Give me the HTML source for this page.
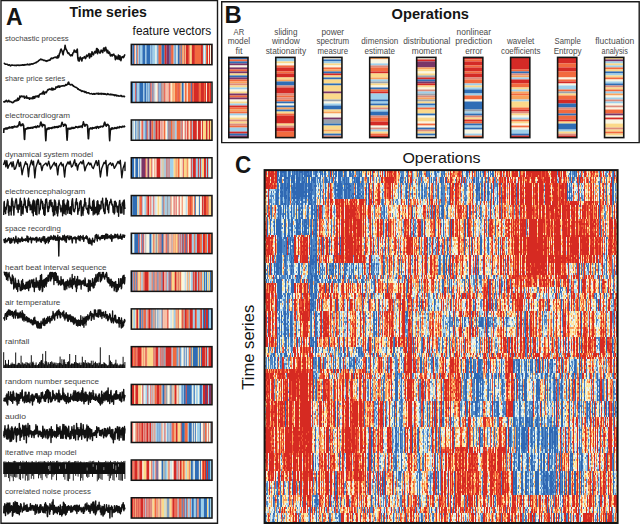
<!DOCTYPE html>
<html><head><meta charset="utf-8"><style>
html,body{margin:0;padding:0;background:#fff;width:640px;height:524px;overflow:hidden}
svg{display:block;font-family:"Liberation Sans", sans-serif}
</style></head><body>
<svg width="640" height="524" viewBox="0 0 640 524">
<rect x="0" y="0" width="640" height="524" fill="#fff"/><path d="M1 0.5H217.5V523.2H1Z" fill="none" stroke="#1a1a1a" stroke-width="1.4"/><path d="M221.7 1.8H639.2V142.6H221.7Z" fill="none" stroke="#1a1a1a" stroke-width="1.4"/><text x="6.0" y="24.8" font-size="24.2" font-weight="bold" fill="#151515" text-anchor="start" textLength="16.6" lengthAdjust="spacingAndGlyphs">A</text><text x="69.5" y="16.9" font-size="14.6" font-weight="bold" fill="#151515" text-anchor="start" textLength="77.4" lengthAdjust="spacingAndGlyphs">Time series</text><text x="132.6" y="34.8" font-size="12.2" font-weight="normal" fill="#151515" text-anchor="start" textLength="78.6" lengthAdjust="spacingAndGlyphs">feature vectors</text><text x="5.0" y="40.75" font-size="7.6" font-weight="normal" fill="#444444" text-anchor="start" textLength="63.75" lengthAdjust="spacingAndGlyphs">stochastic process</text><text x="5.0" y="81.2" font-size="7.6" font-weight="normal" fill="#444444" text-anchor="start" textLength="60.3" lengthAdjust="spacingAndGlyphs">share price series</text><text x="5.0" y="117.6" font-size="7.6" font-weight="normal" fill="#444444" text-anchor="start" textLength="65" lengthAdjust="spacingAndGlyphs">electrocardiogram</text><text x="5.0" y="157.4" font-size="7.6" font-weight="normal" fill="#444444" text-anchor="start" textLength="88" lengthAdjust="spacingAndGlyphs">dynamical system model</text><text x="5.0" y="193.8" font-size="7.6" font-weight="normal" fill="#444444" text-anchor="start" textLength="80.2" lengthAdjust="spacingAndGlyphs">electroencephalogram</text><text x="5.0" y="230.8" font-size="7.6" font-weight="normal" fill="#444444" text-anchor="start" textLength="55.8" lengthAdjust="spacingAndGlyphs">space recording</text><text x="5.0" y="269.6" font-size="7.6" font-weight="normal" fill="#444444" text-anchor="start" textLength="101.5" lengthAdjust="spacingAndGlyphs">heart beat interval sequence</text><text x="5.0" y="304.8" font-size="7.6" font-weight="normal" fill="#444444" text-anchor="start" textLength="55.4" lengthAdjust="spacingAndGlyphs">air temperature</text><text x="5.0" y="344.2" font-size="7.6" font-weight="normal" fill="#444444" text-anchor="start" textLength="24.4" lengthAdjust="spacingAndGlyphs">rainfall</text><text x="5.0" y="383.8" font-size="7.6" font-weight="normal" fill="#444444" text-anchor="start" textLength="94" lengthAdjust="spacingAndGlyphs">random number sequence</text><text x="5.0" y="419.3" font-size="7.6" font-weight="normal" fill="#444444" text-anchor="start" textLength="20.9" lengthAdjust="spacingAndGlyphs">audio</text><text x="5.0" y="455.3" font-size="7.6" font-weight="normal" fill="#444444" text-anchor="start" textLength="71.7" lengthAdjust="spacingAndGlyphs">iterative map model</text><text x="5.0" y="493.7" font-size="7.6" font-weight="normal" fill="#444444" text-anchor="start" textLength="85.9" lengthAdjust="spacingAndGlyphs">correlated noise process</text><rect x="131.30" y="44.40" width="1.06" height="20.30" fill="#f26a3e"/><rect x="132.31" y="44.40" width="2.07" height="20.30" fill="#2f6db5"/><rect x="134.33" y="44.40" width="1.06" height="20.30" fill="#f26a3e"/><rect x="135.34" y="44.40" width="1.06" height="20.30" fill="#faf6e2"/><rect x="136.34" y="44.40" width="1.06" height="20.30" fill="#2f6db5"/><rect x="137.35" y="44.40" width="1.06" height="20.30" fill="#f26a3e"/><rect x="138.36" y="44.40" width="1.06" height="20.30" fill="#9fd0ea"/><rect x="139.37" y="44.40" width="1.06" height="20.30" fill="#2f6db5"/><rect x="140.38" y="44.40" width="2.07" height="20.30" fill="#9fd0ea"/><rect x="142.40" y="44.40" width="3.08" height="20.30" fill="#2f6db5"/><rect x="145.42" y="44.40" width="1.06" height="20.30" fill="#9fd0ea"/><rect x="146.43" y="44.40" width="4.08" height="20.30" fill="#2f6db5"/><rect x="150.47" y="44.40" width="1.06" height="20.30" fill="#9fd0ea"/><rect x="151.47" y="44.40" width="1.06" height="20.30" fill="#2f6db5"/><rect x="152.48" y="44.40" width="3.08" height="20.30" fill="#9fd0ea"/><rect x="155.51" y="44.40" width="1.06" height="20.30" fill="#faf6e2"/><rect x="156.52" y="44.40" width="1.06" height="20.30" fill="#9fd0ea"/><rect x="157.53" y="44.40" width="1.06" height="20.30" fill="#2f6db5"/><rect x="158.54" y="44.40" width="3.08" height="20.30" fill="#f26a3e"/><rect x="161.56" y="44.40" width="3.08" height="20.30" fill="#2f6db5"/><rect x="164.59" y="44.40" width="2.07" height="20.30" fill="#d42a26"/><rect x="166.61" y="44.40" width="3.08" height="20.30" fill="#7a3567"/><rect x="169.63" y="44.40" width="1.06" height="20.30" fill="#2f6db5"/><rect x="170.64" y="44.40" width="1.06" height="20.30" fill="#d42a26"/><rect x="171.65" y="44.40" width="2.07" height="20.30" fill="#f26a3e"/><rect x="173.67" y="44.40" width="1.06" height="20.30" fill="#9fd0ea"/><rect x="174.68" y="44.40" width="1.06" height="20.30" fill="#2f6db5"/><rect x="175.68" y="44.40" width="1.06" height="20.30" fill="#9fd0ea"/><rect x="176.69" y="44.40" width="1.06" height="20.30" fill="#faf6e2"/><rect x="177.70" y="44.40" width="2.07" height="20.30" fill="#2f6db5"/><rect x="179.72" y="44.40" width="1.06" height="20.30" fill="#f26a3e"/><rect x="180.73" y="44.40" width="1.06" height="20.30" fill="#2f6db5"/><rect x="181.74" y="44.40" width="1.06" height="20.30" fill="#f26a3e"/><rect x="182.75" y="44.40" width="1.06" height="20.30" fill="#fbd98a"/><rect x="183.75" y="44.40" width="1.06" height="20.30" fill="#d42a26"/><rect x="184.76" y="44.40" width="1.06" height="20.30" fill="#fbd98a"/><rect x="185.77" y="44.40" width="3.08" height="20.30" fill="#d42a26"/><rect x="188.80" y="44.40" width="1.06" height="20.30" fill="#f26a3e"/><rect x="189.81" y="44.40" width="2.07" height="20.30" fill="#fbd98a"/><rect x="191.82" y="44.40" width="3.08" height="20.30" fill="#d42a26"/><rect x="194.85" y="44.40" width="6.10" height="20.30" fill="#f26a3e"/><rect x="200.90" y="44.40" width="2.07" height="20.30" fill="#d42a26"/><rect x="202.92" y="44.40" width="1.06" height="20.30" fill="#9fd0ea"/><rect x="203.93" y="44.40" width="1.06" height="20.30" fill="#faf6e2"/><rect x="204.94" y="44.40" width="1.06" height="20.30" fill="#9fd0ea"/><rect x="205.95" y="44.40" width="1.06" height="20.30" fill="#f26a3e"/><rect x="206.96" y="44.40" width="1.06" height="20.30" fill="#d42a26"/><rect x="207.96" y="44.40" width="1.06" height="20.30" fill="#faf6e2"/><rect x="208.97" y="44.40" width="1.06" height="20.30" fill="#d42a26"/><rect x="209.98" y="44.40" width="1.06" height="20.30" fill="#faf6e2"/><rect x="210.99" y="44.40" width="1.06" height="20.30" fill="#d42a26"/><rect x="131.30" y="44.40" width="80.70" height="20.30" fill="none" stroke="#151515" stroke-width="1.5"/><rect x="131.30" y="82.18" width="2.07" height="20.30" fill="#2f6db5"/><rect x="133.32" y="82.18" width="2.07" height="20.30" fill="#9fd0ea"/><rect x="135.34" y="82.18" width="1.06" height="20.30" fill="#d42a26"/><rect x="136.34" y="82.18" width="1.06" height="20.30" fill="#2f6db5"/><rect x="137.35" y="82.18" width="2.07" height="20.30" fill="#9fd0ea"/><rect x="139.37" y="82.18" width="4.08" height="20.30" fill="#2f6db5"/><rect x="143.41" y="82.18" width="1.06" height="20.30" fill="#9fd0ea"/><rect x="144.41" y="82.18" width="2.07" height="20.30" fill="#2f6db5"/><rect x="146.43" y="82.18" width="1.06" height="20.30" fill="#9fd0ea"/><rect x="147.44" y="82.18" width="1.06" height="20.30" fill="#2f6db5"/><rect x="148.45" y="82.18" width="1.06" height="20.30" fill="#9fd0ea"/><rect x="149.46" y="82.18" width="1.06" height="20.30" fill="#2f6db5"/><rect x="150.47" y="82.18" width="1.06" height="20.30" fill="#d42a26"/><rect x="151.47" y="82.18" width="1.06" height="20.30" fill="#dd8c7c"/><rect x="152.48" y="82.18" width="1.06" height="20.30" fill="#2f6db5"/><rect x="153.49" y="82.18" width="1.06" height="20.30" fill="#dd8c7c"/><rect x="154.50" y="82.18" width="1.06" height="20.30" fill="#9fd0ea"/><rect x="155.51" y="82.18" width="2.07" height="20.30" fill="#faf6e2"/><rect x="157.53" y="82.18" width="1.06" height="20.30" fill="#dd8c7c"/><rect x="158.54" y="82.18" width="1.06" height="20.30" fill="#2f6db5"/><rect x="159.54" y="82.18" width="1.06" height="20.30" fill="#9fd0ea"/><rect x="160.55" y="82.18" width="1.06" height="20.30" fill="#2f6db5"/><rect x="161.56" y="82.18" width="1.06" height="20.30" fill="#f26a3e"/><rect x="162.57" y="82.18" width="1.06" height="20.30" fill="#9aa3ad"/><rect x="163.58" y="82.18" width="1.06" height="20.30" fill="#f26a3e"/><rect x="164.59" y="82.18" width="1.06" height="20.30" fill="#d42a26"/><rect x="165.60" y="82.18" width="1.06" height="20.30" fill="#faf6e2"/><rect x="166.61" y="82.18" width="1.06" height="20.30" fill="#f26a3e"/><rect x="167.61" y="82.18" width="1.06" height="20.30" fill="#faf6e2"/><rect x="168.62" y="82.18" width="1.06" height="20.30" fill="#d42a26"/><rect x="169.63" y="82.18" width="1.06" height="20.30" fill="#f26a3e"/><rect x="170.64" y="82.18" width="1.06" height="20.30" fill="#faf6e2"/><rect x="171.65" y="82.18" width="1.06" height="20.30" fill="#fbd98a"/><rect x="172.66" y="82.18" width="1.06" height="20.30" fill="#f26a3e"/><rect x="173.67" y="82.18" width="1.06" height="20.30" fill="#fbd98a"/><rect x="174.68" y="82.18" width="3.08" height="20.30" fill="#f26a3e"/><rect x="177.70" y="82.18" width="1.06" height="20.30" fill="#d42a26"/><rect x="178.71" y="82.18" width="2.07" height="20.30" fill="#f26a3e"/><rect x="180.73" y="82.18" width="1.06" height="20.30" fill="#fbd98a"/><rect x="181.74" y="82.18" width="2.07" height="20.30" fill="#2f6db5"/><rect x="183.75" y="82.18" width="1.06" height="20.30" fill="#faf6e2"/><rect x="184.76" y="82.18" width="2.07" height="20.30" fill="#f26a3e"/><rect x="186.78" y="82.18" width="1.06" height="20.30" fill="#faf6e2"/><rect x="187.79" y="82.18" width="3.08" height="20.30" fill="#f26a3e"/><rect x="190.82" y="82.18" width="1.06" height="20.30" fill="#2f6db5"/><rect x="191.82" y="82.18" width="1.06" height="20.30" fill="#d42a26"/><rect x="192.83" y="82.18" width="1.06" height="20.30" fill="#f26a3e"/><rect x="193.84" y="82.18" width="5.09" height="20.30" fill="#d42a26"/><rect x="198.89" y="82.18" width="2.07" height="20.30" fill="#f26a3e"/><rect x="200.90" y="82.18" width="3.08" height="20.30" fill="#d42a26"/><rect x="203.93" y="82.18" width="1.06" height="20.30" fill="#f26a3e"/><rect x="204.94" y="82.18" width="1.06" height="20.30" fill="#d42a26"/><rect x="205.95" y="82.18" width="1.06" height="20.30" fill="#faf6e2"/><rect x="206.96" y="82.18" width="2.07" height="20.30" fill="#d42a26"/><rect x="208.97" y="82.18" width="1.06" height="20.30" fill="#f26a3e"/><rect x="209.98" y="82.18" width="1.06" height="20.30" fill="#d42a26"/><rect x="210.99" y="82.18" width="1.06" height="20.30" fill="#faf6e2"/><rect x="131.30" y="82.18" width="80.70" height="20.30" fill="none" stroke="#151515" stroke-width="1.5"/><rect x="131.30" y="119.96" width="1.06" height="20.30" fill="#9fd0ea"/><rect x="132.31" y="119.96" width="1.06" height="20.30" fill="#9aa3ad"/><rect x="133.32" y="119.96" width="1.06" height="20.30" fill="#9fd0ea"/><rect x="134.33" y="119.96" width="1.06" height="20.30" fill="#faf6e2"/><rect x="135.33" y="119.96" width="1.06" height="20.30" fill="#2f6db5"/><rect x="136.34" y="119.96" width="1.06" height="20.30" fill="#9fd0ea"/><rect x="137.35" y="119.96" width="2.07" height="20.30" fill="#9aa3ad"/><rect x="139.37" y="119.96" width="1.06" height="20.30" fill="#2f6db5"/><rect x="140.38" y="119.96" width="1.06" height="20.30" fill="#faf6e2"/><rect x="141.39" y="119.96" width="1.06" height="20.30" fill="#f26a3e"/><rect x="142.40" y="119.96" width="1.06" height="20.30" fill="#d42a26"/><rect x="143.40" y="119.96" width="2.07" height="20.30" fill="#9fd0ea"/><rect x="145.42" y="119.96" width="1.06" height="20.30" fill="#2f6db5"/><rect x="146.43" y="119.96" width="1.06" height="20.30" fill="#7a3567"/><rect x="147.44" y="119.96" width="1.06" height="20.30" fill="#f26a3e"/><rect x="148.45" y="119.96" width="1.06" height="20.30" fill="#9fd0ea"/><rect x="149.46" y="119.96" width="2.07" height="20.30" fill="#7a3567"/><rect x="151.47" y="119.96" width="2.07" height="20.30" fill="#f26a3e"/><rect x="153.49" y="119.96" width="2.07" height="20.30" fill="#9aa3ad"/><rect x="155.51" y="119.96" width="2.07" height="20.30" fill="#d42a26"/><rect x="157.53" y="119.96" width="1.06" height="20.30" fill="#f26a3e"/><rect x="158.54" y="119.96" width="2.07" height="20.30" fill="#d42a26"/><rect x="160.55" y="119.96" width="1.06" height="20.30" fill="#faf6e2"/><rect x="161.56" y="119.96" width="1.06" height="20.30" fill="#d42a26"/><rect x="162.57" y="119.96" width="1.06" height="20.30" fill="#faf6e2"/><rect x="163.58" y="119.96" width="2.07" height="20.30" fill="#f26a3e"/><rect x="165.60" y="119.96" width="2.07" height="20.30" fill="#faf6e2"/><rect x="167.61" y="119.96" width="1.06" height="20.30" fill="#2f6db5"/><rect x="168.62" y="119.96" width="1.06" height="20.30" fill="#f26a3e"/><rect x="169.63" y="119.96" width="1.06" height="20.30" fill="#2f6db5"/><rect x="170.64" y="119.96" width="2.07" height="20.30" fill="#f26a3e"/><rect x="172.66" y="119.96" width="1.06" height="20.30" fill="#9aa3ad"/><rect x="173.67" y="119.96" width="1.06" height="20.30" fill="#f26a3e"/><rect x="174.68" y="119.96" width="2.07" height="20.30" fill="#9fd0ea"/><rect x="176.69" y="119.96" width="4.08" height="20.30" fill="#f26a3e"/><rect x="180.73" y="119.96" width="1.06" height="20.30" fill="#9aa3ad"/><rect x="181.74" y="119.96" width="1.06" height="20.30" fill="#d42a26"/><rect x="182.75" y="119.96" width="2.07" height="20.30" fill="#faf6e2"/><rect x="184.76" y="119.96" width="1.06" height="20.30" fill="#d42a26"/><rect x="185.77" y="119.96" width="1.06" height="20.30" fill="#faf6e2"/><rect x="186.78" y="119.96" width="1.06" height="20.30" fill="#d42a26"/><rect x="187.79" y="119.96" width="1.06" height="20.30" fill="#f26a3e"/><rect x="188.80" y="119.96" width="1.06" height="20.30" fill="#faf6e2"/><rect x="189.81" y="119.96" width="1.06" height="20.30" fill="#f26a3e"/><rect x="190.82" y="119.96" width="1.06" height="20.30" fill="#d42a26"/><rect x="191.82" y="119.96" width="1.06" height="20.30" fill="#9fd0ea"/><rect x="192.83" y="119.96" width="4.08" height="20.30" fill="#d42a26"/><rect x="196.87" y="119.96" width="1.06" height="20.30" fill="#faf6e2"/><rect x="197.88" y="119.96" width="3.08" height="20.30" fill="#d42a26"/><rect x="200.90" y="119.96" width="1.06" height="20.30" fill="#faf6e2"/><rect x="201.91" y="119.96" width="1.06" height="20.30" fill="#d42a26"/><rect x="202.92" y="119.96" width="3.08" height="20.30" fill="#fbd98a"/><rect x="205.95" y="119.96" width="1.06" height="20.30" fill="#d42a26"/><rect x="206.96" y="119.96" width="1.06" height="20.30" fill="#dd8c7c"/><rect x="207.96" y="119.96" width="1.06" height="20.30" fill="#fbd98a"/><rect x="208.97" y="119.96" width="1.06" height="20.30" fill="#d42a26"/><rect x="209.98" y="119.96" width="2.07" height="20.30" fill="#fbd98a"/><rect x="131.30" y="119.96" width="80.70" height="20.30" fill="none" stroke="#151515" stroke-width="1.5"/><rect x="131.30" y="157.74" width="3.08" height="20.30" fill="#2f6db5"/><rect x="134.33" y="157.74" width="1.06" height="20.30" fill="#faf6e2"/><rect x="135.34" y="157.74" width="3.08" height="20.30" fill="#2f6db5"/><rect x="138.36" y="157.74" width="1.06" height="20.30" fill="#faf6e2"/><rect x="139.37" y="157.74" width="1.06" height="20.30" fill="#2f6db5"/><rect x="140.38" y="157.74" width="1.06" height="20.30" fill="#faf6e2"/><rect x="141.39" y="157.74" width="4.08" height="20.30" fill="#7a3567"/><rect x="145.42" y="157.74" width="1.06" height="20.30" fill="#d42a26"/><rect x="146.43" y="157.74" width="1.06" height="20.30" fill="#fbd98a"/><rect x="147.44" y="157.74" width="2.07" height="20.30" fill="#7a3567"/><rect x="149.46" y="157.74" width="2.07" height="20.30" fill="#fbd98a"/><rect x="151.47" y="157.74" width="1.06" height="20.30" fill="#d42a26"/><rect x="152.48" y="157.74" width="2.07" height="20.30" fill="#faf6e2"/><rect x="154.50" y="157.74" width="1.06" height="20.30" fill="#f26a3e"/><rect x="155.51" y="157.74" width="1.06" height="20.30" fill="#faf6e2"/><rect x="156.52" y="157.74" width="4.08" height="20.30" fill="#d42a26"/><rect x="160.55" y="157.74" width="1.06" height="20.30" fill="#faf6e2"/><rect x="161.56" y="157.74" width="1.06" height="20.30" fill="#9aa3ad"/><rect x="162.57" y="157.74" width="1.06" height="20.30" fill="#fbd98a"/><rect x="163.58" y="157.74" width="1.06" height="20.30" fill="#9aa3ad"/><rect x="164.59" y="157.74" width="1.06" height="20.30" fill="#9fd0ea"/><rect x="165.60" y="157.74" width="1.06" height="20.30" fill="#9aa3ad"/><rect x="166.61" y="157.74" width="1.06" height="20.30" fill="#d42a26"/><rect x="167.61" y="157.74" width="1.06" height="20.30" fill="#9fd0ea"/><rect x="168.62" y="157.74" width="1.06" height="20.30" fill="#d42a26"/><rect x="169.63" y="157.74" width="4.08" height="20.30" fill="#9fd0ea"/><rect x="173.67" y="157.74" width="2.07" height="20.30" fill="#fbd98a"/><rect x="175.68" y="157.74" width="1.06" height="20.30" fill="#f26a3e"/><rect x="176.69" y="157.74" width="1.06" height="20.30" fill="#fbd98a"/><rect x="177.70" y="157.74" width="2.07" height="20.30" fill="#f26a3e"/><rect x="179.72" y="157.74" width="1.06" height="20.30" fill="#faf6e2"/><rect x="180.73" y="157.74" width="1.06" height="20.30" fill="#fbd98a"/><rect x="181.74" y="157.74" width="1.06" height="20.30" fill="#faf6e2"/><rect x="182.75" y="157.74" width="1.06" height="20.30" fill="#d42a26"/><rect x="183.75" y="157.74" width="3.08" height="20.30" fill="#fbd98a"/><rect x="186.78" y="157.74" width="1.06" height="20.30" fill="#f26a3e"/><rect x="187.79" y="157.74" width="1.06" height="20.30" fill="#fbd98a"/><rect x="188.80" y="157.74" width="2.07" height="20.30" fill="#faf6e2"/><rect x="190.82" y="157.74" width="1.06" height="20.30" fill="#d42a26"/><rect x="191.82" y="157.74" width="1.06" height="20.30" fill="#9fd0ea"/><rect x="192.83" y="157.74" width="3.08" height="20.30" fill="#d42a26"/><rect x="195.86" y="157.74" width="2.07" height="20.30" fill="#9fd0ea"/><rect x="197.88" y="157.74" width="1.06" height="20.30" fill="#d42a26"/><rect x="198.89" y="157.74" width="1.06" height="20.30" fill="#9fd0ea"/><rect x="199.89" y="157.74" width="1.06" height="20.30" fill="#d42a26"/><rect x="200.90" y="157.74" width="1.06" height="20.30" fill="#9fd0ea"/><rect x="201.91" y="157.74" width="2.07" height="20.30" fill="#fbd98a"/><rect x="203.93" y="157.74" width="2.07" height="20.30" fill="#d42a26"/><rect x="205.95" y="157.74" width="1.06" height="20.30" fill="#9fd0ea"/><rect x="206.96" y="157.74" width="1.06" height="20.30" fill="#d42a26"/><rect x="207.96" y="157.74" width="1.06" height="20.30" fill="#9fd0ea"/><rect x="208.97" y="157.74" width="3.08" height="20.30" fill="#faf6e2"/><rect x="131.30" y="157.74" width="80.70" height="20.30" fill="none" stroke="#151515" stroke-width="1.5"/><rect x="131.30" y="195.52" width="1.06" height="20.30" fill="#fbd98a"/><rect x="132.31" y="195.52" width="5.09" height="20.30" fill="#2f6db5"/><rect x="137.35" y="195.52" width="1.06" height="20.30" fill="#fbd98a"/><rect x="138.36" y="195.52" width="1.06" height="20.30" fill="#9fd0ea"/><rect x="139.37" y="195.52" width="2.07" height="20.30" fill="#f26a3e"/><rect x="141.39" y="195.52" width="1.06" height="20.30" fill="#d42a26"/><rect x="142.40" y="195.52" width="1.06" height="20.30" fill="#9fd0ea"/><rect x="143.40" y="195.52" width="1.06" height="20.30" fill="#faf6e2"/><rect x="144.41" y="195.52" width="2.07" height="20.30" fill="#9fd0ea"/><rect x="146.43" y="195.52" width="1.06" height="20.30" fill="#f26a3e"/><rect x="147.44" y="195.52" width="2.07" height="20.30" fill="#d42a26"/><rect x="149.46" y="195.52" width="1.06" height="20.30" fill="#faf6e2"/><rect x="150.47" y="195.52" width="1.06" height="20.30" fill="#d42a26"/><rect x="151.47" y="195.52" width="1.06" height="20.30" fill="#faf6e2"/><rect x="152.48" y="195.52" width="1.06" height="20.30" fill="#9fd0ea"/><rect x="153.49" y="195.52" width="1.06" height="20.30" fill="#d42a26"/><rect x="154.50" y="195.52" width="1.06" height="20.30" fill="#faf6e2"/><rect x="155.51" y="195.52" width="1.06" height="20.30" fill="#9fd0ea"/><rect x="156.52" y="195.52" width="1.06" height="20.30" fill="#faf6e2"/><rect x="157.53" y="195.52" width="2.07" height="20.30" fill="#fbd98a"/><rect x="159.54" y="195.52" width="1.06" height="20.30" fill="#faf6e2"/><rect x="160.55" y="195.52" width="1.06" height="20.30" fill="#fbd98a"/><rect x="161.56" y="195.52" width="1.06" height="20.30" fill="#9fd0ea"/><rect x="162.57" y="195.52" width="1.06" height="20.30" fill="#2f6db5"/><rect x="163.58" y="195.52" width="1.06" height="20.30" fill="#f26a3e"/><rect x="164.59" y="195.52" width="2.07" height="20.30" fill="#9fd0ea"/><rect x="166.61" y="195.52" width="2.07" height="20.30" fill="#9aa3ad"/><rect x="168.62" y="195.52" width="1.06" height="20.30" fill="#9fd0ea"/><rect x="169.63" y="195.52" width="1.06" height="20.30" fill="#9aa3ad"/><rect x="170.64" y="195.52" width="1.06" height="20.30" fill="#f26a3e"/><rect x="171.65" y="195.52" width="2.07" height="20.30" fill="#faf6e2"/><rect x="173.67" y="195.52" width="1.06" height="20.30" fill="#d42a26"/><rect x="174.68" y="195.52" width="1.06" height="20.30" fill="#faf6e2"/><rect x="175.68" y="195.52" width="1.06" height="20.30" fill="#d42a26"/><rect x="176.69" y="195.52" width="2.07" height="20.30" fill="#faf6e2"/><rect x="178.71" y="195.52" width="1.06" height="20.30" fill="#d42a26"/><rect x="179.72" y="195.52" width="2.07" height="20.30" fill="#faf6e2"/><rect x="181.74" y="195.52" width="1.06" height="20.30" fill="#f26a3e"/><rect x="182.75" y="195.52" width="3.08" height="20.30" fill="#faf6e2"/><rect x="185.77" y="195.52" width="1.06" height="20.30" fill="#9fd0ea"/><rect x="186.78" y="195.52" width="1.06" height="20.30" fill="#faf6e2"/><rect x="187.79" y="195.52" width="2.07" height="20.30" fill="#f26a3e"/><rect x="189.81" y="195.52" width="1.06" height="20.30" fill="#d42a26"/><rect x="190.82" y="195.52" width="2.07" height="20.30" fill="#f26a3e"/><rect x="192.83" y="195.52" width="1.06" height="20.30" fill="#faf6e2"/><rect x="193.84" y="195.52" width="1.06" height="20.30" fill="#f26a3e"/><rect x="194.85" y="195.52" width="1.06" height="20.30" fill="#2f6db5"/><rect x="195.86" y="195.52" width="3.08" height="20.30" fill="#faf6e2"/><rect x="198.89" y="195.52" width="1.06" height="20.30" fill="#2f6db5"/><rect x="199.89" y="195.52" width="2.07" height="20.30" fill="#faf6e2"/><rect x="201.91" y="195.52" width="1.06" height="20.30" fill="#d42a26"/><rect x="202.92" y="195.52" width="1.06" height="20.30" fill="#dd8c7c"/><rect x="203.93" y="195.52" width="2.07" height="20.30" fill="#d42a26"/><rect x="205.95" y="195.52" width="2.07" height="20.30" fill="#f26a3e"/><rect x="207.96" y="195.52" width="1.06" height="20.30" fill="#dd8c7c"/><rect x="208.97" y="195.52" width="2.07" height="20.30" fill="#fbd98a"/><rect x="210.99" y="195.52" width="1.06" height="20.30" fill="#dd8c7c"/><rect x="131.30" y="195.52" width="80.70" height="20.30" fill="none" stroke="#151515" stroke-width="1.5"/><rect x="131.30" y="233.30" width="1.06" height="20.30" fill="#2f6db5"/><rect x="132.31" y="233.30" width="1.06" height="20.30" fill="#9fd0ea"/><rect x="133.32" y="233.30" width="1.06" height="20.30" fill="#faf6e2"/><rect x="134.33" y="233.30" width="4.08" height="20.30" fill="#2f6db5"/><rect x="138.36" y="233.30" width="1.06" height="20.30" fill="#d42a26"/><rect x="139.37" y="233.30" width="1.06" height="20.30" fill="#2f6db5"/><rect x="140.38" y="233.30" width="1.06" height="20.30" fill="#faf6e2"/><rect x="141.39" y="233.30" width="1.06" height="20.30" fill="#d42a26"/><rect x="142.40" y="233.30" width="1.06" height="20.30" fill="#2f6db5"/><rect x="143.40" y="233.30" width="1.06" height="20.30" fill="#d42a26"/><rect x="144.41" y="233.30" width="1.06" height="20.30" fill="#faf6e2"/><rect x="145.42" y="233.30" width="1.06" height="20.30" fill="#9aa3ad"/><rect x="146.43" y="233.30" width="3.08" height="20.30" fill="#faf6e2"/><rect x="149.46" y="233.30" width="2.07" height="20.30" fill="#2f6db5"/><rect x="151.47" y="233.30" width="1.06" height="20.30" fill="#9fd0ea"/><rect x="152.48" y="233.30" width="1.06" height="20.30" fill="#fbd98a"/><rect x="153.49" y="233.30" width="1.06" height="20.30" fill="#d42a26"/><rect x="154.50" y="233.30" width="1.06" height="20.30" fill="#fbd98a"/><rect x="155.51" y="233.30" width="2.07" height="20.30" fill="#9aa3ad"/><rect x="157.53" y="233.30" width="1.06" height="20.30" fill="#fbd98a"/><rect x="158.54" y="233.30" width="1.06" height="20.30" fill="#d42a26"/><rect x="159.54" y="233.30" width="1.06" height="20.30" fill="#9aa3ad"/><rect x="160.55" y="233.30" width="1.06" height="20.30" fill="#d42a26"/><rect x="161.56" y="233.30" width="2.07" height="20.30" fill="#2f6db5"/><rect x="163.58" y="233.30" width="1.06" height="20.30" fill="#f26a3e"/><rect x="164.59" y="233.30" width="1.06" height="20.30" fill="#faf6e2"/><rect x="165.60" y="233.30" width="1.06" height="20.30" fill="#d42a26"/><rect x="166.61" y="233.30" width="1.06" height="20.30" fill="#f26a3e"/><rect x="167.61" y="233.30" width="1.06" height="20.30" fill="#2f6db5"/><rect x="168.62" y="233.30" width="1.06" height="20.30" fill="#f26a3e"/><rect x="169.63" y="233.30" width="1.06" height="20.30" fill="#faf6e2"/><rect x="170.64" y="233.30" width="1.06" height="20.30" fill="#f26a3e"/><rect x="171.65" y="233.30" width="1.06" height="20.30" fill="#9fd0ea"/><rect x="172.66" y="233.30" width="1.06" height="20.30" fill="#f26a3e"/><rect x="173.67" y="233.30" width="1.06" height="20.30" fill="#fbd98a"/><rect x="174.68" y="233.30" width="1.06" height="20.30" fill="#f26a3e"/><rect x="175.68" y="233.30" width="2.07" height="20.30" fill="#fbd98a"/><rect x="177.70" y="233.30" width="1.06" height="20.30" fill="#d42a26"/><rect x="178.71" y="233.30" width="1.06" height="20.30" fill="#9fd0ea"/><rect x="179.72" y="233.30" width="1.06" height="20.30" fill="#d42a26"/><rect x="180.73" y="233.30" width="1.06" height="20.30" fill="#9fd0ea"/><rect x="181.74" y="233.30" width="1.06" height="20.30" fill="#d42a26"/><rect x="182.75" y="233.30" width="1.06" height="20.30" fill="#2f6db5"/><rect x="183.75" y="233.30" width="1.06" height="20.30" fill="#f26a3e"/><rect x="184.76" y="233.30" width="1.06" height="20.30" fill="#d42a26"/><rect x="185.77" y="233.30" width="1.06" height="20.30" fill="#2f6db5"/><rect x="186.78" y="233.30" width="1.06" height="20.30" fill="#d42a26"/><rect x="187.79" y="233.30" width="1.06" height="20.30" fill="#faf6e2"/><rect x="188.80" y="233.30" width="3.08" height="20.30" fill="#d42a26"/><rect x="191.82" y="233.30" width="2.07" height="20.30" fill="#9fd0ea"/><rect x="193.84" y="233.30" width="1.06" height="20.30" fill="#f26a3e"/><rect x="194.85" y="233.30" width="1.06" height="20.30" fill="#9aa3ad"/><rect x="195.86" y="233.30" width="1.06" height="20.30" fill="#9fd0ea"/><rect x="196.87" y="233.30" width="3.08" height="20.30" fill="#d42a26"/><rect x="199.89" y="233.30" width="2.07" height="20.30" fill="#f26a3e"/><rect x="201.91" y="233.30" width="1.06" height="20.30" fill="#9fd0ea"/><rect x="202.92" y="233.30" width="2.07" height="20.30" fill="#d42a26"/><rect x="204.94" y="233.30" width="2.07" height="20.30" fill="#f26a3e"/><rect x="206.96" y="233.30" width="1.06" height="20.30" fill="#9fd0ea"/><rect x="207.96" y="233.30" width="2.07" height="20.30" fill="#d42a26"/><rect x="209.98" y="233.30" width="1.06" height="20.30" fill="#f26a3e"/><rect x="210.99" y="233.30" width="1.06" height="20.30" fill="#dd8c7c"/><rect x="131.30" y="233.30" width="80.70" height="20.30" fill="none" stroke="#151515" stroke-width="1.5"/><rect x="131.30" y="271.08" width="1.06" height="20.30" fill="#f26a3e"/><rect x="132.31" y="271.08" width="1.06" height="20.30" fill="#2f6db5"/><rect x="133.32" y="271.08" width="1.06" height="20.30" fill="#f26a3e"/><rect x="134.33" y="271.08" width="1.06" height="20.30" fill="#2f6db5"/><rect x="135.33" y="271.08" width="1.06" height="20.30" fill="#f26a3e"/><rect x="136.34" y="271.08" width="1.06" height="20.30" fill="#2f6db5"/><rect x="137.35" y="271.08" width="1.06" height="20.30" fill="#f26a3e"/><rect x="138.36" y="271.08" width="2.07" height="20.30" fill="#fbd98a"/><rect x="140.38" y="271.08" width="1.06" height="20.30" fill="#f26a3e"/><rect x="141.39" y="271.08" width="1.06" height="20.30" fill="#9fd0ea"/><rect x="142.40" y="271.08" width="1.06" height="20.30" fill="#9aa3ad"/><rect x="143.40" y="271.08" width="1.06" height="20.30" fill="#f26a3e"/><rect x="144.41" y="271.08" width="4.08" height="20.30" fill="#d42a26"/><rect x="148.45" y="271.08" width="1.06" height="20.30" fill="#f26a3e"/><rect x="149.46" y="271.08" width="1.06" height="20.30" fill="#9fd0ea"/><rect x="150.47" y="271.08" width="1.06" height="20.30" fill="#9aa3ad"/><rect x="151.47" y="271.08" width="2.07" height="20.30" fill="#dd8c7c"/><rect x="153.49" y="271.08" width="1.06" height="20.30" fill="#2f6db5"/><rect x="154.50" y="271.08" width="1.06" height="20.30" fill="#f26a3e"/><rect x="155.51" y="271.08" width="2.07" height="20.30" fill="#dd8c7c"/><rect x="157.53" y="271.08" width="1.06" height="20.30" fill="#2f6db5"/><rect x="158.54" y="271.08" width="3.08" height="20.30" fill="#dd8c7c"/><rect x="161.56" y="271.08" width="1.06" height="20.30" fill="#2f6db5"/><rect x="162.57" y="271.08" width="2.07" height="20.30" fill="#d42a26"/><rect x="164.59" y="271.08" width="1.06" height="20.30" fill="#faf6e2"/><rect x="165.60" y="271.08" width="1.06" height="20.30" fill="#d42a26"/><rect x="166.61" y="271.08" width="2.07" height="20.30" fill="#9fd0ea"/><rect x="168.62" y="271.08" width="1.06" height="20.30" fill="#d42a26"/><rect x="169.63" y="271.08" width="1.06" height="20.30" fill="#2f6db5"/><rect x="170.64" y="271.08" width="1.06" height="20.30" fill="#d42a26"/><rect x="171.65" y="271.08" width="3.08" height="20.30" fill="#fbd98a"/><rect x="174.68" y="271.08" width="2.07" height="20.30" fill="#d42a26"/><rect x="176.69" y="271.08" width="1.06" height="20.30" fill="#fbd98a"/><rect x="177.70" y="271.08" width="1.06" height="20.30" fill="#d42a26"/><rect x="178.71" y="271.08" width="1.06" height="20.30" fill="#fbd98a"/><rect x="179.72" y="271.08" width="1.06" height="20.30" fill="#d42a26"/><rect x="180.73" y="271.08" width="1.06" height="20.30" fill="#fbd98a"/><rect x="181.74" y="271.08" width="3.08" height="20.30" fill="#faf6e2"/><rect x="184.76" y="271.08" width="1.06" height="20.30" fill="#9fd0ea"/><rect x="185.77" y="271.08" width="1.06" height="20.30" fill="#faf6e2"/><rect x="186.78" y="271.08" width="1.06" height="20.30" fill="#f9a35c"/><rect x="187.79" y="271.08" width="1.06" height="20.30" fill="#9fd0ea"/><rect x="188.80" y="271.08" width="1.06" height="20.30" fill="#f9a35c"/><rect x="189.81" y="271.08" width="1.06" height="20.30" fill="#faf6e2"/><rect x="190.82" y="271.08" width="2.07" height="20.30" fill="#9fd0ea"/><rect x="192.83" y="271.08" width="1.06" height="20.30" fill="#d42a26"/><rect x="193.84" y="271.08" width="1.06" height="20.30" fill="#dd8c7c"/><rect x="194.85" y="271.08" width="2.07" height="20.30" fill="#d42a26"/><rect x="196.87" y="271.08" width="1.06" height="20.30" fill="#9fd0ea"/><rect x="197.88" y="271.08" width="1.06" height="20.30" fill="#d42a26"/><rect x="198.89" y="271.08" width="2.07" height="20.30" fill="#dd8c7c"/><rect x="200.90" y="271.08" width="1.06" height="20.30" fill="#f26a3e"/><rect x="201.91" y="271.08" width="1.06" height="20.30" fill="#9fd0ea"/><rect x="202.92" y="271.08" width="1.06" height="20.30" fill="#fbd98a"/><rect x="203.93" y="271.08" width="1.06" height="20.30" fill="#2f6db5"/><rect x="204.94" y="271.08" width="1.06" height="20.30" fill="#9fd0ea"/><rect x="205.95" y="271.08" width="1.06" height="20.30" fill="#2f6db5"/><rect x="206.96" y="271.08" width="1.06" height="20.30" fill="#fbd98a"/><rect x="207.96" y="271.08" width="1.06" height="20.30" fill="#9fd0ea"/><rect x="208.97" y="271.08" width="1.06" height="20.30" fill="#fbd98a"/><rect x="209.98" y="271.08" width="1.06" height="20.30" fill="#2f6db5"/><rect x="210.99" y="271.08" width="1.06" height="20.30" fill="#fbd98a"/><rect x="131.30" y="271.08" width="80.70" height="20.30" fill="none" stroke="#151515" stroke-width="1.5"/><rect x="131.30" y="308.86" width="1.06" height="20.30" fill="#2f6db5"/><rect x="132.31" y="308.86" width="1.06" height="20.30" fill="#fbd98a"/><rect x="133.32" y="308.86" width="2.07" height="20.30" fill="#9fd0ea"/><rect x="135.34" y="308.86" width="1.06" height="20.30" fill="#fbd98a"/><rect x="136.34" y="308.86" width="2.07" height="20.30" fill="#d42a26"/><rect x="138.36" y="308.86" width="1.06" height="20.30" fill="#fbd98a"/><rect x="139.37" y="308.86" width="2.07" height="20.30" fill="#2f6db5"/><rect x="141.39" y="308.86" width="1.06" height="20.30" fill="#f26a3e"/><rect x="142.40" y="308.86" width="1.06" height="20.30" fill="#2f6db5"/><rect x="143.41" y="308.86" width="2.07" height="20.30" fill="#f26a3e"/><rect x="145.42" y="308.86" width="1.06" height="20.30" fill="#d42a26"/><rect x="146.43" y="308.86" width="1.06" height="20.30" fill="#9fd0ea"/><rect x="147.44" y="308.86" width="1.06" height="20.30" fill="#f26a3e"/><rect x="148.45" y="308.86" width="2.07" height="20.30" fill="#d42a26"/><rect x="150.47" y="308.86" width="1.06" height="20.30" fill="#f26a3e"/><rect x="151.47" y="308.86" width="1.06" height="20.30" fill="#2f6db5"/><rect x="152.48" y="308.86" width="1.06" height="20.30" fill="#9aa3ad"/><rect x="153.49" y="308.86" width="1.06" height="20.30" fill="#f26a3e"/><rect x="154.50" y="308.86" width="2.07" height="20.30" fill="#9aa3ad"/><rect x="156.52" y="308.86" width="1.06" height="20.30" fill="#faf6e2"/><rect x="157.53" y="308.86" width="1.06" height="20.30" fill="#2f6db5"/><rect x="158.54" y="308.86" width="1.06" height="20.30" fill="#faf6e2"/><rect x="159.54" y="308.86" width="1.06" height="20.30" fill="#9aa3ad"/><rect x="160.55" y="308.86" width="1.06" height="20.30" fill="#faf6e2"/><rect x="161.56" y="308.86" width="1.06" height="20.30" fill="#2f6db5"/><rect x="162.57" y="308.86" width="1.06" height="20.30" fill="#f26a3e"/><rect x="163.58" y="308.86" width="1.06" height="20.30" fill="#faf6e2"/><rect x="164.59" y="308.86" width="1.06" height="20.30" fill="#f26a3e"/><rect x="165.60" y="308.86" width="1.06" height="20.30" fill="#faf6e2"/><rect x="166.61" y="308.86" width="1.06" height="20.30" fill="#f26a3e"/><rect x="167.61" y="308.86" width="1.06" height="20.30" fill="#d42a26"/><rect x="168.62" y="308.86" width="2.07" height="20.30" fill="#faf6e2"/><rect x="170.64" y="308.86" width="1.06" height="20.30" fill="#9fd0ea"/><rect x="171.65" y="308.86" width="1.06" height="20.30" fill="#faf6e2"/><rect x="172.66" y="308.86" width="1.06" height="20.30" fill="#fbd98a"/><rect x="173.67" y="308.86" width="2.07" height="20.30" fill="#9fd0ea"/><rect x="175.68" y="308.86" width="1.06" height="20.30" fill="#f26a3e"/><rect x="176.69" y="308.86" width="1.06" height="20.30" fill="#fbd98a"/><rect x="177.70" y="308.86" width="1.06" height="20.30" fill="#d42a26"/><rect x="178.71" y="308.86" width="1.06" height="20.30" fill="#fbd98a"/><rect x="179.72" y="308.86" width="1.06" height="20.30" fill="#faf6e2"/><rect x="180.73" y="308.86" width="1.06" height="20.30" fill="#fbd98a"/><rect x="181.74" y="308.86" width="1.06" height="20.30" fill="#d42a26"/><rect x="182.75" y="308.86" width="1.06" height="20.30" fill="#f26a3e"/><rect x="183.75" y="308.86" width="1.06" height="20.30" fill="#9aa3ad"/><rect x="184.76" y="308.86" width="2.07" height="20.30" fill="#d42a26"/><rect x="186.78" y="308.86" width="2.07" height="20.30" fill="#f26a3e"/><rect x="188.80" y="308.86" width="1.06" height="20.30" fill="#9aa3ad"/><rect x="189.81" y="308.86" width="3.08" height="20.30" fill="#d42a26"/><rect x="192.83" y="308.86" width="2.07" height="20.30" fill="#9fd0ea"/><rect x="194.85" y="308.86" width="1.06" height="20.30" fill="#d42a26"/><rect x="195.86" y="308.86" width="1.06" height="20.30" fill="#f26a3e"/><rect x="196.87" y="308.86" width="3.08" height="20.30" fill="#9fd0ea"/><rect x="199.89" y="308.86" width="1.06" height="20.30" fill="#f26a3e"/><rect x="200.90" y="308.86" width="1.06" height="20.30" fill="#d42a26"/><rect x="201.91" y="308.86" width="1.06" height="20.30" fill="#9fd0ea"/><rect x="202.92" y="308.86" width="1.06" height="20.30" fill="#2f6db5"/><rect x="203.93" y="308.86" width="1.06" height="20.30" fill="#d42a26"/><rect x="204.94" y="308.86" width="1.06" height="20.30" fill="#2f6db5"/><rect x="205.95" y="308.86" width="2.07" height="20.30" fill="#d42a26"/><rect x="207.96" y="308.86" width="1.06" height="20.30" fill="#2f6db5"/><rect x="208.97" y="308.86" width="2.07" height="20.30" fill="#9fd0ea"/><rect x="210.99" y="308.86" width="1.06" height="20.30" fill="#2f6db5"/><rect x="131.30" y="308.86" width="80.70" height="20.30" fill="none" stroke="#151515" stroke-width="1.5"/><rect x="131.30" y="346.64" width="2.07" height="20.30" fill="#d42a26"/><rect x="133.32" y="346.64" width="2.07" height="20.30" fill="#f26a3e"/><rect x="135.34" y="346.64" width="1.06" height="20.30" fill="#d42a26"/><rect x="136.34" y="346.64" width="1.06" height="20.30" fill="#f26a3e"/><rect x="137.35" y="346.64" width="4.08" height="20.30" fill="#d42a26"/><rect x="141.39" y="346.64" width="1.06" height="20.30" fill="#f26a3e"/><rect x="142.40" y="346.64" width="1.06" height="20.30" fill="#fbd98a"/><rect x="143.41" y="346.64" width="1.06" height="20.30" fill="#f26a3e"/><rect x="144.41" y="346.64" width="1.06" height="20.30" fill="#fbd98a"/><rect x="145.42" y="346.64" width="1.06" height="20.30" fill="#d42a26"/><rect x="146.43" y="346.64" width="1.06" height="20.30" fill="#f26a3e"/><rect x="147.44" y="346.64" width="6.10" height="20.30" fill="#fbd98a"/><rect x="153.49" y="346.64" width="1.06" height="20.30" fill="#d42a26"/><rect x="154.50" y="346.64" width="1.06" height="20.30" fill="#dd8c7c"/><rect x="155.51" y="346.64" width="3.08" height="20.30" fill="#d42a26"/><rect x="158.54" y="346.64" width="1.06" height="20.30" fill="#9fd0ea"/><rect x="159.54" y="346.64" width="1.06" height="20.30" fill="#dd8c7c"/><rect x="160.55" y="346.64" width="1.06" height="20.30" fill="#d42a26"/><rect x="161.56" y="346.64" width="1.06" height="20.30" fill="#9aa3ad"/><rect x="162.57" y="346.64" width="1.06" height="20.30" fill="#d42a26"/><rect x="163.58" y="346.64" width="2.07" height="20.30" fill="#9aa3ad"/><rect x="165.60" y="346.64" width="6.10" height="20.30" fill="#d42a26"/><rect x="171.65" y="346.64" width="1.06" height="20.30" fill="#9fd0ea"/><rect x="172.66" y="346.64" width="4.08" height="20.30" fill="#f26a3e"/><rect x="176.69" y="346.64" width="1.06" height="20.30" fill="#2f6db5"/><rect x="177.70" y="346.64" width="1.06" height="20.30" fill="#9fd0ea"/><rect x="178.71" y="346.64" width="1.06" height="20.30" fill="#f26a3e"/><rect x="179.72" y="346.64" width="1.06" height="20.30" fill="#2f6db5"/><rect x="180.73" y="346.64" width="1.06" height="20.30" fill="#9fd0ea"/><rect x="181.74" y="346.64" width="2.07" height="20.30" fill="#faf6e2"/><rect x="183.75" y="346.64" width="1.06" height="20.30" fill="#2f6db5"/><rect x="184.76" y="346.64" width="1.06" height="20.30" fill="#faf6e2"/><rect x="185.77" y="346.64" width="1.06" height="20.30" fill="#2f6db5"/><rect x="186.78" y="346.64" width="1.06" height="20.30" fill="#faf6e2"/><rect x="187.79" y="346.64" width="1.06" height="20.30" fill="#9fd0ea"/><rect x="188.80" y="346.64" width="2.07" height="20.30" fill="#f26a3e"/><rect x="190.82" y="346.64" width="1.06" height="20.30" fill="#2f6db5"/><rect x="191.82" y="346.64" width="1.06" height="20.30" fill="#fbd98a"/><rect x="192.83" y="346.64" width="5.09" height="20.30" fill="#2f6db5"/><rect x="197.88" y="346.64" width="1.06" height="20.30" fill="#fbd98a"/><rect x="198.89" y="346.64" width="1.06" height="20.30" fill="#2f6db5"/><rect x="199.89" y="346.64" width="1.06" height="20.30" fill="#fbd98a"/><rect x="200.90" y="346.64" width="1.06" height="20.30" fill="#2f6db5"/><rect x="201.91" y="346.64" width="3.08" height="20.30" fill="#d42a26"/><rect x="204.94" y="346.64" width="1.06" height="20.30" fill="#dd8c7c"/><rect x="205.95" y="346.64" width="1.06" height="20.30" fill="#d42a26"/><rect x="206.96" y="346.64" width="1.06" height="20.30" fill="#9fd0ea"/><rect x="207.96" y="346.64" width="1.06" height="20.30" fill="#dd8c7c"/><rect x="208.97" y="346.64" width="3.08" height="20.30" fill="#d42a26"/><rect x="131.30" y="346.64" width="80.70" height="20.30" fill="none" stroke="#151515" stroke-width="1.5"/><rect x="131.30" y="384.42" width="3.08" height="20.30" fill="#d42a26"/><rect x="134.33" y="384.42" width="1.06" height="20.30" fill="#fbd98a"/><rect x="135.34" y="384.42" width="3.08" height="20.30" fill="#d42a26"/><rect x="138.36" y="384.42" width="3.08" height="20.30" fill="#fbd98a"/><rect x="141.39" y="384.42" width="1.06" height="20.30" fill="#faf6e2"/><rect x="142.40" y="384.42" width="1.06" height="20.30" fill="#d42a26"/><rect x="143.41" y="384.42" width="1.06" height="20.30" fill="#9fd0ea"/><rect x="144.41" y="384.42" width="1.06" height="20.30" fill="#faf6e2"/><rect x="145.42" y="384.42" width="2.07" height="20.30" fill="#9fd0ea"/><rect x="147.44" y="384.42" width="1.06" height="20.30" fill="#d42a26"/><rect x="148.45" y="384.42" width="1.06" height="20.30" fill="#9fd0ea"/><rect x="149.46" y="384.42" width="1.06" height="20.30" fill="#faf6e2"/><rect x="150.47" y="384.42" width="1.06" height="20.30" fill="#d42a26"/><rect x="151.47" y="384.42" width="1.06" height="20.30" fill="#9fd0ea"/><rect x="152.48" y="384.42" width="1.06" height="20.30" fill="#f26a3e"/><rect x="153.49" y="384.42" width="1.06" height="20.30" fill="#9fd0ea"/><rect x="154.50" y="384.42" width="2.07" height="20.30" fill="#f26a3e"/><rect x="156.52" y="384.42" width="3.08" height="20.30" fill="#d42a26"/><rect x="159.54" y="384.42" width="2.07" height="20.30" fill="#f26a3e"/><rect x="161.56" y="384.42" width="1.06" height="20.30" fill="#9aa3ad"/><rect x="162.57" y="384.42" width="2.07" height="20.30" fill="#2f6db5"/><rect x="164.59" y="384.42" width="1.06" height="20.30" fill="#f26a3e"/><rect x="165.60" y="384.42" width="2.07" height="20.30" fill="#9aa3ad"/><rect x="167.61" y="384.42" width="2.07" height="20.30" fill="#faf6e2"/><rect x="169.63" y="384.42" width="1.06" height="20.30" fill="#9aa3ad"/><rect x="170.64" y="384.42" width="1.06" height="20.30" fill="#2f6db5"/><rect x="171.65" y="384.42" width="1.06" height="20.30" fill="#f9a35c"/><rect x="172.66" y="384.42" width="1.06" height="20.30" fill="#9fd0ea"/><rect x="173.67" y="384.42" width="1.06" height="20.30" fill="#f9a35c"/><rect x="174.68" y="384.42" width="2.07" height="20.30" fill="#d42a26"/><rect x="176.69" y="384.42" width="1.06" height="20.30" fill="#faf6e2"/><rect x="177.70" y="384.42" width="1.06" height="20.30" fill="#f9a35c"/><rect x="178.71" y="384.42" width="1.06" height="20.30" fill="#9fd0ea"/><rect x="179.72" y="384.42" width="1.06" height="20.30" fill="#faf6e2"/><rect x="180.73" y="384.42" width="1.06" height="20.30" fill="#9fd0ea"/><rect x="181.74" y="384.42" width="1.06" height="20.30" fill="#2f6db5"/><rect x="182.75" y="384.42" width="1.06" height="20.30" fill="#9fd0ea"/><rect x="183.75" y="384.42" width="2.07" height="20.30" fill="#2f6db5"/><rect x="185.77" y="384.42" width="1.06" height="20.30" fill="#d42a26"/><rect x="186.78" y="384.42" width="5.09" height="20.30" fill="#2f6db5"/><rect x="191.82" y="384.42" width="1.06" height="20.30" fill="#faf6e2"/><rect x="192.83" y="384.42" width="1.06" height="20.30" fill="#9fd0ea"/><rect x="193.84" y="384.42" width="1.06" height="20.30" fill="#2f6db5"/><rect x="194.85" y="384.42" width="1.06" height="20.30" fill="#faf6e2"/><rect x="195.86" y="384.42" width="2.07" height="20.30" fill="#9fd0ea"/><rect x="197.88" y="384.42" width="1.06" height="20.30" fill="#faf6e2"/><rect x="198.89" y="384.42" width="1.06" height="20.30" fill="#9fd0ea"/><rect x="199.89" y="384.42" width="2.07" height="20.30" fill="#2f6db5"/><rect x="201.91" y="384.42" width="1.06" height="20.30" fill="#9fd0ea"/><rect x="202.92" y="384.42" width="2.07" height="20.30" fill="#d42a26"/><rect x="204.94" y="384.42" width="2.07" height="20.30" fill="#7a3567"/><rect x="206.96" y="384.42" width="1.06" height="20.30" fill="#d42a26"/><rect x="207.96" y="384.42" width="1.06" height="20.30" fill="#9fd0ea"/><rect x="208.97" y="384.42" width="2.07" height="20.30" fill="#7a3567"/><rect x="210.99" y="384.42" width="1.06" height="20.30" fill="#f26a3e"/><rect x="131.30" y="384.42" width="80.70" height="20.30" fill="none" stroke="#151515" stroke-width="1.5"/><rect x="131.30" y="422.20" width="1.06" height="20.30" fill="#faf6e2"/><rect x="132.31" y="422.20" width="1.06" height="20.30" fill="#d42a26"/><rect x="133.32" y="422.20" width="2.07" height="20.30" fill="#faf6e2"/><rect x="135.34" y="422.20" width="1.06" height="20.30" fill="#dd8c7c"/><rect x="136.34" y="422.20" width="1.06" height="20.30" fill="#f26a3e"/><rect x="137.35" y="422.20" width="1.06" height="20.30" fill="#d42a26"/><rect x="138.36" y="422.20" width="1.06" height="20.30" fill="#dd8c7c"/><rect x="139.37" y="422.20" width="1.06" height="20.30" fill="#d42a26"/><rect x="140.38" y="422.20" width="1.06" height="20.30" fill="#f26a3e"/><rect x="141.39" y="422.20" width="2.07" height="20.30" fill="#d42a26"/><rect x="143.40" y="422.20" width="1.06" height="20.30" fill="#dd8c7c"/><rect x="144.41" y="422.20" width="1.06" height="20.30" fill="#d42a26"/><rect x="145.42" y="422.20" width="1.06" height="20.30" fill="#dd8c7c"/><rect x="146.43" y="422.20" width="2.07" height="20.30" fill="#d42a26"/><rect x="148.45" y="422.20" width="1.06" height="20.30" fill="#dd8c7c"/><rect x="149.46" y="422.20" width="2.07" height="20.30" fill="#d42a26"/><rect x="151.47" y="422.20" width="1.06" height="20.30" fill="#9fd0ea"/><rect x="152.48" y="422.20" width="1.06" height="20.30" fill="#f26a3e"/><rect x="153.49" y="422.20" width="1.06" height="20.30" fill="#9fd0ea"/><rect x="154.50" y="422.20" width="1.06" height="20.30" fill="#f26a3e"/><rect x="155.51" y="422.20" width="2.07" height="20.30" fill="#9fd0ea"/><rect x="157.53" y="422.20" width="1.06" height="20.30" fill="#2f6db5"/><rect x="158.54" y="422.20" width="1.06" height="20.30" fill="#9fd0ea"/><rect x="159.54" y="422.20" width="1.06" height="20.30" fill="#2f6db5"/><rect x="160.55" y="422.20" width="1.06" height="20.30" fill="#9fd0ea"/><rect x="161.56" y="422.20" width="1.06" height="20.30" fill="#f26a3e"/><rect x="162.57" y="422.20" width="1.06" height="20.30" fill="#faf6e2"/><rect x="163.58" y="422.20" width="1.06" height="20.30" fill="#9fd0ea"/><rect x="164.59" y="422.20" width="1.06" height="20.30" fill="#d42a26"/><rect x="165.60" y="422.20" width="1.06" height="20.30" fill="#faf6e2"/><rect x="166.61" y="422.20" width="1.06" height="20.30" fill="#9fd0ea"/><rect x="167.61" y="422.20" width="1.06" height="20.30" fill="#2f6db5"/><rect x="168.62" y="422.20" width="1.06" height="20.30" fill="#faf6e2"/><rect x="169.63" y="422.20" width="1.06" height="20.30" fill="#2f6db5"/><rect x="170.64" y="422.20" width="1.06" height="20.30" fill="#9fd0ea"/><rect x="171.65" y="422.20" width="1.06" height="20.30" fill="#d42a26"/><rect x="172.66" y="422.20" width="2.07" height="20.30" fill="#f26a3e"/><rect x="174.68" y="422.20" width="1.06" height="20.30" fill="#fbd98a"/><rect x="175.68" y="422.20" width="2.07" height="20.30" fill="#d42a26"/><rect x="177.70" y="422.20" width="3.08" height="20.30" fill="#fbd98a"/><rect x="180.73" y="422.20" width="1.06" height="20.30" fill="#d42a26"/><rect x="181.74" y="422.20" width="3.08" height="20.30" fill="#2f6db5"/><rect x="184.76" y="422.20" width="3.08" height="20.30" fill="#f26a3e"/><rect x="187.79" y="422.20" width="1.06" height="20.30" fill="#9fd0ea"/><rect x="188.80" y="422.20" width="3.08" height="20.30" fill="#2f6db5"/><rect x="191.82" y="422.20" width="1.06" height="20.30" fill="#faf6e2"/><rect x="192.83" y="422.20" width="1.06" height="20.30" fill="#2f6db5"/><rect x="193.84" y="422.20" width="1.06" height="20.30" fill="#faf6e2"/><rect x="194.85" y="422.20" width="1.06" height="20.30" fill="#2f6db5"/><rect x="195.86" y="422.20" width="1.06" height="20.30" fill="#faf6e2"/><rect x="196.87" y="422.20" width="3.08" height="20.30" fill="#9fd0ea"/><rect x="199.89" y="422.20" width="1.06" height="20.30" fill="#2f6db5"/><rect x="200.90" y="422.20" width="2.07" height="20.30" fill="#faf6e2"/><rect x="202.92" y="422.20" width="1.06" height="20.30" fill="#dd8c7c"/><rect x="203.93" y="422.20" width="1.06" height="20.30" fill="#9aa3ad"/><rect x="204.94" y="422.20" width="1.06" height="20.30" fill="#f26a3e"/><rect x="205.95" y="422.20" width="1.06" height="20.30" fill="#dd8c7c"/><rect x="206.96" y="422.20" width="1.06" height="20.30" fill="#faf6e2"/><rect x="207.96" y="422.20" width="1.06" height="20.30" fill="#dd8c7c"/><rect x="208.97" y="422.20" width="1.06" height="20.30" fill="#faf6e2"/><rect x="209.98" y="422.20" width="1.06" height="20.30" fill="#9aa3ad"/><rect x="210.99" y="422.20" width="1.06" height="20.30" fill="#dd8c7c"/><rect x="131.30" y="422.20" width="80.70" height="20.30" fill="none" stroke="#151515" stroke-width="1.5"/><rect x="131.30" y="459.98" width="1.06" height="20.30" fill="#dd8c7c"/><rect x="132.31" y="459.98" width="1.06" height="20.30" fill="#d42a26"/><rect x="133.32" y="459.98" width="1.06" height="20.30" fill="#f26a3e"/><rect x="134.33" y="459.98" width="3.08" height="20.30" fill="#d42a26"/><rect x="137.35" y="459.98" width="1.06" height="20.30" fill="#f26a3e"/><rect x="138.36" y="459.98" width="1.06" height="20.30" fill="#dd8c7c"/><rect x="139.37" y="459.98" width="3.08" height="20.30" fill="#d42a26"/><rect x="142.40" y="459.98" width="1.06" height="20.30" fill="#faf6e2"/><rect x="143.40" y="459.98" width="3.08" height="20.30" fill="#fbd98a"/><rect x="146.43" y="459.98" width="3.08" height="20.30" fill="#d42a26"/><rect x="149.46" y="459.98" width="1.06" height="20.30" fill="#faf6e2"/><rect x="150.47" y="459.98" width="1.06" height="20.30" fill="#fbd98a"/><rect x="151.47" y="459.98" width="1.06" height="20.30" fill="#d42a26"/><rect x="152.48" y="459.98" width="1.06" height="20.30" fill="#9fd0ea"/><rect x="153.49" y="459.98" width="1.06" height="20.30" fill="#2f6db5"/><rect x="154.50" y="459.98" width="1.06" height="20.30" fill="#faf6e2"/><rect x="155.51" y="459.98" width="1.06" height="20.30" fill="#d42a26"/><rect x="156.52" y="459.98" width="1.06" height="20.30" fill="#2f6db5"/><rect x="157.53" y="459.98" width="1.06" height="20.30" fill="#7a3567"/><rect x="158.54" y="459.98" width="3.08" height="20.30" fill="#faf6e2"/><rect x="161.56" y="459.98" width="2.07" height="20.30" fill="#2f6db5"/><rect x="163.58" y="459.98" width="1.06" height="20.30" fill="#fbd98a"/><rect x="164.59" y="459.98" width="1.06" height="20.30" fill="#2f6db5"/><rect x="165.60" y="459.98" width="2.07" height="20.30" fill="#9fd0ea"/><rect x="167.61" y="459.98" width="1.06" height="20.30" fill="#fbd98a"/><rect x="168.62" y="459.98" width="1.06" height="20.30" fill="#d42a26"/><rect x="169.63" y="459.98" width="1.06" height="20.30" fill="#faf6e2"/><rect x="170.64" y="459.98" width="1.06" height="20.30" fill="#9fd0ea"/><rect x="171.65" y="459.98" width="2.07" height="20.30" fill="#faf6e2"/><rect x="173.67" y="459.98" width="3.08" height="20.30" fill="#d42a26"/><rect x="176.69" y="459.98" width="1.06" height="20.30" fill="#9fd0ea"/><rect x="177.70" y="459.98" width="1.06" height="20.30" fill="#d42a26"/><rect x="178.71" y="459.98" width="1.06" height="20.30" fill="#faf6e2"/><rect x="179.72" y="459.98" width="2.07" height="20.30" fill="#d42a26"/><rect x="181.74" y="459.98" width="1.06" height="20.30" fill="#fbd98a"/><rect x="182.75" y="459.98" width="2.07" height="20.30" fill="#f26a3e"/><rect x="184.76" y="459.98" width="1.06" height="20.30" fill="#fbd98a"/><rect x="185.77" y="459.98" width="1.06" height="20.30" fill="#9fd0ea"/><rect x="186.78" y="459.98" width="2.07" height="20.30" fill="#fbd98a"/><rect x="188.80" y="459.98" width="1.06" height="20.30" fill="#f26a3e"/><rect x="189.81" y="459.98" width="1.06" height="20.30" fill="#fbd98a"/><rect x="190.82" y="459.98" width="2.07" height="20.30" fill="#2f6db5"/><rect x="192.83" y="459.98" width="1.06" height="20.30" fill="#9fd0ea"/><rect x="193.84" y="459.98" width="1.06" height="20.30" fill="#faf6e2"/><rect x="194.85" y="459.98" width="4.08" height="20.30" fill="#2f6db5"/><rect x="198.89" y="459.98" width="1.06" height="20.30" fill="#faf6e2"/><rect x="199.89" y="459.98" width="1.06" height="20.30" fill="#2f6db5"/><rect x="200.90" y="459.98" width="1.06" height="20.30" fill="#faf6e2"/><rect x="201.91" y="459.98" width="1.06" height="20.30" fill="#f26a3e"/><rect x="202.92" y="459.98" width="1.06" height="20.30" fill="#d42a26"/><rect x="203.93" y="459.98" width="1.06" height="20.30" fill="#f26a3e"/><rect x="204.94" y="459.98" width="1.06" height="20.30" fill="#d42a26"/><rect x="205.95" y="459.98" width="1.06" height="20.30" fill="#2f6db5"/><rect x="206.96" y="459.98" width="1.06" height="20.30" fill="#d42a26"/><rect x="207.96" y="459.98" width="2.07" height="20.30" fill="#2f6db5"/><rect x="209.98" y="459.98" width="2.07" height="20.30" fill="#9fd0ea"/><rect x="131.30" y="459.98" width="80.70" height="20.30" fill="none" stroke="#151515" stroke-width="1.5"/><rect x="131.30" y="497.76" width="2.07" height="20.30" fill="#d42a26"/><rect x="133.32" y="497.76" width="1.06" height="20.30" fill="#f26a3e"/><rect x="134.33" y="497.76" width="1.06" height="20.30" fill="#d42a26"/><rect x="135.34" y="497.76" width="1.06" height="20.30" fill="#f9a35c"/><rect x="136.34" y="497.76" width="1.06" height="20.30" fill="#d42a26"/><rect x="137.35" y="497.76" width="1.06" height="20.30" fill="#f26a3e"/><rect x="138.36" y="497.76" width="1.06" height="20.30" fill="#d42a26"/><rect x="139.37" y="497.76" width="1.06" height="20.30" fill="#f26a3e"/><rect x="140.38" y="497.76" width="3.08" height="20.30" fill="#d42a26"/><rect x="143.40" y="497.76" width="1.06" height="20.30" fill="#dd8c7c"/><rect x="144.41" y="497.76" width="1.06" height="20.30" fill="#d42a26"/><rect x="145.42" y="497.76" width="1.06" height="20.30" fill="#9fd0ea"/><rect x="146.43" y="497.76" width="1.06" height="20.30" fill="#d42a26"/><rect x="147.44" y="497.76" width="2.07" height="20.30" fill="#dd8c7c"/><rect x="149.46" y="497.76" width="1.06" height="20.30" fill="#d42a26"/><rect x="150.47" y="497.76" width="2.07" height="20.30" fill="#dd8c7c"/><rect x="152.48" y="497.76" width="2.07" height="20.30" fill="#fbd98a"/><rect x="154.50" y="497.76" width="2.07" height="20.30" fill="#f26a3e"/><rect x="156.52" y="497.76" width="1.06" height="20.30" fill="#dd8c7c"/><rect x="157.53" y="497.76" width="1.06" height="20.30" fill="#f26a3e"/><rect x="158.54" y="497.76" width="1.06" height="20.30" fill="#fbd98a"/><rect x="159.54" y="497.76" width="2.07" height="20.30" fill="#dd8c7c"/><rect x="161.56" y="497.76" width="3.08" height="20.30" fill="#fbd98a"/><rect x="164.59" y="497.76" width="1.06" height="20.30" fill="#9fd0ea"/><rect x="165.60" y="497.76" width="1.06" height="20.30" fill="#fbd98a"/><rect x="166.61" y="497.76" width="1.06" height="20.30" fill="#9aa3ad"/><rect x="167.61" y="497.76" width="1.06" height="20.30" fill="#2f6db5"/><rect x="168.62" y="497.76" width="1.06" height="20.30" fill="#9aa3ad"/><rect x="169.63" y="497.76" width="2.07" height="20.30" fill="#fbd98a"/><rect x="171.65" y="497.76" width="1.06" height="20.30" fill="#f26a3e"/><rect x="172.66" y="497.76" width="2.07" height="20.30" fill="#d42a26"/><rect x="174.68" y="497.76" width="1.06" height="20.30" fill="#f26a3e"/><rect x="175.68" y="497.76" width="1.06" height="20.30" fill="#d42a26"/><rect x="176.69" y="497.76" width="1.06" height="20.30" fill="#f26a3e"/><rect x="177.70" y="497.76" width="1.06" height="20.30" fill="#9fd0ea"/><rect x="178.71" y="497.76" width="1.06" height="20.30" fill="#d42a26"/><rect x="179.72" y="497.76" width="2.07" height="20.30" fill="#f26a3e"/><rect x="181.74" y="497.76" width="1.06" height="20.30" fill="#2f6db5"/><rect x="182.75" y="497.76" width="1.06" height="20.30" fill="#f26a3e"/><rect x="183.75" y="497.76" width="1.06" height="20.30" fill="#7a3567"/><rect x="184.76" y="497.76" width="1.06" height="20.30" fill="#9fd0ea"/><rect x="185.77" y="497.76" width="1.06" height="20.30" fill="#2f6db5"/><rect x="186.78" y="497.76" width="1.06" height="20.30" fill="#f26a3e"/><rect x="187.79" y="497.76" width="2.07" height="20.30" fill="#9fd0ea"/><rect x="189.81" y="497.76" width="1.06" height="20.30" fill="#f26a3e"/><rect x="190.82" y="497.76" width="1.06" height="20.30" fill="#9fd0ea"/><rect x="191.82" y="497.76" width="2.07" height="20.30" fill="#2f6db5"/><rect x="193.84" y="497.76" width="2.07" height="20.30" fill="#9fd0ea"/><rect x="195.86" y="497.76" width="1.06" height="20.30" fill="#2f6db5"/><rect x="196.87" y="497.76" width="2.07" height="20.30" fill="#dd8c7c"/><rect x="198.89" y="497.76" width="2.07" height="20.30" fill="#2f6db5"/><rect x="200.90" y="497.76" width="3.08" height="20.30" fill="#9fd0ea"/><rect x="203.93" y="497.76" width="3.08" height="20.30" fill="#2f6db5"/><rect x="206.96" y="497.76" width="1.06" height="20.30" fill="#fbd98a"/><rect x="207.96" y="497.76" width="1.06" height="20.30" fill="#9fd0ea"/><rect x="208.97" y="497.76" width="1.06" height="20.30" fill="#2f6db5"/><rect x="209.98" y="497.76" width="2.07" height="20.30" fill="#9fd0ea"/><rect x="131.30" y="497.76" width="80.70" height="20.30" fill="none" stroke="#151515" stroke-width="1.5"/><path d="M3.7 63.2 4.2 63.3 4.7 63.7 5.2 64.0 5.7 64.3 6.2 64.2 6.7 64.2 7.3 64.3 7.8 64.8 8.3 65.2 8.8 65.0 9.3 64.8 9.8 65.1 10.3 65.8 10.8 65.4 11.3 65.0 11.8 65.4 12.3 65.1 12.8 65.3 13.3 65.3 13.9 65.2 14.4 65.5 14.9 65.4 15.4 65.3 15.9 65.5 16.4 65.6 16.9 65.0 17.4 65.3 17.9 65.2 18.4 65.4 18.9 65.1 19.4 65.4 19.9 65.4 20.4 65.3 21.0 65.1 21.5 65.2 22.0 65.0 22.5 64.9 23.0 65.2 23.5 64.8 24.0 65.3 24.5 65.1 25.0 64.5 25.5 64.9 26.0 64.6 26.5 64.8 27.0 64.7 27.6 64.2 28.1 64.6 28.6 64.5 29.1 64.8 29.6 64.2 30.1 64.6 30.6 64.1 31.1 64.1 31.6 63.8 32.1 64.2 32.6 63.8 33.1 64.0 33.6 63.5 34.2 63.3 34.7 63.2 35.2 62.7 35.7 62.6 36.2 62.7 36.7 62.1 37.2 61.9 37.7 61.5 38.2 61.2 38.7 60.6 39.2 60.3 39.7 60.0 40.2 59.6 40.7 59.2 41.3 59.7 41.8 59.4 42.3 59.6 42.8 59.7 43.3 60.4 43.8 60.2 44.3 60.2 44.8 60.3 45.3 61.0 45.8 60.7 46.3 60.7 46.8 61.4 47.3 60.5 47.9 60.6 48.4 60.5 48.9 60.0 49.4 60.0 49.9 60.3 50.4 59.2 50.9 58.6 51.4 58.1 51.9 58.6 52.4 58.3 52.9 58.4 53.4 57.8 53.9 57.7 54.5 57.3 55.0 57.3 55.5 57.5 56.0 57.0 56.5 57.2 57.0 58.2 57.5 57.1 58.0 55.5 58.5 57.6 59.0 56.1 59.5 53.3 60.0 52.9 60.5 50.4 61.1 49.0 61.6 50.2 62.1 51.1 62.6 53.2 63.1 54.8 63.6 51.5 64.1 50.1 64.6 49.4 65.1 45.3 65.6 48.2 66.1 49.2 66.6 50.1 67.1 51.3 67.6 52.7 68.2 53.5 68.7 52.9 69.2 53.9 69.7 55.0 70.2 54.9 70.7 55.9 71.2 55.4 71.7 54.8 72.2 55.7 72.7 53.7 73.2 52.5 73.7 52.5 74.2 50.1 74.8 50.6 75.3 51.8 75.8 51.4 76.3 52.4 76.8 50.3 77.3 49.2 77.8 58.1 78.3 60.7 78.8 58.0 79.3 61.0 79.8 59.3 80.3 57.0 80.8 58.8 81.4 58.6 81.9 61.0 82.4 57.8 82.9 58.2 83.4 57.9 83.9 57.5 84.4 56.6 84.9 57.8 85.4 58.6 85.9 57.8 86.4 55.6 86.9 55.0 87.4 56.4 88.0 55.2 88.5 55.1 89.0 53.6 89.5 58.0 90.0 56.5 90.5 54.0 91.0 56.2 91.5 56.5 92.0 51.7 92.5 53.8 93.0 53.8 93.5 54.8 94.0 53.0 94.5 52.0 95.1 51.4 95.6 53.0 96.1 52.5 96.6 48.5 97.1 48.5 97.6 53.6 98.1 49.5 98.6 50.6 99.1 51.8 99.6 52.7 100.1 53.1 100.6 52.0 101.1 50.1 101.7 51.5 102.2 50.9 102.7 52.6 103.2 49.9 103.7 48.0 104.2 48.0 104.7 51.0 105.2 48.9 105.7 47.3 106.2 49.7 106.7 50.8 107.2 52.7 107.7 50.3 108.3 52.9 108.8 53.4 109.3 52.0 109.8 53.0 110.3 55.7 110.8 55.9 111.3 55.1 111.8 54.7 112.3 56.0 112.8 54.6 113.3 54.9 113.8 54.2 114.3 55.6 114.8 55.7 115.4 59.6 115.9 56.1 116.4 58.2 116.9 58.6 117.4 57.0 117.9 59.0 118.4 55.1 118.9 58.2 119.4 59.5 119.9 55.7 120.4 57.6 120.9 60.6 121.4 58.4 122.0 56.8 122.5 57.2 123.0 56.5 123.5 57.6 124.0 56.7 124.5 55.3 125.0 54.4" fill="none" stroke="#111" stroke-width="1.6" stroke-linejoin="round"/><path d="M3.7 101.0 4.2 102.1 4.7 101.4 5.2 101.7 5.7 101.1 6.2 100.3 6.7 100.8 7.3 101.9 7.8 101.6 8.3 100.9 8.8 100.4 9.3 101.7 9.8 101.5 10.3 101.5 10.8 101.6 11.3 102.1 11.8 102.2 12.3 102.7 12.8 102.4 13.3 102.5 13.9 101.9 14.4 100.8 14.9 100.8 15.4 101.0 15.9 100.2 16.4 100.6 16.9 100.8 17.4 99.1 17.9 98.2 18.4 100.2 18.9 99.1 19.4 99.0 19.9 96.0 20.4 97.2 21.0 96.6 21.5 96.1 22.0 96.1 22.5 96.6 23.0 96.6 23.5 96.6 24.0 96.1 24.5 98.1 25.0 97.3 25.5 97.5 26.0 97.7 26.5 96.0 27.0 98.3 27.6 97.8 28.1 98.0 28.6 98.4 29.1 97.8 29.6 99.3 30.1 98.3 30.6 98.2 31.1 98.0 31.6 98.6 32.1 98.8 32.6 97.6 33.1 96.7 33.6 98.4 34.2 96.6 34.7 98.1 35.2 97.0 35.7 96.3 36.2 96.1 36.7 96.7 37.2 96.8 37.7 95.8 38.2 96.5 38.7 97.1 39.2 95.2 39.7 94.3 40.2 94.2 40.7 93.7 41.3 93.9 41.8 93.5 42.3 92.8 42.8 93.9 43.3 91.2 43.8 91.9 44.3 94.1 44.8 93.0 45.3 92.3 45.8 92.0 46.3 92.6 46.8 91.4 47.3 90.7 47.9 89.5 48.4 90.0 48.9 89.2 49.4 89.1 49.9 89.0 50.4 89.4 50.9 89.0 51.4 89.8 51.9 88.0 52.4 88.7 52.9 90.1 53.4 88.6 53.9 89.4 54.5 89.2 55.0 89.2 55.5 88.6 56.0 86.9 56.5 87.6 57.0 87.4 57.5 86.4 58.0 87.1 58.5 86.4 59.0 85.9 59.5 87.2 60.0 86.9 60.5 86.3 61.1 85.9 61.6 86.1 62.1 86.0 62.6 85.8 63.1 85.9 63.6 85.5 64.1 85.9 64.6 85.9 65.1 85.6 65.6 84.6 66.1 84.5 66.6 85.1 67.1 84.5 67.6 84.4 68.2 82.4 68.7 82.1 69.2 84.2 69.7 84.1 70.2 84.9 70.7 84.7 71.2 84.6 71.7 84.8 72.2 84.6 72.7 85.7 73.2 85.5 73.7 86.2 74.2 86.4 74.8 86.8 75.3 87.3 75.8 87.2 76.3 87.5 76.8 87.7 77.3 88.2 77.8 89.2 78.3 88.8 78.8 89.6 79.3 89.8 79.8 90.1 80.3 90.5 80.8 90.2 81.4 90.9 81.9 91.5 82.4 90.9 82.9 91.3 83.4 91.2 83.9 91.7 84.4 91.4 84.9 92.4 85.4 91.9 85.9 91.7 86.4 92.9 86.9 92.8 87.4 92.8 88.0 93.0 88.5 92.8 89.0 93.0 89.5 93.5 90.0 93.7 90.5 93.8 91.0 93.8 91.5 93.6 92.0 93.7 92.5 94.2 93.0 94.3 93.5 93.7 94.0 93.6 94.5 94.2 95.1 94.0 95.6 94.0 96.1 93.4 96.6 93.7 97.1 93.6 97.6 93.9 98.1 93.2 98.6 94.2 99.1 93.9 99.6 93.9 100.1 93.4 100.6 93.8 101.1 94.3 101.7 93.3 102.2 93.9 102.7 94.0 103.2 93.6 103.7 94.1 104.2 93.7 104.7 94.2 105.2 94.0 105.7 93.9 106.2 94.6 106.7 94.2 107.2 94.5 107.7 93.7 108.3 94.0 108.8 94.5 109.3 94.6 109.8 94.4 110.3 94.7 110.8 94.2 111.3 94.7 111.8 94.3 112.3 94.9 112.8 94.6 113.3 94.7 113.8 95.0 114.3 95.6 114.8 94.8 115.4 95.0 115.9 95.6 116.4 95.2 116.9 96.0 117.4 95.5 117.9 95.6 118.4 95.7 118.9 96.2 119.4 96.0 119.9 96.0 120.4 96.0 120.9 95.4 121.4 95.7 122.0 96.6 122.5 96.4 123.0 96.4 123.5 96.5 124.0 96.2 124.5 96.6 125.0 96.2" fill="none" stroke="#111" stroke-width="1.6" stroke-linejoin="round"/><path d="M3.7 133.0 3.9 128.7 4.2 128.8 4.4 129.0 4.7 128.6 4.9 128.9 5.2 128.8 5.4 128.7 5.6 129.0 5.9 128.0 6.1 127.9 6.4 128.7 6.6 128.7 6.9 129.1 7.1 128.6 7.3 128.5 7.6 127.9 7.8 128.4 8.1 128.4 8.3 127.7 8.6 127.7 8.8 127.9 9.0 128.0 9.3 126.9 9.5 127.9 9.8 127.9 10.0 127.7 10.3 127.8 10.5 127.8 10.7 127.3 11.0 127.7 11.2 127.4 11.5 127.1 11.7 127.5 12.0 127.9 12.2 126.8 12.5 126.7 12.7 126.7 12.9 127.9 13.2 127.1 13.4 127.1 13.7 126.8 13.9 126.7 14.2 126.3 14.4 127.0 14.6 127.0 14.9 126.2 15.1 126.4 15.4 126.5 15.6 126.7 15.9 126.7 16.1 127.0 16.3 127.0 16.6 126.9 16.8 126.9 17.1 126.0 17.3 126.2 17.6 126.7 17.8 126.4 18.0 126.3 18.3 125.5 18.5 125.0 18.8 125.0 19.0 123.9 19.3 122.8 19.5 121.9 19.7 122.1 20.0 123.6 20.2 124.6 20.5 125.6 20.7 125.8 21.0 125.7 21.2 125.0 21.4 125.5 21.7 125.4 21.9 124.4 22.2 124.6 22.4 124.5 22.7 124.4 22.9 123.9 23.1 124.9 23.4 125.6 23.6 125.2 23.9 130.0 24.1 133.3 24.4 139.1 24.6 139.5 24.8 135.4 25.1 131.3 25.3 128.7 25.6 128.8 25.8 128.7 26.1 128.7 26.3 128.7 26.6 128.7 26.8 129.1 27.0 128.1 27.3 128.6 27.5 128.2 27.8 128.0 28.0 127.5 28.3 128.5 28.5 127.9 28.7 128.0 29.0 128.4 29.2 127.8 29.5 128.1 29.7 128.0 30.0 128.3 30.2 128.3 30.4 127.6 30.7 128.2 30.9 127.8 31.2 127.8 31.4 127.7 31.7 128.0 31.9 127.2 32.1 127.7 32.4 128.0 32.6 127.4 32.9 128.2 33.1 127.2 33.4 127.4 33.6 127.2 33.8 127.1 34.1 126.8 34.3 127.0 34.6 127.1 34.8 126.8 35.1 127.4 35.3 127.5 35.5 126.4 35.8 127.2 36.0 126.9 36.3 126.9 36.5 127.6 36.8 127.2 37.0 126.8 37.2 126.7 37.5 125.8 37.7 126.8 38.0 126.2 38.2 126.5 38.5 126.4 38.7 126.7 38.9 127.0 39.2 126.6 39.4 126.7 39.7 126.1 39.9 125.5 40.2 124.7 40.4 123.0 40.6 123.3 40.9 122.0 41.1 122.6 41.4 124.4 41.6 125.3 41.9 125.0 42.1 125.8 42.4 126.7 42.6 125.3 42.8 124.3 43.1 124.5 43.3 125.3 43.6 124.7 43.8 124.8 44.1 125.1 44.3 125.1 44.5 125.1 44.8 125.0 45.0 126.0 45.3 131.5 45.5 136.0 45.8 140.8 46.0 138.0 46.2 133.9 46.5 129.9 46.7 129.1 47.0 129.1 47.2 128.3 47.5 128.8 47.7 129.3 47.9 128.9 48.2 128.3 48.4 128.3 48.7 127.8 48.9 128.2 49.2 129.0 49.4 128.3 49.6 128.0 49.9 128.1 50.1 128.2 50.4 128.1 50.6 128.0 50.9 127.8 51.1 128.3 51.3 128.5 51.6 127.7 51.8 127.7 52.1 128.3 52.3 127.3 52.6 127.6 52.8 127.6 53.0 127.7 53.3 127.5 53.5 127.3 53.8 127.6 54.0 127.1 54.3 126.8 54.5 126.7 54.7 127.6 55.0 126.7 55.2 127.4 55.5 127.5 55.7 127.5 56.0 127.1 56.2 126.9 56.4 127.1 56.7 126.8 56.9 126.5 57.2 127.3 57.4 126.5 57.7 127.4 57.9 126.9 58.2 126.6 58.4 126.8 58.6 127.1 58.9 126.1 59.1 126.2 59.4 126.1 59.6 126.5 59.9 126.5 60.1 126.4 60.3 126.1 60.6 126.1 60.8 126.6 61.1 126.3 61.3 125.0 61.6 123.6 61.8 123.4 62.0 122.3 62.3 122.7 62.5 123.9 62.8 124.3 63.0 124.5 63.3 125.2 63.5 126.3 63.7 125.5 64.0 125.4 64.2 124.8 64.5 124.3 64.7 124.6 65.0 125.1 65.2 124.7 65.4 124.4 65.7 124.9 65.9 125.1 66.2 125.7 66.4 129.7 66.7 134.2 66.9 137.7 67.1 140.1 67.4 136.4 67.6 132.4 67.9 128.3 68.1 128.9 68.4 128.8 68.6 128.4 68.8 128.9 69.1 128.6 69.3 128.3 69.6 128.8 69.8 128.4 70.1 129.1 70.3 128.6 70.5 128.4 70.8 128.1 71.0 128.2 71.3 128.6 71.5 128.0 71.8 128.5 72.0 127.4 72.3 128.2 72.5 128.3 72.7 128.1 73.0 128.0 73.2 128.3 73.5 127.6 73.7 127.5 74.0 127.8 74.2 128.2 74.4 127.8 74.7 127.6 74.9 127.7 75.2 127.7 75.4 127.1 75.7 126.5 75.9 127.1 76.1 126.8 76.4 127.1 76.6 126.9 76.9 126.9 77.1 127.3 77.4 127.2 77.6 127.1 77.8 127.6 78.1 126.8 78.3 126.8 78.6 127.4 78.8 126.5 79.1 126.3 79.3 127.2 79.5 126.8 79.8 126.9 80.0 126.9 80.3 126.9 80.5 126.4 80.8 126.5 81.0 126.1 81.2 126.5 81.5 126.5 81.7 126.2 82.0 126.5 82.2 127.5 82.5 125.2 82.7 124.9 82.9 124.1 83.2 123.2 83.4 121.9 83.7 123.3 83.9 123.9 84.2 124.3 84.4 125.0 84.6 126.0 84.9 126.1 85.1 125.7 85.4 125.9 85.6 124.7 85.9 124.9 86.1 124.4 86.3 124.8 86.6 124.7 86.8 124.7 87.1 124.7 87.3 125.2 87.6 125.9 87.8 131.4 88.1 135.3 88.3 138.8 88.5 138.7 88.8 134.9 89.0 130.9 89.3 128.9 89.5 129.1 89.8 128.9 90.0 128.5 90.2 128.0 90.5 128.6 90.7 128.0 91.0 128.5 91.2 128.6 91.5 128.0 91.7 128.4 91.9 128.3 92.2 129.0 92.4 128.4 92.7 127.6 92.9 128.3 93.2 128.3 93.4 128.0 93.6 127.9 93.9 128.2 94.1 128.2 94.4 128.0 94.6 127.5 94.9 127.7 95.1 127.2 95.3 127.2 95.6 127.5 95.8 127.2 96.1 127.4 96.3 128.4 96.6 127.6 96.8 127.1 97.0 126.6 97.3 127.0 97.5 126.8 97.8 126.5 98.0 127.4 98.3 127.0 98.5 127.2 98.7 128.1 99.0 127.1 99.2 127.0 99.5 127.0 99.7 126.8 100.0 126.5 100.2 126.7 100.4 127.1 100.7 126.6 100.9 126.2 101.2 126.2 101.4 126.2 101.7 126.5 101.9 126.6 102.1 126.6 102.4 126.8 102.6 126.3 102.9 126.6 103.1 126.4 103.4 126.4 103.6 125.4 103.9 125.6 104.1 123.7 104.3 122.9 104.6 122.7 104.8 122.2 105.1 123.7 105.3 123.9 105.6 124.3 105.8 125.4 106.0 125.8 106.3 126.1 106.5 125.8 106.8 125.2 107.0 124.5 107.3 124.6 107.5 124.9 107.7 124.3 108.0 124.4 108.2 125.2 108.5 125.5 108.7 125.5 109.0 125.8 109.2 131.7 109.4 137.0 109.7 140.7 109.9 136.8 110.2 132.9 110.4 129.1 110.7 129.4 110.9 129.0 111.1 128.3 111.4 129.4 111.6 129.1 111.9 128.3 112.1 127.7 112.4 128.9 112.6 128.3 112.8 128.4 113.1 128.2 113.3 128.8 113.6 128.8 113.8 128.5 114.1 128.2 114.3 128.3 114.5 128.3 114.8 127.5 115.0 128.5 115.3 127.9 115.5 128.0 115.8 127.9 116.0 128.2 116.2 128.2 116.5 128.5 116.7 127.6 117.0 127.4 117.2 127.7 117.5 127.4 117.7 127.8 118.0 127.2 118.2 127.5 118.4 127.7 118.7 127.7 118.9 127.4 119.2 127.8 119.4 127.7 119.7 126.6 119.9 127.3 120.1 127.1 120.4 126.9 120.6 126.8 120.9 127.0 121.1 127.0 121.4 127.0 121.6 127.3 121.8 127.1 122.1 126.5 122.3 126.4 122.6 126.9 122.8 126.3 123.1 126.6 123.3 126.7 123.5 126.8 123.8 126.6 124.0 126.9 124.3 126.2 124.5 126.5 124.8 126.0 125.0 125.8" fill="none" stroke="#111" stroke-width="1.6" stroke-linejoin="round"/><path d="M3.5 165.0 5.0 160.5 5.9 166.9 6.8 160.6 7.9 168.3 8.8 165.7 11.1 162.2 12.1 166.8 13.1 161.6 14.4 169.3 15.4 168.7 18.1 159.6 19.3 166.6 20.5 162.1 22.1 174.7 23.3 168.4 25.6 161.7 26.4 164.2 27.3 163.9 28.5 176.7 29.3 168.1 31.5 160.1 32.5 164.8 33.5 161.2 34.8 177.9 35.8 167.6 38.3 160.0 39.4 164.3 40.5 163.2 41.9 170.6 43.0 165.8 46.0 163.1 47.3 165.9 48.7 161.1 50.5 169.0 51.8 166.7 54.3 162.3 55.3 165.8 56.3 163.4 57.7 174.8 58.7 166.3 61.1 162.4 62.1 165.8 63.2 164.0 64.6 177.0 65.6 166.9 68.0 161.9 69.1 164.3 70.1 161.1 71.5 167.0 72.6 165.9 74.7 159.7 75.5 165.7 76.4 163.4 77.5 170.0 78.4 165.2 80.9 161.7 82.1 163.9 83.3 160.3 84.9 170.8 86.1 166.7 88.7 162.4 89.7 164.8 90.8 163.2 92.2 167.3 93.3 168.6 96.2 160.6 97.4 165.5 98.7 160.5 100.4 177.0 101.7 168.4 104.1 162.3 105.0 163.7 105.9 160.4 107.1 175.9 108.0 165.5 110.5 162.8 111.7 165.5 112.8 163.3 114.3 168.4 115.5 166.3 118.1 161.4 119.2 163.8 120.3 160.3 121.8 177.8 123.0 168.6 125.0 162.9 125.0 163.8 125.0 162.3 125.0 170.6 125.0 165.8" fill="none" stroke="#111" stroke-width="1.4" stroke-linejoin="round"/><path d="M3.7 214.9 4.0 203.0 4.3 201.5 4.5 207.0 4.8 211.5 5.1 207.4 5.4 209.9 5.6 213.6 5.9 207.2 6.2 209.6 6.5 206.5 6.7 206.0 7.0 203.8 7.3 202.3 7.6 199.6 7.8 202.0 8.1 201.4 8.4 212.7 8.7 207.4 8.9 215.3 9.2 205.9 9.5 211.2 9.8 211.0 10.1 210.6 10.3 210.0 10.6 206.9 10.9 206.3 11.2 215.0 11.4 203.5 11.7 199.8 12.0 198.3 12.3 203.9 12.5 205.8 12.8 201.3 13.1 207.0 13.4 210.5 13.6 210.8 13.9 215.1 14.2 206.5 14.5 207.1 14.8 207.4 15.0 204.4 15.3 202.4 15.6 200.3 15.9 202.3 16.1 198.8 16.4 199.3 16.7 201.7 17.0 209.1 17.2 205.5 17.5 206.2 17.8 205.1 18.1 212.5 18.3 211.3 18.6 205.2 18.9 205.5 19.2 209.3 19.4 204.1 19.7 206.2 20.0 199.7 20.3 198.3 20.6 202.5 20.8 201.6 21.1 215.4 21.4 201.2 21.7 205.1 21.9 211.5 22.2 213.0 22.5 206.9 22.8 211.0 23.0 214.0 23.3 208.5 23.6 204.3 23.9 205.4 24.1 204.8 24.4 198.3 24.7 202.6 25.0 200.0 25.3 201.8 25.5 207.8 25.8 207.2 26.1 206.5 26.4 209.2 26.6 211.2 26.9 210.4 27.2 212.4 27.5 206.5 27.7 207.5 28.0 199.9 28.3 205.2 28.6 198.3 28.8 201.0 29.1 201.2 29.4 205.9 29.7 201.9 29.9 205.3 30.2 209.9 30.5 208.3 30.8 204.9 31.1 208.5 31.3 208.3 31.6 209.4 31.9 208.3 32.2 212.8 32.4 203.8 32.7 203.6 33.0 200.7 33.3 215.8 33.5 200.0 33.8 206.7 34.1 200.7 34.4 202.6 34.6 204.0 34.9 211.2 35.2 209.6 35.5 209.0 35.8 214.4 36.0 212.0 36.3 200.9 36.6 208.1 36.9 214.9 37.1 204.3 37.4 199.3 37.7 203.8 38.0 204.2 38.2 199.4 38.5 200.9 38.8 204.8 39.1 213.8 39.3 211.6 39.6 209.9 39.9 209.2 40.2 209.8 40.4 207.5 40.7 203.4 41.0 199.3 41.3 201.0 41.6 202.7 41.8 201.3 42.1 202.2 42.4 201.4 42.7 208.8 42.9 203.1 43.2 207.5 43.5 207.5 43.8 214.3 44.0 207.6 44.3 211.6 44.6 215.4 44.9 204.4 45.1 214.7 45.4 203.2 45.7 199.5 46.0 200.2 46.3 202.2 46.5 198.9 46.8 201.6 47.1 204.3 47.4 208.1 47.6 206.5 47.9 211.7 48.2 207.0 48.5 211.4 48.7 208.7 49.0 208.8 49.3 202.1 49.6 207.3 49.8 200.4 50.1 204.9 50.4 201.4 50.7 200.5 50.9 200.0 51.2 204.9 51.5 206.3 51.8 205.5 52.1 202.6 52.3 207.1 52.6 211.2 52.9 211.9 53.2 209.5 53.4 215.8 53.7 206.7 54.0 205.3 54.3 205.3 54.5 199.9 54.8 214.8 55.1 200.4 55.4 204.0 55.6 202.0 55.9 205.9 56.2 210.1 56.5 208.8 56.8 212.1 57.0 213.3 57.3 206.7 57.6 215.9 57.9 209.4 58.1 212.9 58.4 203.6 58.7 203.2 59.0 200.2 59.2 202.0 59.5 204.1 59.8 205.1 60.1 205.0 60.3 209.3 60.6 208.7 60.9 211.9 61.2 210.0 61.4 208.2 61.7 209.2 62.0 207.4 62.3 205.5 62.6 215.8 62.8 200.7 63.1 201.8 63.4 202.3 63.7 212.9 63.9 199.8 64.2 213.8 64.5 205.1 64.8 204.1 65.0 209.0 65.3 210.9 65.6 205.7 65.9 214.6 66.1 210.4 66.4 209.3 66.7 205.8 67.0 202.8 67.3 205.8 67.5 199.9 67.8 213.3 68.1 201.6 68.4 201.2 68.6 207.6 68.9 207.7 69.2 209.8 69.5 208.1 69.7 213.4 70.0 211.9 70.3 206.9 70.6 213.4 70.8 206.6 71.1 208.4 71.4 214.6 71.7 204.7 71.9 201.4 72.2 200.0 72.5 198.6 72.8 202.8 73.1 205.1 73.3 209.4 73.6 211.0 73.9 209.7 74.2 211.4 74.4 211.9 74.7 210.5 75.0 208.6 75.3 208.5 75.5 202.1 75.8 202.1 76.1 200.8 76.4 198.7 76.6 204.1 76.9 202.1 77.2 205.1 77.5 202.8 77.8 214.3 78.0 212.6 78.3 209.9 78.6 210.5 78.9 210.7 79.1 208.2 79.4 208.7 79.7 203.7 80.0 201.8 80.2 202.1 80.5 204.3 80.8 200.4 81.1 201.2 81.3 215.8 81.6 206.0 81.9 208.8 82.2 207.3 82.4 212.7 82.7 210.8 83.0 215.3 83.3 207.1 83.6 210.5 83.8 206.7 84.1 204.3 84.4 206.1 84.7 198.6 84.9 198.4 85.2 202.8 85.5 203.6 85.8 202.6 86.0 207.4 86.3 208.5 86.6 208.0 86.9 209.3 87.1 208.5 87.4 209.0 87.7 212.8 88.0 208.5 88.3 205.4 88.5 214.1 88.8 213.9 89.1 203.1 89.4 198.3 89.6 202.5 89.9 205.9 90.2 206.0 90.5 208.3 90.7 206.9 91.0 208.6 91.3 208.7 91.6 210.4 91.8 208.5 92.1 207.2 92.4 207.4 92.7 201.1 92.9 206.9 93.2 214.9 93.5 200.7 93.8 200.1 94.1 202.2 94.3 205.3 94.6 214.1 94.9 207.3 95.2 211.8 95.4 210.9 95.7 211.3 96.0 212.8 96.3 206.9 96.5 208.0 96.8 206.3 97.1 201.4 97.4 214.8 97.6 200.8 97.9 201.0 98.2 205.4 98.5 206.0 98.8 214.0 99.0 204.8 99.3 211.4 99.6 210.1 99.9 209.6 100.1 208.9 100.4 205.1 100.7 207.7 101.0 208.7 101.2 201.3 101.5 202.8 101.8 202.8 102.1 201.4 102.3 202.8 102.6 198.3 102.9 205.1 103.2 208.2 103.4 203.9 103.7 211.1 104.0 209.9 104.3 211.8 104.6 213.6 104.8 208.9 105.1 213.4 105.4 202.6 105.7 204.7 105.9 198.3 106.2 198.3 106.5 200.3 106.8 202.7 107.0 206.0 107.3 200.5 107.6 209.5 107.9 207.7 108.1 207.9 108.4 211.5 108.7 212.8 109.0 205.5 109.3 204.4 109.5 204.7 109.8 201.9 110.1 202.9 110.4 202.2 110.6 201.1 110.9 199.3 111.2 201.2 111.5 201.4 111.7 203.5 112.0 205.1 112.3 204.3 112.6 204.5 112.8 206.9 113.1 212.3 113.4 209.0 113.7 208.9 113.9 206.3 114.2 214.0 114.5 201.4 114.8 212.8 115.1 202.6 115.3 201.2 115.6 204.0 115.9 202.2 116.2 203.1 116.4 206.8 116.7 206.5 117.0 208.3 117.3 212.0 117.5 206.3 117.8 209.9 118.1 206.9 118.4 206.5 118.6 216.3 118.9 205.1 119.2 204.4 119.5 200.8 119.8 200.4 120.0 204.4 120.3 204.3 120.6 213.0 120.9 210.4 121.1 208.5 121.4 208.0 121.7 206.6 122.0 213.1 122.2 203.0 122.5 205.4 122.8 205.1 123.1 202.9 123.3 201.0 123.6 201.3 123.9 214.3 124.2 200.0 124.4 202.0 124.7 206.9 125.0 209.0" fill="none" stroke="#111" stroke-width="1.4" stroke-linejoin="round"/><path d="M3.7 240.6 4.0 239.4 4.4 242.3 4.7 240.0 5.1 242.7 5.4 238.5 5.7 239.3 6.1 241.4 6.4 240.6 6.7 241.8 7.1 241.6 7.4 240.6 7.8 239.0 8.1 239.7 8.4 239.9 8.8 237.7 9.1 240.3 9.4 238.5 9.8 242.9 10.1 239.1 10.5 240.6 10.8 243.2 11.1 238.2 11.5 239.7 11.8 242.4 12.1 241.1 12.5 239.4 12.8 239.6 13.2 240.1 13.5 237.6 13.8 240.1 14.2 240.5 14.5 243.0 14.9 242.1 15.2 238.9 15.5 239.8 15.9 236.2 16.2 240.1 16.5 241.7 16.9 239.6 17.2 239.6 17.6 243.0 17.9 243.4 18.2 238.0 18.6 241.6 18.9 239.0 19.2 239.0 19.6 241.7 19.9 239.6 20.3 239.0 20.6 241.7 20.9 239.8 21.3 240.7 21.6 238.8 21.9 237.2 22.3 239.7 22.6 241.4 23.0 238.9 23.3 239.9 23.6 240.4 24.0 239.8 24.3 239.5 24.6 240.4 25.0 239.7 25.3 238.7 25.7 240.8 26.0 240.4 26.3 239.9 26.7 240.3 27.0 235.9 27.4 239.7 27.7 241.7 28.0 236.7 28.4 242.0 28.7 239.8 29.0 238.7 29.4 238.8 29.7 239.6 30.1 239.3 30.4 237.2 30.7 238.8 31.1 239.8 31.4 242.8 31.7 240.4 32.1 237.9 32.4 238.4 32.8 239.7 33.1 238.4 33.4 239.5 33.8 238.1 34.1 240.0 34.4 239.3 34.8 239.9 35.1 239.2 35.5 238.1 35.8 237.6 36.1 239.2 36.5 242.1 36.8 237.2 37.2 238.4 37.5 240.1 37.8 240.7 38.2 240.1 38.5 240.9 38.8 238.6 39.2 238.9 39.5 237.8 39.9 238.0 40.2 241.2 40.5 239.6 40.9 239.9 41.2 242.4 41.5 241.5 41.9 237.9 42.2 240.3 42.6 238.0 42.9 240.3 43.2 236.5 43.6 237.7 43.9 237.8 44.2 241.6 44.6 236.6 44.9 240.4 45.3 243.6 45.6 239.1 45.9 240.0 46.3 242.3 46.6 239.2 46.9 238.5 47.3 240.6 47.6 239.9 48.0 237.3 48.3 243.0 48.6 239.2 49.0 237.3 49.3 241.5 49.7 237.9 50.0 237.2 50.3 239.4 50.7 239.2 51.0 235.8 51.3 238.2 51.7 238.9 52.0 236.9 52.4 238.3 52.7 239.1 53.0 239.5 53.4 238.3 53.7 235.5 54.0 239.6 54.4 237.7 54.7 236.7 55.1 236.2 55.4 236.4 55.7 240.2 56.1 237.4 56.4 237.8 56.7 238.0 57.1 240.4 57.4 239.5 57.8 235.2 58.1 239.6 58.4 237.4 58.8 256.0 59.1 242.0 59.5 239.5 59.8 236.8 60.1 239.2 60.5 238.3 60.8 238.2 61.1 238.0 61.5 239.8 61.8 239.0 62.2 240.0 62.5 239.5 62.8 235.7 63.2 238.2 63.5 239.6 63.8 237.1 64.2 236.0 64.5 235.2 64.9 240.9 65.2 237.0 65.5 238.4 65.9 236.8 66.2 242.4 66.5 240.4 66.9 236.2 67.2 238.1 67.6 237.1 67.9 235.6 68.2 236.9 68.6 238.2 68.9 239.7 69.2 239.8 69.6 238.1 69.9 235.9 70.3 239.0 70.6 238.1 70.9 238.0 71.3 236.5 71.6 237.8 72.0 240.6 72.3 242.9 72.6 239.7 73.0 238.9 73.3 237.5 73.6 238.0 74.0 238.2 74.3 238.5 74.7 237.5 75.0 236.8 75.3 239.4 75.7 237.4 76.0 242.9 76.3 237.7 76.7 238.8 77.0 238.6 77.4 238.9 77.7 238.8 78.0 236.6 78.4 236.0 78.7 237.8 79.0 240.0 79.4 236.7 79.7 236.6 80.1 240.8 80.4 235.7 80.7 237.0 81.1 237.2 81.4 236.9 81.8 236.9 82.1 239.2 82.4 238.0 82.8 238.0 83.1 235.5 83.4 238.8 83.8 241.3 84.1 237.9 84.5 238.8 84.8 238.1 85.1 237.6 85.5 238.2 85.8 236.7 86.1 236.4 86.5 235.8 86.8 238.9 87.2 236.7 87.5 237.8 87.8 239.0 88.2 242.5 88.5 239.6 88.8 243.5 89.2 240.2 89.5 238.3 89.9 239.4 90.2 243.7 90.5 239.9 90.9 242.3 91.2 241.0 91.5 242.3 91.9 245.0 92.2 240.3 92.6 238.3 92.9 241.8 93.2 240.9 93.6 240.6 93.9 241.1 94.3 242.3 94.6 240.1 94.9 239.9 95.3 235.4 95.6 235.8 95.9 237.2 96.3 234.4 96.6 238.3 97.0 238.3 97.3 241.0 97.6 237.7 98.0 234.9 98.3 237.5 98.6 238.3 99.0 237.9 99.3 238.5 99.7 237.1 100.0 239.9 100.3 237.8 100.7 238.2 101.0 238.6 101.3 236.2 101.7 235.7 102.0 238.2 102.4 235.5 102.7 236.3 103.0 238.4 103.4 235.7 103.7 235.8 104.1 235.5 104.4 235.7 104.7 239.6 105.1 237.8 105.4 238.3 105.7 234.5 106.1 233.9 106.4 235.5 106.8 238.4 107.1 238.6 107.4 234.4 107.8 234.7 108.1 237.8 108.4 237.3 108.8 237.5 109.1 237.8 109.5 235.6 109.8 237.1 110.1 236.5 110.5 238.5 110.8 236.5 111.1 234.4 111.5 238.5 111.8 241.3 112.2 238.1 112.5 236.4 112.8 235.6 113.2 238.1 113.5 236.1 113.8 237.5 114.2 237.8 114.5 236.6 114.9 234.1 115.2 237.4 115.5 237.6 115.9 234.7 116.2 236.7 116.6 236.9 116.9 236.6 117.2 237.5 117.6 234.1 117.9 237.4 118.2 238.8 118.6 236.5 118.9 236.0 119.3 236.4 119.6 238.2 119.9 236.4 120.3 235.5 120.6 234.3 120.9 238.4 121.3 238.5 121.6 236.6 122.0 239.3 122.3 236.0 122.6 237.5 123.0 234.8 123.3 235.2 123.6 236.5 124.0 237.1 124.3 237.3 124.7 235.3 125.0 235.8" fill="none" stroke="#111" stroke-width="1.4" stroke-linejoin="round"/><path d="M3.7 272.5 3.9 272.3 4.2 272.4 4.4 272.3 4.6 274.8 4.9 272.4 5.1 272.4 5.3 275.2 5.6 272.8 5.8 276.5 6.0 272.3 6.3 272.3 6.5 279.5 6.7 276.3 7.0 272.3 7.2 275.1 7.4 273.9 7.7 274.6 7.9 280.5 8.1 274.7 8.4 276.9 8.6 273.7 8.8 274.3 9.1 272.3 9.3 275.1 9.5 276.1 9.8 276.7 10.0 278.1 10.2 278.4 10.5 280.5 10.7 277.9 10.9 283.1 11.2 281.0 11.4 283.8 11.6 279.4 11.9 283.7 12.1 280.3 12.3 274.9 12.6 280.4 12.8 280.2 13.0 276.2 13.3 278.0 13.5 279.5 13.7 289.0 14.0 282.9 14.2 288.0 14.5 285.4 14.7 286.1 14.9 285.5 15.2 278.2 15.4 287.1 15.6 279.9 15.9 284.6 16.1 282.9 16.3 288.6 16.6 287.3 16.8 289.4 17.0 285.1 17.3 283.7 17.5 286.2 17.7 291.5 18.0 285.5 18.2 284.1 18.4 280.0 18.7 281.7 18.9 283.9 19.1 286.4 19.4 286.3 19.6 284.0 19.8 284.9 20.1 289.4 20.3 290.5 20.5 288.5 20.8 289.6 21.0 288.8 21.2 290.7 21.5 280.9 21.7 283.4 21.9 285.8 22.2 286.4 22.4 289.5 22.6 279.4 22.9 285.8 23.1 286.3 23.3 283.3 23.6 285.1 23.8 288.9 24.0 287.2 24.3 285.4 24.5 286.5 24.7 285.5 25.0 289.0 25.2 285.7 25.4 289.1 25.7 284.1 25.9 285.7 26.1 282.2 26.4 285.1 26.6 288.4 26.8 282.4 27.1 284.5 27.3 285.9 27.5 284.4 27.8 288.2 28.0 281.5 28.2 288.2 28.5 289.6 28.7 290.7 28.9 285.1 29.2 282.6 29.4 280.1 29.6 287.3 29.9 287.7 30.1 286.0 30.3 286.1 30.6 287.1 30.8 283.7 31.0 280.1 31.3 280.2 31.5 282.2 31.7 281.8 32.0 279.6 32.2 283.2 32.4 281.2 32.7 286.7 32.9 284.3 33.1 287.0 33.4 280.1 33.6 280.8 33.8 279.2 34.1 285.2 34.3 291.6 34.6 284.9 34.8 282.7 35.0 284.8 35.3 284.0 35.5 287.1 35.7 284.0 36.0 281.1 36.2 277.8 36.4 285.1 36.7 287.1 36.9 284.4 37.1 281.0 37.4 282.4 37.6 282.8 37.8 285.7 38.1 283.6 38.3 287.5 38.5 283.1 38.8 281.6 39.0 289.6 39.2 280.4 39.5 281.1 39.7 290.3 39.9 284.5 40.2 289.3 40.4 275.5 40.6 287.6 40.9 283.5 41.1 283.8 41.3 285.0 41.6 274.5 41.8 280.5 42.0 284.8 42.3 291.6 42.5 280.9 42.7 290.9 43.0 285.3 43.2 286.6 43.4 280.1 43.7 285.2 43.9 280.4 44.1 279.3 44.4 287.3 44.6 280.8 44.8 281.4 45.1 285.2 45.3 280.1 45.5 278.4 45.8 282.9 46.0 282.7 46.2 286.5 46.5 277.7 46.7 283.3 46.9 283.0 47.2 279.0 47.4 279.6 47.6 280.0 47.9 276.3 48.1 275.1 48.3 281.3 48.6 275.3 48.8 275.3 49.0 280.8 49.3 276.2 49.5 276.3 49.7 272.8 50.0 273.1 50.2 272.5 50.4 272.5 50.7 280.9 50.9 273.7 51.1 272.3 51.4 273.1 51.6 278.9 51.8 272.8 52.1 276.4 52.3 273.4 52.5 272.3 52.8 274.6 53.0 273.0 53.2 276.8 53.5 278.5 53.7 275.9 53.9 284.6 54.2 272.6 54.4 280.3 54.7 277.3 54.9 280.4 55.1 277.7 55.4 272.3 55.6 275.7 55.8 280.3 56.1 277.4 56.3 273.4 56.5 276.2 56.8 279.3 57.0 282.6 57.2 277.0 57.5 279.6 57.7 276.6 57.9 276.0 58.2 278.5 58.4 284.9 58.6 283.2 58.9 280.3 59.1 281.4 59.3 283.6 59.6 281.7 59.8 281.1 60.0 281.8 60.3 284.8 60.5 281.4 60.7 285.2 61.0 276.7 61.2 280.2 61.4 281.2 61.7 284.5 61.9 279.6 62.1 280.8 62.4 283.6 62.6 282.2 62.8 280.3 63.1 281.4 63.3 279.5 63.5 285.0 63.8 283.8 64.0 285.2 64.2 289.7 64.5 286.5 64.7 284.0 64.9 282.1 65.2 289.8 65.4 283.3 65.6 281.8 65.9 286.7 66.1 283.9 66.3 281.7 66.6 284.0 66.8 288.9 67.0 283.1 67.3 283.9 67.5 279.8 67.7 281.1 68.0 285.5 68.2 282.4 68.4 283.1 68.7 286.2 68.9 281.6 69.1 287.7 69.4 280.6 69.6 280.2 69.8 280.1 70.1 277.8 70.3 284.4 70.5 282.7 70.8 287.0 71.0 280.2 71.2 284.9 71.5 286.8 71.7 281.7 71.9 281.9 72.2 274.4 72.4 288.6 72.6 282.0 72.9 284.5 73.1 280.7 73.3 283.4 73.6 278.6 73.8 284.7 74.0 282.6 74.3 281.0 74.5 283.6 74.8 276.4 75.0 282.7 75.2 280.8 75.5 286.9 75.7 284.8 75.9 281.7 76.2 281.4 76.4 291.6 76.6 279.2 76.9 288.6 77.1 285.5 77.3 285.1 77.6 276.5 77.8 285.3 78.0 281.1 78.3 279.8 78.5 284.7 78.7 280.5 79.0 284.7 79.2 279.9 79.4 284.8 79.7 284.4 79.9 280.3 80.1 280.0 80.4 280.9 80.6 281.4 80.8 281.2 81.1 289.1 81.3 284.6 81.5 282.2 81.8 282.3 82.0 280.8 82.2 284.3 82.5 283.2 82.7 281.3 82.9 281.3 83.2 282.3 83.4 280.2 83.6 284.0 83.9 280.8 84.1 285.5 84.3 282.8 84.6 285.6 84.8 282.1 85.0 278.0 85.3 279.8 85.5 283.1 85.7 285.4 86.0 285.5 86.2 285.9 86.4 286.5 86.7 285.5 86.9 285.8 87.1 283.7 87.4 286.3 87.6 284.2 87.8 284.4 88.1 285.2 88.3 291.6 88.5 280.0 88.8 283.3 89.0 284.0 89.2 286.3 89.5 285.0 89.7 290.2 89.9 280.1 90.2 290.7 90.4 280.7 90.6 282.1 90.9 286.0 91.1 284.2 91.3 283.7 91.6 283.7 91.8 284.5 92.0 286.1 92.3 284.1 92.5 278.6 92.7 280.0 93.0 286.5 93.2 288.0 93.4 284.6 93.7 284.8 93.9 282.2 94.1 287.6 94.4 278.9 94.6 279.4 94.9 277.8 95.1 285.0 95.3 278.1 95.6 281.2 95.8 274.9 96.0 274.4 96.3 282.0 96.5 280.9 96.7 281.1 97.0 278.8 97.2 277.0 97.4 276.4 97.7 273.9 97.9 276.0 98.1 281.4 98.4 276.5 98.6 272.7 98.8 276.1 99.1 273.6 99.3 273.0 99.5 276.2 99.8 274.1 100.0 272.4 100.2 281.2 100.5 281.8 100.7 276.6 100.9 280.8 101.2 274.6 101.4 275.8 101.6 280.0 101.9 276.7 102.1 278.3 102.3 272.3 102.6 276.5 102.8 274.1 103.0 275.0 103.3 272.3 103.5 272.7 103.7 277.0 104.0 276.9 104.2 277.7 104.4 278.2 104.7 279.2 104.9 277.2 105.1 275.4 105.4 274.6 105.6 275.3 105.8 273.8 106.1 273.9 106.3 277.0 106.5 272.3 106.8 273.9 107.0 275.4 107.2 279.9 107.5 281.9 107.7 279.8 107.9 278.8 108.2 277.6 108.4 283.0 108.6 281.9 108.9 277.8 109.1 280.1 109.3 281.7 109.6 283.5 109.8 279.8 110.0 285.9 110.3 285.1 110.5 280.2 110.7 281.2 111.0 279.1 111.2 279.4 111.4 283.5 111.7 287.3 111.9 287.6 112.1 283.8 112.4 282.2 112.6 281.4 112.8 285.0 113.1 282.2 113.3 286.1 113.5 283.6 113.8 285.0 114.0 282.6 114.2 290.8 114.5 288.1 114.7 284.9 115.0 281.9 115.2 286.6 115.4 287.3 115.7 281.4 115.9 285.4 116.1 291.6 116.4 286.0 116.6 284.3 116.8 287.6 117.1 291.6 117.3 284.5 117.5 284.6 117.8 285.4 118.0 286.5 118.2 289.9 118.5 287.0 118.7 278.6 118.9 286.9 119.2 286.6 119.4 287.1 119.6 285.8 119.9 284.3 120.1 286.1 120.3 282.1 120.6 278.7 120.8 282.8 121.0 280.2 121.3 288.8 121.5 282.9 121.7 288.0 122.0 278.5 122.2 278.7 122.4 283.8 122.7 276.7 122.9 279.9 123.1 275.6 123.4 282.9 123.6 275.8 123.8 280.7 124.1 275.2 124.3 282.2 124.5 283.9 124.8 280.6 125.0 277.0" fill="none" stroke="#111" stroke-width="1.3" stroke-linejoin="round"/><path d="M3.7 317.1 3.9 318.3 4.2 317.7 4.4 318.7 4.6 320.1 4.9 316.0 5.1 314.7 5.3 313.6 5.6 315.0 5.8 314.3 6.0 313.5 6.3 315.5 6.5 319.3 6.7 312.5 7.0 313.1 7.2 313.3 7.4 311.5 7.7 316.4 7.9 313.3 8.1 315.0 8.4 309.8 8.6 314.6 8.8 312.9 9.1 309.8 9.3 315.0 9.5 315.0 9.8 313.2 10.0 313.6 10.2 310.3 10.5 315.1 10.7 312.2 10.9 313.9 11.2 314.3 11.4 314.1 11.6 311.3 11.9 313.7 12.1 313.5 12.3 316.1 12.6 311.5 12.8 315.7 13.0 314.6 13.3 313.6 13.5 318.1 13.7 315.6 14.0 312.4 14.2 314.5 14.5 312.1 14.7 311.1 14.9 312.8 15.2 312.9 15.4 318.2 15.6 316.1 15.9 309.8 16.1 314.0 16.3 312.7 16.6 314.1 16.8 315.0 17.0 314.7 17.3 315.7 17.5 312.9 17.7 318.2 18.0 314.6 18.2 317.9 18.4 314.8 18.7 316.3 18.9 312.9 19.1 317.9 19.4 316.0 19.6 314.4 19.8 316.4 20.1 316.7 20.3 311.9 20.5 313.9 20.8 313.3 21.0 317.8 21.2 316.3 21.5 314.3 21.7 314.3 21.9 316.0 22.2 310.6 22.4 315.8 22.6 320.0 22.9 313.0 23.1 313.6 23.3 313.8 23.6 317.6 23.8 314.8 24.0 321.2 24.3 316.3 24.5 315.7 24.7 314.3 25.0 318.6 25.2 319.7 25.4 317.7 25.7 320.5 25.9 320.5 26.1 318.5 26.4 318.0 26.6 316.6 26.8 318.6 27.1 317.4 27.3 321.9 27.5 320.3 27.8 318.3 28.0 317.9 28.2 319.9 28.5 321.6 28.7 319.9 28.9 321.8 29.2 318.4 29.4 320.2 29.6 321.4 29.9 320.4 30.1 321.0 30.3 322.7 30.6 320.4 30.8 322.9 31.0 319.4 31.3 322.0 31.5 319.9 31.7 320.2 32.0 322.7 32.2 324.4 32.4 321.2 32.7 321.9 32.9 325.0 33.1 320.1 33.4 324.3 33.6 319.5 33.8 317.9 34.1 323.4 34.3 322.0 34.6 321.6 34.8 317.2 35.0 324.0 35.3 322.1 35.5 320.5 35.7 323.2 36.0 320.8 36.2 321.9 36.4 321.9 36.7 326.3 36.9 323.9 37.1 327.4 37.4 322.5 37.6 321.7 37.8 328.0 38.1 321.5 38.3 327.9 38.5 322.4 38.8 326.8 39.0 323.1 39.2 328.0 39.5 328.0 39.7 327.1 39.9 325.3 40.2 323.4 40.4 326.1 40.6 328.0 40.9 322.9 41.1 321.1 41.3 328.0 41.6 323.1 41.8 325.2 42.0 323.8 42.3 323.9 42.5 322.5 42.7 322.7 43.0 318.9 43.2 321.4 43.4 320.6 43.7 325.3 43.9 321.6 44.1 322.5 44.4 318.1 44.6 322.2 44.8 325.5 45.1 322.2 45.3 323.7 45.5 320.8 45.8 319.9 46.0 323.6 46.2 320.1 46.5 318.5 46.7 320.7 46.9 319.9 47.2 323.2 47.4 322.3 47.6 316.9 47.9 321.5 48.1 316.9 48.3 320.4 48.6 321.2 48.8 318.5 49.0 318.3 49.3 321.2 49.5 318.5 49.7 316.4 50.0 322.9 50.2 320.9 50.4 319.8 50.7 319.3 50.9 320.8 51.1 318.4 51.4 320.0 51.6 318.7 51.8 316.2 52.1 320.2 52.3 317.9 52.5 315.4 52.8 316.2 53.0 311.3 53.2 312.9 53.5 313.3 53.7 318.3 53.9 318.0 54.2 319.0 54.4 317.1 54.7 320.1 54.9 314.7 55.1 313.8 55.4 313.3 55.6 315.8 55.8 313.6 56.1 312.8 56.3 313.6 56.5 315.1 56.8 311.5 57.0 314.4 57.2 314.2 57.5 318.1 57.7 314.3 57.9 310.7 58.2 314.2 58.4 313.9 58.6 310.3 58.9 309.8 59.1 314.9 59.3 312.8 59.6 311.6 59.8 313.0 60.0 316.6 60.3 317.8 60.5 312.6 60.7 317.5 61.0 313.8 61.2 314.1 61.4 313.9 61.7 314.1 61.9 314.0 62.1 312.8 62.4 314.6 62.6 312.2 62.8 316.1 63.1 313.3 63.3 316.2 63.5 314.8 63.8 310.9 64.0 318.1 64.2 316.1 64.5 315.4 64.7 314.8 64.9 320.0 65.2 315.2 65.4 318.2 65.6 316.5 65.9 313.0 66.1 318.0 66.3 312.7 66.6 317.5 66.8 317.5 67.0 317.2 67.3 315.0 67.5 320.2 67.7 321.2 68.0 314.9 68.2 316.3 68.4 321.2 68.7 316.4 68.9 319.8 69.1 315.3 69.4 316.2 69.6 318.4 69.8 319.0 70.1 314.6 70.3 315.7 70.5 319.6 70.8 321.6 71.0 319.9 71.2 319.7 71.5 320.0 71.7 316.2 71.9 320.2 72.2 321.6 72.4 321.0 72.6 317.0 72.9 317.6 73.1 322.8 73.3 316.9 73.6 317.8 73.8 324.3 74.0 318.5 74.3 319.1 74.5 322.5 74.8 323.1 75.0 320.9 75.2 318.0 75.5 320.4 75.7 322.2 75.9 319.7 76.2 319.8 76.4 325.3 76.6 323.7 76.9 324.4 77.1 324.9 77.3 320.5 77.6 324.2 77.8 326.1 78.0 325.0 78.3 320.7 78.5 319.9 78.7 321.9 79.0 325.3 79.2 323.4 79.4 324.4 79.7 320.5 79.9 325.4 80.1 321.5 80.4 325.8 80.6 322.9 80.8 315.7 81.1 322.2 81.3 320.4 81.5 320.4 81.8 321.9 82.0 324.7 82.2 324.0 82.5 325.1 82.7 321.6 82.9 317.0 83.2 320.0 83.4 319.0 83.6 319.4 83.9 327.3 84.1 322.7 84.3 318.3 84.6 323.3 84.8 319.6 85.0 316.9 85.3 322.8 85.5 318.7 85.7 320.0 86.0 325.1 86.2 317.0 86.4 321.8 86.7 318.4 86.9 316.3 87.1 318.2 87.4 319.1 87.6 319.0 87.8 314.7 88.1 320.2 88.3 316.0 88.5 318.7 88.8 318.3 89.0 316.3 89.2 318.9 89.5 315.6 89.7 314.9 89.9 313.6 90.2 312.4 90.4 315.1 90.6 311.5 90.9 315.7 91.1 315.2 91.3 320.4 91.6 313.5 91.8 319.0 92.0 317.0 92.3 316.7 92.5 314.4 92.7 313.8 93.0 314.9 93.2 315.5 93.4 316.9 93.7 314.2 93.9 319.1 94.1 319.3 94.4 309.8 94.6 315.3 94.9 314.6 95.1 312.5 95.3 309.8 95.6 310.5 95.8 314.1 96.0 316.1 96.3 315.4 96.5 315.5 96.7 313.6 97.0 316.5 97.2 315.1 97.4 316.6 97.7 313.4 97.9 312.1 98.1 309.9 98.4 317.2 98.6 312.0 98.8 310.8 99.1 309.8 99.3 314.4 99.5 309.8 99.8 313.3 100.0 313.9 100.2 316.7 100.5 311.7 100.7 309.8 100.9 315.6 101.2 314.3 101.4 312.2 101.6 313.8 101.9 318.5 102.1 314.2 102.3 312.5 102.6 314.0 102.8 315.7 103.0 315.3 103.3 315.3 103.5 315.4 103.7 311.9 104.0 316.2 104.2 317.4 104.4 316.6 104.7 314.9 104.9 315.0 105.1 315.7 105.4 315.5 105.6 311.5 105.8 315.2 106.1 318.7 106.3 314.9 106.5 314.6 106.8 317.4 107.0 316.2 107.2 314.4 107.5 316.6 107.7 320.4 107.9 320.8 108.2 316.9 108.4 316.2 108.6 319.6 108.9 317.9 109.1 318.2 109.3 316.8 109.6 314.0 109.8 313.7 110.0 317.1 110.3 314.8 110.5 319.4 110.7 319.8 111.0 321.2 111.2 318.0 111.4 322.5 111.7 321.0 111.9 319.0 112.1 320.0 112.4 317.0 112.6 310.9 112.8 321.1 113.1 320.0 113.3 323.0 113.5 320.2 113.8 318.8 114.0 318.2 114.2 318.0 114.5 320.0 114.7 315.4 115.0 317.2 115.2 322.0 115.4 315.2 115.7 316.5 115.9 319.0 116.1 319.6 116.4 320.8 116.6 322.9 116.8 321.7 117.1 322.5 117.3 319.8 117.5 321.4 117.8 319.8 118.0 321.4 118.2 323.2 118.5 323.1 118.7 317.5 118.9 319.5 119.2 327.1 119.4 317.6 119.6 322.8 119.9 320.0 120.1 322.4 120.3 321.6 120.6 323.4 120.8 320.7 121.0 326.0 121.3 328.0 121.5 317.8 121.7 321.9 122.0 320.4 122.2 324.2 122.4 327.1 122.7 326.9 122.9 326.6 123.1 323.8 123.4 321.8 123.6 325.7 123.8 321.3 124.1 320.7 124.3 322.6 124.5 319.3 124.8 321.7 125.0 319.8" fill="none" stroke="#111" stroke-width="1.3" stroke-linejoin="round"/><path d="M3.7 368V352.2M4.3 368V365.3M4.9 368V364.8M5.5 368V360.1M6.1 368V365.3M6.7 368V363.6M7.3 368V365.1M7.9 368V363.9M8.5 368V359.8M9.1 368V365.2M9.7 368V365.1M10.3 368V365.0M10.9 368V363.6M11.5 368V364.4M12.1 368V362.5M12.7 368V363.9M13.3 368V364.2M13.9 368V363.7M14.5 368V364.2M15.1 368V364.5M15.7 368V352.5M16.3 368V364.7M16.9 368V365.4M17.5 368V364.6M18.1 368V363.3M18.7 368V362.8M19.3 368V363.0M19.9 368V364.2M20.5 368V364.5M21.1 368V355.7M21.7 368V364.6M22.3 368V362.4M22.9 368V363.1M23.5 368V364.5M24.1 368V363.7M24.7 368V363.7M25.3 368V364.1M25.9 368V362.2M26.5 368V365.1M27.1 368V362.3M27.7 368V363.0M28.3 368V363.9M28.9 368V363.1M29.5 368V364.2M30.1 368V362.5M30.7 368V365.4M31.3 368V355.2M31.9 368V363.9M32.5 368V362.3M33.1 368V361.6M33.7 368V363.1M34.3 368V364.9M34.9 368V365.4M35.5 368V364.7M36.1 368V362.4M36.7 368V365.3M37.3 368V365.1M37.9 368V365.1M38.5 368V363.8M39.1 368V364.8M39.7 368V362.1M40.3 368V362.4M40.9 368V360.6M41.5 368V360.1M42.1 368V362.9M42.7 368V353.8M43.3 368V363.2M43.9 368V364.7M44.5 368V364.3M45.1 368V361.4M45.7 368V351.1M46.3 368V361.2M46.9 368V362.2M47.5 368V365.2M48.1 368V363.6M48.7 368V362.2M49.3 368V363.8M49.9 368V364.5M50.5 368V362.1M51.1 368V365.0M51.7 368V361.3M52.3 368V362.4M52.9 368V364.9M53.5 368V363.6M54.1 368V362.3M54.7 368V363.2M55.3 368V364.5M55.9 368V362.6M56.5 368V365.2M57.1 368V363.0M57.7 368V364.4M58.3 368V363.1M58.9 368V365.3M59.5 368V362.6M60.1 368V356.6M60.7 368V363.0M61.3 368V363.9M61.9 368V359.2M62.5 368V364.9M63.1 368V363.4M63.7 368V359.6M64.3 368V359.4M64.9 368V362.1M65.5 368V364.0M66.1 368V364.0M66.7 368V364.4M67.3 368V362.0M67.9 368V362.4M68.5 368V361.3M69.1 368V362.1M69.7 368V354.0M70.3 368V364.7M70.9 368V364.6M71.5 368V363.5M72.1 368V363.6M72.7 368V363.7M73.3 368V363.9M73.9 368V363.6M74.5 368V362.1M75.1 368V363.7M75.7 368V355.0M76.3 368V362.3M76.9 368V363.0M77.5 368V363.2M78.1 368V363.4M78.7 368V363.7M79.3 368V362.6M79.9 368V364.5M80.5 368V365.1M81.1 368V362.6M81.7 368V364.9M82.3 368V356.7M82.9 368V363.5M83.5 368V362.2M84.1 368V363.5M84.7 368V362.6M85.3 368V360.1M85.9 368V366.9M86.5 368V363.1M87.1 368V362.5M87.7 368V364.2M88.3 368V362.5M88.9 368V362.8M89.5 368V363.3M90.1 368V364.6M90.7 368V363.2M91.3 368V360.7M91.9 368V365.0M92.5 368V364.8M93.1 368V360.7M93.7 368V363.6M94.3 368V362.8M94.9 368V366.6M95.5 368V361.7M96.1 368V365.1M96.7 368V363.2M97.3 368V363.5M97.9 368V363.3M98.5 368V365.4M99.1 368V362.5M99.7 368V362.9M100.3 368V347.3M100.9 368V365.1M101.5 368V364.3M102.1 368V363.9M102.7 368V364.1M103.3 368V364.4M103.9 368V362.2M104.5 368V362.9M105.1 368V363.3M105.7 368V364.0M106.3 368V364.4M106.9 368V365.3M107.5 368V365.5M108.1 368V365.9M108.7 368V364.8M109.3 368V355.1M109.9 368V362.4M110.5 368V360.6M111.1 368V363.9M111.7 368V362.0M112.3 368V363.7M112.9 368V365.3M113.5 368V364.4M114.1 368V365.1M114.7 368V363.8M115.3 368V362.8M115.9 368V359.7M116.5 368V364.5M117.1 368V363.3M117.7 368V364.4M118.3 368V365.6M118.9 368V365.3M119.5 368V365.3M120.1 368V363.8M120.7 368V364.7M121.3 368V365.3M121.9 368V364.3M122.5 368V364.5M123.1 368V356.8M123.7 368V363.6M124.3 368V365.1M124.9 368V362.0" fill="none" stroke="#111" stroke-width="1.0"/><path d="M3.7 399.7 4.0 400.8 4.2 398.1 4.5 400.5 4.8 400.4 5.0 401.1 5.3 397.9 5.5 398.0 5.8 398.2 6.1 401.1 6.3 395.3 6.6 402.1 6.9 393.9 7.1 403.7 7.4 399.3 7.7 405.0 7.9 398.0 8.2 399.4 8.5 391.8 8.7 396.2 9.0 397.8 9.2 398.5 9.5 399.4 9.8 397.6 10.0 396.9 10.3 400.4 10.6 392.0 10.8 395.6 11.1 399.5 11.4 396.9 11.6 401.2 11.9 394.8 12.2 395.8 12.4 399.3 12.7 403.2 12.9 392.7 13.2 391.3 13.5 393.0 13.7 392.9 14.0 398.0 14.3 400.3 14.5 397.0 14.8 397.9 15.1 399.3 15.3 398.4 15.6 398.1 15.9 397.9 16.1 401.0 16.4 393.3 16.6 395.4 16.9 398.0 17.2 405.0 17.4 394.2 17.7 399.8 18.0 394.6 18.2 396.6 18.5 394.5 18.8 403.5 19.0 398.4 19.3 395.4 19.6 400.5 19.8 394.7 20.1 398.1 20.3 392.6 20.6 396.1 20.9 398.3 21.1 398.3 21.4 394.3 21.7 394.5 21.9 391.2 22.2 389.9 22.5 396.3 22.7 401.0 23.0 398.7 23.3 399.1 23.5 397.2 23.8 397.0 24.0 397.0 24.3 402.8 24.6 396.0 24.8 401.2 25.1 392.3 25.4 393.5 25.6 396.9 25.9 392.1 26.2 402.4 26.4 398.0 26.7 398.6 27.0 395.6 27.2 398.9 27.5 395.0 27.7 401.8 28.0 401.7 28.3 395.0 28.5 394.4 28.8 392.2 29.1 392.3 29.3 401.6 29.6 400.0 29.9 402.7 30.1 399.2 30.4 400.4 30.7 399.7 30.9 395.8 31.2 398.2 31.4 400.7 31.7 398.0 32.0 394.3 32.2 394.2 32.5 405.0 32.8 394.6 33.0 395.3 33.3 397.7 33.6 397.3 33.8 401.0 34.1 396.2 34.4 399.8 34.6 397.8 34.9 397.9 35.1 397.0 35.4 394.6 35.7 395.8 35.9 393.6 36.2 396.1 36.5 398.0 36.7 398.3 37.0 393.7 37.3 395.0 37.5 396.4 37.8 402.0 38.1 398.2 38.3 398.8 38.6 401.7 38.8 399.2 39.1 395.8 39.4 403.2 39.6 397.1 39.9 401.5 40.2 398.9 40.4 399.7 40.7 401.9 41.0 396.0 41.2 392.7 41.5 398.6 41.8 397.3 42.0 396.6 42.3 397.5 42.5 392.1 42.8 397.4 43.1 396.4 43.3 398.4 43.6 397.1 43.9 396.1 44.1 399.6 44.4 401.0 44.7 397.0 44.9 394.4 45.2 395.0 45.5 401.4 45.7 391.6 46.0 397.3 46.2 398.1 46.5 398.7 46.8 390.3 47.0 397.8 47.3 389.6 47.6 395.0 47.8 393.5 48.1 389.9 48.4 402.5 48.6 395.4 48.9 391.0 49.2 392.7 49.4 395.9 49.7 398.8 49.9 396.5 50.2 392.4 50.5 401.8 50.7 397.7 51.0 402.1 51.3 401.3 51.5 397.7 51.8 401.3 52.1 396.4 52.3 400.3 52.6 391.3 52.9 390.6 53.1 393.1 53.4 398.5 53.6 397.3 53.9 394.3 54.2 394.8 54.4 394.9 54.7 397.2 55.0 400.5 55.2 400.1 55.5 396.2 55.8 396.8 56.0 398.8 56.3 393.2 56.6 396.9 56.8 398.8 57.1 398.4 57.3 395.4 57.6 394.1 57.9 393.8 58.1 401.7 58.4 397.0 58.7 392.8 58.9 390.1 59.2 397.0 59.5 402.0 59.7 396.0 60.0 393.9 60.3 399.7 60.5 395.9 60.8 396.5 61.0 397.9 61.3 395.9 61.6 399.2 61.8 399.7 62.1 396.6 62.4 395.1 62.6 398.0 62.9 388.3 63.2 395.5 63.4 395.0 63.7 399.4 64.0 393.3 64.2 400.6 64.5 396.5 64.7 398.3 65.0 401.3 65.3 397.5 65.5 394.9 65.8 397.9 66.1 398.0 66.3 403.5 66.6 396.8 66.9 400.1 67.1 401.5 67.4 400.7 67.7 396.2 67.9 393.1 68.2 400.6 68.4 402.8 68.7 399.3 69.0 401.1 69.2 397.7 69.5 400.0 69.8 401.7 70.0 397.3 70.3 401.4 70.6 397.2 70.8 394.2 71.1 398.6 71.4 396.7 71.6 398.8 71.9 399.2 72.1 396.7 72.4 398.7 72.7 395.8 72.9 400.1 73.2 394.2 73.5 392.6 73.7 400.7 74.0 390.6 74.3 396.3 74.5 396.5 74.8 400.0 75.1 396.4 75.3 396.4 75.6 391.0 75.8 400.4 76.1 393.5 76.4 397.0 76.6 394.4 76.9 400.8 77.2 393.9 77.4 392.4 77.7 401.4 78.0 394.8 78.2 397.8 78.5 398.4 78.8 391.9 79.0 400.4 79.3 393.5 79.5 397.2 79.8 398.5 80.1 396.7 80.3 394.0 80.6 400.2 80.9 394.0 81.1 392.5 81.4 401.0 81.7 401.2 81.9 390.6 82.2 396.2 82.5 397.0 82.7 388.0 83.0 395.0 83.2 400.9 83.5 393.5 83.8 401.4 84.0 403.7 84.3 396.4 84.6 394.5 84.8 397.2 85.1 392.1 85.4 401.4 85.6 398.7 85.9 392.1 86.2 394.3 86.4 395.9 86.7 400.7 86.9 399.8 87.2 394.8 87.5 397.6 87.7 395.5 88.0 398.6 88.3 396.1 88.5 404.2 88.8 398.6 89.1 396.1 89.3 393.4 89.6 392.2 89.9 399.5 90.1 399.8 90.4 402.4 90.6 393.5 90.9 399.6 91.2 392.8 91.4 399.3 91.7 399.0 92.0 397.8 92.2 395.9 92.5 395.3 92.8 395.7 93.0 390.4 93.3 399.3 93.6 393.1 93.8 397.5 94.1 396.8 94.3 399.5 94.6 397.3 94.9 397.1 95.1 398.0 95.4 400.4 95.7 395.7 95.9 394.0 96.2 397.2 96.5 396.7 96.7 399.6 97.0 398.5 97.3 397.7 97.5 401.0 97.8 398.2 98.0 399.3 98.3 395.8 98.6 402.3 98.8 399.4 99.1 394.0 99.4 394.2 99.6 403.3 99.9 398.0 100.2 403.2 100.4 405.0 100.7 397.7 101.0 398.3 101.2 400.1 101.5 394.2 101.7 391.1 102.0 403.7 102.3 394.5 102.5 396.9 102.8 402.4 103.1 397.6 103.3 400.5 103.6 398.4 103.9 393.0 104.1 394.7 104.4 397.7 104.7 394.1 104.9 400.7 105.2 398.6 105.4 392.0 105.7 399.0 106.0 395.6 106.2 396.2 106.5 399.8 106.8 390.9 107.0 394.1 107.3 398.2 107.6 392.2 107.8 401.6 108.1 388.0 108.4 400.9 108.6 399.7 108.9 394.9 109.1 397.4 109.4 394.6 109.7 403.6 109.9 397.1 110.2 398.8 110.5 398.1 110.7 392.3 111.0 390.5 111.3 397.7 111.5 401.9 111.8 399.3 112.1 396.5 112.3 398.6 112.6 395.9 112.8 401.5 113.1 399.2 113.4 398.2 113.6 404.3 113.9 395.1 114.2 393.9 114.4 396.3 114.7 395.3 115.0 395.1 115.2 399.2 115.5 398.9 115.8 391.2 116.0 394.7 116.3 395.3 116.5 390.7 116.8 399.1 117.1 397.4 117.3 398.6 117.6 394.8 117.9 394.9 118.1 397.8 118.4 397.2 118.7 395.4 118.9 398.6 119.2 394.6 119.5 400.1 119.7 398.3 120.0 394.9 120.2 392.6 120.5 397.9 120.8 400.7 121.0 397.0 121.3 401.8 121.6 399.5 121.8 401.4 122.1 391.9 122.4 394.7 122.6 397.3 122.9 397.8 123.2 396.5 123.4 395.6 123.7 389.5 123.9 400.8 124.2 399.6 124.5 395.3 124.7 397.1 125.0 394.8" fill="none" stroke="#111" stroke-width="1.4" stroke-linejoin="round"/><path d="M3.7 436.4 4.0 431.5 4.2 437.1 4.5 430.4 4.8 428.7 5.0 425.7 5.3 434.2 5.5 429.8 5.8 434.7 6.1 436.9 6.3 433.8 6.6 438.8 6.9 430.7 7.1 429.0 7.4 433.7 7.7 431.8 7.9 439.3 8.2 424.9 8.5 427.7 8.7 438.1 9.0 429.0 9.2 431.4 9.5 430.2 9.8 432.2 10.0 441.6 10.3 437.2 10.6 432.5 10.8 441.0 11.1 428.2 11.4 433.3 11.6 441.1 11.9 426.8 12.2 428.3 12.4 428.2 12.7 430.8 12.9 436.0 13.2 439.3 13.5 437.6 13.7 438.5 14.0 434.1 14.3 430.1 14.5 428.4 14.8 432.5 15.1 428.4 15.3 427.0 15.6 434.9 15.9 428.6 16.1 431.1 16.4 441.8 16.6 434.6 16.9 434.8 17.2 431.4 17.4 428.4 17.7 435.0 18.0 430.6 18.2 431.7 18.5 429.7 18.8 434.1 19.0 433.5 19.3 423.4 19.6 428.2 19.8 431.6 20.1 440.4 20.3 428.2 20.6 433.9 20.9 437.1 21.1 437.1 21.4 430.2 21.7 436.2 21.9 433.5 22.2 432.7 22.5 430.3 22.7 425.1 23.0 430.2 23.3 426.0 23.5 435.9 23.8 434.1 24.0 439.4 24.3 426.4 24.6 426.0 24.8 431.5 25.1 433.0 25.4 435.6 25.6 427.8 25.9 425.2 26.2 428.4 26.4 442.7 26.7 428.4 27.0 429.8 27.2 435.3 27.5 434.3 27.7 430.5 28.0 423.4 28.3 434.4 28.5 430.2 28.8 436.8 29.1 432.4 29.3 434.2 29.6 425.5 29.9 432.5 30.1 432.0 30.4 430.7 30.7 433.7 30.9 434.2 31.2 430.9 31.4 434.4 31.7 437.3 32.0 434.1 32.2 431.9 32.5 433.4 32.8 431.8 33.0 433.3 33.3 435.0 33.6 431.4 33.8 434.5 34.1 437.6 34.4 431.8 34.6 430.2 34.9 431.3 35.1 434.5 35.4 433.7 35.7 430.7 35.9 424.8 36.2 433.9 36.5 433.8 36.7 433.7 37.0 430.5 37.3 426.1 37.5 431.4 37.8 430.3 38.1 434.1 38.3 436.8 38.6 434.9 38.8 431.7 39.1 434.7 39.4 431.1 39.6 434.6 39.9 432.8 40.2 431.2 40.4 433.7 40.7 433.0 41.0 436.4 41.2 432.4 41.5 432.3 41.8 436.5 42.0 433.7 42.3 433.3 42.5 438.2 42.8 426.1 43.1 428.8 43.3 431.2 43.6 436.4 43.9 437.1 44.1 433.8 44.4 431.3 44.7 429.3 44.9 434.7 45.2 434.2 45.5 431.6 45.7 436.1 46.0 437.9 46.2 430.8 46.5 434.1 46.8 429.7 47.0 433.9 47.3 429.7 47.6 433.4 47.8 438.7 48.1 431.6 48.4 437.5 48.6 437.2 48.9 436.8 49.2 432.1 49.4 429.0 49.7 433.4 49.9 435.1 50.2 431.5 50.5 430.5 50.7 429.3 51.0 442.5 51.3 426.7 51.5 435.6 51.8 431.5 52.1 436.8 52.3 437.2 52.6 429.8 52.9 432.8 53.1 432.0 53.4 434.9 53.6 432.6 53.9 435.8 54.2 434.8 54.4 431.1 54.7 436.7 55.0 434.7 55.2 434.9 55.5 431.6 55.8 435.6 56.0 431.7 56.3 437.8 56.6 434.6 56.8 424.7 57.1 435.4 57.3 435.1 57.6 433.3 57.9 436.2 58.1 427.5 58.4 434.4 58.7 430.2 58.9 434.0 59.2 430.3 59.5 428.1 59.7 431.8 60.0 426.5 60.3 433.2 60.5 436.0 60.8 438.3 61.0 434.7 61.3 431.2 61.6 432.3 61.8 432.6 62.1 438.2 62.4 429.2 62.6 430.9 62.9 424.4 63.2 438.3 63.4 428.0 63.7 427.6 64.0 424.7 64.2 434.1 64.5 431.8 64.7 431.4 65.0 426.9 65.3 430.6 65.5 438.0 65.8 426.2 66.1 433.4 66.3 438.8 66.6 427.8 66.9 435.7 67.1 435.8 67.4 429.3 67.7 432.4 67.9 435.7 68.2 436.7 68.4 430.1 68.7 426.2 69.0 433.5 69.2 433.5 69.5 435.8 69.8 439.0 70.0 437.8 70.3 436.8 70.6 431.5 70.8 438.6 71.1 438.1 71.4 431.3 71.6 430.7 71.9 426.8 72.1 430.7 72.4 433.0 72.7 431.9 72.9 435.6 73.2 433.1 73.5 429.1 73.7 438.4 74.0 425.4 74.3 437.5 74.5 433.2 74.8 434.2 75.1 430.0 75.3 433.5 75.6 440.0 75.8 430.2 76.1 434.3 76.4 433.5 76.6 423.4 76.9 430.5 77.2 434.2 77.4 430.0 77.7 432.1 78.0 427.8 78.2 439.7 78.5 434.1 78.8 432.1 79.0 429.8 79.3 436.7 79.5 433.4 79.8 436.1 80.1 435.3 80.3 427.4 80.6 434.8 80.9 423.4 81.1 423.4 81.4 431.6 81.7 439.3 81.9 434.8 82.2 434.8 82.5 429.3 82.7 432.0 83.0 434.5 83.2 424.6 83.5 429.6 83.8 430.7 84.0 435.8 84.3 437.0 84.6 430.4 84.8 438.0 85.1 433.1 85.4 432.3 85.6 437.2 85.9 429.8 86.2 430.3 86.4 428.3 86.7 429.8 86.9 425.0 87.2 440.9 87.5 434.8 87.7 438.8 88.0 427.4 88.3 426.5 88.5 437.3 88.8 431.6 89.1 431.4 89.3 431.0 89.6 428.3 89.9 430.2 90.1 439.1 90.4 429.1 90.6 437.0 90.9 433.7 91.2 435.0 91.4 436.0 91.7 429.6 92.0 435.1 92.2 433.8 92.5 440.5 92.8 433.8 93.0 435.5 93.3 433.2 93.6 433.7 93.8 433.4 94.1 432.5 94.3 435.6 94.6 433.5 94.9 434.1 95.1 435.1 95.4 430.8 95.7 431.8 95.9 433.5 96.2 434.0 96.5 437.4 96.7 426.8 97.0 430.5 97.3 429.9 97.5 432.7 97.8 431.9 98.0 427.9 98.3 430.0 98.6 430.0 98.8 427.7 99.1 429.7 99.4 430.8 99.6 435.3 99.9 432.7 100.2 431.0 100.4 430.4 100.7 431.8 101.0 435.7 101.2 436.0 101.5 430.1 101.7 431.5 102.0 432.9 102.3 433.3 102.5 429.5 102.8 434.1 103.1 434.8 103.3 435.0 103.6 437.8 103.9 435.3 104.1 432.1 104.4 428.4 104.7 432.3 104.9 430.6 105.2 435.7 105.4 432.2 105.7 428.8 106.0 431.0 106.2 436.9 106.5 430.5 106.8 433.1 107.0 435.7 107.3 433.6 107.6 428.3 107.8 428.1 108.1 429.9 108.4 433.9 108.6 433.3 108.9 430.1 109.1 432.5 109.4 433.3 109.7 427.0 109.9 428.3 110.2 432.7 110.5 436.2 110.7 431.8 111.0 433.1 111.3 437.6 111.5 429.7 111.8 432.4 112.1 431.5 112.3 439.0 112.6 430.7 112.8 429.5 113.1 436.0 113.4 442.7 113.6 436.0 113.9 437.4 114.2 437.5 114.4 434.6 114.7 432.0 115.0 439.5 115.2 434.6 115.5 428.4 115.8 430.8 116.0 432.8 116.3 429.5 116.5 432.6 116.8 431.1 117.1 431.1 117.3 426.8 117.6 438.7 117.9 428.1 118.1 427.3 118.4 435.3 118.7 431.8 118.9 432.1 119.2 440.2 119.5 429.6 119.7 427.2 120.0 428.9 120.2 429.8 120.5 433.8 120.8 434.9 121.0 437.6 121.3 430.8 121.6 434.7 121.8 428.4 122.1 430.5 122.4 433.2 122.6 427.5 122.9 440.1 123.2 430.7 123.4 428.5 123.7 428.5 123.9 433.6 124.2 440.1 124.5 426.5 124.7 433.2 125.0 428.5" fill="none" stroke="#111" stroke-width="1.4" stroke-linejoin="round"/><rect x="3.7" y="462.5" width="121.3" height="11.5" fill="#111"/><path d="M3.7 461.6V474.0M4.9 461.3V477.1M6.1 461.7V477.0M7.3 462.2V474.0M8.5 461.3V478.1M9.7 462.0V481.4M10.9 461.9V476.1M12.1 462.4V477.3M13.3 461.1V481.1M14.5 460.8V476.9M15.7 461.1V477.6M16.9 462.0V477.4M18.1 461.8V474.0M19.3 462.1V479.2M20.5 461.2V480.0M21.7 462.4V474.0M22.9 460.8V478.4M24.1 461.6V474.0M25.3 461.8V480.6M26.5 460.9V475.7M27.7 462.1V480.8M28.9 461.6V480.3M30.1 462.5V474.0M31.3 461.4V478.8M32.5 461.3V475.8M33.7 462.1V479.2M34.9 461.8V474.0M36.1 460.8V474.0M37.3 462.2V474.0M38.5 461.6V478.4M39.7 461.5V475.3M40.9 461.3V478.2M42.1 461.6V480.1M43.3 461.4V474.0M44.5 461.1V474.0M45.7 461.7V476.5M46.9 462.3V478.2M48.1 461.0V475.1M49.3 462.2V474.0M50.5 461.0V474.0M51.7 461.8V479.7M52.9 461.1V476.8M54.1 461.2V475.1M55.3 462.3V474.0M56.5 460.9V480.3M57.7 460.8V474.0M58.9 461.8V474.0M60.1 461.8V474.0M61.3 462.5V474.0M62.5 462.3V474.0M63.7 461.7V477.1M64.9 461.6V479.7M66.1 461.5V474.0M67.3 462.2V480.8M68.5 461.2V481.2M69.7 460.8V478.9M70.9 462.4V474.0M72.1 462.0V474.0M73.3 462.3V480.7M74.5 461.3V474.0M75.7 461.0V475.8M76.9 461.4V474.0M78.1 460.9V476.6M79.3 462.2V474.0M80.5 461.4V480.8M81.7 461.8V478.1M82.9 462.4V480.5M84.1 461.7V474.0M85.3 462.4V474.0M86.5 462.1V476.7M87.7 462.1V477.9M88.9 461.5V477.0M90.1 460.8V474.0M91.3 461.5V474.0M92.5 461.2V476.9M93.7 460.8V474.0M94.9 461.9V474.0M96.1 462.0V474.0M97.3 462.5V481.3M98.5 460.8V479.7M99.7 461.8V478.3M100.9 462.0V479.2M102.1 462.1V479.9M103.3 462.2V474.0M104.5 462.1V474.0M105.7 460.9V474.0M106.9 461.6V474.0M108.1 461.5V476.1M109.3 461.9V481.0M110.5 460.8V478.3M111.7 461.9V475.6M112.9 462.0V480.0M114.1 461.0V480.7M115.3 461.1V474.0M116.5 462.5V477.3M117.7 461.2V474.0M118.9 462.2V480.0M120.1 462.3V480.5M121.3 461.2V480.6M122.5 462.1V480.8M123.7 461.1V474.0M124.9 460.9V478.9" fill="none" stroke="#111" stroke-width="0.9"/><rect x="115.6" y="465.5" width="0.6" height="4.7" fill="#fff" opacity="0.8"/><rect x="103.6" y="467.1" width="0.6" height="3.0" fill="#fff" opacity="0.8"/><rect x="59.2" y="466.4" width="0.6" height="2.5" fill="#fff" opacity="0.8"/><rect x="118.0" y="464.1" width="0.6" height="2.6" fill="#fff" opacity="0.8"/><rect x="49.6" y="465.6" width="0.6" height="5.2" fill="#fff" opacity="0.8"/><rect x="96.4" y="465.3" width="0.6" height="4.3" fill="#fff" opacity="0.8"/><rect x="113.2" y="464.1" width="0.6" height="4.7" fill="#fff" opacity="0.8"/><rect x="86.8" y="467.6" width="0.6" height="2.9" fill="#fff" opacity="0.8"/><rect x="92.8" y="464.2" width="0.6" height="2.6" fill="#fff" opacity="0.8"/><rect x="65.2" y="464.3" width="0.6" height="4.4" fill="#fff" opacity="0.8"/><rect x="19.6" y="465.8" width="0.6" height="3.2" fill="#fff" opacity="0.8"/><rect x="48.4" y="466.0" width="0.6" height="3.1" fill="#fff" opacity="0.8"/><path d="M3.7 513.4 4.0 506.1 4.2 512.8 4.5 510.5 4.8 503.8 5.0 504.3 5.3 508.7 5.5 515.6 5.8 510.5 6.1 511.4 6.3 510.3 6.6 504.5 6.9 506.6 7.1 502.9 7.4 512.3 7.7 507.4 7.9 514.0 8.2 508.7 8.5 503.3 8.7 507.4 9.0 513.0 9.2 507.8 9.5 509.3 9.8 502.9 10.0 507.5 10.3 512.0 10.6 508.6 10.8 509.9 11.1 510.2 11.4 505.8 11.6 509.3 11.9 508.7 12.2 506.2 12.4 516.3 12.7 515.7 12.9 514.6 13.2 508.8 13.5 502.8 13.7 512.3 14.0 506.3 14.3 512.3 14.5 507.5 14.8 506.2 15.1 501.4 15.3 510.3 15.6 511.5 15.9 511.7 16.1 512.9 16.4 502.4 16.6 509.8 16.9 512.7 17.2 513.4 17.4 502.7 17.7 510.2 18.0 513.4 18.2 511.9 18.5 505.6 18.8 512.9 19.0 510.3 19.3 514.8 19.6 506.5 19.8 509.8 20.1 509.3 20.3 511.8 20.6 503.7 20.9 508.8 21.1 504.2 21.4 508.3 21.7 507.0 21.9 508.9 22.2 512.0 22.5 510.4 22.7 510.9 23.0 510.6 23.3 508.6 23.5 506.8 23.8 510.2 24.0 503.0 24.3 509.8 24.6 507.3 24.8 506.6 25.1 509.3 25.4 509.4 25.6 505.4 25.9 509.0 26.2 510.8 26.4 506.8 26.7 511.2 27.0 504.5 27.2 506.4 27.5 511.2 27.7 508.2 28.0 507.4 28.3 510.5 28.5 511.1 28.8 508.9 29.1 510.0 29.3 509.2 29.6 507.5 29.9 509.7 30.1 508.3 30.4 503.6 30.7 507.7 30.9 510.3 31.2 509.1 31.4 508.9 31.7 507.5 32.0 505.4 32.2 506.6 32.5 505.8 32.8 505.5 33.0 510.0 33.3 507.9 33.6 506.3 33.8 509.9 34.1 510.6 34.4 506.0 34.6 510.3 34.9 506.3 35.1 514.4 35.4 509.7 35.7 504.5 35.9 511.6 36.2 506.7 36.5 510.0 36.7 513.0 37.0 511.3 37.3 505.0 37.5 509.3 37.8 507.4 38.1 509.6 38.3 508.1 38.6 508.6 38.8 513.1 39.1 507.3 39.4 512.3 39.6 506.3 39.9 508.4 40.2 504.7 40.4 512.3 40.7 509.2 41.0 504.9 41.2 509.3 41.5 507.7 41.8 507.5 42.0 507.3 42.3 511.0 42.5 506.9 42.8 512.2 43.1 511.0 43.3 512.1 43.6 512.6 43.9 510.5 44.1 506.6 44.4 512.0 44.7 504.2 44.9 506.7 45.2 513.0 45.5 502.7 45.7 505.9 46.0 504.3 46.2 510.3 46.5 505.3 46.8 509.7 47.0 509.2 47.3 516.2 47.6 516.7 47.8 505.9 48.1 506.5 48.4 508.8 48.6 507.6 48.9 507.7 49.2 508.4 49.4 512.5 49.7 514.2 49.9 503.6 50.2 511.3 50.5 509.6 50.7 505.2 51.0 508.8 51.3 507.0 51.5 509.4 51.8 509.4 52.1 502.3 52.3 507.0 52.6 509.9 52.9 506.5 53.1 499.8 53.4 514.2 53.6 508.4 53.9 511.5 54.2 506.4 54.4 505.5 54.7 512.9 55.0 509.4 55.2 507.1 55.5 510.4 55.8 507.7 56.0 510.0 56.3 512.4 56.6 509.2 56.8 507.3 57.1 511.7 57.3 513.7 57.6 510.0 57.9 509.1 58.1 509.2 58.4 506.5 58.7 511.6 58.9 507.5 59.2 507.6 59.5 510.5 59.7 514.6 60.0 513.5 60.3 505.0 60.5 514.4 60.8 512.0 61.0 509.6 61.3 512.6 61.6 510.1 61.8 516.1 62.1 506.4 62.4 514.4 62.6 507.5 62.9 508.0 63.2 512.2 63.4 502.1 63.7 512.2 64.0 513.6 64.2 503.2 64.5 506.8 64.7 512.6 65.0 505.8 65.3 504.6 65.5 515.0 65.8 507.7 66.1 514.4 66.3 512.4 66.6 510.3 66.9 506.5 67.1 512.5 67.4 510.6 67.7 507.3 67.9 506.8 68.2 508.0 68.4 505.6 68.7 507.6 69.0 510.4 69.2 506.5 69.5 508.0 69.8 508.1 70.0 508.6 70.3 507.2 70.6 510.1 70.8 512.2 71.1 505.7 71.4 507.6 71.6 508.6 71.9 511.9 72.1 508.7 72.4 507.7 72.7 511.1 72.9 508.6 73.2 506.6 73.5 509.6 73.7 509.2 74.0 507.6 74.3 505.4 74.5 507.9 74.8 509.8 75.1 509.7 75.3 506.0 75.6 506.6 75.8 510.9 76.1 505.1 76.4 510.9 76.6 510.4 76.9 513.5 77.2 505.2 77.4 510.9 77.7 507.6 78.0 509.1 78.2 506.4 78.5 511.3 78.8 510.4 79.0 506.0 79.3 505.2 79.5 509.9 79.8 507.7 80.1 509.5 80.3 509.5 80.6 510.0 80.9 509.2 81.1 507.5 81.4 511.9 81.7 511.2 81.9 508.9 82.2 510.2 82.5 509.0 82.7 508.7 83.0 507.5 83.2 513.3 83.5 507.3 83.8 513.3 84.0 511.2 84.3 510.9 84.6 511.3 84.8 510.5 85.1 504.8 85.4 504.0 85.6 506.4 85.9 506.9 86.2 508.8 86.4 508.4 86.7 510.1 86.9 502.9 87.2 509.3 87.5 506.2 87.7 506.3 88.0 506.2 88.3 508.7 88.5 505.3 88.8 511.3 89.1 511.4 89.3 506.0 89.6 506.0 89.9 508.6 90.1 513.2 90.4 511.0 90.6 506.0 90.9 508.2 91.2 503.9 91.4 506.8 91.7 504.4 92.0 510.6 92.2 507.6 92.5 508.3 92.8 502.3 93.0 506.7 93.3 506.9 93.6 512.8 93.8 501.9 94.1 504.8 94.3 504.7 94.6 510.2 94.9 506.1 95.1 513.2 95.4 514.7 95.7 500.9 95.9 513.7 96.2 511.4 96.5 511.8 96.7 510.8 97.0 507.7 97.3 506.8 97.5 506.4 97.8 505.3 98.0 509.9 98.3 508.5 98.6 509.5 98.8 509.4 99.1 502.3 99.4 508.5 99.6 505.9 99.9 505.3 100.2 508.5 100.4 512.0 100.7 507.9 101.0 509.8 101.2 514.7 101.5 511.4 101.7 511.0 102.0 506.3 102.3 512.1 102.5 507.7 102.8 514.5 103.1 516.1 103.3 506.6 103.6 510.1 103.9 509.7 104.1 514.5 104.4 504.6 104.7 513.3 104.9 513.0 105.2 509.6 105.4 511.2 105.7 508.9 106.0 510.4 106.2 508.7 106.5 504.7 106.8 507.4 107.0 507.6 107.3 511.0 107.6 507.9 107.8 510.7 108.1 512.4 108.4 508.1 108.6 510.8 108.9 505.2 109.1 509.6 109.4 512.2 109.7 512.0 109.9 518.0 110.2 507.7 110.5 509.5 110.7 509.4 111.0 507.4 111.3 509.1 111.5 505.9 111.8 508.4 112.1 516.8 112.3 507.3 112.6 511.5 112.8 512.4 113.1 512.6 113.4 510.7 113.6 509.8 113.9 511.1 114.2 511.4 114.4 505.8 114.7 512.3 115.0 509.4 115.2 511.1 115.5 511.2 115.8 509.9 116.0 506.8 116.3 505.6 116.5 510.9 116.8 507.7 117.1 505.9 117.3 507.9 117.6 509.0 117.9 512.5 118.1 506.5 118.4 510.1 118.7 509.4 118.9 507.9 119.2 506.5 119.5 512.6 119.7 508.5 120.0 509.8 120.2 508.3 120.5 513.8 120.8 509.9 121.0 507.8 121.3 511.5 121.6 509.4 121.8 506.2 122.1 504.7 122.4 507.2 122.6 507.4 122.9 504.3 123.2 502.6 123.4 509.3 123.7 509.0 123.9 510.7 124.2 505.0 124.5 508.7 124.7 509.0 125.0 507.6" fill="none" stroke="#111" stroke-width="1.4" stroke-linejoin="round"/><text x="224.6" y="23.4" font-size="24.2" font-weight="bold" fill="#151515" text-anchor="start" textLength="17.2" lengthAdjust="spacingAndGlyphs">B</text><text x="391.6" y="19.1" font-size="14.6" font-weight="bold" fill="#151515" text-anchor="start" textLength="77.4" lengthAdjust="spacingAndGlyphs">Operations</text><text x="238.9" y="35.0" font-size="8.8" font-weight="normal" fill="#4a4a4a" text-anchor="middle" textLength="10.6" lengthAdjust="spacingAndGlyphs">AR</text><text x="238.9" y="44.3" font-size="8.8" font-weight="normal" fill="#4a4a4a" text-anchor="middle" textLength="22.5" lengthAdjust="spacingAndGlyphs">model</text><text x="238.9" y="53.6" font-size="8.8" font-weight="normal" fill="#4a4a4a" text-anchor="middle" textLength="7" lengthAdjust="spacingAndGlyphs">fit</text><rect x="228.80" y="57.40" width="19.20" height="2.05" fill="#2f6db5"/><rect x="228.80" y="59.41" width="19.20" height="2.05" fill="#f26a3e"/><rect x="228.80" y="61.41" width="19.20" height="2.05" fill="#2f6db5"/><rect x="228.80" y="63.42" width="19.20" height="2.05" fill="#7a3567"/><rect x="228.80" y="65.42" width="19.20" height="2.05" fill="#faf6e2"/><rect x="228.80" y="67.42" width="19.20" height="2.05" fill="#7a3567"/><rect x="228.80" y="69.43" width="19.20" height="2.05" fill="#f26a3e"/><rect x="228.80" y="71.43" width="19.20" height="2.05" fill="#7a3567"/><rect x="228.80" y="73.44" width="19.20" height="2.05" fill="#fbd98a"/><rect x="228.80" y="75.44" width="19.20" height="2.05" fill="#2f6db5"/><rect x="228.80" y="77.45" width="19.20" height="2.05" fill="#7a3567"/><rect x="228.80" y="79.45" width="19.20" height="2.05" fill="#f26a3e"/><rect x="228.80" y="81.46" width="19.20" height="2.05" fill="#f9a35c"/><rect x="228.80" y="83.46" width="19.20" height="2.05" fill="#dd8c7c"/><rect x="228.80" y="85.47" width="19.20" height="2.05" fill="#fbd98a"/><rect x="228.80" y="87.47" width="19.20" height="2.05" fill="#9fd0ea"/><rect x="228.80" y="89.48" width="19.20" height="2.05" fill="#faf6e2"/><rect x="228.80" y="91.48" width="19.20" height="2.05" fill="#fbd98a"/><rect x="228.80" y="93.49" width="19.20" height="2.05" fill="#7a3567"/><rect x="228.80" y="95.49" width="19.20" height="2.05" fill="#f26a3e"/><rect x="228.80" y="97.50" width="19.20" height="2.05" fill="#7a3567"/><rect x="228.80" y="99.50" width="19.20" height="2.05" fill="#faf6e2"/><rect x="228.80" y="101.51" width="19.20" height="2.05" fill="#fbd98a"/><rect x="228.80" y="103.51" width="19.20" height="2.05" fill="#9fd0ea"/><rect x="228.80" y="105.52" width="19.20" height="2.05" fill="#d42a26"/><rect x="228.80" y="107.52" width="19.20" height="2.05" fill="#f26a3e"/><rect x="228.80" y="109.53" width="19.20" height="2.05" fill="#f9a35c"/><rect x="228.80" y="111.53" width="19.20" height="2.05" fill="#f26a3e"/><rect x="228.80" y="113.54" width="19.20" height="2.05" fill="#9fd0ea"/><rect x="228.80" y="115.54" width="19.20" height="2.05" fill="#faf6e2"/><rect x="228.80" y="117.55" width="19.20" height="2.05" fill="#fbd98a"/><rect x="228.80" y="119.55" width="19.20" height="2.05" fill="#dd8c7c"/><rect x="228.80" y="121.56" width="19.20" height="2.05" fill="#fbd98a"/><rect x="228.80" y="123.56" width="19.20" height="2.05" fill="#dd8c7c"/><rect x="228.80" y="125.57" width="19.20" height="2.05" fill="#f26a3e"/><rect x="228.80" y="127.57" width="19.20" height="4.06" fill="#9fd0ea"/><rect x="228.80" y="131.58" width="19.20" height="2.05" fill="#d42a26"/><rect x="228.80" y="133.59" width="19.20" height="2.05" fill="#2f6db5"/><rect x="228.80" y="135.59" width="19.20" height="2.05" fill="#7a3567"/><rect x="228.80" y="57.40" width="19.20" height="80.20" fill="none" stroke="#151515" stroke-width="1.6"/><text x="285.9" y="35.0" font-size="8.8" font-weight="normal" fill="#4a4a4a" text-anchor="middle" textLength="23.1" lengthAdjust="spacingAndGlyphs">sliding</text><text x="285.9" y="44.3" font-size="8.8" font-weight="normal" fill="#4a4a4a" text-anchor="middle" textLength="27.8" lengthAdjust="spacingAndGlyphs">window</text><text x="285.9" y="53.6" font-size="8.8" font-weight="normal" fill="#4a4a4a" text-anchor="middle" textLength="40.5" lengthAdjust="spacingAndGlyphs">stationarity</text><rect x="275.77" y="57.40" width="19.20" height="4.06" fill="#9fd0ea"/><rect x="275.77" y="61.41" width="19.20" height="2.05" fill="#fbd98a"/><rect x="275.77" y="63.41" width="19.20" height="2.05" fill="#faf6e2"/><rect x="275.77" y="65.42" width="19.20" height="2.05" fill="#f26a3e"/><rect x="275.77" y="67.42" width="19.20" height="4.06" fill="#d42a26"/><rect x="275.77" y="71.44" width="19.20" height="2.05" fill="#f26a3e"/><rect x="275.77" y="73.44" width="19.20" height="4.06" fill="#d42a26"/><rect x="275.77" y="77.45" width="19.20" height="2.05" fill="#fbd98a"/><rect x="275.77" y="79.45" width="19.20" height="2.05" fill="#f9a35c"/><rect x="275.77" y="81.46" width="19.20" height="4.06" fill="#2f6db5"/><rect x="275.77" y="85.47" width="19.20" height="2.05" fill="#dd8c7c"/><rect x="275.77" y="87.47" width="19.20" height="6.06" fill="#d42a26"/><rect x="275.77" y="93.49" width="19.20" height="2.05" fill="#dd8c7c"/><rect x="275.77" y="95.49" width="19.20" height="2.05" fill="#f26a3e"/><rect x="275.77" y="97.50" width="19.20" height="2.05" fill="#dd8c7c"/><rect x="275.77" y="99.50" width="19.20" height="2.05" fill="#f26a3e"/><rect x="275.77" y="101.51" width="19.20" height="2.05" fill="#2f6db5"/><rect x="275.77" y="103.51" width="19.20" height="2.05" fill="#faf6e2"/><rect x="275.77" y="105.52" width="19.20" height="2.05" fill="#2f6db5"/><rect x="275.77" y="107.52" width="19.20" height="2.05" fill="#f9a35c"/><rect x="275.77" y="109.53" width="19.20" height="2.05" fill="#2f6db5"/><rect x="275.77" y="111.53" width="19.20" height="2.05" fill="#fbd98a"/><rect x="275.77" y="113.54" width="19.20" height="2.05" fill="#f26a3e"/><rect x="275.77" y="115.54" width="19.20" height="8.07" fill="#d42a26"/><rect x="275.77" y="123.56" width="19.20" height="2.05" fill="#fbd98a"/><rect x="275.77" y="125.57" width="19.20" height="2.05" fill="#dd8c7c"/><rect x="275.77" y="127.57" width="19.20" height="4.06" fill="#d42a26"/><rect x="275.77" y="131.58" width="19.20" height="6.06" fill="#f26a3e"/><rect x="275.77" y="57.40" width="19.20" height="80.20" fill="none" stroke="#151515" stroke-width="1.6"/><text x="332.8" y="35.0" font-size="8.8" font-weight="normal" fill="#4a4a4a" text-anchor="middle" textLength="22.7" lengthAdjust="spacingAndGlyphs">power</text><text x="332.8" y="44.3" font-size="8.8" font-weight="normal" fill="#4a4a4a" text-anchor="middle" textLength="32.7" lengthAdjust="spacingAndGlyphs">spectrum</text><text x="332.8" y="53.6" font-size="8.8" font-weight="normal" fill="#4a4a4a" text-anchor="middle" textLength="30.5" lengthAdjust="spacingAndGlyphs">measure</text><rect x="322.74" y="57.40" width="19.20" height="2.05" fill="#faf6e2"/><rect x="322.74" y="59.41" width="19.20" height="2.05" fill="#2f6db5"/><rect x="322.74" y="61.41" width="19.20" height="2.05" fill="#9fd0ea"/><rect x="322.74" y="63.42" width="19.20" height="2.05" fill="#fbd98a"/><rect x="322.74" y="65.42" width="19.20" height="2.05" fill="#faf6e2"/><rect x="322.74" y="67.42" width="19.20" height="2.05" fill="#f26a3e"/><rect x="322.74" y="69.43" width="19.20" height="2.05" fill="#f9a35c"/><rect x="322.74" y="71.43" width="19.20" height="2.05" fill="#2f6db5"/><rect x="322.74" y="73.44" width="19.20" height="2.05" fill="#d42a26"/><rect x="322.74" y="75.44" width="19.20" height="2.05" fill="#fbd98a"/><rect x="322.74" y="77.45" width="19.20" height="2.05" fill="#2f6db5"/><rect x="322.74" y="79.45" width="19.20" height="4.06" fill="#fbd98a"/><rect x="322.74" y="83.46" width="19.20" height="2.05" fill="#2f6db5"/><rect x="322.74" y="85.47" width="19.20" height="6.06" fill="#fbd98a"/><rect x="322.74" y="91.48" width="19.20" height="2.05" fill="#7a3567"/><rect x="322.74" y="93.49" width="19.20" height="6.06" fill="#fbd98a"/><rect x="322.74" y="99.50" width="19.20" height="2.05" fill="#9aa3ad"/><rect x="322.74" y="101.51" width="19.20" height="2.05" fill="#faf6e2"/><rect x="322.74" y="103.51" width="19.20" height="2.05" fill="#9fd0ea"/><rect x="322.74" y="105.52" width="19.20" height="4.06" fill="#2f6db5"/><rect x="322.74" y="109.53" width="19.20" height="2.05" fill="#fbd98a"/><rect x="322.74" y="111.53" width="19.20" height="2.05" fill="#f9a35c"/><rect x="322.74" y="113.54" width="19.20" height="4.06" fill="#faf6e2"/><rect x="322.74" y="117.55" width="19.20" height="2.05" fill="#7a3567"/><rect x="322.74" y="119.55" width="19.20" height="4.06" fill="#9aa3ad"/><rect x="322.74" y="123.56" width="19.20" height="2.05" fill="#2f6db5"/><rect x="322.74" y="125.57" width="19.20" height="4.06" fill="#fbd98a"/><rect x="322.74" y="129.58" width="19.20" height="2.05" fill="#f9a35c"/><rect x="322.74" y="131.58" width="19.20" height="2.05" fill="#fbd98a"/><rect x="322.74" y="133.59" width="19.20" height="2.05" fill="#2f6db5"/><rect x="322.74" y="135.59" width="19.20" height="2.05" fill="#dd8c7c"/><rect x="322.74" y="57.40" width="19.20" height="80.20" fill="none" stroke="#151515" stroke-width="1.6"/><text x="379.8" y="44.3" font-size="8.8" font-weight="normal" fill="#4a4a4a" text-anchor="middle" textLength="36.9" lengthAdjust="spacingAndGlyphs">dimension</text><text x="379.8" y="53.6" font-size="8.8" font-weight="normal" fill="#4a4a4a" text-anchor="middle" textLength="30.6" lengthAdjust="spacingAndGlyphs">estimate</text><rect x="369.71" y="57.40" width="19.20" height="2.05" fill="#f9a35c"/><rect x="369.71" y="59.41" width="19.20" height="4.06" fill="#faf6e2"/><rect x="369.71" y="63.41" width="19.20" height="2.05" fill="#9fd0ea"/><rect x="369.71" y="65.42" width="19.20" height="2.05" fill="#dd8c7c"/><rect x="369.71" y="67.42" width="19.20" height="4.06" fill="#f26a3e"/><rect x="369.71" y="71.44" width="19.20" height="2.05" fill="#d42a26"/><rect x="369.71" y="73.44" width="19.20" height="4.06" fill="#fbd98a"/><rect x="369.71" y="77.45" width="19.20" height="2.05" fill="#f9a35c"/><rect x="369.71" y="79.45" width="19.20" height="2.05" fill="#9fd0ea"/><rect x="369.71" y="81.46" width="19.20" height="2.05" fill="#9aa3ad"/><rect x="369.71" y="83.46" width="19.20" height="2.05" fill="#fbd98a"/><rect x="369.71" y="85.47" width="19.20" height="2.05" fill="#faf6e2"/><rect x="369.71" y="87.47" width="19.20" height="2.05" fill="#2f6db5"/><rect x="369.71" y="89.48" width="19.20" height="2.05" fill="#f26a3e"/><rect x="369.71" y="91.48" width="19.20" height="2.05" fill="#d42a26"/><rect x="369.71" y="93.49" width="19.20" height="6.06" fill="#9fd0ea"/><rect x="369.71" y="99.50" width="19.20" height="2.05" fill="#2f6db5"/><rect x="369.71" y="101.51" width="19.20" height="2.05" fill="#9fd0ea"/><rect x="369.71" y="103.51" width="19.20" height="2.05" fill="#2f6db5"/><rect x="369.71" y="105.52" width="19.20" height="2.05" fill="#fbd98a"/><rect x="369.71" y="107.52" width="19.20" height="2.05" fill="#dd8c7c"/><rect x="369.71" y="109.53" width="19.20" height="2.05" fill="#9fd0ea"/><rect x="369.71" y="111.53" width="19.20" height="4.06" fill="#2f6db5"/><rect x="369.71" y="115.54" width="19.20" height="2.05" fill="#dd8c7c"/><rect x="369.71" y="117.55" width="19.20" height="4.06" fill="#f26a3e"/><rect x="369.71" y="121.56" width="19.20" height="4.06" fill="#d42a26"/><rect x="369.71" y="125.57" width="19.20" height="2.05" fill="#faf6e2"/><rect x="369.71" y="127.57" width="19.20" height="2.05" fill="#dd8c7c"/><rect x="369.71" y="129.58" width="19.20" height="2.05" fill="#9fd0ea"/><rect x="369.71" y="131.58" width="19.20" height="2.05" fill="#fbd98a"/><rect x="369.71" y="133.59" width="19.20" height="2.05" fill="#f26a3e"/><rect x="369.71" y="135.59" width="19.20" height="2.05" fill="#d42a26"/><rect x="369.71" y="57.40" width="19.20" height="80.20" fill="none" stroke="#151515" stroke-width="1.6"/><text x="426.8" y="44.3" font-size="8.8" font-weight="normal" fill="#4a4a4a" text-anchor="middle" textLength="47.2" lengthAdjust="spacingAndGlyphs">distributional</text><text x="426.8" y="53.6" font-size="8.8" font-weight="normal" fill="#4a4a4a" text-anchor="middle" textLength="30.2" lengthAdjust="spacingAndGlyphs">moment</text><rect x="416.68" y="57.40" width="19.20" height="2.05" fill="#faf6e2"/><rect x="416.68" y="59.41" width="19.20" height="2.05" fill="#d42a26"/><rect x="416.68" y="61.41" width="19.20" height="6.06" fill="#7a3567"/><rect x="416.68" y="67.42" width="19.20" height="2.05" fill="#f9a35c"/><rect x="416.68" y="69.43" width="19.20" height="2.05" fill="#fbd98a"/><rect x="416.68" y="71.43" width="19.20" height="2.05" fill="#faf6e2"/><rect x="416.68" y="73.44" width="19.20" height="2.05" fill="#fbd98a"/><rect x="416.68" y="75.44" width="19.20" height="2.05" fill="#9aa3ad"/><rect x="416.68" y="77.45" width="19.20" height="2.05" fill="#d42a26"/><rect x="416.68" y="79.45" width="19.20" height="2.05" fill="#2f6db5"/><rect x="416.68" y="81.46" width="19.20" height="2.05" fill="#7a3567"/><rect x="416.68" y="83.46" width="19.20" height="2.05" fill="#d42a26"/><rect x="416.68" y="85.47" width="19.20" height="2.05" fill="#fbd98a"/><rect x="416.68" y="87.47" width="19.20" height="2.05" fill="#faf6e2"/><rect x="416.68" y="89.48" width="19.20" height="2.05" fill="#dd8c7c"/><rect x="416.68" y="91.48" width="19.20" height="2.05" fill="#9fd0ea"/><rect x="416.68" y="93.49" width="19.20" height="2.05" fill="#9aa3ad"/><rect x="416.68" y="95.49" width="19.20" height="2.05" fill="#dd8c7c"/><rect x="416.68" y="97.50" width="19.20" height="2.05" fill="#f9a35c"/><rect x="416.68" y="99.50" width="19.20" height="2.05" fill="#9aa3ad"/><rect x="416.68" y="101.51" width="19.20" height="2.05" fill="#fbd98a"/><rect x="416.68" y="103.51" width="19.20" height="2.05" fill="#2f6db5"/><rect x="416.68" y="105.52" width="19.20" height="2.05" fill="#9fd0ea"/><rect x="416.68" y="107.52" width="19.20" height="2.05" fill="#f26a3e"/><rect x="416.68" y="109.53" width="19.20" height="4.06" fill="#fbd98a"/><rect x="416.68" y="113.54" width="19.20" height="2.05" fill="#2f6db5"/><rect x="416.68" y="115.54" width="19.20" height="2.05" fill="#faf6e2"/><rect x="416.68" y="117.55" width="19.20" height="4.06" fill="#fbd98a"/><rect x="416.68" y="121.56" width="19.20" height="2.05" fill="#faf6e2"/><rect x="416.68" y="123.56" width="19.20" height="2.05" fill="#f26a3e"/><rect x="416.68" y="125.57" width="19.20" height="2.05" fill="#faf6e2"/><rect x="416.68" y="127.57" width="19.20" height="2.05" fill="#2f6db5"/><rect x="416.68" y="129.58" width="19.20" height="2.05" fill="#dd8c7c"/><rect x="416.68" y="131.58" width="19.20" height="2.05" fill="#fbd98a"/><rect x="416.68" y="133.59" width="19.20" height="2.05" fill="#2f6db5"/><rect x="416.68" y="135.59" width="19.20" height="2.05" fill="#faf6e2"/><rect x="416.68" y="57.40" width="19.20" height="80.20" fill="none" stroke="#151515" stroke-width="1.6"/><text x="473.8" y="35.0" font-size="8.8" font-weight="normal" fill="#4a4a4a" text-anchor="middle" textLength="34.4" lengthAdjust="spacingAndGlyphs">nonlinear</text><text x="473.8" y="44.3" font-size="8.8" font-weight="normal" fill="#4a4a4a" text-anchor="middle" textLength="36.9" lengthAdjust="spacingAndGlyphs">prediction</text><text x="473.8" y="53.6" font-size="8.8" font-weight="normal" fill="#4a4a4a" text-anchor="middle" textLength="17.2" lengthAdjust="spacingAndGlyphs">error</text><rect x="463.65" y="57.40" width="19.20" height="2.05" fill="#d42a26"/><rect x="463.65" y="59.41" width="19.20" height="2.05" fill="#f26a3e"/><rect x="463.65" y="61.41" width="19.20" height="4.06" fill="#d42a26"/><rect x="463.65" y="65.42" width="19.20" height="2.05" fill="#f26a3e"/><rect x="463.65" y="67.42" width="19.20" height="4.06" fill="#d42a26"/><rect x="463.65" y="71.44" width="19.20" height="2.05" fill="#f26a3e"/><rect x="463.65" y="73.44" width="19.20" height="4.06" fill="#d42a26"/><rect x="463.65" y="77.45" width="19.20" height="2.05" fill="#dd8c7c"/><rect x="463.65" y="79.45" width="19.20" height="4.06" fill="#f26a3e"/><rect x="463.65" y="83.47" width="19.20" height="2.05" fill="#9fd0ea"/><rect x="463.65" y="85.47" width="19.20" height="2.05" fill="#fbd98a"/><rect x="463.65" y="87.47" width="19.20" height="2.05" fill="#9fd0ea"/><rect x="463.65" y="89.48" width="19.20" height="4.06" fill="#2f6db5"/><rect x="463.65" y="93.49" width="19.20" height="2.05" fill="#9fd0ea"/><rect x="463.65" y="95.49" width="19.20" height="4.06" fill="#f26a3e"/><rect x="463.65" y="99.50" width="19.20" height="2.05" fill="#faf6e2"/><rect x="463.65" y="101.51" width="19.20" height="8.07" fill="#2f6db5"/><rect x="463.65" y="109.53" width="19.20" height="2.05" fill="#9aa3ad"/><rect x="463.65" y="111.53" width="19.20" height="2.05" fill="#9fd0ea"/><rect x="463.65" y="113.54" width="19.20" height="2.05" fill="#2f6db5"/><rect x="463.65" y="115.54" width="19.20" height="2.05" fill="#dd8c7c"/><rect x="463.65" y="117.55" width="19.20" height="2.05" fill="#fbd98a"/><rect x="463.65" y="119.55" width="19.20" height="2.05" fill="#d42a26"/><rect x="463.65" y="121.56" width="19.20" height="2.05" fill="#f26a3e"/><rect x="463.65" y="123.56" width="19.20" height="2.05" fill="#2f6db5"/><rect x="463.65" y="125.57" width="19.20" height="2.05" fill="#9fd0ea"/><rect x="463.65" y="127.57" width="19.20" height="2.05" fill="#2f6db5"/><rect x="463.65" y="129.58" width="19.20" height="4.06" fill="#faf6e2"/><rect x="463.65" y="133.59" width="19.20" height="2.05" fill="#9fd0ea"/><rect x="463.65" y="135.59" width="19.20" height="2.05" fill="#f26a3e"/><rect x="463.65" y="57.40" width="19.20" height="80.20" fill="none" stroke="#151515" stroke-width="1.6"/><text x="520.7" y="44.3" font-size="8.8" font-weight="normal" fill="#4a4a4a" text-anchor="middle" textLength="27.3" lengthAdjust="spacingAndGlyphs">wavelet</text><text x="520.7" y="53.6" font-size="8.8" font-weight="normal" fill="#4a4a4a" text-anchor="middle" textLength="39.4" lengthAdjust="spacingAndGlyphs">coefficients</text><rect x="510.62" y="57.40" width="19.20" height="12.08" fill="#d42a26"/><rect x="510.62" y="69.43" width="19.20" height="2.05" fill="#f26a3e"/><rect x="510.62" y="71.43" width="19.20" height="2.05" fill="#2f6db5"/><rect x="510.62" y="73.44" width="19.20" height="2.05" fill="#dd8c7c"/><rect x="510.62" y="75.44" width="19.20" height="2.05" fill="#f9a35c"/><rect x="510.62" y="77.45" width="19.20" height="2.05" fill="#9fd0ea"/><rect x="510.62" y="79.45" width="19.20" height="4.06" fill="#d42a26"/><rect x="510.62" y="83.46" width="19.20" height="4.06" fill="#f26a3e"/><rect x="510.62" y="87.47" width="19.20" height="2.05" fill="#fbd98a"/><rect x="510.62" y="89.48" width="19.20" height="2.05" fill="#9fd0ea"/><rect x="510.62" y="91.48" width="19.20" height="2.05" fill="#f9a35c"/><rect x="510.62" y="93.49" width="19.20" height="2.05" fill="#f26a3e"/><rect x="510.62" y="95.49" width="19.20" height="4.06" fill="#f9a35c"/><rect x="510.62" y="99.50" width="19.20" height="2.05" fill="#9fd0ea"/><rect x="510.62" y="101.51" width="19.20" height="6.06" fill="#fbd98a"/><rect x="510.62" y="107.52" width="19.20" height="2.05" fill="#f26a3e"/><rect x="510.62" y="109.53" width="19.20" height="2.05" fill="#d42a26"/><rect x="510.62" y="111.53" width="19.20" height="2.05" fill="#dd8c7c"/><rect x="510.62" y="113.54" width="19.20" height="2.05" fill="#fbd98a"/><rect x="510.62" y="115.54" width="19.20" height="2.05" fill="#faf6e2"/><rect x="510.62" y="117.55" width="19.20" height="2.05" fill="#9fd0ea"/><rect x="510.62" y="119.55" width="19.20" height="2.05" fill="#f26a3e"/><rect x="510.62" y="121.56" width="19.20" height="2.05" fill="#fbd98a"/><rect x="510.62" y="123.56" width="19.20" height="2.05" fill="#faf6e2"/><rect x="510.62" y="125.57" width="19.20" height="2.05" fill="#f26a3e"/><rect x="510.62" y="127.57" width="19.20" height="2.05" fill="#faf6e2"/><rect x="510.62" y="129.58" width="19.20" height="4.06" fill="#9fd0ea"/><rect x="510.62" y="133.59" width="19.20" height="2.05" fill="#2f6db5"/><rect x="510.62" y="135.59" width="19.20" height="2.05" fill="#d42a26"/><rect x="510.62" y="57.40" width="19.20" height="80.20" fill="none" stroke="#151515" stroke-width="1.6"/><text x="567.7" y="44.3" font-size="8.8" font-weight="normal" fill="#4a4a4a" text-anchor="middle" textLength="26.2" lengthAdjust="spacingAndGlyphs">Sample</text><text x="567.7" y="53.6" font-size="8.8" font-weight="normal" fill="#4a4a4a" text-anchor="middle" textLength="28" lengthAdjust="spacingAndGlyphs">Entropy</text><rect x="557.59" y="57.40" width="19.20" height="6.06" fill="#d42a26"/><rect x="557.59" y="63.41" width="19.20" height="4.06" fill="#f26a3e"/><rect x="557.59" y="67.42" width="19.20" height="4.06" fill="#d42a26"/><rect x="557.59" y="71.44" width="19.20" height="6.06" fill="#f26a3e"/><rect x="557.59" y="77.45" width="19.20" height="2.05" fill="#faf6e2"/><rect x="557.59" y="79.45" width="19.20" height="2.05" fill="#f26a3e"/><rect x="557.59" y="81.46" width="19.20" height="2.05" fill="#d42a26"/><rect x="557.59" y="83.46" width="19.20" height="2.05" fill="#faf6e2"/><rect x="557.59" y="85.47" width="19.20" height="4.06" fill="#9fd0ea"/><rect x="557.59" y="89.48" width="19.20" height="2.05" fill="#f26a3e"/><rect x="557.59" y="91.48" width="19.20" height="2.05" fill="#9aa3ad"/><rect x="557.59" y="93.49" width="19.20" height="2.05" fill="#fbd98a"/><rect x="557.59" y="95.49" width="19.20" height="4.06" fill="#f26a3e"/><rect x="557.59" y="99.50" width="19.20" height="4.06" fill="#d42a26"/><rect x="557.59" y="103.51" width="19.20" height="4.06" fill="#2f6db5"/><rect x="557.59" y="107.52" width="19.20" height="2.05" fill="#dd8c7c"/><rect x="557.59" y="109.53" width="19.20" height="4.06" fill="#f26a3e"/><rect x="557.59" y="113.54" width="19.20" height="2.05" fill="#2f6db5"/><rect x="557.59" y="115.54" width="19.20" height="4.06" fill="#f26a3e"/><rect x="557.59" y="119.55" width="19.20" height="2.05" fill="#d42a26"/><rect x="557.59" y="121.56" width="19.20" height="2.05" fill="#fbd98a"/><rect x="557.59" y="123.56" width="19.20" height="6.06" fill="#2f6db5"/><rect x="557.59" y="129.58" width="19.20" height="2.05" fill="#9fd0ea"/><rect x="557.59" y="131.58" width="19.20" height="2.05" fill="#fbd98a"/><rect x="557.59" y="133.59" width="19.20" height="2.05" fill="#dd8c7c"/><rect x="557.59" y="135.59" width="19.20" height="2.05" fill="#d42a26"/><rect x="557.59" y="57.40" width="19.20" height="80.20" fill="none" stroke="#151515" stroke-width="1.6"/><text x="614.7" y="44.3" font-size="8.8" font-weight="normal" fill="#4a4a4a" text-anchor="middle" textLength="38.9" lengthAdjust="spacingAndGlyphs">fluctuation</text><text x="614.7" y="53.6" font-size="8.8" font-weight="normal" fill="#4a4a4a" text-anchor="middle" textLength="26.2" lengthAdjust="spacingAndGlyphs">analysis</text><rect x="604.56" y="57.40" width="19.20" height="2.05" fill="#fbd98a"/><rect x="604.56" y="59.41" width="19.20" height="2.05" fill="#7a3567"/><rect x="604.56" y="61.41" width="19.20" height="2.05" fill="#9fd0ea"/><rect x="604.56" y="63.42" width="19.20" height="2.05" fill="#fbd98a"/><rect x="604.56" y="65.42" width="19.20" height="2.05" fill="#9fd0ea"/><rect x="604.56" y="67.42" width="19.20" height="2.05" fill="#f26a3e"/><rect x="604.56" y="69.43" width="19.20" height="2.05" fill="#fbd98a"/><rect x="604.56" y="71.43" width="19.20" height="2.05" fill="#2f6db5"/><rect x="604.56" y="73.44" width="19.20" height="2.05" fill="#9fd0ea"/><rect x="604.56" y="75.44" width="19.20" height="2.05" fill="#fbd98a"/><rect x="604.56" y="77.45" width="19.20" height="2.05" fill="#f26a3e"/><rect x="604.56" y="79.45" width="19.20" height="2.05" fill="#faf6e2"/><rect x="604.56" y="81.46" width="19.20" height="2.05" fill="#9fd0ea"/><rect x="604.56" y="83.46" width="19.20" height="2.05" fill="#2f6db5"/><rect x="604.56" y="85.47" width="19.20" height="2.05" fill="#dd8c7c"/><rect x="604.56" y="87.47" width="19.20" height="2.05" fill="#fbd98a"/><rect x="604.56" y="89.48" width="19.20" height="2.05" fill="#f26a3e"/><rect x="604.56" y="91.48" width="19.20" height="2.05" fill="#9fd0ea"/><rect x="604.56" y="93.49" width="19.20" height="2.05" fill="#f9a35c"/><rect x="604.56" y="95.49" width="19.20" height="2.05" fill="#faf6e2"/><rect x="604.56" y="97.50" width="19.20" height="2.05" fill="#9fd0ea"/><rect x="604.56" y="99.50" width="19.20" height="2.05" fill="#dd8c7c"/><rect x="604.56" y="101.51" width="19.20" height="2.05" fill="#9fd0ea"/><rect x="604.56" y="103.51" width="19.20" height="2.05" fill="#faf6e2"/><rect x="604.56" y="105.52" width="19.20" height="2.05" fill="#dd8c7c"/><rect x="604.56" y="107.52" width="19.20" height="2.05" fill="#faf6e2"/><rect x="604.56" y="109.53" width="19.20" height="4.06" fill="#f26a3e"/><rect x="604.56" y="113.54" width="19.20" height="2.05" fill="#7a3567"/><rect x="604.56" y="115.54" width="19.20" height="2.05" fill="#faf6e2"/><rect x="604.56" y="117.55" width="19.20" height="2.05" fill="#d42a26"/><rect x="604.56" y="119.55" width="19.20" height="4.06" fill="#faf6e2"/><rect x="604.56" y="123.56" width="19.20" height="4.06" fill="#fbd98a"/><rect x="604.56" y="127.57" width="19.20" height="2.05" fill="#dd8c7c"/><rect x="604.56" y="129.58" width="19.20" height="2.05" fill="#fbd98a"/><rect x="604.56" y="131.58" width="19.20" height="2.05" fill="#f26a3e"/><rect x="604.56" y="133.59" width="19.20" height="2.05" fill="#fbd98a"/><rect x="604.56" y="135.59" width="19.20" height="2.05" fill="#faf6e2"/><rect x="604.56" y="57.40" width="19.20" height="80.20" fill="none" stroke="#151515" stroke-width="1.6"/><text x="235.0" y="173.0" font-size="24.2" font-weight="bold" fill="#151515" text-anchor="start" textLength="16.2" lengthAdjust="spacingAndGlyphs">C</text><text x="402.4" y="163.0" font-size="14.6" font-weight="normal" fill="#151515" text-anchor="start" textLength="78.2" lengthAdjust="spacingAndGlyphs">Operations</text><text transform="translate(254 389.7) rotate(-90)" font-size="15.6" fill="#151515" textLength="85" lengthAdjust="spacingAndGlyphs">Time series</text><defs><clipPath id="hc"><rect x="265.0" y="171.0" width="352.0" height="351.0"/></clipPath></defs><g clip-path="url(#hc)"><g><rect x="263.0" y="169.0" width="356.0" height="355.0" fill="#eef3ea"/><g stroke-width="1" transform="translate(265.5 171) scale(1 2)"><path stroke="#2f68b3" stroke-width="1" d="M0 50v1m0 2v1m0 118v1m0 2v1m1-122v2m0 105v1m1-140v1m0 1v8m0 16v1m0 4v1m1 34v3m0 2v2m1-49v6m1-28v4m0 1v3m0 61v1m1-84v1m0 6v7m0 22v1m0 1v2m0 1v1m0 40v1m2-2v2m0 69v6m0 3v1m0 2v2m1-151v7m0 14v6m0 38v9m0 57v1m0 4v1m0 2v1m0 5v1m2-161v7m0 7v8m0 14v10m1-56v17m0 7v28m0 2v7m0 3v4m0 1v1m0 13v8m0 3v2m0 2v1m0 56v3m0 1v1m0 1v7m0 6v2m1-176v3m0 4v1m0 1v2m0 2v1m0 3v16m0 2v17m0 2v10m1-60v2m0 11v1m0 6v17m0 1v4m0 2v1m0 3v17m0 1v1m0 1v4m0 1v3m0 3v8m1-91v6m0 2v1m0 1v1m0 1v1m0 4v35m0 2v10m0 27v1m0 3v1m0 1v1m0 60v2m1-160v17m0 16v19m0 2v10m0 6v6m0 1v6m0 8v2m0 69v6m1-168v1m0 1v1m0 3v3m0 1v3m0 2v2m1-17v1m0 16v7m1-24v14m0 2v1m0 7v10m0 3v1m0 4v1m0 1v2m0 21v1m0 2v13m0 8v2m1-93v34m0 8v6m0 1v3m0 2v4m0 1v2m0 1v1m0 5v1m0 1v23m0 22v2m0 1v4m0 1v1m0 1v3m1-125v1m0 4v2m0 2v2m0 19v9m0 9v1m0 31v1m0 7v2m1-90v1m0 2v3m0 8v1m0 2v1m0 31v2m0 7v6m0 2v2m0 2v1m0 2v1m0 2v1m1-80v18m0 3v12m0 1v5m0 2v1m0 16v1m0 2v1m0 9v2m0 2v1m0 3v5m0 3v1m1-88v11m0 2v2m0 17v1m0 19v2m0 8v1m1-30v9m0 3v1m0 24v1m0 1v11m1-80v3m0 1v2m0 8v14m0 1v1m0 9v6m0 1v3m0 2v7m0 9v16m0 1v1m0 2v1m1-91v6m0 2v3m0 2v1m0 10v9m0 1v2m0 1v1m0 5v1m0 3v1m0 6v10m0 14v2m0 1v2m0 1v1m0 7v1m0 63v6m1-160v13m0 19v1m0 1v5m0 1v1m0 1v2m0 3v2m0 3v7m1-61v15m0 1v1m1-9v1m0 1v2m0 1v1m1-14v14m0 1v17m0 20v1m0 1v2m0 20v3m0 1v2m0 2v4m0 68v1m1-157v17m0 7v8m0 20v2m1-51v12m0 1v1m0 2v1m0 6v3m0 1v2m0 14v6m0 2v2m1-56v14m0 1v1m0 1v10m0 1v1m0 1v2m0 14v8m0 29v1m0 71v4m0 15v2m1-176v1m0 5v7m0 11v2m0 1v1m0 2v2m0 20v2m1-54v1m0 5v9m0 1v1m0 1v1m0 1v2m0 1v1m1-24v24m0 1v2m0 1v3m0 23v2m1-53v1m0 1v8m1-13v3m0 1v2m0 4v1m0 1v1m0 11v8m1-32v3m0 3v11m0 7v2m0 1v5m1-32v14m0 10v8m0 23v1m1-56v1m0 1v1m0 17v4m1-24v18m0 1v2m0 2v6m0 1v2m0 14v10m1-54v12m0 1v2m0 30v1m1-48v3m0 3v4m0 1v4m0 1v1m0 10v1m0 3v2m0 9v10m0 2v5m0 2v1m0 2v1m0 1v1m0 2v2m0 12v1m0 3v1m1-88v47m0 4v37m0 81v1m1-166v1m0 4v1m0 7v7m0 20v3m0 1v1m0 3v9m0 3v1m0 1v2m0 1v1m0 14v1m0 2v1m0 77v3m1-165v3m0 18v1m0 2v1m0 2v3m0 4v1m0 1v1m0 2v5m0 2v1m0 11v9m0 13v6m0 1v1m0 2v4m0 1v1m0 3v1m0 1v8m0 1v2m0 26v1m0 3v5m1-147v3m0 1v1m0 7v1m0 1v3m0 1v2m0 1v1m0 4v1m0 1v1m0 7v1m0 2v1m0 2v1m0 6v2m0 3v2m1-59v17m0 3v1m0 3v11m0 1v2m0 1v1m0 1v14m0 1v2m0 1v5m0 1v2m0 1v1m0 1v22m0 1v1m0 1v2m0 13v1m0 17v7m0 2v3m0 6v2m0 14v1m0 1v2m1-166v3m0 14v38m0 1v3m0 1v4m0 7v4m0 1v1m0 1v4m0 1v8m0 10v14m0 35v17m0 1v8m1-124v1m0 1v2m0 108v1m0 1v1m1-150v1m0 28v6m0 2v2m0 37v6m1-95v1m0 47v1m0 40v6m1-99v4m0 2v3m0 1v3m0 35v1m0 4v1m2-54v3m0 14v1m0 5v1m0 9v5m0 1v1m0 1v1m0 4v3m0 1v1m0 1v2m0 11v1m0 3v1m0 18v1m0 1v1m2-91v2m1-2v17m0 37v7m0 32v1m0 2v1m1-94v3m0 46v2m0 115v1m1-124v1m0 4v1m2-49v3m0 27v5m0 1v3m0 5v1m0 1v1m0 2v9m0 23v3m0 1v3m0 11v2m0 29v1m0 31v3m0 3v5m1-129v1m0 1v1m0 4v2m0 118v2m1-176v3m0 24v4m0 19v2m1-49v3m0 40v2m0 1v1m0 1v3m1-54v1m0 1v1m0 39v10m0 2v2m0 37v8m0 6v1m1-102v1m1-7v14m0 32v2m0 1v3m0 2v2m0 8v6m0 23v6m0 1v1m0 17v1m0 1v5m0 2v1m0 25v1m0 2v1m0 3v4m0 1v3m1-168v3m0 6v1m0 142v2m0 1v4m0 1v2m1-155v1m0 1v1m0 1v2m1-13v14m0 32v10m0 32v2m1-90v14m0 40v1m0 116v5m1-176v14m0 19v1m0 3v1m0 1v1m0 6v1m0 2v1m0 1v3m0 39v8m0 41v1m0 23v1m1-167v3m0 3v6m0 1v1m0 77v2m1-85v1m0 43v2m1-50v1m1-5v14m0 32v8m0 1v1m0 28v1m0 3v5m1-93v3m0 3v1m0 2v5m0 32v1m0 1v1m0 1v2m0 3v1m0 35v1m1-89v11m0 32v2m0 1v1m1-44v1m0 1v1m1-6v11m1-14v3m0 3v8m0 32v1m0 5v2m0 15v1m0 21v7m0 69v1m1-168v3m0 4v1m0 1v1m0 42v2m0 43v1m1-86v1m0 36v1m0 1v1m0 3v1m0 40v1m1-97v1m0 1v2m0 7v1m0 1v1m1-14v2m0 4v1m0 4v3m0 32v8m0 39v6m0 3v2m1-101v3m0 87v6m1-93v8m1-11v3m0 42v1m0 5v2m0 32v1m0 1v1m1-88v11m1-11v11m0 32v6m0 1v1m0 34v4m1-92v8m0 1v1m0 1v1m0 1v1m0 74v3m0 1v1m1-82v1m1-12v3m0 3v1m0 5v1m0 41v2m0 32v4m1-89v3m0 1v1m0 3v1m0 34v7m0 1v9m0 2v1m0 1v3m0 21v2m1-83v2m0 1v1m0 41v1m1 63v1m0 48v3m1-96v2m0 4v1m1-82v3m0 3v6m0 2v1m0 78v6m0 1v1m2-98v7m0 1v3m0 2v1m0 34v1m0 13v1m0 17v8m0 17v1m0 32v9m0 6v1m0 1v2m3-118v10m0 9v3m0 64v1m0 1v1m0 1v15m0 1v1m0 13v6m1-168v3m0 23v1m0 1v1m0 2v1m0 21v1m0 7v1m0 22v1m0 85v1m1-124v1m0 2v1m0 19v1m0 1v1m0 1v2m0 2v1m0 15v2m1-79v1m0 28v1m0 7v7m0 10v4m0 1v7m0 1v7m0 50v9m1-84v4m0 92v5m1-121v1m0 23v13m0 8v2m1 57v1m0 6v3m1-112v2m0 1v1m1 12v3m2-44v1m0 147v1m1-161v1m0 2v3m1 7v9m0 9v2m0 1v9m0 7v3m0 41v12m0 3v2m0 4v2m0 25v5m0 1v3m0 10v4m1-174v1m0 14v7m0 22v1m0 1v1m0 1v2m0 49v3m0 46v12m0 8v1m2-85v1m0 1v3m0 28v1m0 5v1m0 46v1m1-119v7m0 85v1m1-114v7m0 1v1m0 56v1m4-8v2m0 36v1m0 1v1m0 6v1m1-123v1m0 25v1m0 3v2m0 2v1m0 37v5m0 57v1m0 1v1m0 1v1m0 16v5m1-93v8m0 24v13m0 20v1m1-51v1m0 2v14m0 13v3m0 1v1m0 3v2m0 1v2m0 2v6m1-96v1m0 49v12m0 1v4m0 1v9m0 1v10m0 3v6m0 3v1m1-56v1m0 1v15m0 21v1m1 17v1m0 15v1m1-127v1m0 1v1m0 2v2m0 68v1m0 30v2m1-149v3m0 2v1m0 1v1m0 117v2m0 1v8m0 1v1m0 9v4m0 9v1m1-162v2m0 1v1m0 40v6m0 39v2m0 8v5m0 2v2m0 1v5m0 1v3m0 2v1m0 1v6m0 8v1m0 2v9m0 18v1m1-166v1m0 1v1m1 145v1m1-100v1m0 77v1m0 1v1m0 6v1m1-135v1m1 0v11m0 35v2m0 7v3m0 6v3m0 1v1m0 97v4m1-176v6m0 4v1m0 43v7m0 3v2m0 1v1m0 2v3m0 10v1m0 1v1m2-79v3m3 1v2m0 5v6m0 43v1m0 2v2m0 1v2m0 6v1m0 46v13m3-111v1m2-29v1m0 126v1m0 1v1m0 1v1m0 1v2m0 3v1m0 20v1m1-34v10m0 1v2m1-141v3m0 2v2m0 4v1m0 21v1m0 1v1m0 2v2m0 15v1m0 1v1m0 1v1m0 5v2m0 1v2m0 44v1m0 26v24m0 1v1m0 1v1m1-94v1m0 17v8m0 3v1m0 1v2m0 59v1m1-168v3m0 4v1m0 5v1m0 15v1m0 34v6m0 20v1m0 2v8m0 70v5m1-169v3m0 1v3m0 11v8m0 50v2m0 1v5m0 54v1m0 28v2m1-61v13m0 15v4m0 1v2m1-140v1m0 1v1m2-13v3m0 5v1m0 153v1m0 2v1m1-133v6m0 2v1m0 74v1m0 1v8m0 1v1m0 3v1m0 3v1m1-72v2m0 1v3m0 3v1m0 11v1m1-85v16m0 19v1m0 54v1m0 23v1m0 2v1m0 2v3m1 28v1m0 2v1m0 1v1m1-155v3m0 89v1m0 1v2m0 30v2m0 37v3m1-78v3m0 2v1m0 74v1m1-169v1m0 6v1m0 48v3m0 107v1m0 1v1m1-110v6m1-70v3m0 1v1m0 12v7m0 5v1m0 8v1m0 54v1m0 2v1m0 18v6m0 1v38m0 1v1m0 7v1m1-76v1m0 1v1m1-64v1m0 1v1m0 1v1m0 14v2m0 7v1m0 35v1m0 43v1m0 1v3m0 2v2m1-144v8m0 75v1m0 40v1m0 1v1m0 2v2m0 2v1m0 10v12m1-141v2m0 19v10m1-49v3m0 40v1m0 55v1m0 27v1m0 3v1m0 2v1m0 2v1m0 2v1m0 5v1m1-149v1m0 1v4m0 1v4m0 1v3m0 1v1m0 1v1m0 1v1m1-20v1m0 8v1m0 5v7m0 30v7m0 22v6m0 1v1m0 32v3m1-123v3m0 11v6m0 1v1m0 1v7m0 9v10m0 2v4m0 2v1m0 54v2m0 1v4m0 1v5m1-128v3m0 5v1m0 25v5m0 3v12m0 38v1m2-90v3m0 36v10m1-35v1m0 1v3m0 1v1m0 9v9m0 10v2m0 108v1m0 3v1m2-161v1m0 1v1m0 2v1m0 1v4m0 25v10m0 2v7m0 9v21m0 33v1m2-101v9m0 21v7m0 107v3m1-96v2m1 49v1m1-65v1m0 10v7m0 11v1m0 38v2m0 1v1m0 1v2m0 13v4m0 2v4m0 2v2m0 2v1m1-83v1m0 2v1m1-14v1m5-12v1m0 30v1m0 1v4m0 10v1m0 6v1m1-118v3m0 70v2m0 1v2m0 2v1m0 20v3m2-101v4m0 17v6m0 1v11m0 12v5m0 14v3m0 1v1m0 23v3m0 58v1m0 4v1m0 1v1m1-162v1m0 5v1m0 59v1m0 29v11m1-115v3m0 49v2m0 40v2m0 1v12m0 1v13m1-123v3m0 14v10m0 1v3m0 1v1m0 19v2m0 39v11m0 11v7m0 42v2m1-112v1m0 2v1m0 1v1m0 13v1m0 21v3m0 30v4m0 1v5m2-45v8m1-68v2m0 1v2m0 1v2m0 32v5m0 17v1m0 1v7m0 12v1m0 2v1m1-14v2m0 1v1m0 2v1m0 2v2m0 5v1m1-119v2m0 18v9m0 31v2m0 1v3m0 24v7m0 28v1m0 3v4m1-134v3m0 95v5m0 3v1m0 1v1m0 2v1m1-20v4m0 1v4m0 11v7m1-122v17m0 3v4m0 22v1m0 1v1m0 2v4m0 1v1m0 4v3m0 9v5m0 7v1m0 2v1m0 3v1m0 8v22m0 1v1m0 1v1m0 4v1m0 30v6m1-162v6m0 2v1m0 86v15m0 2v2m1-120v6m0 2v2m0 34v1m0 3v4m0 41v22m1-109v4m0 1v4m0 37v2m0 19v5m0 5v2m0 5v1m0 3v7m0 1v2m0 13v2m1-119v3m0 15v1m0 1v2m0 1v1m0 9v9m0 11v1m0 1v1m0 19v3m0 16v6m0 3v4m0 1v5m0 15v3m0 1v4m0 1v1m1-132v2m0 1v3m0 1v1m0 19v9m0 31v5m0 16v1m0 6v1m0 1v1m1-101v3m0 1v1m0 3v1m0 2v1m0 58v5m0 23v14m0 4v1m0 9v3m0 5v1m0 22v1m0 12v1m1-174v3m2 0v3m0 2v1m0 1v1m0 1v1m0 60v5m2-71v1m0 2v2m0 2v1m0 55v13m0 18v1m0 11v1m0 17v1m1-132v15m0 9v1m0 2v3m0 1v1m0 1v7m0 1v1m0 10v7m0 1v3m0 1v1m0 1v3m0 4v5m0 5v8m0 3v21m1-38v1m1-78v1m0 1v1m0 72v1m1-70v9m0 41v1m0 11v1m1-69v3m0 73v1m0 14v1m1-91v2m1 1v1m0 47v2m0 7v3m0 10v1m0 29v19m0 5v4m0 1v1m0 1v1m0 26v1m1-139v9m0 21v5m0 1v1m0 5v3m0 33v1m0 60v1m0 2v1m1-102v1m0 1v1m0 27v3m0 1v1m0 2v2m0 11v1m0 1v1m1-112v11m0 98v8m1-90v9m0 59v4m0 10v8m0 4v1m2-26v1m1-97v1m0 1v3m0 1v4m0 38v7m0 32v9m0 49v1m0 1v1m0 3v1m1-101v1m0 46v10m1 3v1m0 2v1m2 0v1m1-67v2m0 1v1m0 11v1m0 1v6m0 2v3m0 45v10m1-65v1m0 9v5m0 2v1m0 32v1m0 1v1m2 3v1m0 1v2m0 1v1m0 2v1m1-10v14m0 1v1m0 1v5m1-20v1m2-36v6m0 14v13m0 21v13m1-67v4m0 5v1m0 1v4m0 1v1m0 2v1m0 2v3m0 3v5m0 5v1m0 7v9m0 3v4m0 1v1m0 1v1m1-11v12m1-154v2m0 1v2m0 60v1m0 3v1m0 16v1m0 6v14m0 13v13m0 9v12m1-60v1m1-9v1m0 1v6m0 1v1m0 37v9m1-56v7m0 1v2m0 1v5m0 1v39m1-34v1m0 2v1m0 3v4m1 4v1m0 1v1m0 2v3m0 11v2m0 1v1m0 1v5m0 1v1m1-61v3m0 1v10m0 13v12m0 1v4m0 1v16m1-34v13m1-65v1m0 17v1m0 1v1m0 7v11m0 13v13m1-71v16m0 1v2m0 2v2m0 4v1m0 3v29m0 6v1m0 1v1m0 11v12m0 9v1m0 1v1m1-91v1m0 2v1m0 7v11m0 1v3m0 1v6m0 1v2m0 3v6m0 2v7m0 13v12m0 7v1m1-47v3m0 3v2m0 1v1m0 1v1m0 2v1m0 3v9m1-51v1m0 25v1m0 18v2m0 1v1m0 6v1m1-85v1m0 49v1m0 2v5m1-33v1m0 1v3m0 27v1m0 23v1m0 2v2m0 1v1m0 1v2m1-70v1m0 7v1m0 18v1m0 4v9m0 1v5m0 3v9m1-56v7m0 14v3m0 1v9m0 8v1m0 5v3m0 2v3m0 3v1m0 3v1m0 2v1m0 11v1m2-45v1m0 2v3m0 1v1m0 1v2m0 3v1m0 4v1m0 1v1m1-56v1m0 2v4m0 24v1m0 24v8m0 1v3m1-58v1m0 1v9m0 9v1m0 1v2m0 22v12m1-68v2m0 2v1m0 1v1m0 3v8m0 1v16m0 2v1m0 2v4m0 12v12m1-104v1m0 35v7m0 3v10m0 14v34m1-58v1m0 3v4m0 1v2m0 15v1m2-30v3m0 11v14m0 6v2m0 4v10m0 3v1m1-85v3m0 3v3m0 15v7m0 27v7m0 1v2m0 1v1m1-7v1m0 7v21m1-39v1m0 3v1m0 9v1m0 3v9m0 1v2m0 3v3m0 1v2m1-90v1m0 21v1m0 2v1m0 3v14m0 13v13m0 11v1m0 1v1m0 2v2m1-58v1m0 26v1m0 11v1m0 9v11m1-97v2m0 3v1m0 24v9m0 1v11m0 8v1m0 4v2m0 1v3m0 1v1m0 1v1m0 7v2m0 2v13m0 1v1m0 4v3m2-62v1m0 18v22m0 2v1m1-59v1m0 1v1m0 4v2m0 2v1m0 2v1m0 16v1m0 1v14m0 9v12m1-68v1m0 3v1m0 1v1m0 22v1m0 1v1m0 3v2m0 16v1m0 2v12m1-68v7m0 27v13m0 2v1m0 6v2m0 1v1m0 1v3m0 1v2m1-91v1m0 2v5m0 4v1m0 19v2m0 2v1m0 3v1m0 2v1m0 21v1m0 16v1m0 1v1m0 1v1m0 1v1m0 1v1m1-103v3m0 40v37m0 1v2m0 7v1m0 22v5m1-72v1m0 5v1m0 3v1m0 13v13m0 4v1m0 1v1m0 2v1m0 4v1m0 1v2m0 1v1m1-33v1m0 1v2m1-32v1m0 3v1m0 1v1m0 2v1m0 10v1m0 4v1m0 1v1m0 3v6m0 1v3m0 10v2m0 2v4m1-69v1m1-28v1m0 77v9m0 22v1m1-115v3m0 89v12m1-98v5m0 25v6m0 2v1m0 1v6m0 1v3m0 1v14m0 6v1m0 2v12m0 10v1m0 12v1m0 1v1m1-104v1m0 28v3m0 3v2m0 1v1m0 3v14m0 22v4m0 1v6m0 1v1m0 4v1m2-18v4m0 1v3m0 1v3m2-104v1m0 46v7m0 28v1m0 13v8m0 10v4m1-170v9m0 156v1m2-166v9m0 51v1m0 29v5m0 3v24m0 22v7m0 1v4m1-162v5m0 136v21m0 9v1m0 3v1m1-170v1m0 2v2m0 1v3m0 126v2m0 1v1m0 1v2m1-145v3m0 95v1m0 2v1m0 1v6m0 1v2m0 26v4m0 1v1m0 1v2m1-147v1m0 97v3m1-104v3m0 91v1m0 2v4m0 49v12m1-68v9m0 1v11m0 35v12m1-162v3m2 113v1m0 1v1m0 1v1m1-118v3m0 40v6m0 2v7m0 22v8m0 2v26m0 1v1m0 7v6m0 1v6m0 3v2m0 1v21m1-67v1m1-52v2m0 19v9m0 1v1m0 1v1m0 1v6m0 3v7m0 6v1m0 3v1m0 1v2m0 2v2m0 1v1m0 8v1m0 8v1m0 2v21m1-20v1m0 1v1m0 2v2m1 4v1m1-50v1m0 4v2m0 2v2m2-51v1m0 1v4m0 27v1m0 3v2m1-55v1m0 66v9m0 1v1m0 16v1m1-97v1m1 69v3m0 1v2m0 1v1m3-9v1m0 1v5m0 37v1m1-59v2m1-41v1m0 53v7m1-77v6m0 110v1m0 1v1m0 1v1m1-106v5m0 1v3m1 31v4m0 1v4m0 1v4m1-69v6m0 102v1m1-153v1m0 3v17m0 2v1m0 2v1m0 2v1m0 20v9m0 3v3m0 1v2m0 34v11m0 1v1m0 2v2m0 1v1m0 16v1m0 22v1m0 2v11m2-173v1m0 53v1m1 51v2m0 1v3m0 24v2m1-37v1m0 7v3m1-54v3m0 37v3m0 11v6m0 1v1m2-119v11m0 18v2m0 1v2m0 1v13m0 9v2m0 2v1m0 8v1m0 8v8m0 9v1m0 3v19m0 18v5m0 1v3m0 21v5m2-61v2m0 1v1m0 2v2m4-120v12m0 5v1m0 2v1m0 37v1m0 21v8m0 52v1m1-144v17m0 35v2m0 3v1m0 2v2m0 1v1m0 7v1m0 19v2m0 8v3m0 3v1m0 2v1m0 4v8m0 18v2m0 1v9m0 1v2m0 1v5m2-47v1m0 1v1m0 2v1"/><path stroke="#4f86c4" stroke-width="1" d="M0 46v4m0 1v2m0 44v1m0 73v1m0 1v2m1-124v1m0 41v6m0 57v4m0 5v2m0 5v1m0 2v1m1-164v1m0 4v4m0 2v1m0 8v1m0 14v1m0 1v4m0 20v1m0 1v1m0 3v2m0 74v7m0 1v1m0 1v3m1-114v2m0 39v4m1-90v1m0 4v3m1-5v1m0 1v2m0 1v5m0 6v1m0 26v1m0 32v2m0 2v1m0 1v5m0 59v1m0 12v1m1-161v6m0 7v1m0 22v1m0 2v1m0 40v1m0 1v4m1-85v1m0 40v1m0 37v1m0 1v6m0 75v2m1-166v1m0 1v2m0 2v1m0 5v1m0 2v1m0 1v1m0 26v2m0 116v2m1-150v1m0 17v2m0 1v1m0 7v3m0 32v2m0 14v5m0 2v4m0 40v1m0 1v4m0 2v1m0 1v5m0 1v2m0 2v1m1-167v1m0 1v6m0 29v2m0 2v1m0 1v2m0 39v2m0 1v1m0 1v1m1-90v1m0 32v4m0 42v3m0 64v4m0 1v2m0 6v3m1-154v1m0 1v1m0 1v1m0 1v1m0 37v3m0 4v1m0 1v1m0 2v1m0 4v5m0 8v1m0 1v1m0 2v2m0 7v1m0 4v1m0 42v1m0 4v1m0 1v1m0 10v3m1-170v1m0 1v1m0 1v1m0 2v2m0 1v3m0 16v2m0 30v5m0 1v1m0 1v2m0 3v1m0 2v1m0 10v1m0 69v1m0 1v5m0 1v1m1-168v1m0 14v6m0 17v1m0 4v2m0 1v3m0 17v1m0 1v1m0 4v1m0 3v3m1-77v2m0 1v1m0 1v1m0 1v4m0 36v1m0 11v1m0 16v1m0 9v3m0 1v1m0 1v1m0 53v1m0 2v3m0 2v11m1-153v4m0 4v3m0 1v3m0 19v2m0 11v1m0 10v1m0 7v4m0 5v6m0 42v2m0 1v1m0 1v1m0 2v1m1-149v1m0 7v1m0 3v2m0 6v2m0 3v1m0 1v1m0 5v7m0 11v2m0 8v1m0 9v1m0 2v1m0 96v3m1-174v2m0 1v1m0 1v7m0 3v1m0 16v9m0 10v2m0 7v1m0 2v1m0 3v4m0 2v1m0 1v1m0 4v1m1-68v2m0 5v1m0 13v2m0 1v4m0 1v1m0 2v2m0 1v5m0 7v2m0 1v3m0 1v2m0 13v2m0 1v2m0 1v1m0 3v1m0 2v3m0 56v3m0 1v3m0 10v2m1-140v8m0 6v1m0 3v2m0 4v1m0 2v1m0 1v5m0 1v1m0 26v1m0 20v1m0 4v1m0 1v1m0 32v1m1-158v3m0 1v4m0 2v2m0 2v3m0 25v9m0 3v1m0 5v1m0 10v1m0 4v1m0 1v2m0 1v1m0 2v5m0 1v1m0 3v1m0 1v1m0 1v1m0 2v2m0 65v1m0 1v1m1-167v2m0 3v8m0 1v2m0 1v3m0 8v1m0 9v3m0 2v2m0 1v2m0 15v2m0 2v2m0 1v2m0 1v2m0 1v3m0 9v1m1-75v3m0 12v1m0 5v2m0 13v2m0 1v1m0 1v2m0 1v9m0 2v1m0 3v2m0 5v3m0 2v2m0 2v5m0 12v1m0 3v1m0 40v7m0 1v2m0 2v1m1-157v2m0 2v2m0 7v4m0 1v3m0 1v4m0 4v4m0 2v1m0 13v1m0 1v1m0 28v3m0 3v1m1-99v3m0 17v1m0 5v2m0 1v1m0 12v3m0 2v7m0 7v1m0 9v1m0 11v5m1-86v1m0 3v1m0 2v6m0 1v1m0 14v1m0 1v2m0 2v1m0 1v3m0 6v1m0 37v1m0 1v2m1-83v1m0 3v2m0 2v2m0 6v1m0 9v1m0 4v5m0 1v3m0 1v6m0 10v14m0 2v1m0 2v1m0 1v5m0 1v1m0 58v2m0 2v2m0 8v3m1-167v2m0 13v9m0 9v1m0 1v1m0 5v1m0 1v1m0 2v3m0 2v1m0 12v1m0 1v1m0 9v1m1-62v1m0 1v6m0 4v1m0 2v1m1-31v2m0 4v2m0 1v1m0 2v1m0 2v1m0 8v1m0 3v1m1-15v1m0 17v1m0 17v1m0 2v1m0 16v2m0 2v2m0 3v1m0 2v2m0 71v1m0 1v4m0 6v1m0 2v1m1-117v2m0 112v1m0 2v1m1-172v3m0 12v1m0 1v2m0 1v6m0 3v1m0 12v1m0 9v2m0 25v1m0 4v2m1-72v1m0 1v1m0 10v1m0 1v1m0 24v2m0 23v1m0 4v4m0 71v3m0 9v2m1-172v4m0 8v2m0 1v1m0 1v2m0 1v1m0 1v1m0 2v1m0 1v2m0 141v1m0 1v3m1-175v5m0 9v1m0 1v1m0 4v1m0 23v2m0 2v2m1-28v1m0 2v1m0 3v1m0 14v1m0 1v1m0 12v1m0 1v1m0 21v1m0 77v1m0 1v3m1-168v2m0 2v1m0 8v1m0 1v1m0 8v4m0 2v2m0 22v2m1-53v1m0 2v4m0 1v1m0 1v1m0 1v1m0 16v1m1-30v3m0 20v1m0 21v1m1-35v2m0 6v1m0 24v1m0 6v1m0 111v1m1-166v1m0 4v2m0 1v2m0 1v1m0 4v3m0 4v3m0 1v1m0 2v1m0 20v2m1-36v1m0 2v2m0 6v1m0 13v1m0 1v1m0 10v3m0 1v1m0 25v1m0 82v1m0 1v1m0 3v1m1-176v2m0 12v1m0 31v1m0 1v8m0 112v8m1-166v1m0 4v1m0 8v3m0 1v3m0 2v4m0 1v4m0 10v2m0 5v2m0 1v1m0 2v1m0 1v2m0 2v12m0 1v3m1-40v4m0 71v1m0 45v1m0 1v1m1-168v1m0 1v4m0 1v2m0 2v3m0 17v10m0 3v1m0 1v3m0 9v3m0 1v1m0 2v1m0 14v1m0 1v2m0 75v3m1-165v2m0 4v6m0 1v1m0 1v2m0 2v1m0 1v1m0 3v2m0 1v2m0 3v4m0 1v1m0 1v2m0 5v2m0 1v3m0 17v2m0 1v1m0 15v1m0 7v1m0 2v2m0 1v1m0 8v1m0 29v3m0 6v1m0 1v5m0 1v1m0 1v2m1-163v2m0 4v1m0 1v7m0 1v1m0 3v1m0 2v1m0 1v4m0 1v1m0 1v7m0 1v2m0 1v2m0 1v3m0 2v1m0 2v3m0 2v5m0 1v4m0 16v1m0 7v6m0 1v1m0 1v2m0 58v1m0 1v2m0 1v1m0 3v1m1-155v3m0 1v3m0 11v1m0 2v1m0 1v1m0 14v1m0 2v1m0 5v1m0 2v1m0 1v1m0 22v1m0 1v1m0 2v2m0 1v2m0 1v5m0 1v1m0 1v4m0 5v2m0 1v1m0 11v2m0 3v1m0 1v4m0 2v2m0 13v1m0 2v4m1-163v1m0 47v1m0 3v1m0 10v1m0 4v1m0 1v1m0 4v1m0 10v7m0 67v1m1-168v1m0 1v4m0 47v1m0 5v1m0 12v1m0 2v2m0 1v1m0 1v3m0 60v1m0 17v3m0 1v1m0 1v1m1-165v1m0 2v2m0 1v1m0 2v2m0 4v6m0 19v2m0 15v1m0 3v2m0 5v1m0 16v3m0 8v2m0 2v1m0 11v1m0 1v1m0 3v1m0 12v1m0 11v2m0 16v3m0 1v1m0 1v1m0 1v1m0 1v1m1-175v1m0 2v1m0 1v1m0 28v7m0 12v1m0 1v1m0 7v1m0 7v1m0 2v1m0 5v1m0 18v2m1-97v2m0 3v1m0 3v3m0 33v4m1-53v2m0 5v1m0 1v1m0 36v1m0 2v1m0 1v1m0 2v2m1-52v2m0 4v1m0 1v2m0 4v5m0 15v1m0 1v1m0 8v1m0 1v1m0 2v2m0 8v1m0 1v3m0 5v2m0 1v2m0 1v1m0 8v1m0 6v3m0 6v2m0 2v2m0 1v3m0 56v5m1-127v1m1-48v4m0 17v1m0 10v1m0 2v2m0 9v4m0 41v6m1-5v2m0 1v2m1-91v1m0 4v1m0 11v2m0 2v1m0 1v1m0 59v2m0 2v1m0 72v1m0 1v1m1-167v2m0 41v4m0 3v2m0 32v2m0 57v1m0 27v1m1-176v3m0 2v1m0 49v1m0 35v1m1-92v3m0 3v2m0 3v3m0 24v1m0 7v1m0 1v1m0 1v2m0 10v1m0 20v1m0 3v1m0 4v1m0 2v1m0 1v1m0 3v1m0 27v1m0 2v1m0 1v2m0 2v2m0 1v1m0 6v1m0 6v1m0 3v1m0 2v3m1-130v1m0 10v1m0 1v1m0 1v2m0 36v2m0 8v1m0 72v3m1-171v3m0 18v3m0 4v2m0 13v4m0 112v1m0 2v3m1-120v1m0 1v1m0 20v3m0 3v1m0 2v1m0 8v1m0 1v2m0 9v2m0 66v1m1-170v1m0 6v1m0 11v1m0 31v1m0 3v2m0 34v1m0 11v2m0 2v7m0 14v1m0 3v1m0 3v1m0 1v2m0 15v1m0 6v1m0 1v1m0 1v1m1-167v1m0 1v1m0 1v1m0 1v5m0 1v1m0 3v5m0 1v9m0 22v2m1-8v1m0 3v1m0 17v1m0 7v1m0 1v3m0 5v5m0 6v1m0 15v3m0 1v1m0 5v2m0 3v1m0 19v3m0 1v2m0 1v3m0 4v1m0 3v6m1-169v3m0 3v3m0 33v2m0 1v1m0 4v1m0 32v2m0 60v2m0 2v1m0 4v1m0 11v1m0 1v1m1-168v1m0 1v1m0 1v1m0 2v1m0 40v1m0 48v1m0 69v1m0 1v1m1-140v1m0 4v1m0 14v4m0 4v1m0 1v4m0 13v5m0 2v3m0 22v2m0 1v2m0 1v1m0 1v5m0 13v2m0 3v1m0 16v1m0 1v1m0 1v2m0 1v1m0 1v1m1-118v1m0 14v8m0 1v2m0 1v1m0 8v1m0 1v6m0 70v2m1-137v3m0 1v1m0 1v2m0 5v2m0 1v1m0 3v2m0 6v1m0 25v5m0 23v1m0 6v1m0 6v1m0 1v1m0 1v1m0 5v2m0 1v1m0 1v2m0 1v2m0 13v3m0 1v1m0 3v5m1-171v1m0 6v1m0 60v1m0 1v3m0 3v1m0 6v2m1-90v8m0 1v5m0 32v1m0 1v1m0 44v1m1-91v1m0 1v2m0 2v1m1 44v1m0 9v1m0 1v1m0 1v2m0 3v1m0 1v1m0 3v2m0 2v1m0 1v3m0 5v1m0 1v1m0 1v2m0 42v4m0 11v3m0 1v2m0 2v3m1-164v3m0 1v2m0 38v1m0 1v1m0 2v3m0 20v2m0 2v1m0 8v2m0 2v1m0 11v4m0 4v2m0 34v1m0 6v3m0 2v1m1-161v3m0 45v1m0 2v1m0 21v1m0 1v1m1-73v3m0 1v1m0 1v5m0 32v2m0 1v1m0 4v2m0 40v1m0 1v1m1-46v1m0 34v5m1-45v4m0 2v2m0 5v1m0 1v6m0 5v1m0 4v1m0 10v1m0 7v2m0 5v1m0 3v1m0 54v3m1-161v1m0 1v1m0 1v4m0 79v1m0 1v2m0 1v1m0 66v1m1-165v2m0 3v6m0 1v1m0 32v3m0 1v1m0 1v3m0 38v3m0 1v1m1-97v1m0 2v7m0 1v1m0 33v1m0 2v2m0 43v1m0 2v1m1-96v2m0 1v1m0 1v4m0 31v1m0 11v2m0 33v2m0 8v3m0 69v1m0 2v1m1-123v2m0 1v1m0 32v1m0 10v1m1-97v3m0 42v2m0 4v2m0 13v1m0 22v1m1-93v2m0 10v2m0 33v1m0 41v1m0 3v6m1-99v3m0 70v1m0 2v1m0 11v1m0 4v2m0 1v1m0 7v2m0 2v2m0 1v1m0 56v3m1-171v3m0 49v1m0 30v1m0 2v1m0 5v1m0 2v1m0 1v1m1-90v1m0 1v1m0 1v1m0 40v1m0 1v1m0 15v1m0 11v1m0 7v1m0 2v2m0 2v1m0 69v1m1-168v2m0 3v5m0 1v2m0 74v5m0 4v1m1-93v1m0 1v2m0 1v1m0 2v1m0 70v2m0 1v1m0 4v2m0 1v2m0 1v1m0 73v1m1-167v1m0 1v3m0 1v2m0 39v1m0 9v2m0 1v1m0 3v2m0 1v1m0 3v2m0 11v1m0 11v1m0 2v1m0 1v1m0 60v2m1-167v7m0 2v1m0 39v3m0 36v2m1-60v1m0 2v3m0 1v2m0 11v1m0 1v1m0 59v4m0 1v2m0 1v5m1-67v2m0 7v5m0 2v4m0 1v1m1-71v2m0 1v2m0 26v1m0 2v1m0 7v7m0 11v1m0 16v1m0 9v1m0 55v1m0 1v1m1-155v3m0 40v1m0 1v3m0 2v1m0 11v1m0 20v4m0 15v4m0 1v3m0 1v1m0 26v1m0 1v1m0 4v2m0 21v1m1-162v1m0 3v2m0 8v2m0 2v1m0 1v1m0 1v1m0 13v1m0 1v1m0 3v3m0 6v4m0 1v4m0 1v1m0 1v1m0 5v1m0 13v3m0 1v2m0 1v1m0 3v4m0 1v6m0 13v3m0 3v1m0 1v5m0 10v5m0 1v1m0 2v2m0 7v2m1-78v6m0 1v1m1 67v3m1-169v1m0 51v5m0 20v1m0 11v1m0 16v1m0 2v1m0 1v2m0 14v1m0 1v1m0 15v1m0 1v1m0 18v3m1-168v2m0 1v3m0 1v4m0 1v1m0 8v2m0 1v1m0 1v2m0 1v2m0 6v2m0 2v1m0 1v7m0 2v1m0 6v2m0 21v1m0 1v3m0 1v2m0 9v1m0 1v1m0 1v2m0 1v4m0 15v1m0 1v3m0 1v4m0 4v1m0 1v2m0 2v1m0 1v1m0 3v2m0 1v2m0 3v2m0 3v3m0 2v1m0 2v1m1-130v1m0 1v2m0 1v6m0 3v1m0 10v1m0 1v1m0 2v2m0 1v4m0 10v1m0 2v3m0 1v1m1-83v6m0 13v1m0 2v1m0 3v2m0 1v3m0 1v1m0 9v3m0 6v1m0 4v1m0 7v1m0 7v3m0 2v1m0 5v2m0 11v3m0 1v7m0 1v1m0 24v2m0 1v1m0 5v1m1-110v2m0 10v2m0 8v1m0 1v1m0 3v2m0 33v2m0 1v2m0 3v1m0 26v1m0 3v1m0 1v6m0 5v1m0 5v2m1-172v3m0 37v1m0 3v3m0 1v1m0 46v1m0 5v1m0 3v1m0 1v1m0 3v1m0 1v1m0 1v1m0 1v1m0 1v1m0 1v3m0 1v2m0 2v1m0 7v1m1-108v6m0 1v1m0 5v1m0 4v5m0 59v2m0 4v1m0 29v6m0 3v2m0 4v1m1-167v3m0 41v1m0 1v2m0 2v1m0 10v1m1-59v3m0 61v5m0 1v5m0 1v1m0 1v2m0 9v1m0 50v1m0 3v1m0 3v1m0 3v2m0 1v2m0 7v1m1-101v1m0 23v2m0 49v1m0 2v1m0 1v2m1-135v3m0 1v5m0 15v1m0 13v2m0 18v1m0 3v1m0 2v2m0 23v3m0 1v4m0 1v2m0 38v2m0 1v2m0 1v1m0 1v2m0 2v1m0 1v1m0 4v4m1-170v1m0 2v1m0 2v2m0 3v1m0 2v2m0 1v1m0 79v1m1-94v1m0 3v9m0 10v1m0 5v2m0 3v1m0 22v1m0 20v1m0 4v1m0 1v4m0 3v1m0 1v1m0 12v3m0 2v4m0 8v2m0 2v1m0 1v1m0 9v3m0 5v1m0 3v6m0 3v1m1-172v2m0 33v1m0 2v2m0 2v2m0 1v1m0 1v1m0 1v1m0 5v1m0 48v2m0 2v1m0 1v5m0 29v6m0 13v1m0 4v2m2-152v3m0 1v2m0 59v2m0 2v1m0 3v1m0 3v1m0 3v1m0 15v4m0 1v5m0 1v2m0 27v2m0 5v6m0 3v1m0 1v3m1-152v1m0 1v4m0 2v1m0 10v8m0 16v1m0 1v1m0 53v1m0 17v1m0 1v1m0 4v2m0 12v1m0 1v2m1-126v1m0 11v2m0 39v5m0 1v2m1-9v4m0 1v2m1 50v1m1-27v1m1-103v2m0 12v1m0 3v1m0 66v1m0 2v1m0 3v2m0 2v6m0 3v1m0 1v1m0 1v1m0 1v6m0 1v2m0 22v1m1-150v2m0 27v3m0 2v2m0 1v1m0 12v2m0 1v3m0 13v5m0 7v1m0 5v1m0 15v1m0 16v2m0 5v7m0 1v1m0 1v1m0 1v1m0 1v7m1-83v1m0 13v1m0 10v1m0 35v1m0 1v4m0 1v1m0 1v1m0 18v3m1-156v1m0 7v1m0 29v1m0 7v1m0 2v1m0 26v7m0 1v2m0 30v1m0 1v3m0 2v1m0 2v2m0 6v1m0 12v2m0 1v2m1-153v1m0 11v1m0 5v1m0 18v2m0 19v2m0 6v1m0 11v11m0 12v1m0 4v1m0 9v1m0 10v3m0 6v3m0 1v4m0 2v2m0 8v1m1-157v3m0 14v1m0 3v1m0 4v2m0 13v1m0 10v2m0 1v1m0 18v1m0 1v1m0 3v4m0 32v1m0 6v3m0 33v1m1-168v8m0 87v1m0 26v10m0 1v2m0 1v1m0 1v2m0 4v4m0 2v2m0 10v2m1-132v1m0 3v1m0 2v1m0 1v2m0 2v1m0 2v2m0 45v3m0 11v2m0 1v1m0 1v1m0 2v5m0 24v3m0 2v1m0 2v1m0 12v2m1-175v1m0 5v2m0 1v1m0 1v3m0 74v2m0 2v1m0 8v2m0 4v1m0 2v1m0 1v1m0 1v3m0 1v1m0 1v3m0 1v4m0 2v1m0 8v1m0 14v2m0 1v2m0 1v1m0 1v1m0 1v4m1-168v2m0 2v1m0 17v1m0 17v1m0 1v1m0 1v2m0 20v1m0 21v1m0 4v2m0 1v1m0 1v1m0 1v1m0 5v2m0 2v1m0 5v1m0 3v2m0 1v1m0 7v7m0 1v2m0 9v1m0 11v6m0 1v2m1-171v3m0 1v1m0 1v1m0 22v1m0 22v4m0 32v1m0 6v1m0 18v7m0 1v4m0 1v1m0 1v12m0 3v1m0 4v1m1-150v5m0 1v1m0 18v3m0 1v2m0 19v1m0 1v1m0 40v2m0 1v5m0 4v1m0 1v1m0 42v1m0 1v3m0 1v1m0 3v2m0 6v2m1-117v1m0 74v2m0 1v1m0 1v6m0 1v1m1-138v2m0 1v1m0 1v6m0 56v1m0 1v4m0 1v4m0 62v1m0 4v2m1-150v1m0 1v1m0 51v1m0 1v5m0 12v1m0 1v2m0 2v2m0 1v1m0 58v1m0 1v2m0 3v1m0 22v1m1-166v3m0 3v2m0 52v1m0 1v2m0 3v3m0 3v4m0 1v1m0 1v2m0 2v1m0 71v6m1-7v1m1-156v1m0 3v5m0 1v1m0 36v1m0 75v1m0 4v1m0 3v1m2-133v1m0 4v1m0 12v2m0 2v1m0 1v3m0 11v1m0 1v1m1-47v8m0 1v2m0 2v1m0 3v1m0 8v1m0 3v2m0 10v4m0 1v1m0 1v2m0 7v1m0 5v3m0 1v2m0 2v1m0 2v6m0 1v5m0 1v3m0 3v1m0 6v3m0 23v1m1-65v1m0 37v2m1-86v1m0 3v2m0 1v1m0 1v4m0 1v2m0 50v1m0 2v1m0 1v3m0 82v1m1-150v6m0 2v1m0 135v3m1-167v1m0 1v1m0 2v5m0 14v1m0 15v1m0 25v3m0 2v2m0 1v1m0 1v1m0 1v1m0 5v1m0 5v3m0 1v1m0 1v1m0 3v1m0 3v1m0 2v2m0 1v1m0 37v2m1-154v2m0 101v1m0 26v1m0 1v1m0 1v1m0 2v3m0 2v1m0 1v1m0 1v3m0 1v4m0 1v6m0 1v1m0 1v1m0 1v1m1-164v7m0 1v2m0 49v1m0 4v1m0 70v1m0 2v1m0 2v2m0 3v2m1-148v2m0 2v4m0 1v2m0 20v1m0 1v2m0 2v2m0 12v1m0 1v1m0 1v1m0 1v1m0 2v2m0 2v1m0 3v1m0 19v2m0 11v1m0 1v8m0 1v1m0 2v1m0 1v1m0 4v1m0 39v1m0 1v1m0 2v1m0 2v3m1-176v2m0 1v3m0 53v1m0 10v2m0 1v2m0 1v4m0 1v2m0 22v1m0 2v15m0 1v4m0 22v5m0 7v1m0 1v3m1-161v1m0 1v5m0 4v1m0 6v5m0 1v3m0 12v1m0 6v1m0 9v1m0 20v7m0 1v2m0 58v1m0 1v1m1-151v4m0 3v1m0 3v1m0 9v1m0 13v1m0 1v1m0 16v3m0 25v1m0 44v1m0 10v1m0 1v2m0 1v4m0 21v3m1-169v1m0 35v1m0 52v7m0 28v7m0 1v2m0 1v3m0 4v1m1-142v4m0 1v1m0 1v1m0 51v1m0 2v2m0 1v1m0 1v1m0 8v1m0 22v3m0 2v4m0 4v1m0 53v1m0 2v1m1-168v5m0 12v2m0 1v1m0 3v1m0 37v1m0 2v1m0 14v1m0 47v1m1-131v2m0 1v5m0 47v2m0 44v1m0 55v2m0 2v1m1-168v3m0 36v2m0 1v3m0 1v5m0 20v1m0 2v1m0 7v1m0 32v1m0 1v1m0 8v1m0 2v2m0 1v3m0 1v5m1-141v3m0 5v1m0 2v2m0 4v1m0 2v4m0 37v3m0 2v1m0 4v2m0 1v1m0 3v1m0 3v3m0 4v2m0 2v2m0 1v3m0 30v1m0 2v1m0 2v1m0 1v1m0 14v1m0 1v1m0 2v1m1-158v1m0 32v2m0 2v5m0 19v3m0 3v1m0 1v1m0 22v1m0 23v2m0 1v2m0 3v4m0 25v2m0 5v1m0 7v3m0 1v3m1-158v1m0 1v3m0 1v1m0 9v3m0 1v1m0 2v1m0 50v2m0 1v1m0 1v1m0 8v1m0 26v1m0 4v2m0 11v2m0 1v2m0 1v1m0 1v4m1-161v1m0 65v1m0 1v1m0 18v2m0 3v2m0 1v1m0 2v2m0 4v1m0 22v1m0 2v1m0 1v5m0 1v2m0 10v3m1-137v7m0 68v1m0 3v2m0 1v2m0 5v1m0 6v2m0 36v1m0 1v1m0 17v2m0 1v1m1-172v2m0 1v6m0 1v1m0 19v4m0 2v2m0 74v2m0 1v1m0 4v2m0 23v1m0 23v1m0 1v2m1-176v2m0 1v2m0 34v1m0 22v1m0 8v3m0 15v1m0 24v1m0 48v2m0 1v2m1-165v1m0 1v5m0 1v2m0 11v5m0 1v3m0 1v2m0 4v2m0 13v1m0 1v3m0 4v3m0 24v2m0 1v2m0 1v1m0 3v6m0 1v4m0 2v1m0 6v1m0 38v1m0 7v1m0 1v1m1-170v2m0 92v1m0 1v3m1-100v1m0 6v7m0 20v1m0 1v1m0 1v4m0 20v2m0 4v1m0 24v4m0 1v3m0 41v1m0 3v2m0 2v4m0 1v1m0 1v2m0 2v1m1-162v1m0 13v3m0 27v1m0 2v1m0 1v3m0 3v6m0 3v2m0 2v2m0 13v4m0 1v1m0 39v2m0 1v1m0 1v2m0 2v2m0 1v1m0 23v4m1-151v4m0 2v1m0 60v1m0 1v5m0 24v2m0 1v10m1-111v1m0 5v1m0 13v1m0 4v4m0 1v5m0 49v1m0 1v1m0 24v2m0 1v3m0 1v2m0 1v2m0 1v2m0 1v5m0 1v10m0 1v1m0 9v1m1-172v1m0 1v1m0 4v1m0 4v1m0 3v1m0 1v1m0 1v1m0 1v2m0 2v2m0 4v2m0 2v2m0 1v3m1-42v2m0 1v8m0 1v5m0 57v1m0 14v1m0 18v2m0 5v2m0 2v3m0 4v2m1-128v2m0 4v11m0 6v1m0 1v1m0 32v2m0 1v1m0 8v1m0 1v7m0 2v2m0 2v1m0 1v2m0 15v11m0 2v1m0 4v1m0 21v1m0 1v1m0 24v1m1-165v1m0 1v8m0 16v1m0 5v3m0 39v2m0 8v1m1-20v1m0 2v2m0 1v1m1-61v2m0 2v2m0 44v2m0 3v1m0 2v1m0 16v1m0 3v1m0 1v1m1-94v1m0 1v4m0 1v1m0 1v2m0 1v1m0 3v1m0 19v1m0 6v1m0 4v3m0 1v3m0 15v3m0 4v2m0 1v1m0 6v1m0 8v1m0 48v2m0 1v4m0 3v1m0 1v3m0 1v1m1-160v1m0 6v2m0 16v2m0 3v2m0 1v1m0 22v1m0 1v1m0 8v1m1-69v1m0 1v2m0 1v1m0 12v8m0 19v1m0 38v2m0 25v1m0 4v1m0 2v2m0 43v2m0 1v2m1-116v1m0 11v6m0 2v1m1-48v5m0 2v1m0 1v1m0 3v2m0 1v1m0 1v1m0 9v9m0 3v1m0 1v3m0 7v3m0 35v4m0 2v1m0 32v2m0 1v1m1-93v2m0 2v1m0 47v1m1-11v1m0 2v1m0 2v5m0 1v1m1-122v1m0 2v1m0 33v1m0 2v3m0 1v1m0 1v3m0 6v1m0 1v1m0 3v1m0 2v3m0 7v3m0 9v1m0 10v1m0 24v2m0 4v1m0 2v2m0 15v2m0 4v2m0 2v2m0 1v2m0 1v1m1-167v1m0 47v2m0 29v1m0 1v2m0 1v2m1-35v2m0 2v1m0 13v1m0 1v3m0 46v1m1-52v2m0 2v1m0 97v1m1-102v2m0 7v1m1-35v1m0 1v1m1 64v4m0 3v5m1-122v2m0 3v2m0 1v1m0 46v2m0 28v2m0 2v1m0 4v1m0 4v5m0 1v2m0 1v3m0 1v5m1-120v3m0 47v3m0 16v1m0 2v1m0 2v1m1-25v1m0 49v1m0 2v8m1-108v5m0 1v2m0 1v1m0 13v1m0 28v2m0 15v1m0 2v1m0 4v7m0 13v8m0 1v2m0 1v1m0 3v2m0 13v1m0 27v4m0 1v1m0 6v1m1-170v2m0 1v5m0 1v2m0 49v2m0 5v1m0 2v2m0 94v3m1-171v6m0 2v3m0 19v1m0 1v2m0 17v1m0 5v3m0 27v1m0 4v1m0 12v1m0 14v1m0 1v2m0 47v1m1-173v1m0 3v1m0 19v1m0 3v1m0 13v3m0 1v1m0 72v1m0 1v1m0 1v2m0 34v2m0 2v2m1-168v1m0 22v1m0 13v1m0 17v2m0 3v1m0 13v2m0 18v1m0 3v6m0 28v1m0 5v1m0 36v1m1-173v1m0 1v1m2-1v1m0 14v2m0 13v1m0 2v1m0 2v1m0 10v2m0 16v2m0 6v1m0 2v1m0 11v2m0 1v1m0 18v1m0 1v2m0 1v3m0 4v1m0 40v1m1-65v2m0 2v1m0 1v1m0 2v1m0 3v5m1-122v1m0 2v1m0 2v3m0 1v4m0 19v1m0 18v5m0 9v1m0 36v13m0 4v2m0 6v1m0 1v3m0 4v1m0 31v1m1-150v1m0 27v3m0 3v6m0 5v1m0 1v3m0 4v1m0 2v1m0 16v7m0 5v3m0 1v1m0 1v2m0 1v1m0 4v2m0 49v1m1-163v1m0 42v2m0 40v1m0 4v1m0 22v1m0 2v1m1-109v3m0 22v4m0 1v1m0 1v2m0 4v1m0 1v2m0 1v1m0 5v1m0 4v1m0 6v1m0 1v2m0 1v2m0 1v2m0 1v3m0 31v1m0 1v1m0 1v4m0 1v2m0 1v3m0 32v1m1-168v3m0 6v2m0 1v2m0 68v1m0 30v2m0 2v3m1-117v2m0 2v5m0 2v1m0 4v1m0 19v2m0 1v3m0 27v1m0 1v1m0 37v1m0 2v3m0 1v1m0 5v3m0 2v2m0 1v1m0 9v1m1-137v1m0 44v1m0 4v1m0 9v3m0 6v4m0 2v5m0 11v1m0 2v2m0 4v1m0 1v1m0 1v3m0 2v4m1-118v1m0 11v1m0 1v1m0 2v1m0 1v1m0 1v1m0 1v1m0 2v2m0 19v1m0 1v1m0 1v1m0 8v3m0 5v2m0 16v2m0 7v3m0 4v1m0 5v2m0 16v1m0 4v1m0 4v2m0 28v1m1-169v3m0 2v1m0 3v1m0 1v2m0 2v5m0 1v2m0 6v1m0 19v6m0 2v1m0 3v5m0 11v2m0 1v1m0 1v2m0 1v2m0 5v6m0 1v1m0 1v1m0 1v1m0 4v1m0 2v1m0 7v1m0 6v1m0 1v1m0 1v5m0 15v1m0 18v4m1-176v1m0 5v1m0 1v3m0 1v2m0 30v1m0 3v1m0 15v1m0 6v1m0 6v1m0 12v1m0 2v3m0 1v1m0 1v1m0 14v4m0 1v3m0 9v5m0 13v1m0 1v8m0 1v1m0 5v1m0 3v2m0 1v2m1-154v1m0 29v2m0 19v6m0 25v6m0 1v1m0 2v1m1-10v1m1-100v2m0 1v1m0 1v1m0 1v2m0 9v1m0 1v1m0 2v2m0 47v3m1 20v3m0 14v1m0 43v1m1-160v1m0 1v2m0 1v2m0 2v2m0 19v2m0 1v5m0 50v2m0 2v2m0 2v1m0 2v4m0 1v6m0 1v1m0 7v1m0 5v3m0 1v5m1-122v4m0 1v2m0 1v1m0 1v2m0 3v1m0 1v1m0 7v1m0 18v1m0 3v1m0 1v1m0 3v2m0 7v1m0 1v1m0 1v1m0 10v1m0 63v1m0 4v4m1-156v2m0 61v1m0 1v2m0 18v4m0 10v1m1-109v1m0 69v1m0 1v2m0 1v2m0 5v1m0 1v1m0 1v1m0 1v1m0 14v6m0 1v4m0 1v7m0 51v1m1-174v1m0 13v4m0 1v2m0 1v1m0 21v1m0 3v3m0 2v1m0 6v1m0 1v2m0 1v2m0 5v1m0 2v1m0 24v3m0 7v1m0 3v1m0 1v3m0 2v1m0 5v3m0 1v1m0 1v2m0 1v1m0 30v1m0 1v1m1-162v2m0 62v3m0 1v1m0 14v1m1-93v1m0 17v1m0 33v2m0 12v2m0 1v1m0 45v2m1-114v1m0 1v4m0 6v3m0 1v3m0 12v2m0 5v1m0 31v1m0 1v1m0 1v2m0 22v3m0 20v3m0 5v1m0 1v1m0 1v2m0 27v1m0 1v1m1-165v5m0 5v2m0 44v1m0 1v1m0 2v2m0 3v1m0 3v3m0 1v1m0 6v1m0 1v3m0 12v1m0 1v1m0 11v1m0 3v2m0 1v1m0 39v1m0 1v2m0 1v1m0 1v2m0 1v2m1-168v2m0 39v1m0 2v1m0 13v1m0 1v1m0 1v2m0 3v1m0 2v2m0 6v1m0 1v2m0 2v2m0 2v1m0 3v1m0 1v2m0 14v1m0 1v5m0 6v1m0 1v2m0 2v2m1-133v1m0 47v1m0 2v3m0 30v3m0 7v1m0 13v2m0 9v5m1-67v1m0 43v4m0 2v1m0 1v2m0 8v4m1-6v1m1-21v1m0 1v1m1-93v1m0 4v8m0 13v2m0 14v1m0 7v3m0 38v4m0 1v5m0 38v1m0 1v1m0 1v3m0 1v4m0 9v5m1-121v2m0 16v1m0 1v1m0 38v1m0 1v1m0 2v2m0 1v1m1-97v1m0 4v1m0 63v2m0 1v1m0 1v1m0 1v1m0 1v4m0 1v3m0 1v4m0 1v2m0 1v2m1-79v1m0 4v1m0 25v2m0 24v1m0 4v2m0 1v2m0 1v1m0 2v2m0 1v4m1-49v1m0 41v6m0 1v1m1-90v2m0 1v3m0 1v2m0 4v2m0 3v4m0 2v1m0 1v2m0 1v1m0 8v1m0 6v2m0 45v1m0 12v12m0 18v3m1-97v2m0 1v1m0 10v2m0 34v1m0 1v2m1-55v1m0 3v1m1-57v1m0 45v1m0 9v1m0 50v1m0 1v1m0 2v1m0 1v2m1-83v5m0 3v2m0 1v1m0 2v1m0 14v3m0 2v1m0 2v2m0 49v1m0 1v1m0 18v2m0 1v2m0 6v1m1-110v1m0 58v2m0 1v3m0 1v7m1-64v1m0 60v1m1-76v1m0 33v1m0 46v2m0 2v2m0 1v1m1-132v1m0 1v3m0 51v1m0 3v1m0 13v2m0 1v1m0 4v2m0 4v1m0 4v1m0 1v2m0 1v2m0 3v3m0 5v5m0 1v5m0 11v3m0 4v1m0 1v1m0 1v1m1-68v1m0 28v5m0 13v1m0 1v1m0 1v1m1-140v2m0 2v1m0 2v4m0 53v1m0 1v1m0 1v3m0 1v5m0 12v6m0 14v1m0 7v2m0 2v1m0 13v3m0 1v3m0 1v1m0 22v2m1-80v4m0 1v1m0 1v1m0 1v1m0 12v1m0 1v1m0 5v16m0 8v1m1-54v1m0 6v1m0 1v1m0 1v2m0 1v1m0 2v2m0 14v2m0 1v3m0 1v2m0 1v3m0 16v2m0 1v1m0 7v1m1-169v3m0 14v1m0 2v2m0 51v1m0 1v4m0 22v1m0 2v1m0 5v1m1-7v1m0 2v1m0 1v1m0 1v1m0 3v1m0 1v2m0 1v3m0 4v1m0 14v1m0 2v1m1-52v8m0 5v1m0 1v1m0 3v1m0 3v1m0 5v1m0 1v6m0 1v1m0 1v2m0 3v2m0 11v1m0 1v1m0 5v1m1-87v1m0 1v1m0 27v1m0 18v3m0 1v1m0 12v1m0 4v1m0 18v1m0 1v1m0 4v5m1-53v5m0 31v1m0 11v5m1-118v3m0 9v6m0 1v4m0 14v1m0 1v3m1-39v3m0 22v1m0 2v2m0 4v2m0 1v3m0 30v5m0 1v1m0 1v2m0 28v2m0 1v1m0 1v2m1-152v8m0 32v2m0 1v3m0 14v2m0 1v6m0 12v1m0 3v1m0 6v1m0 2v3m0 6v2m0 7v6m0 1v2m0 1v2m0 23v4m1-75v2m0 12v1m0 1v1m0 2v2m0 4v3m0 2v1m0 1v1m0 1v2m0 1v2m0 10v1m0 1v1m0 1v2m0 1v2m0 1v2m0 6v1m0 1v1m1-79v1m0 1v2m0 1v2m0 3v1m0 16v1m0 3v2m0 1v2m0 13v3m0 2v1m0 1v5m0 2v7m1-96v3m0 3v1m0 1v9m0 2v1m0 1v1m0 27v5m0 1v2m0 39v3m0 2v1m1-74v1m0 1v1m0 3v2m0 1v1m0 11v2m0 2v8m0 2v7m0 1v1m0 4v1m0 1v3m0 3v1m0 1v2m0 2v1m0 1v1m0 2v1m0 8v1m1-79v1m0 1v5m0 1v1m0 3v1m0 10v2m0 3v3m0 9v1m0 5v3m0 10v1m0 2v4m0 2v1m1-102v1m0 23v3m0 3v2m0 2v1m0 7v4m0 1v2m0 1v2m0 1v2m0 4v1m0 9v8m0 1v2m0 2v1m0 3v2m0 3v3m0 1v3m0 1v2m0 1v1m0 11v3m1-48v2m0 2v1m0 2v1m0 9v1m0 1v3m0 6v1m1-28v2m0 3v1m0 1v1m0 2v3m0 1v1m0 1v2m0 1v1m1-54v2m0 4v3m0 11v4m0 1v2m0 2v1m0 1v2m0 17v1m0 12v1m0 12v5m1-115v2m0 38v1m0 3v1m0 9v1m0 2v3m0 2v1m0 1v1m1-68v3m0 3v1m0 1v2m0 1v4m0 3v1m0 6v5m0 1v2m0 5v2m0 1v1m0 1v3m0 8v1m0 16v2m0 1v2m0 4v3m0 2v1m0 5v1m0 14v4m1-109v1m0 33v1m0 8v1m0 11v1m0 2v2m0 2v7m0 46v2m1-115v2m0 42v3m0 4v1m0 10v2m0 1v4m0 1v4m0 1v1m1-42v6m0 40v4m0 1v4m0 1v1m0 6v1m1-30v4m0 1v1m0 2v3m0 11v3m0 1v3m0 1v3m1-89v3m0 3v1m0 1v2m0 3v2m0 5v1m0 7v3m0 19v2m0 1v1m0 8v1m0 2v1m0 1v1m0 9v1m0 1v5m0 1v1m0 2v1m1-101v3m0 50v1m0 13v5m0 1v5m0 31v1m1-164v1m0 1v1m0 2v1m0 2v1m0 54v1m0 1v5m0 38v5m0 2v1m0 1v3m0 1v9m0 1v1m0 11v1m0 2v3m0 3v1m1-95v3m0 1v1m0 4v2m0 2v1m0 16v2m0 1v1m0 1v1m0 49v2m0 1v1m0 1v2m0 2v3m1-101v3m0 6v1m0 1v5m0 1v1m0 3v1m0 19v2m0 26v10m0 3v1m0 2v1m0 14v1m1-96v3m0 34v1m0 11v3m0 3v1m0 2v4m0 2v1m0 3v1m0 1v1m0 1v7m0 2v2m0 15v4m1-50v1m0 1v1m0 1v6m0 23v4m0 3v4m1-66v3m0 3v1m0 1v2m0 2v1m0 2v4m0 9v2m0 27v5m0 1v3m0 7v2m1-104v1m0 15v2m0 1v1m0 3v2m0 3v1m0 1v4m0 2v2m0 1v2m0 1v7m0 1v1m0 5v2m0 1v1m0 15v2m0 3v2m0 13v2m0 1v3m0 5v1m1-116v1m0 1v1m0 34v3m0 1v1m0 1v1m0 14v1m0 5v1m0 1v1m0 1v3m0 2v8m0 2v6m0 1v1m1-87v1m0 40v1m0 37v2m0 1v3m0 2v1m0 2v1m0 1v1m0 3v1m0 2v3m0 3v4m1-110v1m0 9v2m0 5v4m0 19v1m0 2v2m0 1v3m0 1v2m0 1v1m0 10v1m0 1v2m0 1v5m0 1v1m0 1v1m0 11v2m0 1v1m0 1v1m0 1v1m0 1v1m0 1v1m1-107v2m0 27v4m0 6v1m0 1v1m0 41v1m0 2v7m0 1v7m0 1v4m0 1v6m1-72v1m0 8v2m0 1v2m0 1v3m0 13v1m0 13v4m0 3v2m0 1v4m0 1v1m0 2v1m0 1v1m1-33v1m0 2v6m0 1v2m1-141v2m0 2v1m0 56v3m0 29v2m0 2v2m0 6v1m0 1v2m0 1v10m0 1v4m0 1v1m0 1v3m0 6v1m0 3v1m0 2v1m0 2v2m0 1v1m0 2v2m0 4v3m0 11v1m0 1v1m1-171v1m0 77v7m0 14v11m0 39v1m0 1v2m1-97v2m0 25v1m0 2v2m0 8v3m0 14v1m0 3v2m0 16v1m0 27v1m0 2v1m0 1v1m1-120v2m0 1v1m0 33v1m0 14v4m0 1v3m0 48v3m0 1v1m1-109v1m0 1v3m0 6v1m0 10v1m0 11v2m0 6v2m0 1v1m0 6v1m0 3v1m0 14v6m0 1v2m0 13v9m0 1v1m0 6v5m0 1v1m1-117v2m0 4v1m0 4v3m0 1v5m0 2v1m0 1v1m0 21v2m0 3v1m0 1v3m0 17v1m0 4v1m0 1v1m0 1v1m0 13v1m0 6v1m0 2v2m0 8v1m1-81v7m1-16v2m0 38v1m0 28v1m0 3v1m1-42v1m0 1v1m0 2v1m1-64v2m0 2v1m0 19v2m0 1v1m0 1v2m0 1v1m0 9v1m0 2v1m0 7v3m0 13v1m0 1v2m0 1v1m0 1v5m0 10v4m0 17v1m1-126v1m0 5v2m0 47v3m0 24v1m0 2v1m0 5v1m0 2v1m0 31v4m1-174v1m0 7v1m0 2v1m1-13v1m0 1v2m0 49v2m0 3v1m0 2v2m0 1v1m0 1v3m0 15v2m0 1v1m0 1v1m0 2v3m0 61v1m1-153v1m0 2v3m0 2v1m0 43v1m0 1v2m0 31v1m0 4v1m0 30v1m0 1v8m0 1v2m0 31v3m1-168v2m0 2v1m0 83v1m0 2v1m0 3v1m0 12v1m0 1v1m0 1v1m0 1v1m0 14v1m0 1v1m0 1v1m0 2v1m0 1v1m0 2v2m1-150v3m0 9v1m0 82v3m0 1v1m0 2v2m0 1v1m0 6v1m0 32v1m0 1v1m1-148v2m0 2v2m0 94v1m1-98v2m0 50v1m0 8v1m0 1v2m0 1v1m0 23v1m0 1v2m0 18v2m0 4v2m0 17v1m0 3v1m1-145v3m0 7v1m0 44v1m0 47v1m0 11v8m0 3v1m0 45v1m1-170v1m0 1v1m0 40v3m0 2v1m0 42v8m0 1v1m0 36v1m1-135v2m0 2v1m0 3v1m1 100v1m0 1v1m0 1v1m0 2v2m0 14v1m1-137v1m0 3v1m0 2v1m0 1v4m0 2v1m0 25v1m0 8v2m0 9v7m0 21v2m0 26v1m0 1v5m0 1v1m0 6v1m0 6v3m0 2v1m0 22v3m1-171v2m0 99v2m0 13v1m0 11v1m0 8v4m0 3v5m0 23v3m1-170v1m0 2v1m0 1v3m0 32v4m0 4v7m0 9v1m0 9v1m0 1v1m0 1v1m0 8v1m0 7v6m0 1v3m0 1v1m0 2v2m0 2v1m0 1v8m0 1v8m0 1v2m1-134v1m0 4v3m0 126v1m0 1v1m0 1v2m0 2v1m0 2v1m0 4v1m1-158v1m0 8v1m0 4v1m0 31v8m0 61v7m0 4v1m0 23v2m0 2v2m0 1v5m0 6v1m1-64v4m0 2v2m1 30v1m1-98v2m0 17v1m0 28v1m0 1v1m0 1v3m0 2v1m0 11v11m0 16v1m0 11v4m1-111v1m0 1v1m0 13v1m0 60v1m0 1v2m0 15v7m1-103v5m0 25v1m0 38v1m0 1v2m0 2v1m0 6v1m0 1v1m0 2v2m0 1v2m0 1v1m1-136v1m0 95v3m0 11v1m0 3v1m0 2v1m0 1v1m0 2v1m0 21v1m1-8v1m0 1v1m0 1v1m1-79v1m0 51v1m1-75v1m0 1v1m0 1v2m0 52v2m0 1v3m0 1v1m0 2v1m0 1v1m0 5v2m0 1v1m0 24v5m0 1v3m0 1v2m0 8v1m1-68v1m1-43v1m0 1v1m0 36v1m0 14v1m0 8v1m0 2v1m1-67v1m0 1v1m0 99v1m0 1v1m0 1v1m0 4v4m1-110v1m0 4v1m0 1v4m0 6v1m0 3v1m0 7v3m0 1v1m0 1v3m0 1v1m0 10v1m0 1v1m0 52v1m0 2v1m1-123v2m0 10v2m0 2v1m0 5v1m0 8v1m0 3v2m0 5v1m0 3v2m0 5v1m0 4v1m0 38v1m0 18v3m1-166v1m0 38v2m0 37v2m0 1v1m0 17v1m0 2v1m0 2v1m0 1v1m0 1v1m0 20v1m0 3v1m0 2v1m0 2v1m0 3v1m0 3v1m0 2v5m0 4v1m1-166v2m0 3v1m0 17v2m0 1v2m0 1v2m0 30v1m0 5v1m0 15v7m0 1v1m0 23v1m0 1v2m0 2v1m0 5v2m0 1v3m0 1v1m0 3v1m0 1v1m0 22v2m1-50v1m1-112v2m0 18v1m0 2v6m0 21v1m0 1v1m0 1v3m0 87v1m1-51v1m0 5v5m0 2v1m0 17v2m0 1v1m0 2v2m0 1v1m0 23v1m0 2v1m1-125v1m0 5v2m0 3v2m0 51v7m1-106v1m0 2v2m0 3v1m0 2v3m0 1v3m0 6v1m0 1v1m0 9v2m0 2v6m0 43v2m0 24v1m0 3v1m1-125v2m0 17v4m0 20v1m0 57v1m1-103v4m0 11v2m0 9v1m0 8v1m0 2v1m0 13v2m0 9v2m0 1v8m0 2v2m0 1v1m0 1v2m0 9v1m0 1v6m0 27v1m0 18v1m0 3v1m0 1v1m0 1v1m0 2v2m0 2v1m0 8v1m1-171v1m0 1v1m0 30v1m0 18v2m0 4v3m0 73v1m0 3v3m1-24v1m0 1v2m0 41v2m1-153v1m1 91v1m1-39v1m0 1v1m1-68v3m0 12v5m0 1v2m0 21v10m0 5v1m0 2v2m0 3v1m0 2v6m0 25v2m0 13v4m0 1v2m0 18v2m0 1v6m0 18v3m0 1v4m1-134v1m0 6v3m0 2v3m0 1v2m0 2v1m0 1v4m0 1v2m0 1v7m0 1v1m0 1v1m0 1v3m0 1v1m0 1v1m0 3v7m0 4v2m0 1v2m0 1v4m0 8v7m0 1v1m0 6v3m0 2v1m0 9v1m0 2v1m0 14v5m1-71v1m0 2v4m0 1v1m0 39v1m0 1v1m1-154v1m0 3v4m0 1v5m0 31v1m0 2v2m0 21v1m0 37v1m0 4v1m0 1v2m0 1v2m0 38v1m1-44v1m0 1v1"/><path stroke="#a9d2ec" stroke-width="1" d="M0 93v1m0 1v1m0 2v1m0 21v1m1 34v1m0 4v1m0 1v1m0 1v1m0 2v1m0 3v1m0 1v2m1-174v1m0 8v2m0 3v1m0 5v1m0 32v2m0 15v1m0 2v1m0 2v2m0 2v2m0 85v1m0 1v1m1-146v2m0 4v1m0 54v2m0 56v1m0 1v1m0 2v1m0 12v2m0 2v1m0 2v2m1-161v4m0 30v1m1-36v1m0 1v1m0 1v1m0 8v2m0 30v1m0 35v2m0 17v1m0 47v1m0 2v1m0 11v4m1-167v1m0 16v1m0 16v2m0 9v2m0 17v1m0 5v1m0 2v1m0 14v2m0 71v1m0 4v1m1-167v1m0 1v1m0 2v3m0 13v1m0 18v1m0 1v1m0 40v1m0 65v1m0 4v1m0 5v1m0 2v2m1-165v1m0 1v1m0 2v2m0 2v2m0 1v1m0 2v1m0 1v1m0 1v2m0 1v1m0 14v2m0 40v1m0 6v1m0 1v2m0 69v1m0 1v1m1-162v1m0 1v1m0 2v1m0 1v1m0 15v1m0 2v1m0 5v1m0 2v1m0 7v1m0 9v1m0 5v2m0 6v1m0 1v1m0 5v1m0 24v2m0 29v1m0 21v1m0 10v2m1-165v1m0 20v1m0 16v2m0 1v1m0 43v1m0 1v1m1-79v1m0 1v3m0 135v1m1-142v1m0 1v1m0 1v1m0 30v1m0 17v1m0 2v4m0 14v1m0 11v1m0 1v2m0 4v1m0 38v2m0 1v1m0 13v3m1-168v1m0 1v1m0 58v1m0 7v1m0 2v1m0 3v2m0 1v4m0 1v2m0 2v1m1-92v1m0 1v1m0 6v1m0 3v1m0 79v1m0 1v2m0 69v1m0 4v1m1-120v1m0 16v2m0 3v2m0 4v1m0 62v1m0 6v2m0 1v2m0 18v1m0 1v1m1-159v1m0 4v4m0 3v1m0 34v1m0 1v2m0 1v1m0 13v1m0 4v3m0 52v1m0 1v1m0 2v1m1-130v2m0 2v1m0 6v4m0 7v1m0 1v3m0 17v2m0 3v2m0 10v2m0 9v2m0 20v1m0 57v1m0 3v1m1-163v3m0 15v1m0 31v1m0 1v3m0 4v2m0 1v1m0 1v4m0 1v1m0 8v1m1-75v2m0 15v1m0 13v1m0 5v2m0 1v1m0 5v1m0 21v1m0 4v1m0 4v1m0 62v1m0 12v1m0 2v2m1-83v3m0 1v2m0 56v2m0 4v1m0 10v1m1-156v2m0 1v1m0 1v1m0 29v2m0 1v3m0 1v1m0 10v1m0 1v4m0 1v1m0 2v1m0 8v1m0 3v1m0 1v1m0 1v1m0 5v1m0 62v1m1-167v3m0 21v1m0 3v1m0 2v1m0 13v2m0 2v1m0 33v1m0 71v1m0 8v1m0 1v2m0 3v1m0 1v1m1-132v1m0 1v2m0 6v2m0 2v1m0 17v1m0 1v1m0 11v1m0 9v1m0 7v2m0 1v1m0 3v1m0 39v1m0 8v1m0 2v2m1-148v5m0 4v1m0 9v3m0 4v2m0 1v2m0 4v1m0 2v3m0 10v1m0 5v1m0 9v1m0 8v2m1-94v1m0 14v1m0 3v1m0 1v2m0 2v1m0 1v3m0 13v1m0 7v2m0 2v3m0 2v1m0 24v2m1-90v1m0 14v1m0 19v1m0 2v1m0 22v2m0 28v2m0 65v1m1-153v1m0 7v1m0 3v5m0 13v1m0 53v1m0 5v1m0 55v2m0 13v1m1-116v2m0 9v1m0 4v3m0 1v4m0 2v5m0 2v1m1-63v2m0 3v2m0 1v1m0 15v1m0 3v1m0 1v2m1-53v2m0 1v1m0 8v1m0 1v1m0 8v1m0 1v1m0 2v2m0 22v2m1-10v1m0 1v1m0 23v2m0 14v1m0 2v1m0 69v1m0 3v2m1-119v2m0 1v1m0 23v1m0 93v2m0 2v1m1-131v1m0 1v1m0 20v1m0 8v4m0 1v1m0 2v1m0 2v2m0 77v1m1-121v1m0 120v5m0 2v1m1-169v1m0 11v1m0 2v1m0 1v1m0 149v1m1-154v1m0 28v2m1-3v1m0 1v2m0 11v1m0 20v2m0 1v1m0 57v1m0 10v3m0 1v2m0 1v1m0 1v1m1-163v1m0 11v1m0 1v1m0 1v1m0 9v2m0 23v1m1-40v1m0 2v2m0 33v2m1-8v2m0 1v1m0 1v2m1-37v1m0 1v4m0 1v1m0 24v2m0 115v1m1-158v1m0 4v1m0 13v1m0 2v1m1 7v1m0 3v1m0 1v1m0 14v1m0 23v1m0 8v1m0 77v1m0 1v3m1-154v1m1-17v1m0 12v1m0 1v2m0 1v1m0 13v1m0 25v1m1 26v1m0 24v1m0 2v1m0 5v1m0 1v2m1-116v2m0 19v1m0 37v1m1-70v1m0 9v1m0 1v1m0 2v2m0 1v1m0 32v2m0 17v1m0 1v1m0 2v2m0 1v1m0 1v1m0 16v1m0 17v1m0 2v2m0 1v6m0 2v1m0 18v1m0 7v1m0 1v1m1-159v1m0 46v2m0 13v1m0 4v1m0 16v2m0 1v1m0 9v1m0 1v1m0 64v1m1-68v1m0 2v1m0 5v1m0 6v2m0 2v1m0 2v1m0 4v1m0 13v1m0 28v1m0 1v2m1-171v4m0 2v1m0 1v2m0 1v2m0 84v1m0 28v1m0 4v1m0 2v1m1-137v1m0 4v1m0 3v1m0 45v3m0 1v1m0 1v1m0 7v2m0 5v1m0 1v1m0 10v1m0 10v3m0 38v1m0 1v3m0 2v1m0 1v1m0 3v4m1-159v2m0 3v1m0 2v1m0 1v1m0 13v1m0 2v1m0 1v1m0 12v1m0 2v1m0 6v2m0 12v3m0 6v1m0 3v1m0 2v2m0 17v2m0 15v3m0 1v1m0 1v3m0 1v4m0 1v1m0 1v4m0 2v2m0 1v1m0 3v2m0 12v1m0 4v1m0 1v1m0 1v1m0 1v1m0 1v1m1-143v1m0 7v1m0 19v1m0 10v2m0 2v4m0 1v2m1-67v1m0 29v2m0 40v1m0 3v1m0 62v1m1-151v2m0 1v1m0 3v1m0 34v2m0 1v1m0 2v1m0 36v1m1-88v1m0 2v4m0 1v1m0 30v1m0 1v2m0 24v4m0 2v1m0 2v1m0 2v1m0 9v4m0 8v1m0 2v1m0 3v1m0 14v1m0 28v1m1-155v1m0 15v5m0 25v2m0 2v1m0 2v2m1-50v3m0 4v1m0 4v3m0 6v1m0 5v1m0 2v1m0 2v3m0 12v1m0 60v1m0 2v2m0 46v2m1-144v1m0 3v3m0 58v1m0 10v1m0 29v1m0 37v2m1-169v1m0 4v2m0 1v2m0 13v1m0 2v2m0 1v1m0 1v1m0 21v1m0 34v1m0 4v1m0 78v1m0 1v1m1-173v1m0 49v1m0 36v1m0 51v3m0 3v1m0 22v1m1-169v2m1 3v3m0 4v1m0 1v1m0 1v1m0 3v1m0 40v1m0 1v1m0 11v1m0 12v1m0 1v2m0 1v1m0 1v1m0 31v2m0 4v2m0 4v2m0 1v2m0 4v4m0 2v1m0 2v1m0 8v2m1-167v1m0 29v1m0 1v2m0 3v1m0 51v2m0 2v1m0 5v1m1-50v2m0 34v1m0 72v2m1-138v1m0 9v1m0 3v1m0 20v2m0 6v1m0 3v1m0 3v2m0 1v2m0 5v1m0 1v1m0 5v1m0 4v1m0 7v1m0 3v1m0 51v1m0 1v3m1-164v2m0 1v2m0 1v1m0 5v2m0 18v1m0 19v3m0 29v2m0 14v1m0 23v3m0 1v2m0 2v1m0 11v1m0 6v1m0 2v2m0 2v1m0 1v1m0 1v1m0 1v1m0 4v1m1-176v1m0 3v1m0 7v1m0 9v1m0 71v1m0 80v1m1-157v2m0 1v1m0 30v1m0 17v5m0 1v1m0 1v1m0 21v1m0 26v1m0 4v1m0 4v1m0 1v1m0 34v1m1-173v1m0 4v1m0 1v1m0 35v1m0 2v1m0 40v1m0 3v1m0 50v1m0 26v1m0 1v2m1-121v1m0 45v2m1-70v1m0 1v1m0 24v1m0 4v1m0 35v2m0 14v1m0 2v1m0 1v1m0 10v1m0 10v2m0 1v1m0 14v1m0 1v1m0 1v1m0 2v1m0 1v1m0 1v3m1-124v2m0 14v1m0 9v1m0 2v1m0 10v1m0 6v1m1-76v1m0 1v1m0 5v1m0 28v1m0 25v1m0 34v1m0 3v1m0 2v1m0 3v1m0 1v1m0 1v2m0 5v1m0 2v1m1-145v2m0 47v1m0 17v3m0 1v1m0 3v2m0 2v1m0 2v1m0 4v1m0 3v2m0 2v1m0 20v1m0 3v1m0 2v1m1-78v3m0 38v1m0 4v4m1-91v1m0 1v4m0 78v1m1-33v1m0 4v1m0 1v1m0 2v2m0 2v1m0 2v2m0 2v2m0 11v1m0 1v1m0 49v2m0 11v1m0 3v1m0 3v1m1-104v4m0 2v1m0 1v3m0 2v2m0 1v3m0 7v1m0 17v4m0 2v1m0 26v1m0 1v1m0 1v1m0 3v1m0 8v2m0 1v1m1-112v1m0 2v1m0 16v3m0 1v1m0 1v1m0 1v1m0 2v2m0 11v1m0 1v3m1-51v1m0 1v1m0 42v1m0 1v1m0 1v1m1-51v1m0 1v4m0 15v1m0 1v1m0 3v1m0 1v4m0 1v1m0 3v1m0 11v1m1-95v3m0 41v1m0 28v3m0 1v1m0 1v1m0 5v1m0 11v1m0 3v1m0 1v1m0 1v1m0 1v2m0 1v1m0 2v1m0 1v1m0 4v1m0 38v1m0 8v1m0 1v1m0 1v1m1-129v2m0 1v1m0 43v1m0 68v2m0 1v2m1-168v1m0 55v1m0 1v1m0 39v1m1-52v2m0 2v1m0 41v1m0 1v2m0 1v1m0 42v1m0 2v3m0 2v1m0 5v1m1-152v1m0 38v3m0 18v1m0 23v1m0 2v2m0 79v2m1-173v1m0 52v1m0 34v1m0 10v1m1-54v1m0 3v1m0 12v5m0 36v1m0 4v1m1-109v1m0 3v1m0 1v1m0 1v1m0 35v1m0 2v1m0 6v2m0 4v1m0 29v1m1-31v1m0 7v1m0 1v1m0 1v1m0 2v1m0 1v3m0 8v1m0 4v1m0 2v1m0 7v2m0 2v1m0 1v2m1-60v1m0 12v2m0 15v2m0 1v1m0 5v2m0 1v1m0 11v2m0 53v1m0 2v1m1-119v1m0 1v3m0 1v1m0 15v1m0 1v1m0 1v1m0 2v1m0 2v1m0 1v1m0 1v2m0 1v1m0 5v1m0 2v2m1-98v1m0 45v6m0 41v1m0 2v1m0 68v1m1-163v2m0 4v1m0 1v1m0 34v1m0 1v3m0 35v1m0 10v1m0 75v1m1-102v1m0 1v1m0 4v2m0 7v2m0 13v2m0 3v1m0 2v3m0 48v1m0 1v1m0 1v2m0 2v1m1-112v1m1-54v1m0 19v1m0 7v2m0 16v1m0 1v1m0 4v1m0 4v1m0 2v1m0 34v2m0 18v1m1-60v1m1-42v1m0 21v1m0 2v5m0 9v2m0 5v1m0 6v1m0 1v1m0 13v1m0 12v1m0 2v1m0 1v1m0 11v1m0 30v1m0 3v1m0 3v2m0 6v3m1-165v1m0 1v1m0 2v1m0 11v1m0 3v1m0 2v1m0 16v1m0 3v2m0 20v1m0 8v1m0 1v2m0 18v1m0 4v1m0 3v1m0 14v1m0 13v1m0 1v4m0 24v1m0 1v2m1-150v2m0 1v1m0 3v1m0 1v2m0 3v1m0 1v1m0 1v1m0 2v1m0 1v2m0 4v1m0 2v2m0 16v3m0 3v1m0 8v1m0 4v1m0 2v1m0 31v3m0 1v1m0 14v1m0 21v1m1-97v1m0 22v1m2-77v1m0 36v1m0 11v1m0 2v2m0 3v1m0 24v1m0 3v2m0 1v1m0 43v4m1-155v1m0 3v1m0 4v1m0 1v1m0 18v5m0 2v2m0 1v1m0 10v1m0 1v1m0 24v1m0 6v1m0 12v1m0 1v1m0 2v1m0 4v2m0 18v1m0 4v4m0 1v1m0 3v1m0 1v1m0 6v1m0 2v3m0 2v3m0 4v1m0 1v2m1-158v2m0 1v1m0 7v1m0 13v2m0 1v1m0 11v3m0 39v1m1-97v3m0 18v1m0 8v2m0 3v2m0 2v2m0 6v1m0 43v2m0 1v1m0 1v1m0 1v1m0 16v1m0 7v1m0 23v1m0 6v1m0 1v2m0 2v2m0 1v1m1-121v1m0 1v1m0 1v1m0 10v1m0 1v1m0 6v2m0 1v1m0 4v1m0 3v1m0 34v1m0 2v3m0 1v4m0 23v1m0 1v1m0 1v1m0 12v1m0 2v2m0 2v1m1-176v1m0 43v2m0 4v1m0 1v2m0 8v1m0 30v2m0 11v2m0 3v3m0 3v1m0 1v1m0 1v1m0 1v1m0 3v1m0 3v1m0 1v5m0 8v1m0 21v1m0 5v1m1-136v1m0 1v1m0 1v3m0 1v4m0 22v2m0 5v1m0 1v1m0 18v3m0 16v1m0 2v2m0 1v1m0 36v3m0 1v1m1-126v2m0 1v1m0 16v2m1-62v1m0 19v1m0 10v2m0 11v1m0 14v1m0 10v1m0 5v1m0 1v1m0 5v1m0 3v1m0 50v1m0 2v2m0 2v3m0 1v1m0 1v1m0 5v3m0 3v1m1-164v2m0 3v1m0 38v2m0 20v1m0 71v1m0 1v2m0 4v1m1-141v1m0 25v1m0 3v1m0 24v1m0 3v1m0 1v1m0 2v2m0 6v2m0 9v1m0 10v1m0 3v1m0 4v1m0 29v1m0 5v1m0 1v1m0 1v1m0 5v1m0 1v1m0 2v2m0 1v1m0 2v1m1-162v1m0 1v1m0 7v2m0 2v1m0 65v2m0 12v1m0 39v1m0 2v2m0 16v1m0 3v1m0 2v1m1-171v2m0 5v2m0 2v3m0 9v1m0 13v2m0 2v1m0 13v1m0 8v3m0 2v2m0 3v2m0 1v1m0 11v1m0 4v1m0 4v2m0 2v1m0 24v1m0 1v3m0 3v2m0 31v1m1-156v1m0 9v1m0 1v5m0 3v1m0 2v1m0 2v2m0 2v1m0 9v1m0 4v1m0 9v1m0 14v1m0 5v1m0 7v1m0 7v2m0 9v1m0 18v1m0 4v3m0 18v1m0 1v1m1-145v1m0 2v1m0 28v2m0 30v1m0 3v3m0 41v1m0 3v2m0 1v2m0 27v1m0 3v1m1-156v1m0 3v1m0 14v1m0 31v1m0 16v1m0 7v2m0 2v2m0 31v1m0 1v1m0 3v1m0 2v1m0 10v1m0 1v1m1-132v1m0 1v1m0 6v2m0 10v1m0 8v1m0 13v1m0 22v1m0 15v1m0 10v4m0 3v1m0 2v2m0 15v1m0 1v2m0 1v1m0 15v1m0 2v1m1-43v1m1-29v1m0 2v2m0 67v1m1-60v1m0 32v1m0 1v2m0 1v2m0 19v2m1-158v1m0 1v3m0 99v1m0 1v1m0 8v1m1-111v2m0 15v1m0 17v2m0 7v1m0 1v1m0 41v1m0 5v2m0 3v1m0 10v1m0 34v1m0 1v3m0 2v1m0 3v1m1-165v1m0 2v2m0 52v1m0 26v1m0 13v1m0 6v2m0 4v1m0 1v1m0 1v2m0 2v6m0 2v3m0 9v1m1-96v2m0 15v2m0 1v1m0 1v1m0 6v1m0 11v1m0 1v1m0 1v1m0 10v1m0 4v1m0 13v1m0 3v2m0 3v1m0 1v1m0 1v1m0 4v1m0 5v2m0 2v1m0 14v4m1-161v1m0 4v4m0 29v1m0 1v1m0 7v2m0 1v2m0 1v2m0 94v1m0 2v1m1-153v2m0 1v1m0 4v2m0 2v1m0 1v1m0 15v1m0 1v3m0 20v2m0 2v6m0 11v1m0 66v2m0 2v3m0 4v1m1-161v2m0 14v1m0 1v1m0 5v2m0 2v2m0 13v1m0 1v1m0 9v1m0 3v1m0 16v1m0 3v1m0 3v1m0 5v1m0 26v1m0 1v2m0 1v5m0 4v1m0 7v1m0 19v4m0 2v1m1-160v2m0 62v1m0 22v2m0 10v1m0 23v1m0 2v1m0 1v1m0 2v4m0 11v1m1-158v1m0 29v4m0 1v2m0 76v1m0 3v2m0 19v1m0 12v2m0 1v2m0 1v2m0 1v4m0 3v2m1-172v2m0 11v3m0 54v1m0 4v2m0 4v1m0 7v2m0 11v4m0 1v2m0 1v1m0 1v1m0 3v1m0 1v1m0 3v1m0 32v1m0 4v1m1-143v1m0 14v2m0 1v1m0 5v1m0 10v2m0 6v1m0 1v1m0 3v1m0 20v1m0 5v1m0 1v1m0 32v1m0 20v2m0 1v1m1-146v1m0 1v1m0 12v2m0 2v1m0 1v2m0 58v1m0 3v1m0 5v1m0 3v1m0 5v1m0 2v1m0 7v1m0 4v1m0 1v1m0 17v2m1-143v1m0 1v3m0 1v3m0 10v1m0 3v1m0 2v2m0 13v1m0 1v1m0 2v1m0 1v2m0 40v1m0 10v1m0 1v2m0 1v1m0 1v2m0 13v2m0 1v1m0 5v1m0 17v1m0 1v3m0 10v2m0 1v1m1-73v1m0 1v1m0 21v1m0 23v1m1-143v1m0 63v1m0 4v1m0 4v2m0 32v1m0 25v2m0 3v2m0 8v4m0 1v1m1-161v1m0 43v1m0 1v1m0 1v1m0 5v1m0 8v1m0 12v2m0 2v1m0 31v1m0 33v1m0 19v1m1-159v1m0 1v1m0 3v4m0 27v1m0 2v3m0 24v3m0 9v2m1 65v2m1-142v1m0 36v1m0 50v1m0 26v1m0 4v1m0 1v1m0 1v2m0 33v1m2-168v1m0 2v1m0 1v1m0 13v2m0 1v1m0 12v1m0 2v1m0 3v3m1-44v1m0 15v2m0 1v3m0 2v1m0 13v1m0 1v1m0 2v1m0 4v2m0 2v2m0 1v1m0 23v1m0 3v1m0 1v1m0 1v4m0 17v1m0 1v4m0 1v1m0 1v2m0 26v1m0 8v1m0 4v1m1-167v3m0 48v2m0 17v1m0 2v1m0 28v1m0 14v2m0 4v1m0 1v2m0 16v1m0 2v1m1-145v1m0 14v3m0 2v1m0 1v1m0 4v1m0 25v1m0 1v2m0 1v3m0 2v1m0 1v1m0 15v2m0 1v1m0 15v1m0 67v2m0 2v1m1-145v1m0 36v1m0 82v1m1-149v1m0 1v1m0 1v2m0 7v1m0 8v2m0 5v1m0 10v1m0 5v1m0 1v1m0 21v2m0 2v1m0 1v1m0 1v1m0 15v1m0 1v1m0 6v2m0 1v1m0 3v1m0 36v1m0 3v2m0 1v1m1-141v1m0 73v1m0 9v2m0 3v1m0 2v1m0 18v1m0 12v1m0 1v1m0 1v1m0 8v1m0 8v1m0 3v3m1-160v1m0 2v1m0 8v1m0 38v1m0 1v1m0 1v1m0 49v1m0 3v1m0 5v1m0 16v2m0 2v3m0 5v1m0 13v3m1-157v2m0 5v1m0 23v1m0 2v1m0 3v1m0 8v1m0 8v1m0 1v1m0 1v1m0 3v1m0 1v2m0 16v1m0 6v1m0 11v1m0 1v1m0 1v4m0 1v2m0 41v1m0 1v2m1-171v1m0 16v2m0 21v1m0 3v1m0 8v1m0 1v1m0 2v1m0 11v1m0 7v1m0 8v1m0 2v1m0 30v1m0 32v4m0 1v1m0 1v1m0 7v3m0 1v1m1-162v1m0 1v1m0 1v1m0 2v3m0 18v3m0 2v2m0 1v2m0 1v1m0 9v1m0 88v1m0 1v1m0 3v1m1-158v1m0 13v2m0 18v3m0 3v1m0 12v3m0 3v1m0 68v1m0 1v1m0 1v1m0 1v1m0 1v1m0 2v1m0 1v1m0 19v1m0 3v2m1-165v2m0 4v1m0 2v2m0 20v3m0 1v3m0 3v1m0 6v1m0 9v2m0 30v1m0 42v1m0 2v1m0 14v1m0 8v2m1-150v1m0 48v1m0 5v1m0 1v1m0 1v4m0 30v2m0 4v1m0 2v1m0 1v2m0 4v2m0 4v1m0 3v1m0 27v1m0 7v1m0 1v2m1-168v1m0 5v1m0 10v1m0 2v1m0 1v3m0 39v2m0 1v4m0 1v3m0 1v1m0 3v1m0 1v1m0 39v2m0 1v2m0 1v1m0 1v4m0 12v1m1-140v1m0 1v1m0 1v1m0 1v4m0 66v1m0 15v1m0 1v1m0 6v5m0 1v2m0 3v1m0 1v1m0 1v2m0 1v2m0 3v1m0 1v1m0 25v1m1-122v1m0 5v1m0 1v1m0 16v1m0 1v2m0 2v4m0 1v1m0 12v2m0 5v1m0 1v1m1-95v1m0 3v1m0 4v2m0 50v1m0 4v3m0 1v3m0 4v3m0 6v1m0 3v1m0 1v1m0 26v1m0 1v2m0 6v1m0 11v2m0 3v1m0 2v1m1-133v1m0 8v1m0 13v1m0 6v1m0 2v2m0 3v3m0 1v1m0 26v1m0 6v1m0 44v1m0 2v3m0 2v1m0 2v2m0 1v1m0 1v2m0 1v2m0 3v1m0 3v1m1-173v3m0 12v1m0 3v1m0 13v1m0 1v2m0 1v1m0 21v3m0 2v1m0 15v1m0 4v2m0 4v1m0 2v1m0 9v1m0 1v2m0 17v3m0 7v1m0 1v2m0 1v4m0 1v1m1-150v1m0 1v1m0 61v3m0 1v1m0 15v1m0 2v1m0 2v1m0 10v4m0 1v2m0 3v1m0 2v1m0 17v1m0 5v1m0 3v1m0 4v2m0 1v1m0 3v2m0 2v1m0 1v2m0 9v1m1-81v1m0 9v1m0 2v1m0 2v3m0 1v1m0 38v1m0 1v1m0 1v2m0 13v1m0 5v1m1-162v1m0 22v2m0 2v1m0 49v2m0 24v1m0 1v4m0 2v3m0 13v3m0 2v1m1-145v1m0 3v1m0 5v2m0 19v1m0 4v1m0 1v2m0 19v1m0 1v1m0 6v1m0 4v1m0 6v1m0 7v1m0 16v1m0 4v1m0 49v1m0 2v1m0 3v1m1-160v1m0 2v1m0 1v1m0 17v1m0 2v2m0 1v1m0 16v1m0 3v2m0 5v3m0 13v1m0 5v1m0 8v3m0 6v1m0 4v2m1-114v1m0 28v1m0 63v1m0 6v1m1-99v1m0 2v2m0 8v1m0 43v1m0 5v1m0 1v1m0 1v1m0 22v1m0 11v2m0 4v1m0 3v1m0 39v1m0 1v1m0 2v2m0 7v3m0 4v1m1-175v5m0 36v2m0 1v2m0 1v1m0 12v1m0 4v2m0 19v1m0 2v1m0 2v1m0 2v3m0 2v2m0 2v1m0 9v1m0 3v1m0 42v2m0 4v1m1-169v1m0 82v1m0 1v1m0 5v1m0 25v1m1-110v1m0 1v4m0 6v2m0 16v1m0 1v2m0 17v1m0 4v1m0 4v1m0 90v1m0 11v2m0 1v1m1-152v2m0 2v4m0 3v1m0 2v1m0 15v2m0 1v1m0 2v1m1-17v2m0 19v5m0 2v2m0 1v3m0 1v2m0 25v2m0 3v1m0 1v1m0 3v2m0 3v1m0 7v1m1-129v1m0 59v1m0 8v1m0 7v2m0 3v1m0 4v1m0 2v1m0 48v3m0 3v2m0 23v1m1-167v1m0 19v1m0 3v3m0 34v1m0 4v2m0 5v2m0 15v1m0 26v2m0 1v2m0 4v1m0 8v1m1-68v1m0 2v1m0 1v4m1-66v1m0 2v2m0 10v1m0 31v4m0 28v1m0 4v1m1-102v1m0 6v1m0 6v1m0 28v2m0 3v1m0 8v1m0 3v1m0 1v1m0 9v3m0 3v1m0 2v1m0 2v1m0 1v1m0 1v4m0 3v1m0 2v2m0 40v1m0 8v1m0 2v1m0 4v3m1-155v1m0 2v3m0 2v1m0 2v1m0 5v1m0 11v3m0 2v1m0 24v1m0 1v3m0 3v2m0 2v1m0 1v1m0 2v1m0 10v1m0 4v1m0 1v1m0 72v1m1-173v1m0 21v2m0 28v1m0 65v1m0 2v1m0 2v1m0 7v1m0 20v1m0 6v1m0 11v1m1-120v4m0 3v1m0 9v1m0 9v1m1-44v2m0 1v1m0 1v1m0 4v1m0 1v1m0 19v1m0 3v1m0 5v1m0 2v2m0 3v1m0 1v1m0 24v2m0 10v2m0 3v1m0 3v2m0 29v1m1-149v2m0 2v1m0 13v2m0 31v1m0 7v3m0 42v1m0 2v2m0 38v1m1-51v2m0 56v1m1-168v1m0 3v1m0 1v1m0 1v2m0 1v1m0 2v1m0 20v1m0 6v1m0 1v1m0 3v3m0 1v1m0 4v2m0 3v1m0 31v1m0 30v1m0 6v2m0 28v1m0 2v1m1-168v1m0 50v1m0 33v1m0 34v1m1-69v2m0 1v1m0 9v1m0 1v1m0 8v2m0 44v1m1-62v1m0 8v2m0 94v2m1-97v2m0 7v1m0 1v1m0 1v1m1-44v2m0 2v1m0 18v1m0 23v1m0 75v2m1-167v2m0 48v1m0 31v1m0 3v1m0 24v1m0 6v1m0 51v1m1-165v1m0 2v1m0 1v1m0 9v1m0 29v1m0 1v1m0 43v1m0 1v2m0 8v1m0 12v1m1-117v1m0 46v1m0 7v3m0 1v3m0 7v1m0 1v2m0 4v2m0 25v4m0 1v1m0 2v1m0 50v1m0 1v1m1-174v1m0 102v1m1-106v1m0 11v1m0 2v1m0 31v3m0 18v1m0 9v1m0 3v2m0 28v1m0 2v1m0 1v1m0 1v1m0 2v1m0 6v1m0 3v2m0 35v1m1-170v1m0 63v1m0 9v1m0 25v3m0 67v1m0 3v1m1-173v1m0 6v2m0 3v2m0 37v1m0 18v1m0 1v1m0 1v1m0 14v2m0 29v1m0 49v2m1-171v2m0 3v1m0 3v1m0 36v2m0 21v1m0 18v1m0 17v1m0 3v1m0 8v1m0 1v1m0 16v1m1-142v2m0 1v1m0 12v3m0 1v1m0 12v2m0 2v4m0 11v1m0 4v1m0 17v1m0 14v1m0 13v1m0 1v2m0 1v2m0 2v1m0 24v2m0 30v4m1-171v1m0 98v1m0 5v1m1-110v1m0 3v1m0 110v1m1-112v1m0 12v2m0 3v2m0 18v1m0 4v1m0 1v3m0 2v3m0 15v1m0 6v2m0 1v4m0 1v1m0 1v1m0 33v1m0 46v1m1-142v1m0 14v1m0 3v3m0 1v1m0 3v2m0 25v1m0 17v2m0 8v1m0 2v1m0 8v1m0 1v1m1-124v1m0 6v1m0 4v3m0 19v1m0 1v2m0 17v1m0 1v2m0 22v1m0 3v1m0 5v1m0 23v3m0 20v1m0 27v1m0 1v1m1-153v1m0 23v1m0 2v3m0 3v1m0 8v1m0 3v1m0 1v1m0 6v1m0 1v1m0 41v1m0 4v1m0 9v1m1-130v4m0 3v1m0 2v2m0 69v1m0 2v1m0 22v1m0 12v1m0 2v3m0 7v1m1-107v1m0 1v1m0 2v1m0 23v1m0 7v2m0 1v1m0 1v1m0 6v1m0 2v1m0 11v1m0 1v2m0 1v1m0 34v1m0 34v1m0 1v2m0 1v1m1-175v3m0 18v1m0 4v1m0 37v1m0 3v1m0 14v1m0 3v2m0 1v1m0 33v1m0 1v2m1-110v3m0 3v4m0 1v4m0 19v2m0 19v2m0 1v1m0 9v1m0 1v1m0 27v2m0 13v2m0 2v1m1-135v3m0 1v1m0 9v2m0 33v1m0 3v1m0 1v2m0 35v1m0 13v3m0 1v1m0 11v1m0 3v1m0 19v1m1-144v1m0 20v1m0 1v1m0 1v2m0 26v4m0 3v1m0 3v4m0 7v1m0 1v2m0 33v1m0 1v2m0 2v1m0 15v3m0 8v1m0 22v3m1-175v1m0 1v1m0 13v2m0 5v1m0 2v6m0 13v1m0 2v2m0 8v1m0 10v4m0 5v1m0 3v1m0 1v1m0 2v1m0 17v1m0 2v3m0 1v1m0 3v1m0 1v1m0 2v1m0 6v1m0 3v1m0 17v1m0 7v1m0 1v2m0 9v1m1-171v2m0 13v1m0 17v2m0 3v1m0 3v1m0 1v3m0 1v1m0 1v1m0 9v1m0 4v2m0 2v1m0 8v4m0 9v1m0 4v1m0 1v1m0 25v1m0 2v1m0 10v2m0 10v1m0 10v1m1-157v2m0 2v5m0 6v1m0 5v1m0 12v1m0 38v2m0 3v2m0 24v1m0 1v2m0 55v2m1-152v1m0 3v1m0 49v2m0 2v1m0 28v1m0 1v1m0 4v2m1-88v2m0 3v1m0 13v1m0 5v1m0 17v3m0 8v2m0 31v1m1-115v2m0 31v1m0 1v1m0 2v1m0 11v1m0 64v3m0 1v4m0 40v1m0 2v1m1-163v1m0 10v1m0 1v1m0 6v1m0 5v1m0 4v1m0 5v1m0 2v1m0 2v1m0 2v1m0 43v1m0 2v2m0 1v1m0 5v1m0 10v1m0 21v1m1-121v1m0 2v1m0 48v1m0 7v1m0 11v2m0 35v1m0 1v2m0 1v1m0 2v2m0 14v2m0 2v1m0 2v2m0 5v2m1-160v1m0 3v3m0 2v1m0 2v4m0 12v1m0 1v4m0 2v5m0 1v1m0 1v2m0 20v1m0 5v1m0 13v1m0 5v1m0 1v1m0 3v3m0 2v2m0 5v1m0 9v1m0 1v1m0 1v1m0 3v1m0 26v1m1-86v4m0 2v1m0 1v1m0 1v1m0 1v1m0 19v1m0 4v1m0 55v1m0 3v1m1-157v1m0 2v1m0 19v3m0 2v2m0 6v1m0 1v4m0 4v1m0 3v1m0 4v2m0 1v1m0 19v1m0 2v1m0 8v1m0 10v1m0 10v1m0 1v1m0 35v1m1-163v2m0 4v1m0 58v1m0 5v1m0 2v2m1-66v1m0 1v2m0 1v2m0 8v3m0 29v2m0 2v1m0 15v2m0 1v1m0 14v2m0 1v1m0 6v3m0 2v1m0 1v4m1-114v2m0 1v3m0 7v2m0 9v1m0 3v2m0 1v1m0 30v1m0 4v1m0 2v2m0 46v1m0 35v2m0 1v1m0 5v1m1-165v4m0 3v1m0 32v1m0 3v1m0 9v1m0 9v1m0 3v1m0 1v2m0 2v2m0 1v1m0 3v2m0 25v3m0 2v1m0 49v1m0 2v1m1-167v2m0 1v3m0 2v1m0 31v2m0 24v2m0 7v1m0 1v1m0 2v1m0 4v1m0 11v1m0 1v2m0 4v1m0 10v1m0 3v1m0 4v2m0 2v1m0 32v1m1-166v1m0 47v2m0 3v4m0 1v1m0 12v1m0 6v1m0 2v1m0 8v3m0 1v3m0 6v1m0 2v1m0 2v1m1-110v1m0 6v1m0 2v1m0 4v1m0 31v3m0 2v2m0 1v1m0 1v1m0 32v1m0 1v1m0 1v1m0 10v1m1-82v1m0 3v1m0 8v1m0 30v4m0 9v1m0 2v1m1 25v1m0 3v1m1-113v1m0 25v4m0 2v1m0 1v1m0 10v1m0 12v1m0 1v2m0 23v1m0 13v1m0 5v3m1-114v2m0 50v2m0 3v2m0 17v1m0 16v4m0 4v2m0 11v1m0 1v2m0 2v1m1-98v2m0 3v2m0 1v1m0 22v2m0 2v1m0 34v1m0 4v1m0 1v1m0 1v1m0 4v1m0 3v1m0 12v1m0 1v1m1-104v1m0 2v1m0 1v2m0 14v1m0 1v2m0 1v2m0 22v1m0 2v1m0 16v1m0 2v1m0 4v4m0 2v1m0 4v2m0 2v1m0 4v1m1-121v1m0 32v1m0 1v1m0 36v1m0 1v1m0 28v1m0 19v1m1-123v1m0 3v1m0 3v2m0 3v1m0 1v1m0 1v1m0 14v1m0 3v1m0 4v2m0 3v1m0 11v1m0 3v2m0 56v1m0 43v1m1-92v1m0 3v1m0 47v1m0 3v2m0 2v1m1-131v1m0 4v1m0 58v1m0 1v1m0 1v3m0 66v1m0 1v1m0 1v2m1-132v4m0 2v1m0 19v2m0 2v3m0 14v1m0 1v1m0 2v1m0 3v2m0 49v1m0 14v1m1-79v1m0 2v1m0 12v1m0 8v2m0 16v1m0 46v1m0 5v1m0 4v1m0 2v1m0 2v2m0 2v2m1-107v2m0 5v1m0 7v1m0 40v1m0 2v1m0 13v1m1-93v2m0 25v1m0 1v1m0 51v1m0 1v4m0 1v2m1-80v1m0 16v2m0 13v1m0 2v1m0 49v1m0 3v1m1-130v1m0 3v2m0 34v3m0 42v1m0 35v2m1-46v2m0 1v3m0 14v1m0 1v1m0 24v1m0 1v1m0 1v2m0 1v1m1-146v1m0 78v1m0 1v2m0 1v1m0 1v1m0 26v1m0 1v2m0 1v1m0 2v2m0 17v1m0 18v2m0 9v2m1-171v1m0 86v1m0 5v1m0 16v1m0 1v1m0 1v3m0 1v1m0 16v5m0 1v2m0 1v1m0 8v1m1-74v1m0 2v1m0 19v1m0 1v2m0 2v1m0 5v2m0 1v2m0 1v2m0 2v1m0 3v1m0 16v1m0 1v3m0 5v1m0 7v2m1-162v1m0 1v1m0 3v1m0 2v2m0 2v2m0 27v1m0 6v1m0 1v1m0 9v3m0 1v1m0 4v4m0 1v2m0 1v1m0 1v1m0 85v1m1-75v3m0 1v2m0 1v1m0 3v3m0 14v4m0 4v1m0 3v1m0 2v1m0 2v4m1-49v1m0 3v1m0 1v1m0 1v1m0 1v1m0 1v1m0 4v2m0 1v1m0 1v1m1-65v1m0 9v2m0 1v1m0 3v1m0 3v1m0 13v3m0 1v1m0 15v2m0 2v1m0 42v1m0 2v1m0 1v4m1-104v1m0 26v1m0 6v2m0 12v1m0 3v2m0 1v1m0 19v3m0 3v3m0 1v2m0 2v3m0 1v2m1-107v1m0 5v1m0 1v1m0 17v2m0 17v1m0 2v1m0 37v3m0 2v1m1-97v1m0 8v1m0 7v1m0 1v1m0 24v1m0 35v1m0 12v1m0 1v1m0 3v1m0 18v1m1-137v1m0 33v1m0 26v1m0 49v1m0 2v1m0 2v1m0 12v1m0 1v1m0 2v2m0 1v1m1-111v1m0 5v1m0 1v1m0 34v1m0 8v1m0 3v1m0 1v2m0 2v1m0 28v1m0 1v1m0 2v1m0 12v1m1-142v1m0 2v1m0 44v1m0 19v1m0 3v2m0 1v1m0 6v2m0 3v3m0 2v2m0 31v1m1-95v1m0 4v2m0 3v1m0 1v1m0 1v1m0 9v2m0 3v2m0 41v1m0 3v2m0 13v1m0 3v1m0 6v1m0 3v2m1-65v1m0 2v1m0 3v1m0 1v1m0 2v1m0 2v2m0 9v1m0 7v1m0 2v3m0 5v3m0 18v1m1-111v1m0 1v1m0 26v1m0 20v1m0 8v1m0 1v1m0 30v1m0 1v2m0 4v2m0 1v1m1-104v1m0 6v1m0 20v3m0 16v1m0 2v1m0 2v1m0 2v1m0 24v2m0 30v1m1-113v2m0 69v1m0 3v1m0 1v2m0 4v3m0 1v1m0 4v1m0 1v1m0 3v1m0 3v1m1-95v1m0 26v3m0 1v2m0 3v1m0 2v5m0 13v4m0 16v1m1-38v1m0 4v1m0 6v1m0 3v1m0 10v1m0 7v2m1-139v1m0 57v1m0 19v1m0 2v1m0 3v1m0 12v1m0 12v2m0 4v1m0 7v2m0 1v1m0 38v1m0 1v1m1-110v1m0 8v2m0 1v2m0 1v1m0 7v1m0 53v1m0 3v3m0 13v2m0 8v1m1-119v1m0 5v1m0 1v3m0 38v1m0 12v1m0 2v2m1-58v1m0 51v6m0 1v1m0 2v1m0 9v1m0 1v2m0 1v1m0 10v1m0 8v1m1-67v1m0 6v3m0 26v1m0 1v1m0 1v1m0 1v1m0 8v1m0 4v1m0 2v1m0 1v2m0 3v2m1-78v1m0 5v1m0 42v1m0 6v1m0 17v1m0 4v2m0 2v1m1-88v1m0 2v2m0 5v1m0 27v1m0 6v1m0 1v1m0 13v1m0 3v1m0 3v1m0 1v1m0 5v1m0 1v2m0 11v2m1-114v1m0 13v1m0 26v1m0 1v4m0 1v1m0 1v2m0 13v2m0 12v2m0 21v4m0 1v1m0 4v1m0 1v2m1-170v1m0 1v1m0 2v1m0 1v2m0 1v1m0 46v1m0 7v1m0 5v1m0 1v2m0 1v1m0 11v1m0 2v3m0 1v1m0 18v2m0 17v2m1-79v1m0 5v1m0 1v2m0 1v1m0 2v2m0 1v1m0 2v1m0 16v1m0 42v1m0 4v1m1-77v1m0 5v1m0 1v2m0 2v1m0 15v1m0 26v1m0 2v1m0 12v1m0 2v1m0 2v1m1-102v3m0 9v1m0 1v3m0 29v1m0 25v2m0 1v1m1-8v3m0 1v1m0 1v1m0 9v1m0 18v1m0 4v3m1-100v1m0 11v4m0 8v1m0 4v1m0 7v1m0 3v3m0 1v1m0 2v2m0 2v1m0 11v2m0 2v2m0 22v2m0 6v1m0 9v1m1-106v1m0 4v1m0 19v1m0 3v1m0 23v1m0 1v5m0 21v3m0 2v1m0 14v1m0 3v1m0 3v1m0 1v2m1-117v1m0 4v1m0 2v1m0 1v1m0 32v2m0 2v3m0 1v1m0 3v2m0 1v5m0 17v2m0 8v1m1-98v1m0 8v1m0 1v1m0 10v2m0 15v3m0 8v1m0 2v5m0 3v2m0 32v2m0 15v1m1-103v2m0 32v2m0 2v1m0 14v1m0 1v1m0 1v2m0 2v2m0 1v1m0 2v1m0 7v1m0 1v2m0 1v1m0 1v3m0 2v1m0 18v1m0 1v1m1-117v1m0 2v1m0 5v1m0 19v1m0 4v3m0 6v4m0 55v1m0 4v1m1-103v2m0 39v1m0 6v1m0 7v1m0 1v1m0 4v3m0 1v1m0 19v1m1-9v1m1-137v2m0 1v1m0 89v2m0 2v1m0 3v1m0 38v2m0 1v2m0 24v1m1-169v2m0 66v1m0 3v1m0 26v2m0 35v2m0 9v1m0 1v2m0 1v1m0 2v2m1-76v1m0 1v2m0 1v1m0 25v3m0 2v2m0 3v1m0 1v1m0 3v1m0 2v1m0 35v1m0 3v2m1-120v1m0 4v1m0 43v1m0 4v1m0 3v1m0 50v1m0 1v1m1-139v1m0 33v1m0 7v1m0 1v2m0 10v2m0 3v2m0 58v1m0 14v1m1-163v1m0 58v1m0 2v3m0 10v2m0 1v1m0 2v1m0 2v1m0 18v1m0 21v3m0 2v3m0 1v1m0 1v1m0 23v1m0 2v1m0 4v3m1-81v1m0 10v6m0 3v2m0 12v1m0 24v1m0 18v1m1-88v1m0 2v2m0 1v1m0 10v3m0 10v1m0 2v4m0 1v3m0 1v5m0 1v2m0 1v1m0 2v2m1-25v2m0 3v1m0 3v1m1-90v1m0 4v2m0 19v1m0 6v1m0 3v1m0 2v2m0 8v1m0 1v1m0 4v1m0 9v2m0 25v1m0 2v1m0 1v1m1-135v1m0 4v1m0 41v2m0 34v1m0 2v2m0 1v2m0 9v1m0 6v1m0 1v1m0 1v4m0 14v1m0 2v4m0 2v2m1-133v1m0 4v1m1-11v1m0 2v1m0 41v5m0 4v3m0 2v1m0 2v1m0 22v1m0 54v1m0 1v1m0 4v1m1-144v2m0 4v1m0 1v1m0 7v1m0 23v1m0 7v3m0 1v1m0 2v2m0 5v1m0 1v1m0 6v1m0 5v1m0 5v1m0 1v1m0 7v1m0 29v1m0 8v1m0 30v1m1-170v2m0 45v2m0 2v1m0 42v1m0 1v2m0 1v1m0 1v1m0 14v1m0 1v1m0 1v1m0 1v3m0 1v1m0 1v1m0 1v5m0 2v1m0 1v1m0 26v2m1-160v1m0 2v1m0 1v2m0 37v1m0 21v1m0 8v1m0 1v2m0 2v1m0 4v1m0 3v1m0 1v1m0 71v3m1-173v1m0 91v3m0 1v1m1-88v1m0 35v1m0 3v1m0 2v1m0 1v1m0 2v2m0 4v1m0 2v1m0 1v1m0 2v1m0 43v4m0 7v1m0 1v1m0 5v4m0 1v1m0 30v3m1-164v1m0 42v1m0 1v1m0 2v5m0 7v1m0 13v1m0 7v1m0 30v2m0 1v1m0 15v1m0 29v1m0 1v1m1-172v1m0 1v1m0 2v1m0 39v2m0 3v2m0 1v1m0 1v2m0 1v1m0 39v1m0 8v1m0 19v4m0 1v4m1-132v2m0 1v3m0 155v1m1-49v1m0 2v4m0 1v1m0 9v1m0 3v1m1-144v1m0 6v1m0 2v1m0 8v1m0 1v1m0 1v1m0 17v2m0 18v2m0 63v1m0 41v1m0 3v4m1-176v1m0 109v1m0 4v2m0 11v1m0 1v1m0 1v2m0 2v1m0 6v2m0 17v1m0 8v2m1-166v2m0 1v1m0 3v1m0 2v1m1-10v1m0 1v2m0 59v1m0 78v2m0 1v3m0 4v1m1-159v2m0 2v1m0 5v2m0 83v1m0 2v1m0 9v1m0 11v1m0 18v2m0 1v2m0 1v3m0 2v1m0 3v1m0 8v1m1-20v1m1-43v1m0 42v3m1-100v2m0 3v1m0 1v2m0 36v1m0 30v1m0 14v1m0 1v3m0 1v4m0 2v1m0 5v4m0 2v1m1-164v1m0 43v1m0 3v2m0 9v2m0 36v1m0 41v1m0 12v1m0 6v1m1-92v7m0 3v1m0 36v1m0 2v2m0 1v1m0 2v1m0 1v1m0 1v1m0 1v2m0 2v1m0 2v1m0 28v3m1-168v1m0 121v1m0 8v1m1-31v1m0 3v2m0 1v1m0 1v2m0 26v1m0 1v1m0 1v1m0 1v3m1-94v1m0 7v2m0 29v1m0 2v1m0 17v1m0 1v2m1-73v1m0 1v1m0 17v1m0 1v1m0 21v1m0 14v1m0 3v1m0 1v2m0 10v1m0 1v2m0 11v1m0 15v1m0 12v2m1-24v1m0 1v1m1-143v1m0 3v2m0 40v2m0 40v2m0 3v1m0 1v2m0 7v2m0 11v1m0 1v2m0 11v3m0 33v1m1-132v1m0 8v2m0 8v1m0 1v1m0 33v1m0 6v1m0 2v1m0 1v2m0 2v1m0 28v1m0 2v3m1-140v1m0 60v1m0 1v1m0 4v1m0 1v1m0 1v1m0 2v1m0 4v2m0 2v2m0 3v1m0 5v1m0 1v1m0 2v1m0 1v5m0 1v1m0 2v2m0 10v1m0 4v2m0 13v1m0 2v4m0 10v1m0 2v2m0 1v1m1-110v1m0 2v4m0 2v1m0 9v1m0 3v1m0 5v3m0 2v1m0 43v1m0 2v2m0 18v1m1-168v1m0 2v1m0 2v1m0 1v1m0 33v1m0 19v1m0 8v1m0 2v1m0 1v2m0 10v1m0 11v4m0 1v2m0 2v1m0 3v1m0 15v2m0 5v1m0 1v1m0 1v2m0 5v2m0 2v2m0 2v1m0 5v3m0 2v2m0 4v1m1-170v2m0 27v1m0 14v3m0 12v2m0 6v1m0 4v1m0 14v1m0 1v1m0 8v1m0 1v1m0 22v1m0 2v1m0 3v1m0 1v3m0 13v1m0 1v5m0 2v1m1-115v1m0 2v3m0 70v1m0 45v1m0 1v1m1-146v1m0 29v1m0 10v2m0 1v1m0 75v3m1-148v1m0 96v1m0 1v1m0 17v4m0 7v1m0 2v1m0 2v1m0 2v1m0 9v1m0 1v1m0 13v2m0 1v2m1-134v2m0 2v1m0 3v1m0 3v1m0 3v2m0 66v1m0 45v1m1-158v2m0 2v3m0 6v1m0 3v1m0 1v3m0 15v2m0 47v2m0 2v4m0 22v2m0 1v1m1-127v1m0 16v3m0 21v1m0 4v1m0 2v1m0 1v3m0 8v1m0 2v1m0 2v1m0 32v1m0 1v2m0 1v1m0 3v1m0 3v1m0 23v2m1-116v1m0 4v4m0 42v1m0 2v1m0 1v1m0 10v1m0 1v1m0 29v2m0 3v1m0 3v1m0 1v1m0 1v1m0 1v1m0 1v1m0 10v1m0 1v1m0 1v2m0 2v2m0 7v2m1-116v3m0 34v1m0 2v1m0 2v1m0 17v2m0 1v2m0 1v1m0 6v2m0 1v1m0 3v3m1-138v1m0 8v1m0 7v1m0 43v2m0 49v1m0 11v1m0 40v1m0 1v1m1-161v1m0 6v1m0 55v4m0 1v1m0 1v1m0 1v2m0 1v1m1-80v1m0 1v1m0 95v1m1-50v1m0 3v1m0 7v1m0 1v1m0 1v2m1-28v2m0 13v1m0 6v1m0 1v1m0 1v2m0 6v4m0 23v1m0 11v1m0 4v1m0 30v1m0 19v1m1-144v1m0 17v3m0 19v1m0 10v1m0 1v1m0 1v1m0 3v1m0 1v1m0 14v1m0 27v2m0 1v2m1-33v1m0 1v1m0 5v1m0 1v1m0 36v2m0 3v2m0 1v3m0 7v2m1-171v2m0 8v1m0 6v1m0 2v1m0 2v1m0 19v1m0 5v1m0 7v1m0 1v1m0 10v1m0 1v1m0 1v4m0 2v1m0 16v1m0 7v3m0 1v1m0 3v1m0 13v1m0 17v1m0 3v1m0 1v1m0 1v1m0 5v2m1-152v1m0 45v1m0 2v2m0 31v1m0 23v2m0 2v1m0 1v2"/><path stroke="#fde6a0" stroke-width="1" d="M0 14v1m0 3v1m0 1v1m0 14v1m0 9v1m0 21v2m0 19v1m0 26v2m0 2v1m0 2v1m0 2v2m1-118v1m0 1v1m0 1v2m0 1v1m0 5v1m0 27v1m0 37v4m0 62v1m0 13v1m1-169v1m0 1v1m0 43v1m0 23v1m0 18v1m0 3v1m0 4v1m0 51v1m0 1v3m0 14v1m0 2v2m0 1v1m1-153v2m0 21v1m0 1v2m0 49v1m0 58v1m0 1v2m1-135v1m0 1v1m0 12v1m0 11v1m0 36v2m0 2v1m0 1v2m0 63v1m0 4v1m0 5v1m1-169v1m0 46v2m0 9v1m0 2v4m0 34v1m0 5v1m0 4v1m0 7v2m0 31v1m0 5v1m0 2v1m0 1v2m0 1v1m1-143v3m0 11v1m0 29v1m0 1v1m0 14v1m0 66v1m1-140v1m0 5v1m0 1v1m0 3v1m0 17v1m0 6v1m0 12v1m0 92v1m0 1v1m1-129v3m0 39v1m0 78v1m0 3v1m0 1v1m1-142v1m0 15v1m0 2v1m0 23v1m0 3v1m0 4v1m0 1v1m0 2v1m0 1v1m0 1v1m0 3v1m0 17v1m0 25v1m0 1v1m0 2v1m0 12v1m1-124v2m0 1v1m0 15v1m0 70v1m0 44v3m0 8v1m0 1v1m0 2v1m1-158v1m0 16v1m0 5v1m0 14v2m0 26v1m0 7v1m0 10v1m0 6v1m0 40v2m0 10v1m0 2v1m0 4v1m0 2v2m1-62v2m0 2v1m0 1v1m0 1v1m0 1v7m0 2v2m1-30v7m0 22v1m0 1v1m0 7v1m0 27v2m1-167v1m0 3v1m0 3v2m0 75v1m0 30v1m0 38v1m0 2v1m0 9v1m1-110v1m0 12v1m0 4v1m0 1v1m0 1v2m0 14v1m0 3v1m0 4v2m0 15v1m0 1v1m0 1v1m0 7v1m0 1v1m0 1v1m1 8v1m0 2v2m0 1v1m0 6v1m1-127v1m0 5v3m0 5v1m0 1v2m0 13v1m0 2v1m0 5v1m0 1v2m0 23v2m0 21v2m0 2v1m0 18v1m0 1v1m0 1v2m0 2v3m0 1v1m1-144v2m0 1v1m0 2v1m0 12v1m0 1v1m0 3v1m0 5v5m0 23v3m0 1v1m0 4v1m0 69v1m0 4v2m0 3v1m1-154v2m0 108v3m0 1v1m0 1v2m0 2v1m0 10v1m0 1v2m0 8v1m0 2v2m1-15v1m0 5v1m0 6v1m0 3v1m0 1v1m0 1v2m1-154v1m0 2v2m0 2v4m0 29v1m0 2v1m0 2v2m0 90v3m0 1v1m0 1v1m1-110v3m0 1v1m0 23v2m0 1v2m0 6v1m0 2v1m0 57v2m0 1v3m0 1v1m0 5v2m0 4v1m1-127v1m0 41v2m0 7v1m0 7v1m0 3v1m0 2v3m0 1v2m0 2v2m0 2v1m0 22v1m0 1v1m0 1v1m0 14v1m0 4v1m1-157v1m0 47v1m0 4v1m0 2v1m0 2v1m0 1v1m0 8v1m0 79v1m0 2v1m0 1v1m0 1v1m1-172v1m0 1v1m0 1v2m0 46v1m0 9v1m0 1v2m0 25v1m0 63v1m0 7v1m1-105v1m0 1v2m0 89v1m0 3v1m0 2v1m0 4v2m0 5v1m1-83v1m0 35v1m0 13v3m0 26v1m1-144v1m0 37v1m1-5v1m0 11v1m0 4v1m0 35v1m0 1v5m0 1v1m0 1v2m0 38v1m0 6v2m1-156v2m0 1v2m0 22v2m0 36v2m0 1v1m0 9v2m0 67v1m1-132v3m0 1v3m0 15v1m0 3v1m0 3v1m0 30v2m0 15v1m0 29v1m0 8v2m0 9v1m0 4v2m1-152v1m0 2v3m0 11v1m0 3v1m0 1v1m0 25v1m0 8v1m0 2v3m0 83v2m1-110v2m0 1v2m0 3v1m0 5v1m0 1v1m0 15v1m0 53v4m0 1v1m0 7v1m0 6v2m0 4v1m1-131v1m0 4v1m0 26v2m0 3v1m0 40v1m0 1v1m0 2v1m0 2v1m0 1v1m0 36v1m1-133v1m0 14v1m0 2v1m0 32v2m0 84v1m1-144v1m0 1v1m0 25v2m0 19v1m0 2v2m0 1v1m0 9v1m0 1v2m0 1v1m0 1v1m0 66v2m0 4v1m0 1v1m1-117v1m0 1v2m0 15v4m0 61v2m0 28v1m1-153v3m0 26v1m0 1v1m1-30v1m0 25v1m0 2v1m0 17v1m0 102v4m1-156v1m0 34v1m0 31v2m0 4v1m0 78v2m0 1v1m1-143v1m0 17v2m0 1v1m0 38v3m0 1v3m0 64v2m0 6v2m1-170v3m0 9v1m0 30v4m0 1v1m0 35v1m0 83v1m0 2v2m1-144v1m0 4v1m0 24v1m0 12v2m0 5v1m0 2v1m0 16v1m0 2v1m0 2v1m0 1v1m0 3v1m0 44v1m1-140v1m0 1v2m0 4v4m0 10v1m0 32v1m0 19v1m0 1v2m1-96v1m0 18v1m1 71v1m0 1v1m0 11v2m0 1v1m0 2v1m0 33v1m0 12v1m0 3v2m0 8v1m1-148v1m0 3v1m0 40v1m0 3v1m0 1v2m0 1v1m0 47v1m0 3v1m0 2v3m1-82v3m0 15v1m0 87v1m0 3v1m0 1v1m0 3v2m1-70v1m0 2v1m0 1v1m0 2v2m0 2v1m0 1v1m0 1v1m0 4v2m0 1v2m0 1v1m0 1v1m0 6v1m0 6v1m0 7v1m0 17v1m1-26v1m0 5v4m1-96v1m0 3v2m0 46v2m0 2v1m0 4v2m0 3v1m0 2v1m0 6v2m1-131v1m0 18v1m0 2v2m0 3v1m0 2v1m0 4v1m0 1v1m0 42v1m0 3v2m0 1v2m0 14v1m0 16v3m0 1v1m0 4v1m0 11v1m0 16v1m0 3v2m1-143v1m0 23v1m0 29v2m0 16v1m1-99v1m0 3v1m0 2v1m0 77v1m0 9v1m1-65v1m0 26v1m0 1v1m0 1v2m0 34v2m0 2v1m0 2v2m0 15v1m0 20v6m0 3v1m0 1v1m0 9v1m1-156v1m0 14v1m0 29v1m0 1v1m0 30v1m0 1v1m0 8v1m0 6v1m0 2v1m0 17v1m0 3v1m0 34v4m1-150v1m0 60v1m0 32v1m0 1v1m0 1v1m0 1v1m0 1v1m0 3v1m0 1v1m0 1v1m0 2v1m0 1v1m0 10v1m0 8v1m0 8v2m1-171v1m0 28v3m0 20v1m0 14v1m0 1v1m0 19v2m0 1v1m0 36v2m0 1v1m0 1v4m0 3v1m0 2v1m0 1v1m0 1v1m0 13v1m0 1v1m0 1v5m0 2v1m1-148v1m0 3v2m0 10v1m0 9v1m0 8v1m0 2v1m0 1v1m0 1v1m0 20v2m0 8v2m0 19v1m0 1v1m0 2v1m0 24v1m0 1v1m0 2v1m0 2v1m0 1v2m1-143v1m0 2v1m0 11v1m0 4v3m0 5v2m0 1v2m0 15v1m0 1v1m0 18v1m0 1v1m0 11v1m0 16v5m0 2v3m0 3v1m0 6v1m0 35v1m1-160v1m0 44v1m0 7v1m0 30v1m0 20v1m0 2v2m0 1v1m0 35v1m0 10v1m1-175v1m0 6v3m0 15v1m0 4v2m0 11v1m0 1v1m0 10v1m0 7v1m0 3v1m0 15v1m0 2v1m0 4v1m0 4v1m0 3v1m0 60v1m0 1v1m0 2v1m1-132v1m0 9v3m0 1v2m0 13v2m0 1v1m0 23v3m0 1v2m1-56v1m0 2v1m0 17v1m0 8v1m0 1v1m0 24v1m0 49v1m1-126v1m0 3v1m0 1v1m0 2v1m0 9v2m0 7v1m0 5v1m0 24v3m0 9v1m0 4v2m0 2v3m0 3v1m0 2v1m0 1v1m0 1v2m0 3v1m0 3v2m0 41v2m1-127v2m0 24v1m0 4v1m0 3v2m0 22v1m0 32v1m0 1v1m0 33v1m1-171v1m0 3v2m0 5v1m0 5v1m0 3v2m0 3v1m0 3v1m0 1v1m0 3v2m0 14v1m0 9v1m0 3v2m0 24v1m0 3v1m0 8v2m0 3v1m0 3v1m0 1v1m0 4v3m0 1v1m0 23v1m0 4v1m0 1v4m0 4v1m0 8v1m1-153v1m0 13v1m0 1v1m0 24v1m0 1v1m0 1v2m0 18v1m0 14v1m0 24v1m0 22v1m0 7v1m0 14v1m1-124v1m0 12v1m0 16v2m0 47v1m0 1v1m0 2v1m0 1v1m0 2v1m0 24v3m0 3v1m0 1v2m1-158v1m0 6v1m0 3v1m0 27v5m0 1v1m0 73v1m0 5v2m1-61v4m0 4v1m0 13v2m0 4v3m0 3v2m0 1v1m0 2v1m0 2v2m0 2v2m0 2v1m0 1v1m0 1v2m0 1v1m0 5v1m1-96v2m0 4v3m0 27v4m0 1v1m0 1v1m0 47v1m0 4v2m1-126v2m0 3v1m0 1v2m0 29v2m0 10v3m0 1v1m0 15v3m0 1v1m0 5v2m0 2v1m0 1v1m0 18v1m0 4v3m0 1v1m0 1v1m1-79v1m0 1v1m0 2v1m0 96v2m0 1v1m1-150v1m0 2v1m0 1v1m0 32v1m0 1v2m0 3v2m0 1v1m0 1v1m0 2v1m0 3v3m0 1v3m0 1v2m0 30v1m0 2v1m0 2v1m0 14v1m0 15v2m0 2v2m0 1v2m0 9v1m1-124v1m0 1v1m0 1v1m0 2v1m0 7v1m0 2v1m0 1v1m0 15v1m0 22v1m0 3v2m0 1v2m0 2v2m0 5v1m0 3v1m0 3v2m0 2v1m0 4v1m0 2v2m0 1v1m0 21v1m1-99v1m0 1v2m0 3v3m0 5v1m0 7v1m0 4v1m0 57v1m0 6v5m1-168v1m0 5v1m0 42v1m0 19v1m0 7v1m0 85v3m1-151v2m0 8v2m0 9v2m0 2v1m0 2v1m0 12v1m0 1v1m0 41v3m0 2v1m0 1v2m0 3v1m0 5v1m0 1v1m0 1v3m0 5v1m0 6v1m0 32v1m1-116v4m0 3v1m0 19v1m0 1v1m0 64v1m0 2v2m0 7v4m0 2v1m0 1v1m0 2v3m1-122v1m0 9v1m0 23v3m0 4v1m0 73v2m0 1v1m0 2v1m1-120v1m0 1v1m0 96v1m0 1v2m1-144v1m0 49v3m0 4v1m0 10v1m0 11v2m0 14v1m0 49v1m0 6v1m1-155v1m0 42v1m0 12v1m0 12v1m0 2v1m0 33v1m1-116v1m0 55v1m0 11v1m0 10v1m0 1v1m0 1v1m0 1v2m0 8v1m0 1v2m1-100v1m0 52v1m0 1v1m0 10v2m0 1v2m0 3v5m0 5v1m0 1v1m0 8v1m0 71v1m0 2v1m1-150v1m0 27v1m0 1v1m0 7v1m0 9v1m0 26v1m0 58v1m1-103v1m0 1v1m0 6v1m0 1v2m0 14v1m0 21v1m0 2v3m0 42v1m0 2v1m0 3v1m0 13v1m1-176v1m0 45v1m0 2v3m0 21v1m0 17v1m0 14v1m0 1v1m0 2v1m0 60v2m1-117v2m0 29v1m0 1v1m0 6v1m0 4v3m0 7v1m0 53v1m0 5v2m0 1v1m1-123v1m0 7v1m0 2v1m0 7v5m0 2v4m0 16v2m0 3v1m0 1v1m0 6v1m0 50v3m1-153v1m0 1v1m0 29v1m0 1v3m0 1v1m0 10v1m0 14v1m0 8v1m0 12v1m1-87v1m0 1v1m0 26v1m0 20v2m0 8v1m0 1v2m0 2v1m0 1v1m0 18v1m0 1v1m0 10v1m0 2v4m0 4v1m0 1v1m0 27v6m0 8v2m1-136v1m0 20v1m0 3v1m0 5v1m0 8v1m0 5v1m0 47v1m0 1v2m0 6v1m0 29v6m1-120v1m0 12v1m0 14v2m0 81v1m1-115v1m0 18v1m0 3v1m0 1v1m0 2v1m0 23v1m0 3v2m0 2v2m0 27v1m0 1v1m0 1v1m0 3v1m0 6v1m0 18v1m1-176v3m0 15v1m0 1v1m0 4v1m0 7v3m0 2v1m0 1v2m0 41v1m0 1v1m0 11v2m0 15v1m0 41v1m0 1v1m0 1v2m0 1v1m0 7v1m0 1v3m1-175v1m0 32v1m0 12v1m0 2v2m0 79v4m0 4v1m1-140v2m0 3v1m0 1v1m0 1v1m0 1v3m0 2v1m0 8v1m0 1v3m0 28v1m0 7v1m0 14v1m0 2v1m0 2v2m0 1v1m0 55v1m0 1v2m0 8v2m0 1v1m0 3v3m0 7v1m1-169v1m0 38v1m0 8v1m0 10v1m0 1v2m0 22v1m0 30v1m1-104v2m0 2v1m0 1v2m0 2v3m0 12v1m0 17v1m0 1v2m0 3v1m0 3v1m0 4v3m0 1v2m0 17v2m0 1v1m0 4v1m0 5v5m0 1v5m0 1v1m0 1v2m0 1v3m0 6v1m0 2v1m0 1v3m0 22v1m1-173v2m0 16v1m0 3v1m0 5v1m0 7v2m0 17v2m0 2v1m0 4v1m0 5v2m0 3v1m0 2v1m0 13v2m0 4v2m0 30v1m0 5v2m0 26v1m0 1v2m1-49v1m0 3v4m0 37v1m1-165v1m0 2v2m0 25v1m0 2v2m0 1v3m0 1v1m0 14v1m0 5v1m0 9v2m0 1v1m0 2v4m0 23v4m0 1v3m0 1v1m0 49v2m1-158v2m0 3v1m0 33v1m0 3v1m0 5v1m0 2v1m0 17v1m0 4v1m1-83v2m0 1v1m0 3v1m0 9v2m0 1v1m0 3v2m0 1v5m0 21v1m0 10v2m0 15v1m0 3v1m0 8v1m0 1v1m0 3v1m0 15v1m0 3v1m0 2v1m0 1v2m0 27v1m0 16v2m1-154v1m0 37v1m0 9v1m0 5v1m0 2v1m0 1v1m0 14v1m0 2v1m0 1v2m0 27v1m0 24v1m1-129v3m0 3v1m0 13v1m0 18v1m0 4v2m0 13v4m0 18v1m0 4v1m0 3v1m0 27v1m0 18v2m0 1v1m0 8v1m1-173v2m0 7v2m0 1v1m0 13v1m0 3v1m0 34v1m0 1v1m0 38v1m0 4v1m0 15v1m0 3v1m0 2v1m0 31v2m0 1v2m1-171v2m0 1v2m0 1v1m0 1v1m0 1v1m0 1v1m0 16v1m0 1v2m0 3v3m0 3v2m0 17v1m0 28v1m0 4v1m0 1v1m0 5v1m0 1v1m0 21v1m0 14v3m0 1v2m1-142v1m0 3v3m0 1v1m0 3v2m0 3v1m0 1v2m0 1v2m0 3v3m0 3v1m0 13v1m0 1v1m0 3v1m0 3v6m0 15v1m0 2v3m0 8v1m0 3v1m0 38v1m0 1v2m0 13v1m0 1v3m0 3v1m0 1v1m0 5v1m1-171v1m0 2v1m0 9v2m0 1v1m0 37v1m0 3v2m0 1v4m0 9v1m0 3v2m0 2v1m0 5v2m0 1v1m0 3v1m0 5v1m0 1v1m0 2v1m0 7v1m0 8v1m0 41v3m1-170v1m0 1v1m0 46v1m0 48v1m0 67v1m1-170v1m0 17v3m0 2v1m0 1v1m0 1v1m0 17v1m0 5v1m0 33v1m0 3v1m0 25v1m0 12v2m0 1v1m0 1v1m0 31v1m0 3v1m1-165v3m0 1v1m0 2v1m0 7v1m0 15v1m0 1v1m0 5v2m0 3v1m0 4v1m0 6v2m0 1v1m0 10v1m0 6v1m0 1v1m0 4v2m0 20v1m0 51v1m1-162v1m0 4v1m0 5v1m0 23v1m0 3v1m0 13v1m0 4v1m0 2v1m0 3v1m0 21v2m0 11v1m0 33v1m0 4v1m0 5v1m0 20v1m1-137v1m0 4v1m0 23v2m0 20v4m0 11v1m0 2v1m0 3v1m0 1v1m0 2v1m0 32v1m0 4v1m0 24v2m1-171v1m0 4v1m0 47v2m0 1v1m0 22v5m0 4v1m0 48v1m0 2v1m0 1v1m0 21v1m1-117v2m0 8v1m0 10v1m0 9v1m0 2v1m0 4v1m0 7v2m0 22v2m0 4v1m0 2v1m0 7v1m1-124v1m0 7v1m0 24v1m0 3v2m0 29v1m0 1v1m0 4v1m0 2v1m0 10v2m0 6v1m0 13v1m0 2v1m1-132v3m0 12v1m0 18v2m0 5v1m0 5v3m0 1v1m0 2v1m0 50v1m0 8v1m0 19v1m0 6v2m0 3v1m0 2v1m0 3v1m1-140v3m0 3v1m0 12v1m0 2v1m0 4v1m0 41v1m0 6v2m0 14v6m0 1v1m0 41v1m0 1v1m0 1v1m1-145v2m0 29v1m0 1v1m0 2v1m0 2v2m0 12v1m0 3v1m0 1v1m0 2v2m0 1v3m0 5v2m0 1v1m0 23v2m0 3v1m0 2v1m0 3v1m0 23v1m0 2v3m0 2v3m0 2v1m0 3v1m0 2v1m0 3v1m1-159v1m0 2v1m0 34v1m0 27v1m0 1v1m0 1v2m0 2v1m0 12v1m0 8v1m0 34v1m0 5v2m0 4v1m0 13v1m1-158v1m0 2v1m0 2v1m0 14v1m0 7v1m0 4v1m0 3v1m0 35v1m0 16v1m0 3v1m0 4v4m0 1v2m0 1v3m0 34v1m0 1v2m0 1v1m0 4v1m0 2v1m1-170v2m0 1v1m0 1v1m0 5v1m0 1v1m0 14v3m0 1v1m0 2v1m0 8v1m0 2v1m0 1v1m0 36v1m0 22v1m0 34v1m0 2v1m0 2v1m0 2v1m0 1v2m0 3v2m0 4v1m0 2v1m1-152v1m0 2v4m0 1v1m0 4v1m0 4v1m0 1v1m0 3v2m0 4v2m0 32v3m0 3v1m0 1v2m0 2v1m0 43v1m0 1v1m0 2v1m1-142v1m0 9v1m0 1v3m0 11v1m0 5v1m0 16v1m0 1v1m0 1v2m0 39v3m0 1v1m0 1v1m0 2v2m0 10v1m0 3v1m0 11v1m0 24v1m0 1v1m1-157v1m0 2v2m0 1v1m0 1v2m0 2v4m0 24v2m0 4v1m0 3v1m0 30v1m0 3v1m0 4v1m0 2v1m0 4v1m0 4v1m0 41v1m0 2v4m0 3v1m1-159v1m0 4v2m0 28v1m0 2v1m0 2v1m0 2v1m0 6v1m0 1v1m0 9v1m0 2v1m0 3v2m0 10v1m0 36v1m0 23v1m0 1v1m0 1v1m0 13v1m0 2v2m0 1v2m1-169v1m0 3v1m0 1v1m0 3v1m0 15v1m0 5v3m0 15v4m0 4v1m0 2v2m0 18v1m1-87v3m0 1v1m0 1v1m0 3v1m0 6v1m0 2v1m0 19v1m0 4v1m0 2v1m0 2v1m0 3v3m0 10v1m0 2v4m0 6v1m0 2v1m0 4v2m0 22v1m0 1v1m0 2v2m0 1v2m0 2v1m0 15v1m0 2v1m0 2v1m0 8v2m0 15v1m1-155v2m0 7v1m0 1v1m0 36v1m0 1v1m0 1v2m0 1v1m0 4v1m0 6v1m0 1v1m0 2v1m0 1v1m0 10v1m0 3v2m0 1v1m0 4v2m0 3v2m0 34v1m0 2v2m0 2v1m1-164v1m0 2v1m0 3v1m0 5v1m0 8v2m0 1v1m0 1v1m0 1v1m0 23v2m0 1v1m0 37v2m0 9v1m0 1v1m0 3v1m0 13v2m0 2v3m0 2v1m0 7v2m0 2v1m0 25v1m1-159v1m0 3v1m0 4v2m0 1v2m0 15v3m0 2v1m0 2v1m0 15v1m0 7v1m0 6v1m0 12v1m0 71v1m1-150v1m0 1v1m0 17v1m0 10v1m0 4v1m0 5v1m0 3v1m0 8v2m0 77v1m0 1v1m0 1v1m1-127v2m0 1v1m0 2v2m0 5v1m0 1v1m0 7v3m0 40v1m0 2v1m0 3v1m0 61v1m0 2v1m0 2v1m1-161v1m0 1v1m0 4v2m0 10v1m0 8v1m0 48v1m0 26v1m0 1v2m0 2v2m0 4v1m0 4v1m0 3v1m0 1v2m0 5v1m0 17v1m0 5v1m0 1v2m1-172v1m0 2v3m0 1v1m0 1v1m0 4v1m0 1v1m0 1v1m0 22v1m0 2v2m0 41v1m0 10v1m0 5v1m0 3v1m0 3v2m0 1v3m0 2v1m0 2v1m0 13v2m0 1v1m0 1v2m1-148v2m0 32v1m0 4v1m0 16v2m0 2v1m0 2v2m0 20v1m0 30v3m0 2v1m0 2v2m0 1v1m0 23v5m0 4v1m0 1v2m0 1v1m1-149v1m0 3v2m0 23v1m0 18v2m0 24v1m0 2v1m0 10v1m0 4v2m0 17v2m0 6v1m0 2v1m0 10v1m0 1v3m0 3v1m1-107v1m0 49v1m0 12v1m0 2v1m0 1v4m0 18v1m0 2v1m0 1v2m0 5v1m0 1v1m1-149v1m0 119v1m0 1v1m0 2v1m0 1v3m0 13v2m0 20v1m1-175v2m0 1v3m0 16v1m0 2v2m0 1v2m0 26v2m0 1v2m0 40v2m0 59v1m0 4v1m0 1v1m1-169v1m0 8v1m0 2v1m0 54v1m0 4v1m0 71v1m0 1v1m0 1v1m1-142v1m0 53v1m0 87v1m0 4v2m0 1v1m0 1v2m1-146v1m0 35v1m0 1v1m0 44v1m0 9v1m0 31v2m0 3v1m0 1v2m0 2v1m0 4v4m0 4v1m0 4v2m0 1v2m1-168v1m0 1v1m0 1v1m0 6v2m0 1v1m0 11v4m0 2v3m0 1v1m0 1v1m0 1v2m0 2v1m0 6v2m0 17v1m0 1v3m0 34v1m0 5v2m0 1v1m0 4v2m0 1v1m0 3v1m0 1v1m0 6v1m0 1v2m0 2v1m0 1v1m1-154v2m0 4v1m0 2v1m0 1v1m0 42v1m0 9v1m0 9v1m0 1v2m0 2v2m0 9v1m0 13v1m0 2v1m0 43v1m1-154v4m0 2v1m0 1v3m0 1v1m0 5v6m0 10v2m0 5v1m0 17v6m0 8v2m0 1v1m0 29v5m0 2v2m0 31v1m0 6v2m0 5v1m0 11v4m1-161v1m0 40v1m0 1v2m0 1v1m0 25v1m0 3v2m0 9v1m0 12v2m0 2v1m0 1v1m0 1v1m0 3v4m0 1v2m0 2v1m0 2v1m1-137v1m0 1v1m0 1v1m0 1v3m0 1v1m0 6v1m0 2v1m0 2v1m0 4v1m0 1v3m0 4v2m0 11v1m0 16v2m0 1v2m0 3v2m0 2v1m0 21v2m0 2v1m0 1v1m0 1v1m0 4v1m0 1v1m0 3v3m0 47v2m1-175v1m0 14v1m0 3v1m0 1v1m0 1v1m0 16v1m0 3v1m0 1v1m0 1v1m0 2v1m0 2v1m0 3v2m0 6v1m0 6v1m0 9v3m0 2v3m0 68v2m1-143v1m0 24v2m0 2v1m0 3v1m0 27v1m0 3v2m0 4v1m0 5v1m0 7v1m0 32v1m0 3v1m1-135v2m0 1v1m0 2v2m0 4v1m0 3v1m0 11v4m0 1v1m0 3v1m0 4v1m0 1v1m0 1v1m0 9v1m0 3v1m0 2v1m0 16v2m0 40v1m0 1v5m0 1v1m0 1v1m0 1v3m1-97v1m0 24v1m0 7v1m0 49v1m0 3v2m0 3v4m0 1v3m0 1v2m0 7v2m0 4v3m0 4v1m1-150v1m0 2v1m0 10v1m0 45v1m0 12v2m0 2v1m0 3v1m0 26v1m0 3v1m0 17v1m0 1v2m0 14v1m0 1v1m1-171v3m0 11v3m0 8v1m0 2v3m0 11v2m0 1v1m0 1v1m0 2v1m0 5v2m0 2v1m0 9v1m0 3v2m0 2v1m0 1v1m0 10v1m0 10v2m0 46v1m0 6v2m0 2v1m0 3v1m0 2v1m0 2v1m0 3v1m1-174v1m0 1v1m0 85v2m0 35v1m0 4v1m0 4v2m0 1v1m0 2v3m0 2v1m0 4v2m0 5v2m0 3v1m0 1v1m1-165v1m0 1v1m0 9v1m0 36v1m0 8v1m0 31v2m0 3v1m0 18v3m0 1v1m0 4v1m0 28v4m0 3v1m0 1v1m0 1v1m1-163v1m0 19v1m0 1v2m0 1v2m0 27v1m0 9v1m0 3v3m0 1v1m0 2v3m0 1v1m0 1v1m0 1v1m0 16v1m0 36v2m0 1v1m0 3v2m0 24v1m1-166v1m0 2v1m0 11v1m0 2v1m0 1v4m0 35v1m0 22v2m0 3v1m0 11v1m0 1v3m0 1v1m0 26v1m0 1v1m0 3v1m0 23v4m1-160v2m0 8v2m0 2v4m0 1v1m0 3v4m0 3v5m0 1v1m0 1v1m0 4v1m0 1v1m0 56v1m0 2v1m0 4v1m0 13v1m0 1v1m0 3v2m1-126v1m0 2v1m0 18v2m0 1v1m0 5v1m0 20v1m0 7v1m0 11v1m0 4v1m0 1v1m0 28v2m0 3v1m0 1v1m0 3v1m0 2v2m0 3v2m0 12v1m1-163v1m0 7v4m0 17v1m0 1v1m0 20v1m0 6v1m0 10v1m0 14v1m0 2v1m0 28v1m0 6v1m0 48v1m1-140v1m0 4v2m0 20v1m0 8v1m0 6v1m0 4v1m0 33v1m0 4v1m0 4v1m0 19v1m0 2v1m0 14v2m0 1v1m1-168v1m0 3v1m0 19v1m0 4v1m0 12v2m0 4v1m0 3v1m0 9v2m0 1v1m0 2v2m0 33v1m0 39v1m0 4v1m0 8v1m0 10v1m1-120v1m0 14v2m0 2v2m0 3v1m0 14v1m0 15v2m0 2v4m0 35v1m0 20v1m0 1v1m1-163v1m0 5v1m0 41v2m0 1v1m0 24v1m0 1v1m0 8v4m0 1v1m0 3v1m0 8v1m0 15v2m0 5v1m0 2v2m0 33v1m1-159v1m0 35v2m0 18v3m0 5v1m0 6v2m0 75v1m1-144v1m0 1v1m0 1v4m0 15v3m0 5v1m0 4v1m0 2v1m0 4v1m0 1v1m0 24v1m0 49v1m0 4v1m0 15v1m0 1v3m1-154v1m0 9v1m0 1v3m0 1v3m0 11v1m0 3v1m0 6v1m0 2v1m0 11v1m0 4v1m0 3v3m0 9v1m0 14v2m0 3v1m0 5v1m0 8v1m0 4v1m0 2v1m0 3v1m0 23v1m0 3v2m0 6v1m1-123v1m0 9v2m0 27v2m0 11v1m0 2v1m0 1v2m0 5v3m0 4v1m0 20v1m0 2v1m0 1v1m0 21v5m1-168v1m0 1v1m0 1v2m0 13v4m0 3v1m0 17v2m0 10v2m0 2v1m0 1v1m0 1v2m0 4v1m0 14v1m0 1v2m0 1v1m0 5v1m0 1v1m0 1v1m0 2v2m0 1v1m0 40v1m0 1v1m0 1v1m1-159v2m0 3v2m0 8v1m0 15v1m0 1v1m0 17v3m0 1v2m0 2v1m0 4v1m0 19v1m0 1v2m0 1v2m0 4v2m0 13v1m0 2v1m0 53v1m1-122v1m0 2v2m0 6v1m0 2v3m0 10v2m0 3v1m0 7v1m0 2v1m0 2v2m0 4v1m0 28v1m0 1v2m0 4v1m1-94v1m0 2v1m0 4v1m0 53v1m0 4v1m0 3v1m0 13v1m0 6v1m0 9v2m1-114v1m0 57v1m0 36v2m0 2v6m0 15v1m0 1v5m0 2v1m0 5v1m0 4v2m1-158v2m0 10v1m0 40v2m0 6v1m0 6v2m0 2v2m0 3v2m0 4v1m0 14v3m0 1v2m0 1v1m0 5v1m0 2v1m0 1v2m0 2v1m0 4v3m0 2v2m1-147v1m0 7v1m0 9v2m0 3v1m0 7v1m0 4v2m0 3v1m0 13v1m0 25v1m0 1v1m0 1v1m0 15v1m0 19v1m0 2v1m1-127v1m0 12v1m0 2v1m0 23v2m0 12v3m0 5v1m0 12v1m0 1v1m0 2v1m0 1v1m0 45v1m0 1v3m0 2v2m0 13v1m0 1v1m0 4v1m0 2v1m0 5v2m1-143v2m0 3v1m0 15v2m0 21v1m0 1v1m0 25v1m0 3v1m0 13v1m0 3v2m0 3v1m0 4v1m0 2v3m0 1v1m0 6v2m0 1v2m0 21v1m1-167v1m0 14v2m0 1v2m0 4v1m0 4v1m0 10v1m0 8v1m0 2v1m0 16v1m0 7v1m0 2v2m0 1v6m0 4v2m0 33v1m0 1v1m0 1v1m0 35v2m1-170v2m0 14v2m0 1v1m0 38v1m0 1v2m0 1v2m0 25v2m0 1v1m0 10v1m0 2v2m0 8v1m0 9v1m0 7v1m0 21v1m0 1v1m0 2v1m0 2v1m1-152v2m0 39v1m0 3v2m0 21v1m1-86v1m0 5v1m0 8v1m0 3v1m0 52v1m0 5v1m0 2v2m0 9v1m0 25v1m0 21v1m0 4v1m0 3v1m0 25v1m1-176v1m0 20v1m0 11v1m0 5v2m0 16v1m0 6v4m0 14v1m0 8v1m0 23v6m0 1v1m0 25v1m0 13v1m1-160v1m0 1v1m0 3v1m0 8v1m0 21v1m0 7v1m0 7v1m0 19v1m0 10v1m0 18v1m0 35v1m0 1v4m0 5v2m0 3v2m1-157v1m0 1v1m0 4v1m0 1v1m0 12v1m0 3v1m0 1v3m0 1v1m0 1v2m0 5v1m0 13v1m0 24v1m0 6v1m0 20v2m0 1v1m0 8v1m0 2v2m0 19v3m0 24v1m1-173v1m0 32v3m0 1v1m0 6v1m0 1v2m0 4v2m0 1v3m0 13v5m0 46v1m0 1v2m0 2v1m0 4v3m0 34v1m1-171v1m0 16v2m0 1v1m0 10v2m0 3v1m0 62v1m0 14v1m0 1v2m0 1v3m0 5v2m0 2v2m0 1v2m0 12v1m0 9v1m1-158v1m0 33v1m0 1v2m0 11v1m0 12v1m0 13v1m0 4v1m0 33v1m0 6v1m0 1v1m0 1v1m0 4v1m0 2v1m0 7v1m0 21v1m1-143v4m0 1v2m0 14v1m0 1v2m0 3v2m0 3v3m0 1v1m0 7v2m0 8v2m0 8v2m0 31v2m0 6v1m0 5v1m1-131v1m0 4v1m0 3v1m0 26v1m0 12v1m0 10v2m0 4v1m0 2v1m0 17v1m0 1v1m0 1v3m0 27v2m0 6v2m0 33v1m0 1v2m1-151v2m0 5v1m0 2v1m0 2v2m0 13v2m0 1v2m0 3v2m0 1v1m0 28v1m0 8v1m1-78v1m0 1v2m0 4v1m0 12v1m0 2v2m0 6v1m0 2v2m0 12v3m0 7v1m0 18v1m0 21v1m0 18v1m0 7v1m0 3v1m0 3v1m0 1v3m0 1v3m1-159v1m0 12v2m0 7v3m0 3v1m0 3v1m0 41v1m0 1v1m0 3v1m0 4v1m0 1v2m0 1v1m0 6v1m0 2v1m0 1v1m0 6v1m0 13v6m0 25v2m1-157v1m0 1v2m0 2v1m0 30v1m0 3v1m0 2v2m0 1v1m0 1v2m0 6v1m0 2v1m0 9v1m0 1v1m0 5v1m0 8v1m0 2v1m0 18v1m0 3v2m0 7v1m0 1v1m0 3v2m0 25v1m0 3v1m0 3v1m1-155v1m0 2v1m0 51v1m0 21v1m0 2v1m0 1v2m0 22v1m0 2v1m0 9v1m0 9v1m0 2v1m0 24v1m1-173v1m0 40v1m0 2v3m0 1v1m0 27v4m0 46v2m0 1v1m0 2v2m0 1v1m1-114v2m0 1v2m0 2v2m0 5v1m0 1v1m0 2v1m0 4v1m0 2v1m0 7v1m0 21v3m0 3v1m0 1v2m0 66v1m0 3v1m1-147v2m0 17v1m0 2v1m0 1v2m0 13v2m0 1v1m0 1v1m0 9v1m0 36v3m0 2v1m0 1v1m0 30v1m0 1v3m0 23v1m1-166v1m0 1v1m0 1v5m0 26v2m0 4v1m0 18v1m0 4v1m0 5v7m0 1v1m0 1v3m0 1v1m0 19v1m0 3v1m0 1v1m0 2v2m0 45v1m1-159v1m0 2v1m0 73v1m0 3v2m0 4v1m0 1v1m0 4v2m0 2v1m0 2v1m0 1v2m1-112v1m0 30v3m0 1v1m0 13v1m0 1v2m0 47v1m0 1v1m0 7v2m0 3v1m0 2v1m0 50v1m0 1v1m1-175v2m0 4v3m0 1v4m0 1v2m0 11v2m0 29v2m0 47v1m0 2v1m0 16v1m0 1v1m0 2v1m0 1v3m0 15v1m0 6v1m0 8v1m1-145v1m0 5v2m0 25v2m0 5v2m0 1v2m0 24v3m0 6v1m0 27v1m0 3v3m1-64v1m0 14v2m0 74v3m1-160v1m0 2v2m0 2v1m0 12v1m0 1v1m0 1v1m0 20v1m0 18v1m0 7v2m0 1v1m0 2v1m0 1v2m0 3v1m0 29v1m0 1v2m0 1v1m0 1v2m0 2v3m0 14v3m0 2v1m0 11v1m0 4v1m1-162v1m0 8v1m0 3v1m0 7v1m0 1v1m0 1v1m0 2v1m0 15v1m0 4v2m0 13v1m0 6v1m0 7v1m0 14v1m0 7v1m0 14v1m0 2v1m0 1v2m0 18v1m0 7v1m0 1v1m0 1v1m1-143v1m0 2v1m0 8v1m0 2v2m1-24v1m0 4v1m0 2v1m0 47v1m0 1v2m0 53v5m0 2v1m1-103v1m0 4v1m0 13v3m0 4v2m0 2v1m0 1v1m0 1v1m0 1v1m0 7v1m0 1v2m0 1v1m0 4v2m0 1v1m0 30v3m0 1v1m0 10v1m0 3v2m0 3v1m0 14v2m0 1v4m0 1v1m1-149v1m0 1v3m0 1v2m0 3v2m0 1v1m0 8v2m0 1v2m0 8v1m0 2v2m0 3v1m0 59v1m0 25v2m0 6v2m0 2v2m0 2v1m0 3v1m1-170v1m0 3v1m0 1v2m0 3v1m0 27v4m0 1v1m0 3v1m0 10v1m0 60v1m0 2v1m0 16v2m0 1v1m0 7v1m0 15v1m1-170v1m0 59v1m0 1v1m0 60v2m0 17v1m0 7v1m0 3v1m0 3v1m0 2v1m0 2v1m0 3v1m1-153v2m0 2v1m0 2v3m0 1v1m0 2v1m0 5v1m0 2v1m0 1v1m0 13v2m0 1v1m0 2v1m0 24v1m0 5v1m0 29v1m0 3v1m0 21v1m1-145v1m0 3v1m0 6v1m0 2v2m0 3v1m0 4v1m0 1v1m0 2v3m0 1v1m0 2v1m0 29v2m0 24v1m0 32v1m1-127v1m0 71v1m0 25v1m0 7v1m1-78v1m0 1v3m0 2v1m0 1v1m0 1v2m0 1v1m0 2v2m0 3v1m0 9v1m0 2v1m0 16v2m0 1v3m0 8v2m0 4v2m0 2v1m0 2v1m0 6v1m0 1v1m0 7v1m0 1v2m0 2v3m0 26v1m0 3v1m1-160v3m0 1v1m0 23v1m0 1v1m0 1v2m0 1v1m0 3v2m0 1v1m0 2v1m0 49v1m0 5v2m0 1v2m0 9v1m0 3v1m0 2v2m0 4v1m0 26v1m1-163v1m0 16v1m0 5v4m0 2v2m0 15v1m0 3v1m0 40v1m0 21v1m0 4v1m0 16v1m0 4v5m0 1v1m0 7v3m0 2v1m0 9v1m0 1v1m0 1v1m1-134v1m0 5v4m0 65v1m0 2v1m0 24v1m0 1v1m0 7v1m0 17v1m1-158v1m0 17v1m0 8v1m0 34v1m0 25v1m0 14v2m0 8v1m0 25v1m0 2v1m0 3v1m0 1v3m1-164v1m0 6v1m0 22v3m0 1v1m0 9v1m0 1v4m0 39v1m0 30v2m0 1v1m0 41v2m0 2v1m1-120v1m0 40v1m0 15v1m0 1v1m0 13v2m1-113v2m0 2v2m0 1v1m0 48v1m0 8v1m0 5v1m0 3v1m0 3v3m0 2v2m0 30v1m0 31v4m0 3v1m1-145v1m0 2v1m0 1v1m0 7v1m0 5v3m0 2v1m0 5v2m0 17v1m0 49v1m0 35v1m0 11v1m1-174v3m0 21v1m0 1v1m0 5v1m0 10v1m0 6v2m0 3v2m0 2v2m0 4v1m0 1v1m0 1v1m0 13v2m0 4v1m0 5v3m0 1v1m0 75v1m1-159v1m0 17v1m0 8v1m0 6v1m0 39v1m0 4v1m0 7v3m0 2v3m0 1v1m0 12v2m0 6v2m0 17v1m0 1v1m0 1v1m0 2v1m1-161v1m0 16v4m0 2v1m0 1v2m0 1v5m0 11v1m0 10v2m0 2v1m0 20v1m0 1v1m0 56v11m0 13v1m0 1v3m1-147v2m0 1v3m0 6v1m0 1v1m0 3v1m0 10v1m0 22v1m0 3v1m0 24v1m0 3v1m0 22v1m0 1v1m0 5v1m0 33v2m0 2v1m1-175v1m0 1v1m0 3v1m0 2v1m0 10v1m0 2v1m0 6v1m0 33v1m0 2v1m0 4v3m0 5v1m0 3v1m0 42v1m0 3v2m0 2v1m0 30v1m0 1v2m0 1v1m1-171v1m0 22v2m0 4v1m0 3v1m0 3v1m0 1v1m0 10v1m0 17v1m0 17v1m0 5v1m0 9v2m0 4v1m0 2v2m0 2v1m1-92v1m0 3v1m0 1v1m0 29v2m0 11v2m0 10v1m0 2v1m0 5v2m0 1v2m0 3v1m0 2v1m0 1v1m0 3v1m0 4v1m0 6v1m1-60v1m0 51v2m0 2v1m1-94v1m0 1v2m0 11v2m0 4v1m0 13v1m0 1v1m0 4v2m0 8v2m0 3v1m0 3v1m0 33v1m0 3v2m0 4v1m0 1v1m0 5v1m0 2v1m0 1v1m0 14v1m0 5v1m1-153v1m0 4v2m0 35v1m0 6v1m0 1v1m0 55v1m0 8v1m0 29v1m0 1v2m0 6v1m1-142v2m0 9v1m0 10v1m0 15v2m0 7v4m0 9v1m0 4v1m0 26v1m0 9v1m0 10v2m0 1v1m0 17v1m1-149v1m0 15v2m0 3v1m0 2v1m0 12v2m0 2v1m0 1v1m0 2v1m0 2v1m0 4v2m0 2v1m0 2v2m0 1v1m0 9v1m0 12v1m0 1v1m0 1v1m0 5v1m0 11v2m1-120v1m0 6v1m0 12v1m0 95v1m0 29v1m0 6v4m0 6v2m0 2v1m1-153v1m0 1v1m0 10v1m0 1v1m0 2v1m0 26v3m0 1v1m0 5v1m0 14v2m0 39v1m0 3v1m0 26v1m1-158v1m0 3v2m0 1v2m0 3v1m0 32v1m0 27v1m0 28v1m0 1v1m0 29v1m0 1v1m0 24v1m1-100v2m0 4v1m0 1v2m0 30v1m0 12v1m0 14v1m0 10v2m0 1v1m0 1v1m0 1v2m0 4v1m0 1v2m1-165v2m0 3v2m0 2v2m0 6v1m0 4v2m0 2v2m0 2v1m0 1v2m0 1v2m0 1v2m0 9v1m0 20v1m0 6v1m0 1v1m0 20v1m0 1v1m0 2v1m0 2v1m0 1v4m0 8v2m0 27v1m0 1v1m0 1v1m0 2v1m1-142v2m0 3v1m0 19v1m0 4v2m0 16v1m0 3v1m0 4v1m0 2v1m0 83v6m1-126v2m0 11v1m0 15v1m0 7v1m0 1v1m0 41v3m0 18v1m0 2v3m1-147v2m0 30v1m0 2v1m0 15v1m0 2v1m0 13v2m0 4v1m0 2v1m0 2v3m0 1v3m0 11v1m0 26v1m0 1v2m0 2v1m0 36v2m0 1v1m1-133v1m0 22v1m0 1v3m0 1v2m0 1v1m0 3v1m0 14v1m1-21v2m0 2v2m0 26v1m0 4v2m0 1v2m1-54v3m0 98v1m0 3v1m1-137v1m0 60v1m0 59v2m0 4v1m0 1v1m0 1v1m0 9v1m0 2v2m1-175v2m0 55v3m0 23v1m0 2v1m0 1v2m0 2v1m0 23v1m0 46v1m1-160v1m0 8v1m0 1v1m0 8v1m0 5v1m0 1v1m0 3v3m0 1v4m0 1v1m0 3v1m0 4v2m0 2v1m0 91v2m0 2v2m0 1v2m0 1v1m0 8v1m0 1v1m1-78v1m0 2v3m0 35v1m0 1v1m0 15v1m0 1v1m1-114v4m0 94v1m0 2v1m0 23v3m1-166v1m0 13v1m0 1v2m0 10v1m0 2v3m0 2v1m0 13v1m0 2v1m0 27v1m0 3v1m0 35v1m1-56v2m0 22v1m0 14v1m0 2v1m0 2v1m1-112v1m0 4v2m0 4v1m0 39v1m0 36v1m0 21v1m0 2v1m0 2v2m0 3v1m0 23v2m0 2v1m0 1v2m0 1v1m0 1v1m0 1v1m0 1v1m0 1v1m0 3v1m0 1v1m0 1v1m1-159v1m0 3v1m0 20v1m0 1v1m0 3v1m0 9v1m0 5v1m0 82v1m0 14v1m1-122v1m0 20v1m1-34v1m0 35v1m0 29v3m0 1v1m0 11v1m0 2v1m0 47v2m0 1v1m0 5v1m0 3v1m1-152v2m0 1v1m0 4v1m0 37v4m0 1v1m0 6v1m0 21v2m0 6v2m1-20v1m0 1v2m0 1v2m0 1v3m0 1v3m0 5v1m0 14v1m0 3v1m0 6v3m0 3v1m0 1v1m0 9v1m0 9v1m0 5v2m1-171v1m0 52v1m0 2v1m0 1v1m0 3v1m0 25v1m1-33v2m0 23v1m0 14v1m0 8v1m0 1v1m0 52v2m1-161v2m0 1v1m0 2v1m0 1v2m0 41v1m0 6v1m0 1v2m0 7v1m0 16v1m1 2v1m0 2v1m0 1v1m0 2v2m0 20v1m0 13v2m0 27v1m1-162v1m0 50v1m0 1v1m0 5v1m0 3v1m0 8v1m0 2v1m0 8v1m0 10v1m0 14v1m0 3v1m0 1v1m0 26v2m0 2v1m0 1v1m0 1v1m0 2v1m0 2v1m0 1v2m1-164v1m0 53v3m0 4v1m0 1v1m0 37v1m0 3v3m0 16v1m0 7v3m1-80v1m0 5v3m0 16v1m0 49v1m0 2v2m0 2v1m0 29v1m1-168v1m0 21v1m0 1v3m0 1v1m0 21v3m0 4v1m0 1v1m0 18v1m0 85v2m0 1v1m1-166v1m0 1v3m0 1v1m0 1v1m0 1v1m0 2v3m0 44v1m0 1v2m0 1v2m0 2v1m0 1v2m0 2v1m0 1v2m0 2v3m0 78v1m0 2v1m1-69v1m0 41v1m0 2v1m0 7v1m0 4v1m1-101v1m0 30v1m0 11v1m0 7v1m0 1v1m0 8v1m0 1v1m0 3v1m0 1v1m0 5v1m0 2v1m0 13v1m0 16v1m0 1v1m1-156v1m0 2v2m0 29v1m0 5v1m0 1v1m0 1v1m0 2v2m0 6v1m0 6v1m0 7v1m0 6v3m0 1v1m0 6v5m0 1v1m0 53v1m0 1v1m1-111v1m0 1v2m0 7v1m0 21v1m0 15v3m0 1v3m0 7v2m0 21v1m0 3v1m0 14v1m0 7v1m1-141v1m0 40v1m0 2v1m0 1v6m0 7v1m0 24v2m0 2v1m0 1v2m0 4v1m0 41v1m1-109v1m0 4v1m0 40v1m0 54v1m0 6v1m1-153v3m0 2v1m0 8v1m0 21v1m0 5v1m0 62v2m0 17v1m0 2v1m0 3v1m0 21v1m0 4v1m1-108v1m0 15v1m0 1v2m0 1v2m0 7v1m0 7v1m0 3v1m0 1v1m0 1v2m0 1v2m0 1v1m0 1v2m0 3v1m1-85v2m0 13v1m0 13v1m0 2v1m0 1v3m0 4v3m0 2v2m1-91v1m0 100v1m0 1v2m0 1v3m0 1v5m0 13v1m0 3v1m1-97v2m0 1v1m0 8v2m0 2v1m0 3v2m0 16v1m0 3v3m0 7v1m0 30v1m0 1v1m0 40v1m0 4v1m1-168v1m0 1v1m0 1v1m0 19v1m0 21v1m0 3v1m0 7v1m0 1v1m0 3v1m0 4v1m0 2v2m0 19v1m1-83v2m0 21v1m0 1v1m0 24v1m0 23v1m0 7v1m0 68v2m0 3v1m1-108v1m0 4v1m0 15v2m0 21v1m0 5v1m0 5v2m0 5v2m0 1v1m0 44v1m1-147v2m0 6v1m0 3v1m0 2v2m0 18v1m0 55v1m0 4v1m0 26v1m0 20v1m1-151v1m0 23v1m0 4v1m0 2v1m0 1v1m0 11v2m0 1v1m0 4v2m0 2v2m0 90v1m1-116v4m0 6v1m0 2v1m0 8v2m0 6v1m0 3v1m0 2v1m0 9v2m0 68v2m0 1v2m1-22v1m1-97v1m0 5v2m0 1v1m0 2v2m0 3v2m0 1v2m0 1v1m0 80v2m0 1v1m1-99v1m0 1v2m0 6v1m0 4v1m0 13v1m0 33v1m0 1v3m0 1v3m0 4v1m0 1v1m0 22v1m0 1v1m1-113v2m0 6v1m0 4v1m0 1v3m0 4v2m0 42v1m0 4v2m0 1v1m0 4v1m0 31v1m1-146v1m0 71v1m0 2v2m0 14v1m0 1v1m0 4v2m0 1v2m0 46v2m1-158v4m0 1v1m0 1v5m0 3v2m0 1v1m0 5v1m0 5v1m0 1v1m0 1v1m0 30v1m0 5v1m1-34v3m0 25v1m0 2v1m0 3v1m0 1v1m0 77v1m1-113v1m0 1v1m0 1v2m0 37v1m0 1v1m0 12v1m0 3v3m0 1v2m0 5v1m0 6v1m0 2v1m0 2v3m0 7v2m0 1v2m0 2v1m0 10v2m0 1v1m1-118v1m0 1v1m0 1v7m0 25v1m0 3v2m0 5v1m0 2v1m0 2v1m0 4v1m0 19v1m1-77v1m0 44v3m0 1v1m0 1v1m0 2v1m0 28v7m1-150v2m0 35v1m0 10v3m0 3v1m0 1v2m0 7v1m0 1v1m0 1v2m0 44v1m0 3v4m0 3v2m0 35v1m0 1v2m0 3v1m1-168v2m0 19v1m0 47v3m0 20v1m0 14v1m0 6v2m0 1v2m0 2v1m0 1v2m0 2v1m0 11v1m0 4v1m0 1v1m0 1v3m0 2v1m0 1v2m0 9v1m1-169v1m0 7v1m0 4v1m0 46v1m0 33v5m0 14v1m1-79v1m0 16v1m0 16v1m0 1v4m0 1v1m0 6v1m0 18v1m0 32v3m0 23v1m0 2v1m0 2v2m0 1v2m1-156v1m0 3v1m0 3v2m0 2v1m0 17v2m0 18v1m0 3v1m0 3v1m0 3v3m0 3v1m0 7v1m0 4v1m0 2v1m0 1v2m0 1v1m0 3v1m0 6v2m0 1v4m0 3v1m0 35v4m0 3v1m1-101v2m0 3v2m0 2v4m0 8v3m0 6v1m0 4v1m0 1v1m0 4v1m0 37v1m0 1v1m0 2v1m0 7v1m1-118v2m0 2v1m0 3v1m0 9v2m0 1v3m0 1v1m0 4v1m0 3v1m0 6v2m0 2v1m0 23v1m0 3v1m0 1v2m0 3v1m0 1v1m0 1v3m0 1v1m0 2v1m0 1v2m1-91v1m0 19v1m0 4v3m0 1v1m0 1v1m0 60v2m0 1v1m0 1v1m0 2v1m0 2v1m0 1v1m0 4v1m1-155v2m0 2v1m0 1v1m0 33v1m0 3v1m0 21v1m0 5v1m0 1v2m0 41v2m0 7v2m0 11v1m0 1v1m0 20v1m1-166v2m0 2v1m0 12v1m0 2v2m0 22v1m0 5v1m0 3v1m0 8v1m0 3v1m0 1v5m0 1v1m0 4v2m0 2v1m0 1v3m0 37v1m0 1v5m0 2v1m0 5v5m0 13v4m0 1v1m0 3v1m1-165v1m0 4v3m0 55v2m0 2v1m0 2v1m0 1v2m0 1v1m0 10v1m0 11v2m0 2v2m0 5v1m0 3v3m0 18v1m0 1v1m0 1v4m0 4v1m1-152v1m0 52v2m0 2v1m0 10v1m0 6v1m0 17v3m1-77v1m0 1v1m0 59v3m0 1v3m0 8v3m0 27v1m0 5v1m0 9v1m0 9v1m0 4v1m0 1v1m0 2v2m1-151v1m0 2v1m0 54v2m0 1v2m0 2v1m1-75v1m0 1v2m0 37v1m0 1v2m0 3v1m0 5v2m0 3v2m0 2v1m0 14v1m0 5v1m0 9v1m0 5v1m0 1v2m0 2v1m0 6v1m0 3v1m0 1v2m0 27v1m0 10v1m0 2v1m0 1v1m1-156v1m0 6v1m0 19v3m0 8v1m0 7v3m0 3v1m0 107v1m1-174v1m0 12v2m0 49v1m0 7v2m0 5v1m0 13v1m0 10v3m0 2v2m0 1v2m0 2v1m0 3v1m0 6v2m0 1v1m0 3v1m0 1v1m0 25v1m0 1v2m0 1v3m1-129v1m0 1v1m0 15v1m0 1v1m0 9v1m0 1v1m0 8v1m0 5v1m0 3v1m0 3v1m0 5v2m0 2v1m0 2v2m0 1v1m0 13v1m0 2v2m0 4v1m0 2v1m1-77v3m0 2v1m0 32v2m0 12v2m0 1v1m0 1v2m0 6v1m0 1v4m0 1v1m0 1v1m0 1v2m0 1v1m0 1v1m0 3v5m0 1v5m0 4v2m0 1v1m0 1v1m1-167v1m0 2v1m0 1v1m0 2v1m0 13v1m0 21v1m0 20v2m0 6v1m0 24v1m0 1v1m0 4v4m0 39v1m0 6v1m0 5v3m0 1v2m1-164v1m0 2v2m0 1v1m0 1v1m0 8v1m0 38v2m0 8v1m0 32v3m0 4v2m0 26v1m0 11v1m1-147v4m0 1v3m0 14v1m0 25v1m0 9v1m0 1v1m0 1v2m0 13v2m0 1v1m0 1v2m0 5v1m0 2v1m0 3v1m0 4v1m0 2v2m0 1v2m0 13v1m0 1v1m0 1v1m0 1v4m0 12v2m0 1v1m1-110v1m0 9v4m0 4v2m0 31v1m0 2v1m0 2v1m0 2v1m0 1v3m0 3v1m0 37v1m0 9v1m0 1v1m0 3v1m1-167v3m0 3v1m0 4v1m0 2v1m0 4v1m0 7v1m0 1v1m0 1v1m0 1v3m0 1v1m0 2v2m0 5v3m0 1v1m0 16v1m0 27v1m0 9v2m0 1v2m0 1v1m0 1v1m0 15v2m0 4v1m0 1v1m0 4v2m0 2v1m1-96v1m0 18v1m0 2v2m0 5v1m0 9v1m0 15v1m0 61v1m1-123v3m0 1v1m0 7v3m0 1v1m0 3v1m0 2v1m0 5v1m0 17v1m0 2v1m0 1v2m0 16v1m0 4v1m0 5v2m0 3v1m0 2v1m0 3v1m0 4v1m0 1v1m0 3v3m0 4v1m0 1v1m0 8v2m1-168v1m0 2v3m0 2v1m0 2v1m0 27v1m0 17v1m0 3v1m0 36v1m0 1v1m0 27v5m0 5v2m0 1v1m0 2v1m0 1v1m0 16v1m0 8v1m1-129v1m0 16v1m0 1v1m0 16v1m0 4v2m0 29v2m0 1v1m0 21v1m1-141v1m0 4v1m0 6v1m0 16v1m0 2v1m0 9v1m0 2v1m0 14v2m0 1v1m0 2v1m0 1v2m0 3v1m0 4v1m0 10v1m0 2v1m0 7v2m0 2v1m0 3v1m0 1v1m0 13v1m0 1v3m0 1v1m0 1v2m0 13v1m0 11v2m0 1v1m0 1v1m0 1v1m1-170v1m0 42v1m0 21v4m0 3v1m0 4v1m0 15v2m0 3v1m0 4v1m0 7v2m0 27v1m0 10v1m0 15v1m0 1v1m1-168v1m0 1v1m0 23v1m0 1v1m0 16v1m0 1v1m0 3v1m0 1v1m0 51v1m0 21v1m0 19v1m0 11v1m0 1v2m0 1v1m0 2v1m1-168v1m0 1v1m0 2v1m0 9v6m0 22v1m0 4v1m0 3v1m0 1v4m0 1v1m0 4v1m0 12v1m0 11v1m0 23v1m0 2v2m0 1v1m0 18v1m0 4v1m0 11v2m0 3v1m1-163v2m0 4v1m0 1v1m0 45v1m0 16v1m0 5v5m0 12v1m0 19v1m0 1v5m0 6v1m0 39v1m0 1v1m0 2v1m1-102v2m0 7v1m0 15v1m0 52v1m0 8v1m1-147v1m0 33v1m0 5v1m0 2v3m0 1v1m0 10v1m0 2v1m0 21v1m0 49v1m0 24v1m0 2v1m1-169v1m0 1v1m0 12v1m0 14v2m0 10v1m0 1v1m0 10v1m0 1v1m0 27v2m0 4v1m0 32v2m0 1v1m0 1v1m0 2v1m0 1v1m0 13v1m1-151v1m0 3v1m0 1v1m0 10v1m0 6v1m0 32v1m0 4v1m0 5v2m0 2v1m0 1v1m0 14v1m0 7v1m0 1v1m0 21v2m0 24v1m0 1v2m0 1v1m0 11v2m0 3v2m1-171v2m0 13v2m0 2v1m0 93v1m0 1v1m0 1v1m0 16v1m0 2v1m0 2v3m0 1v1m0 16v1m0 1v1m1-116v2m0 10v1m0 3v1m0 3v3m0 7v1m0 22v1m1-101v1m0 30v1m0 1v2m0 8v1m0 5v1m0 1v1m0 26v1m0 4v2m0 2v1m0 4v1m0 10v1m0 3v1m0 15v2m0 3v1m0 1v2m1-119v1m0 4v1m0 32v1m0 1v3m0 41v2m0 26v1m0 2v1m0 1v1m0 26v1m0 1v1m0 1v2m1-165v3m0 1v5m0 9v1m0 3v1m0 2v1m0 2v1m0 2v1m0 1v1m0 8v3m0 1v1m0 11v1m0 1v2m0 1v2m0 1v1m0 2v4m0 1v1m0 2v1m0 18v1m0 2v1m0 47v2m0 1v1m0 1v1m0 2v1m0 3v2m0 1v1m0 1v1m1-166v3m0 3v1m0 3v1m0 1v2m0 2v2m0 1v4m0 1v1m0 2v2m0 12v2m0 1v1m0 1v1m0 2v1m0 11v1m0 7v2m0 1v1m0 1v3m0 2v2m0 20v1m0 1v2m0 1v1m0 37v1m0 21v3m1-159v2m0 41v3m0 1v1m0 2v1m0 29v1m0 10v6m0 1v1m0 1v2m0 29v1m0 2v1m0 6v1m0 2v1m0 1v3m1-96v1m0 3v1m1-49v2m0 30v3m0 2v2m0 90v1m0 1v1m0 7v1m1-80v1m0 17v2m0 22v1m0 1v1m0 1v1m0 1v1m0 2v2m0 1v1m0 4v1m0 9v1m0 2v2m0 2v2m0 2v5m1-149v1m0 3v1m0 5v1m0 1v3m0 1v1m0 7v1m0 120v1m0 2v1m0 1v1m1-162v1m0 3v1m0 1v1m0 48v1m0 1v1m0 107v2m0 1v1m1-171v2m0 13v1m0 25v1m0 7v1m0 6v1m0 18v1m0 10v1m0 2v1m0 1v2m0 1v3m0 39v1m0 1v1m0 11v1m1-148v2m0 3v1m0 11v1m0 28v1m0 2v1m0 7v2m0 3v1m0 15v1m0 1v1m0 1v2m0 10v1m0 22v1m0 26v1m0 1v1m0 4v2m0 1v1m0 11v1m0 1v1"/><path stroke="#f9a05a" stroke-width="1" d="M0 11v2m0 2v2m0 2v1m0 2v1m0 2v1m0 1v2m0 1v2m0 10v3m0 10v1m0 10v1m0 2v1m0 19v2m0 26v1m0 3v1m0 1v2m0 2v1m0 13v1m0 1v1m0 2v3m0 9v2m0 1v1m0 6v2m1-155v1m0 1v4m0 35v3m0 54v1m0 2v1m0 36v1m1-117v1m0 5v3m0 18v1m0 26v1m0 59v1m0 19v1m0 2v1m1-128v1m0 2v3m0 4v4m0 30v1m0 8v1m0 11v1m0 46v1m1-143v1m0 1v1m0 4v3m0 1v1m0 2v1m0 20v2m0 34v3m0 3v1m0 69v2m0 3v3m0 3v1m1-172v1m0 29v1m0 25v1m0 3v2m0 14v1m0 2v2m0 1v2m0 11v2m0 13v1m0 2v3m0 1v2m0 2v3m0 24v2m1-102v2m0 34v1m0 1v1m0 23v1m0 15v2m0 3v1m0 21v1m0 1v1m0 1v7m1-149v4m0 14v1m0 26v2m0 2v1m0 19v1m0 1v1m0 8v1m0 37v1m1-132v1m0 26v1m0 4v1m0 1v2m0 18v1m0 4v2m0 1v3m0 2v1m0 6v3m0 19v1m0 12v2m0 5v1m0 2v3m0 5v1m0 22v1m0 1v1m1-159v1m0 1v1m0 1v1m0 12v3m0 2v2m0 34v3m0 9v2m0 10v2m0 2v2m0 11v2m0 1v1m0 13v1m0 21v1m0 2v1m0 1v2m0 1v1m0 2v1m1-129v3m0 18v1m0 1v1m0 46v2m0 10v4m0 1v6m0 28v1m0 2v1m0 20v4m0 4v1m1-169v1m0 1v1m0 25v1m0 1v5m0 20v1m0 23v1m0 1v1m0 13v1m0 3v2m0 4v1m0 50v1m0 2v1m0 1v1m0 4v1m1-74v2m0 15v2m0 3v1m0 9v2m0 3v5m1-46v1m0 2v1m0 5v1m0 7v3m0 13v2m0 1v1m0 1v1m0 1v1m0 3v2m0 1v2m0 1v1m0 3v1m0 9v1m1-50v1m0 1v1m0 1v1m0 2v2m0 1v1m0 1v1m0 3v2m0 29v1m0 1v1m0 8v1m1-79v1m0 9v1m0 4v3m0 2v3m0 16v1m0 1v1m0 1v1m0 1v6m0 6v2m1-21v1m0 28v1m0 2v1m0 8v1m0 4v1m1-171v2m0 48v1m0 11v1m0 20v1m0 1v1m0 38v1m0 2v1m0 3v1m0 1v2m0 1v2m0 2v2m0 1v3m0 1v1m0 9v2m1-121v1m0 1v1m0 1v2m0 2v2m0 34v1m0 30v1m0 1v1m0 1v1m0 1v2m0 24v1m0 13v4m0 2v3m0 2v2m1-72v1m0 2v2m0 1v1m0 1v1m0 27v1m0 23v1m1-66v1m0 2v2m0 39v1m0 1v2m0 4v1m0 2v1m0 7v3m0 2v1m0 2v1m1-145v2m0 37v1m0 86v1m0 2v1m0 8v1m0 6v5m1-121v1m0 3v1m0 29v1m0 3v2m0 1v1m0 56v1m0 4v1m1-60v1m0 18v1m0 2v2m0 2v2m0 41v1m1-102v2m0 12v2m0 84v1m0 1v2m1-164v1m0 2v5m0 1v1m0 79v1m0 58v1m0 1v1m0 3v3m0 1v2m0 5v4m1-108v2m0 23v4m0 1v1m0 13v1m0 37v1m0 1v1m0 11v4m0 2v3m1-56v1m0 2v1m0 2v3m0 1v2m0 2v6m0 4v1m0 6v1m0 19v1m0 4v3m1-151v2m0 92v1m0 2v2m0 1v1m0 43v2m1-95v4m0 2v1m0 1v3m0 36v1m0 38v4m0 3v1m0 2v1m1-152v1m0 31v1m0 21v2m0 1v1m0 1v1m0 2v1m0 2v1m0 6v1m0 71v1m0 1v2m0 1v1m1-133v1m0 29v1m0 25v2m0 10v1m0 7v1m0 39v1m1-136v1m0 13v1m0 6v1m0 20v6m0 1v4m0 83v2m0 5v3m1-133v1m0 23v1m0 6v1m0 8v1m0 68v1m0 5v1m0 1v1m0 7v3m0 1v2m1-129v1m0 3v1m0 1v2m0 14v1m0 16v2m0 30v1m0 1v2m0 1v2m0 2v3m0 3v2m0 2v1m0 1v1m0 2v1m0 7v1m0 24v1m1-102v2m0 22v1m0 1v1m1-57v1m0 21v1m0 18v2m0 3v1m0 2v1m0 1v1m0 12v1m0 1v1m0 1v1m0 63v1m0 8v1m0 1v2m1-143v2m0 1v1m0 19v1m0 1v1m0 21v3m0 5v5m0 3v1m0 1v1m0 51v1m0 1v1m0 1v1m0 17v1m0 1v2m1-130v2m0 1v1m0 1v1m0 4v1m0 1v3m0 2v1m0 92v1m0 14v1m0 1v1m1-128v1m0 1v1m0 2v1m0 12v4m0 1v1m0 105v1m1-159v2m0 1v4m0 8v1m0 50v1m0 7v1m0 54v2m0 27v1m1-119v4m0 34v1m0 41v1m0 24v1m1-149v1m0 35v1m0 4v1m0 116v1m1-112v1m0 1v2m0 12v3m0 10v1m0 2v4m0 1v1m0 5v1m0 2v1m0 1v1m0 1v1m0 1v1m0 29v1m0 1v1m0 3v1m0 3v2m0 10v2m1-149v1m0 5v4m0 15v2m0 11v1m0 6v1m0 14v1m0 1v3m0 10v2m0 1v1m1 61v1m1-64v1m0 1v1m0 7v1m0 1v1m0 4v2m0 28v5m0 11v3m0 1v3m0 2v1m1-144v4m0 1v1m0 98v2m0 1v3m0 2v1m0 3v1m0 33v2m1-121v2m0 35v1m0 76v1m0 1v1m0 1v1m1-104v1m0 2v1m0 5v1m0 24v2m0 4v1m0 1v2m0 2v2m0 5v3m0 3v1m0 2v1m0 3v1m0 1v3m0 9v1m0 1v1m0 1v3m0 1v4m1-10v1m0 2v1m0 4v2m1-47v1m0 3v1m0 2v3m1-112v4m0 1v1m0 4v1m0 1v1m0 2v1m0 2v1m0 3v2m0 2v2m0 2v1m0 1v1m0 4v1m0 33v1m0 7v1m0 4v1m0 2v1m0 3v1m0 1v8m0 1v4m0 1v2m0 1v1m0 3v1m0 40v1m0 1v1m1-138v1m0 1v1m0 1v1m0 2v1m0 50v1m0 18v1m0 1v1m0 39v1m0 5v1m0 1v1m1-152v1m0 1v1m0 2v3m0 31v2m0 1v1m0 6v1m0 27v2m0 1v1m0 2v1m0 9v1m0 1v1m0 1v1m0 3v1m0 1v1m0 1v1m0 17v3m0 2v1m0 34v1m0 1v2m1-146v2m0 1v1m0 4v1m0 1v5m0 16v1m0 5v1m0 8v1m0 7v3m0 14v1m0 4v2m0 1v1m0 3v2m0 14v1m0 3v4m0 1v2m0 1v1m0 3v1m0 25v1m0 1v2m1-151v1m0 1v1m0 1v2m0 13v1m0 1v1m0 10v2m0 3v1m0 1v1m0 20v4m0 4v1m0 1v1m0 1v3m0 6v1m0 1v2m0 16v1m0 2v1m0 1v2m0 1v3m0 1v4m0 1v1m0 3v1m0 8v1m0 8v3m0 8v1m1-150v2m0 2v2m0 25v1m0 1v2m0 38v1m0 20v1m0 11v1m0 4v1m0 1v1m0 10v1m0 1v3m0 3v1m0 2v1m0 1v1m0 1v1m0 1v2m1-166v6m0 2v1m0 12v1m0 1v1m0 1v1m0 3v1m0 12v1m0 10v1m0 7v1m0 1v1m0 1v1m0 15v1m0 3v1m0 2v1m0 29v1m0 3v1m0 7v1m0 5v2m0 4v1m0 1v1m0 1v1m0 15v1m1-155v1m0 3v2m0 12v1m0 15v1m0 7v1m0 8v1m0 2v1m0 1v1m0 33v1m0 49v1m0 1v1m0 5v1m0 11v1m0 1v1m1-157v2m0 1v2m0 1v1m0 8v1m0 2v4m0 25v3m0 1v1m0 14v2m0 1v1m0 5v1m0 24v1m0 6v1m0 31v1m0 3v1m0 10v1m0 2v1m1-161v2m0 1v3m0 1v3m0 38v1m0 2v4m0 14v3m0 1v1m0 11v1m0 1v2m0 7v1m0 3v1m0 1v5m0 2v1m0 17v1m0 1v1m0 22v1m1-165v1m0 7v5m0 3v2m0 3v2m0 2v1m0 1v1m0 2v1m0 9v1m0 14v2m0 1v1m0 6v1m0 11v1m0 3v1m0 1v2m0 6v2m0 1v1m0 1v1m0 3v1m0 17v1m0 42v1m0 1v2m1-145v1m0 3v3m0 1v1m0 3v1m0 3v3m0 8v1m0 7v1m0 11v1m0 18v3m0 80v2m0 1v2m1-101v2m0 3v1m0 1v1m0 21v1m1-102v1m0 13v1m0 7v2m0 2v1m0 1v1m0 7v1m0 5v1m0 11v1m0 28v1m0 20v3m0 2v1m0 1v1m0 1v1m0 2v1m0 1v1m0 1v3m0 10v1m1-131v3m0 7v1m0 19v1m0 15v2m0 7v2m0 9v3m0 1v3m0 2v3m0 1v1m0 5v1m0 4v3m0 2v1m0 3v1m0 1v1m0 4v2m0 13v4m0 1v2m0 3v1m0 1v3m0 3v1m0 2v1m0 19v2m0 1v1m0 1v1m0 1v1m1-176v2m0 6v2m0 1v2m0 9v1m0 21v1m0 22v1m0 15v5m0 11v1m0 14v2m0 1v1m0 4v1m0 3v1m0 1v2m0 5v1m0 3v1m0 1v1m0 1v3m0 1v1m0 2v1m0 3v2m0 15v4m1-170v1m0 9v1m0 8v3m0 1v2m0 1v2m0 1v1m0 30v1m0 1v1m0 3v2m0 2v3m0 1v1m0 3v2m0 2v1m0 13v1m0 39v1m0 7v1m1-103v2m0 3v2m0 3v1m0 1v1m0 5v5m0 1v2m0 1v2m0 1v2m0 1v1m0 8v5m0 1v1m0 1v1m0 3v1m0 1v1m0 24v1m0 2v1m0 1v2m0 1v1m0 1v2m1-113v1m0 1v1m0 1v2m0 11v1m0 16v1m0 1v1m0 22v1m0 17v1m0 3v1m0 5v1m0 29v1m0 1v3m1-126v1m0 32v1m0 2v1m0 40v1m0 6v2m0 19v1m0 3v1m0 33v1m0 1v1m1-142v1m0 28v1m0 13v1m0 1v1m0 1v1m0 2v2m0 3v1m0 3v1m0 7v1m0 1v1m0 1v1m0 42v2m0 1v4m0 20v1m1-143v1m0 3v1m0 30v1m0 8v4m0 3v1m0 1v1m0 13v1m0 3v1m0 16v1m0 22v1m0 12v1m0 1v1m0 1v3m0 1v4m1-113v2m0 38v2m0 10v3m0 5v3m0 1v3m0 2v2m0 1v3m0 3v1m0 1v1m0 1v1m0 1v1m0 1v4m0 23v2m0 2v1m1-151v1m0 2v2m0 1v1m0 42v1m0 1v1m0 1v1m0 4v1m0 30v2m0 10v1m0 32v2m0 2v2m0 2v1m0 2v1m0 6v2m1-114v1m0 6v2m0 21v1m0 13v2m0 2v2m0 23v3m0 2v2m0 1v1m0 2v1m0 2v1m0 2v1m0 1v1m0 16v2m0 1v1m0 1v1m1-117v1m0 10v2m0 1v2m0 13v2m0 2v1m0 12v2m0 1v1m0 18v1m0 31v2m0 5v3m0 6v1m1-171v1m0 1v1m0 43v3m0 2v1m0 3v1m0 15v5m0 1v1m0 1v1m0 1v2m0 80v1m0 3v1m0 1v1m1-155v1m0 8v1m0 3v5m0 1v2m0 3v1m0 2v2m0 1v1m0 17v1m0 35v2m0 3v2m0 1v1m0 7v1m0 2v1m0 3v1m0 3v3m0 3v4m0 1v1m0 2v1m0 28v2m1-110v1m0 22v1m0 8v4m0 20v1m0 51v1m1-156v3m0 66v4m0 5v1m0 6v2m0 55v1m0 2v1m0 13v2m1-123v1m0 4v1m0 1v5m0 36v1m0 58v1m0 1v1m0 8v1m1-155v1m0 44v2m0 6v1m0 5v1m0 29v6m0 1v1m0 40v1m0 3v1m1-142v1m0 11v1m0 1v1m0 25v1m0 1v1m0 26v1m0 1v1m0 13v3m0 46v4m1-99v1m0 14v1m0 1v1m0 3v4m0 1v1m0 1v1m0 1v1m0 1v1m0 11v1m0 4v1m0 8v1m0 29v2m0 10v2m0 1v2m0 1v1m0 6v2m0 4v1m1-114v2m0 12v1m0 15v2m0 7v1m0 15v1m0 1v2m0 3v1m0 14v1m0 20v2m0 1v1m0 1v1m0 7v2m0 1v1m1-152v1m0 1v1m0 4v2m0 29v1m0 2v1m0 6v1m0 1v1m0 3v1m0 9v3m0 8v1m0 50v5m0 3v1m1-143v1m0 17v1m0 1v1m0 19v1m0 1v1m0 1v1m0 9v3m0 1v2m0 3v2m0 1v2m0 1v3m0 16v1m0 8v1m0 34v1m0 1v2m0 14v1m1-165v1m0 3v2m0 1v2m0 2v1m0 42v3m0 1v1m0 8v2m0 1v1m0 2v1m0 1v1m0 5v2m0 1v1m0 17v2m0 1v1m0 1v2m0 1v2m0 27v1m0 1v2m0 11v1m0 1v1m0 1v1m0 2v2m1-165v2m0 13v1m0 43v1m0 29v1m0 3v1m0 2v1m0 1v1m0 2v1m0 4v1m0 6v2m0 13v1m0 4v1m0 21v1m0 7v1m0 1v1m0 1v1m0 6v1m1-148v1m0 1v2m0 2v1m0 7v1m0 10v1m0 12v4m0 9v1m0 26v1m0 1v3m0 1v2m0 49v1m0 4v4m1-156v1m0 1v1m0 1v1m0 33v2m0 9v3m0 1v1m0 14v1m0 1v1m0 13v1m0 2v1m0 25v1m0 11v1m1-121v1m0 21v1m0 15v1m0 1v4m0 35v2m0 14v2m0 4v4m0 1v1m0 7v1m0 5v1m0 10v2m1-132v3m0 9v1m0 2v1m0 3v1m0 16v2m0 2v1m0 1v3m0 1v2m0 61v1m0 13v1m0 1v3m0 16v2m1-162v1m0 56v6m0 1v1m0 15v2m0 54v1m0 3v1m0 16v3m0 3v3m1-106v1m0 1v4m0 2v1m0 2v1m0 1v2m0 2v1m0 16v2m0 4v3m0 2v2m0 30v1m0 3v1m0 10v1m0 3v1m1-145v1m0 1v1m0 2v3m0 1v7m0 4v1m0 1v1m0 3v2m0 39v1m0 1v1m0 7v1m0 20v1m0 3v1m0 3v1m0 1v1m0 2v2m0 10v1m0 11v1m0 2v1m0 16v1m1-173v1m0 32v1m0 1v1m0 1v5m0 4v1m0 1v1m0 14v1m0 5v1m0 59v1m0 5v2m0 18v1m0 1v1m0 1v1m0 1v1m0 3v1m0 2v1m0 5v1m1-172v2m0 3v1m0 6v1m0 1v4m0 1v2m0 6v1m0 26v1m0 12v1m0 1v1m0 3v4m0 2v2m0 1v2m0 2v1m0 6v2m0 8v2m0 35v3m0 1v1m0 2v2m0 1v5m0 4v1m0 8v2m0 1v1m1-175v1m0 4v2m0 5v1m0 29v1m0 4v1m0 1v2m0 7v1m0 1v1m0 3v2m0 49v4m0 2v2m0 3v1m0 35v1m0 3v1m0 1v1m1-165v2m0 22v1m0 4v2m0 1v1m0 4v1m0 34v1m0 24v1m0 6v1m0 6v1m0 11v1m0 8v1m0 6v1m0 27v1m0 1v1m1-155v3m0 11v1m0 1v1m0 4v2m0 12v1m0 2v2m0 1v4m0 27v1m0 8v1m0 17v2m0 3v2m0 1v1m0 11v1m0 17v2m0 3v2m0 2v1m1-166v1m0 100v1m0 1v1m0 11v2m0 1v1m0 2v2m0 4v1m1-102v1m0 4v1m0 20v3m0 1v3m0 1v1m0 1v1m0 7v1m0 4v1m0 5v2m0 9v1m0 25v1m0 48v1m0 6v1m1-169v1m0 4v1m0 1v1m0 34v2m0 19v1m0 1v2m0 1v3m0 3v2m0 35v3m0 4v1m0 1v2m0 34v2m0 1v3m0 3v1m1-166v1m0 1v2m0 16v1m0 5v1m0 1v1m0 3v1m0 2v1m0 24v4m0 13v2m0 1v5m0 6v1m0 1v1m0 1v1m0 15v1m0 1v1m0 2v1m0 1v1m0 25v1m1-134v1m0 2v1m0 1v2m0 40v1m0 1v1m0 2v1m0 1v2m0 4v1m0 1v1m0 1v2m0 17v1m0 15v4m0 1v1m0 1v1m0 2v1m1-126v1m0 3v1m0 25v1m0 30v1m0 24v2m0 12v1m0 1v2m0 1v4m0 1v3m0 12v2m0 13v1m0 2v1m0 3v2m0 7v4m0 4v3m0 3v2m0 1v1m1-160v1m0 10v1m0 40v1m0 36v3m0 1v4m0 2v1m0 14v1m0 1v1m0 2v1m0 3v1m0 30v1m0 2v1m0 1v1m1-165v1m0 4v2m0 1v5m0 1v1m0 1v2m0 1v1m0 1v1m0 2v3m0 3v2m0 41v5m0 2v1m0 2v3m0 3v2m0 1v1m0 2v1m0 2v1m0 1v5m0 15v4m0 2v1m0 1v3m0 1v1m0 6v1m1-141v2m0 5v1m0 5v2m0 1v1m0 5v3m0 3v1m0 1v1m0 1v1m0 13v1m0 2v2m0 23v2m0 2v1m0 12v1m0 46v1m0 2v1m0 4v4m0 1v1m0 3v1m1-165v2m0 4v2m0 2v1m0 2v1m0 6v1m0 1v1m0 38v1m0 19v1m0 3v2m0 1v2m0 5v1m0 1v3m0 5v1m0 1v1m0 1v2m0 1v2m0 16v1m0 1v5m0 7v1m0 1v2m0 1v1m0 18v1m0 4v3m1-172v1m0 13v3m0 1v2m0 59v3m0 3v2m0 17v1m0 2v1m0 56v1m0 1v4m0 1v1m1-155v1m0 4v1m0 1v1m0 1v3m0 9v1m0 12v1m0 1v1m0 43v1m0 7v4m0 3v1m0 1v1m0 2v3m0 1v1m0 1v1m0 2v1m0 1v1m0 1v2m0 1v3m1-139v1m0 8v1m0 2v3m0 1v1m0 5v1m0 13v1m0 2v1m0 1v2m0 15v1m0 3v1m0 8v1m0 1v1m0 1v5m0 4v1m0 8v1m0 4v2m0 1v1m0 2v3m0 1v2m0 1v3m0 40v1m0 8v4m0 6v2m1-130v6m0 4v4m0 1v1m0 26v1m0 43v1m1-106v3m0 16v1m0 5v1m0 1v1m0 10v1m0 3v1m0 5v1m0 15v3m0 1v3m0 1v2m0 3v1m0 1v1m0 1v1m0 2v4m0 57v1m0 2v1m1-173v1m0 1v1m0 50v1m0 85v1m0 2v1m0 2v1m1-144v1m0 3v1m0 3v1m0 2v1m0 41v1m0 9v1m0 5v4m0 1v1m0 2v1m0 4v1m0 4v1m0 22v1m0 3v1m1-96v1m0 3v1m0 13v1m0 1v2m0 2v2m0 1v1m0 5v2m0 5v4m0 9v1m0 4v1m0 3v1m0 6v2m0 1v3m0 1v6m0 2v6m0 7v1m0 19v1m0 31v1m1-165v5m0 10v1m0 8v1m0 4v1m0 3v1m0 2v2m0 3v1m0 5v1m0 1v1m0 17v1m0 1v1m0 22v3m0 3v7m0 37v1m1-118v2m0 1v4m0 44v3m0 4v1m0 8v1m0 1v1m0 1v1m0 32v1m0 12v4m0 3v1m0 1v2m0 6v4m0 2v2m1-175v2m0 11v1m0 4v3m0 20v1m0 1v2m0 1v1m0 1v2m0 6v1m0 6v1m0 1v2m0 3v1m0 1v1m0 2v1m0 8v2m0 5v1m0 11v5m0 2v3m0 7v1m0 31v1m0 4v1m0 3v1m0 2v1m0 4v1m1-156v1m0 2v1m0 2v4m0 6v1m0 1v1m0 1v3m0 3v1m0 11v2m0 1v1m0 3v1m0 23v1m0 16v1m0 39v1m0 1v2m0 2v1m0 2v1m0 2v1m0 3v3m0 1v1m0 13v1m1-162v1m0 3v2m0 13v4m0 2v4m0 2v1m0 1v4m0 2v1m0 5v1m0 1v3m0 6v1m0 1v2m0 5v3m0 7v1m0 14v3m0 6v1m0 1v2m0 7v1m0 25v1m0 2v1m0 1v1m0 1v2m0 1v1m0 12v1m1-164v1m0 2v1m0 10v1m0 1v8m0 5v2m0 10v2m0 1v1m0 5v1m0 6v3m0 8v1m0 12v1m0 36v2m0 1v1m0 1v2m0 2v1m0 8v1m0 2v1m0 1v2m0 1v2m0 9v1m0 5v1m0 2v1m1-174v1m0 13v2m0 8v2m0 4v1m0 13v2m0 37v1m0 10v1m0 45v1m0 3v1m0 1v2m1-149v1m0 1v1m0 14v1m0 5v1m0 9v1m0 3v3m0 12v2m0 2v1m0 1v1m0 4v1m0 8v1m0 1v3m0 1v2m0 87v4m1-166v2m0 1v2m0 1v1m0 5v1m0 22v1m0 1v2m0 1v1m0 2v2m0 9v1m0 4v1m0 1v4m0 22v1m0 8v2m0 8v1m0 51v2m0 1v2m1-160v3m0 14v1m0 1v1m0 1v1m0 29v1m0 11v2m0 1v3m0 2v1m0 1v2m0 36v2m0 2v3m0 1v1m0 25v1m0 5v2m0 9v1m0 2v1m1-174v6m0 2v1m0 26v2m0 19v1m0 7v1m0 1v1m0 23v1m0 83v1m1-157v1m0 2v1m0 1v1m0 20v3m0 2v1m0 1v1m0 30v1m0 59v1m0 2v1m0 1v1m0 6v4m0 2v3m0 1v2m0 1v1m1-167v3m0 1v1m0 11v2m0 1v1m0 2v1m0 1v5m0 3v1m0 7v1m0 1v1m0 3v2m0 2v1m0 12v3m0 1v1m0 9v1m0 19v3m0 4v1m0 1v1m0 12v1m0 44v1m0 1v1m0 3v4m1-175v1m0 1v1m0 4v1m0 16v1m0 4v1m0 1v1m0 26v1m0 1v1m0 4v1m0 26v5m0 7v3m0 2v1m0 2v1m0 18v1m0 16v1m1-129v1m0 3v1m0 7v1m0 1v1m0 2v1m0 4v1m0 2v1m0 4v1m0 1v1m0 31v1m0 2v1m0 87v1m1-170v1m0 1v1m0 4v1m0 10v4m0 2v3m0 20v1m0 2v1m0 1v3m0 9v5m0 3v3m0 3v1m0 2v1m0 84v1m0 1v1m1-161v2m0 2v4m0 20v1m0 4v1m0 2v1m0 11v1m0 21v1m0 1v2m0 13v1m0 49v8m0 4v1m0 2v1m0 3v1m0 2v1m1-159v1m0 1v2m0 1v1m0 2v1m0 11v5m0 4v1m0 16v1m0 26v1m0 1v1m0 10v1m0 14v1m0 2v1m0 2v2m0 2v2m0 12v1m0 6v1m0 14v2m0 3v1m1-165v1m0 1v1m0 6v1m0 1v1m0 2v1m0 3v1m0 7v1m0 4v1m0 7v3m0 47v1m0 12v3m0 2v1m0 4v1m0 2v1m0 3v2m0 2v1m0 16v1m0 1v1m0 2v1m0 22v2m1-155v1m0 2v1m0 11v1m0 4v1m0 1v1m0 13v2m0 2v2m0 1v2m0 2v5m0 13v2m0 1v2m0 35v1m0 40v1m0 1v2m1-145v1m0 4v2m0 1v1m0 2v1m0 1v1m0 4v1m0 1v1m0 24v2m0 22v2m0 1v1m0 1v3m0 4v1m0 3v1m0 5v1m0 5v3m0 1v1m0 8v3m0 2v2m0 10v1m0 1v1m0 3v1m0 12v2m1-144v1m0 1v1m0 31v1m0 1v1m0 38v1m0 39v1m0 1v1m0 2v1m0 2v5m0 1v1m0 1v2m0 1v1m0 6v3m0 2v1m1-171v1m0 2v3m0 2v1m0 1v1m0 47v1m0 4v1m0 3v3m0 59v2m0 16v1m0 17v1m0 2v1m0 1v1m1-156v3m0 2v1m0 3v1m0 4v1m0 9v4m0 1v1m0 3v1m0 2v1m0 3v1m0 7v1m0 1v2m0 15v1m0 28v1m0 48v4m0 1v1m0 1v1m1-169v1m0 5v2m0 2v1m0 5v6m0 41v2m0 5v1m0 6v2m0 61v3m0 12v1m0 2v1m0 1v6m1-154v3m0 53v3m0 1v1m0 3v1m0 73v3m1-102v1m0 52v3m0 2v2m0 30v3m0 1v1m0 7v1m0 5v1m0 10v1m1-169v1m0 3v1m0 4v1m0 1v2m0 9v1m0 22v2m0 3v3m0 9v1m0 1v1m0 59v2m0 4v2m0 2v1m0 1v1m0 1v1m0 7v1m0 5v1m0 1v3m0 3v1m0 3v1m1-160v1m0 3v2m0 18v1m0 2v1m0 6v1m0 47v1m0 12v1m0 5v1m0 1v1m0 16v2m0 1v1m0 5v1m0 2v1m0 2v2m0 4v1m0 3v8m0 2v1m1-161v1m0 6v1m0 5v1m0 15v1m0 3v1m0 1v2m0 13v5m0 6v1m0 5v2m0 2v1m0 1v1m0 1v4m0 1v1m0 2v1m0 2v1m0 2v1m0 7v1m0 3v1m0 5v2m0 2v1m0 3v1m0 2v1m0 2v1m0 17v3m0 2v1m0 6v1m1-156v3m0 17v1m0 15v1m0 17v1m0 2v1m0 10v1m0 34v1m0 13v1m0 2v1m0 1v1m0 1v1m0 1v1m0 4v1m0 5v2m0 1v2m0 1v2m0 2v2m0 18v1m0 4v1m1-167v1m0 11v1m0 2v1m0 6v3m0 1v1m0 4v1m0 1v1m0 12v1m0 3v3m0 1v1m0 7v1m0 8v1m0 3v1m0 11v1m0 1v1m0 1v2m0 8v1m0 3v1m0 58v1m0 1v1m0 2v1m1-175v2m0 13v1m0 16v1m0 2v1m0 2v1m0 1v3m0 1v1m0 1v1m0 1v2m0 5v2m0 13v2m0 1v1m0 4v1m0 1v1m0 4v2m0 4v1m0 1v2m0 1v1m0 2v1m0 61v1m0 1v1m0 7v1m1-88v1m0 4v1m0 2v2m0 5v1m0 27v2m0 1v3m0 1v1m0 1v1m1-124v1m0 1v1m0 21v1m0 1v2m0 7v1m0 13v2m0 3v1m0 14v2m0 50v1m0 8v5m1-144v1m0 32v1m0 17v2m0 1v2m0 9v1m0 2v1m0 1v4m0 1v3m0 21v1m0 9v1m0 6v2m0 5v1m0 7v1m0 5v1m0 3v1m0 18v3m0 2v1m1-150v1m0 41v1m0 5v2m0 1v1m0 4v1m0 1v1m0 2v1m0 8v2m0 2v2m0 2v2m0 1v1m0 21v1m0 26v1m0 2v2m0 1v3m0 1v1m0 7v1m1-147v2m0 6v1m0 22v1m0 3v2m0 4v1m0 1v1m0 4v1m0 1v1m0 2v1m0 2v1m0 1v1m0 24v1m0 49v1m0 12v1m0 2v3m1-175v1m0 41v1m0 1v2m0 3v3m0 31v1m0 3v1m0 4v1m0 1v2m0 1v1m0 30v1m0 13v1m0 3v2m0 2v3m0 2v3m1-158v1m0 3v1m0 9v1m0 38v1m0 8v1m0 32v2m0 2v2m0 14v2m0 3v1m0 1v2m0 1v1m0 1v1m0 22v1m0 8v1m0 3v1m0 1v1m0 1v1m0 7v1m1-140v1m0 3v1m0 13v4m0 1v2m0 3v4m0 3v1m0 3v1m0 1v2m0 19v1m0 51v3m0 1v2m0 1v2m0 2v1m0 7v1m0 1v1m1-167v4m0 1v2m0 1v1m0 3v2m0 2v1m0 1v1m0 1v1m0 37v3m0 1v1m0 1v1m0 30v1m0 3v1m0 2v1m0 1v1m0 34v3m0 2v3m0 3v1m0 3v1m0 4v1m0 3v3m1-168v3m0 18v1m0 2v2m0 7v1m0 6v1m0 8v1m0 4v1m0 1v1m0 45v1m0 2v1m0 5v2m0 2v2m0 1v4m0 1v1m0 15v1m0 1v1m0 4v1m0 14v1m0 3v3m0 3v1m1-158v4m0 1v2m0 26v1m0 2v1m0 4v1m0 11v3m0 1v1m0 5v1m0 1v1m0 11v1m0 1v2m0 8v1m0 2v1m0 18v1m0 2v3m0 1v1m0 1v2m1-137v1m0 9v2m0 1v2m0 9v1m0 1v1m0 43v1m0 1v1m0 4v1m0 3v1m0 32v1m0 1v6m0 2v2m0 39v1m0 3v2m0 1v2m1-170v1m0 3v1m0 13v1m0 5v2m0 1v1m0 1v1m0 1v2m0 2v1m0 18v1m0 10v3m0 1v2m0 3v2m0 38v1m0 2v1m0 1v1m0 1v1m0 34v2m0 2v1m1-156v1m0 13v1m0 1v2m0 2v2m0 11v2m0 1v1m0 1v1m0 1v1m0 1v1m0 3v1m0 8v1m0 74v1m0 3v1m0 12v2m0 10v1m1-152v1m0 11v1m0 10v2m0 1v4m0 1v2m0 20v1m0 10v1m0 1v3m0 2v1m0 15v2m0 4v2m0 17v3m0 1v2m1-122v1m0 39v1m0 2v1m0 32v2m0 6v1m0 28v1m0 5v1m0 2v2m0 32v2m0 2v1m1-134v1m0 1v1m0 1v1m0 1v1m0 1v2m0 18v1m0 4v4m0 2v2m0 1v3m0 78v1m0 5v5m1-169v2m0 1v2m0 1v1m0 3v4m0 1v1m0 1v1m0 9v1m0 7v2m0 4v3m0 3v3m0 1v1m0 11v2m0 1v2m0 1v1m0 1v1m0 1v1m0 10v1m0 9v3m0 44v1m0 10v1m0 2v1m0 1v1m1-148v2m0 3v1m0 2v1m0 16v2m0 1v2m0 3v1m0 25v3m0 5v1m0 4v2m0 10v1m0 11v1m0 1v2m0 1v1m0 1v4m0 3v4m0 2v1m0 1v3m0 1v2m0 22v1m1-145v1m0 1v2m0 30v1m0 17v1m0 1v1m0 6v1m0 1v1m0 23v1m0 34v1m0 3v1m1-143v3m0 8v1m0 9v3m0 4v2m0 5v1m0 2v1m0 14v1m0 1v1m0 1v1m0 2v1m0 12v2m0 1v4m0 11v1m0 2v1m0 1v2m0 4v1m0 3v1m0 3v1m0 23v1m0 3v1m0 2v6m0 11v1m0 13v1m1-161v1m0 9v1m0 37v1m0 9v1m0 5v1m0 3v2m0 1v1m0 8v1m0 3v2m0 3v7m0 1v2m0 3v1m0 1v1m0 42v1m0 7v1m1-127v1m0 1v1m0 1v2m0 2v1m0 17v2m0 1v1m0 3v2m0 1v3m0 5v2m0 5v1m0 1v2m0 1v1m0 2v1m0 28v1m0 2v1m0 1v1m0 29v1m1-133v1m0 11v4m0 1v1m0 42v1m0 42v1m0 4v2m0 2v2m0 22v1m0 2v2m1-140v1m0 2v2m0 12v1m0 84v1m0 21v1m0 2v3m0 1v1m0 2v1m1-152v5m0 31v3m0 25v2m0 3v1m0 17v1m0 2v1m0 2v1m0 23v1m0 1v1m0 24v2m0 1v2m1-167v1m0 4v4m0 2v1m0 2v3m0 4v3m0 1v2m0 1v1m0 1v2m0 1v3m0 4v2m0 1v2m0 1v3m0 1v1m0 2v1m0 1v1m0 7v2m0 2v2m0 14v1m0 1v1m0 2v1m0 1v2m0 8v2m0 16v1m0 5v1m0 1v1m1-127v2m0 4v3m0 4v2m0 17v1m0 1v5m0 18v3m0 9v3m0 5v2m0 1v1m0 41v1m0 9v2m0 2v1m0 13v1m0 2v3m0 2v1m0 1v1m0 1v1m0 8v3m1-171v1m0 23v1m0 35v2m0 1v2m0 41v1m0 1v1m0 3v2m0 3v2m0 2v1m0 9v1m0 36v1m0 1v1m1-175v1m0 1v1m0 21v3m0 1v4m0 12v3m0 4v1m0 1v2m0 1v2m0 1v3m0 23v1m0 37v2m0 2v1m0 2v1m0 1v1m0 1v1m0 1v2m0 30v1m0 1v1m1-166v1m0 29v2m0 1v2m0 1v1m0 20v1m0 2v1m0 29v1m0 3v8m0 1v2m0 2v3m0 19v1m0 5v1m0 1v1m0 6v1m0 16v2m0 1v2m1-152v5m0 16v1m0 42v1m0 2v3m1-87v1m0 4v1m0 6v1m0 3v1m0 1v1m0 1v1m0 29v1m0 49v2m0 1v1m0 1v1m0 1v1m0 1v2m0 26v1m0 2v3m0 1v3m0 1v1m0 1v7m0 1v2m0 10v2m1-173v1m0 1v1m0 1v1m0 52v1m0 2v1m0 1v1m0 19v1m0 2v1m0 16v7m0 1v4m0 53v1m0 3v1m0 2v1m1-172v1m0 7v2m0 1v3m0 2v3m0 10v2m0 2v1m0 8v2m0 1v2m0 3v1m0 6v1m0 6v1m0 6v1m0 8v1m0 1v1m0 4v2m0 8v1m0 1v2m0 3v1m0 1v3m0 1v1m0 33v3m0 4v1m0 1v1m0 2v1m0 1v1m1-162v1m0 32v1m0 1v1m0 4v1m0 42v6m0 4v2m0 1v3m0 5v4m0 6v2m0 2v2m0 1v1m0 2v1m0 15v1m0 1v3m1-146v2m0 25v1m0 2v1m0 3v1m0 7v1m0 4v1m0 2v2m0 19v2m0 5v2m0 2v1m0 25v1m0 1v1m0 2v1m0 1v2m0 1v2m0 2v2m0 4v2m0 1v3m0 40v1m1-175v2m0 15v2m0 4v1m0 12v1m0 29v2m0 1v1m0 16v2m0 1v1m0 3v4m0 1v3m0 1v2m0 11v1m0 1v1m0 10v1m0 2v2m0 2v1m0 4v1m0 10v9m0 10v1m1-171v1m0 3v2m0 9v2m0 4v3m0 9v2m0 1v1m0 1v1m0 8v4m0 4v1m0 13v1m0 13v1m0 1v2m0 1v2m0 20v1m0 2v1m0 1v3m0 1v4m0 5v1m0 2v1m0 3v1m0 11v1m0 14v1m0 3v1m1-164v2m0 24v1m0 2v1m0 11v1m0 2v1m0 4v1m0 8v1m0 1v1m0 8v1m0 5v2m0 12v1m0 5v1m0 16v1m0 2v1m0 1v1m0 4v2m0 1v1m0 12v1m0 1v1m0 2v1m0 1v1m0 20v1m1-164v1m0 1v4m0 1v1m0 1v1m0 2v1m0 25v1m0 9v2m0 1v1m0 19v1m0 5v1m0 2v1m0 17v1m0 1v5m0 3v1m0 18v2m0 5v1m0 9v1m0 24v1m1-167v1m0 3v4m0 10v3m0 2v2m0 1v1m0 3v2m0 5v6m0 14v1m0 1v2m0 25v2m0 1v3m0 30v1m1-131v1m0 26v3m0 2v1m0 1v2m0 1v2m0 1v3m0 2v2m0 2v2m0 6v1m0 6v4m0 7v2m0 6v1m0 56v1m0 3v1m0 1v1m0 1v2m0 2v2m0 1v1m0 13v1m1-164v1m0 8v2m0 1v1m0 4v3m0 2v2m0 4v2m0 1v3m0 54v1m0 8v2m0 1v2m0 1v1m0 1v2m0 9v1m0 2v3m0 1v1m0 34v3m1-159v1m0 2v2m0 2v1m0 4v1m0 1v3m0 2v3m0 1v1m0 3v2m0 2v5m0 5v2m0 8v1m0 11v1m0 17v1m0 1v1m0 1v1m0 1v2m0 3v3m0 20v1m0 3v2m0 5v1m0 28v3m0 5v1m0 2v1m1-158v1m0 2v3m0 39v1m0 61v1m0 1v1m0 12v3m0 1v2m0 1v1m0 13v1m1-145v3m0 1v1m0 1v1m0 9v1m0 6v1m0 1v1m0 1v1m0 7v6m0 2v1m0 9v2m0 19v2m0 37v1m0 1v2m1-108v1m0 19v2m0 1v2m0 9v1m0 10v2m0 5v3m0 4v1m0 42v2m0 3v3m0 14v7m0 2v2m1-126v2m0 1v1m0 17v1m0 7v1m0 40v1m0 64v2m0 1v1m0 1v1m1-160v1m0 53v1m0 14v1m0 29v1m0 3v1m0 22v1m0 3v1m0 8v1m0 9v1m0 3v1m1-168v1m0 5v2m0 1v2m0 1v2m0 58v1m0 10v1m0 4v1m0 3v1m0 1v1m0 1v1m0 7v1m0 3v1m0 1v1m0 47v1m0 12v1m0 1v1m1-169v1m0 6v1m0 10v1m0 11v1m0 2v2m0 14v1m0 2v1m0 1v1m0 23v1m0 1v1m0 1v2m0 1v1m0 8v1m0 2v1m0 1v5m0 5v1m0 5v1m0 4v1m0 2v1m0 6v1m0 4v1m0 28v1m0 1v1m1-171v1m0 5v1m0 4v1m0 9v1m0 1v2m0 3v1m0 26v1m0 6v2m0 1v2m0 21v1m0 17v1m0 2v1m0 16v1m0 2v1m0 1v1m0 16v1m0 2v3m0 2v1m0 1v1m0 13v1m1-171v1m0 4v1m0 8v1m0 1v3m0 3v1m0 32v3m0 11v1m0 17v1m0 4v2m0 30v2m0 1v3m1-113v1m0 22v1m0 27v1m0 1v2m0 15v1m0 32v1m0 1v1m0 20v1m0 3v1m0 1v1m1-148v1m0 17v3m0 1v1m0 5v2m0 1v2m0 1v1m0 28v2m0 7v1m0 2v1m0 7v1m0 33v1m0 2v1m0 9v1m0 16v2m0 1v5m0 7v1m1-170v3m0 13v1m0 1v1m0 4v2m0 2v6m0 6v1m0 23v1m0 9v1m0 1v1m0 1v1m0 35v1m0 25v1m0 11v2m0 2v1m0 2v3m0 2v1m0 1v1m0 1v1m1-23v1m1-128v2m0 19v1m0 7v1m0 4v2m0 1v1m0 1v1m0 1v1m0 3v1m0 10v1m0 2v1m0 14v1m0 1v1m0 2v1m0 30v2m0 5v1m0 6v1m0 12v1m0 12v3m1-138v2m0 1v4m0 1v1m0 18v1m0 3v1m0 3v1m0 1v1m0 1v1m0 5v1m0 1v1m0 58v1m0 24v1m0 4v1m0 2v2m0 1v1m1-159v1m0 1v2m0 6v1m0 2v2m0 3v1m0 1v5m0 108v2m0 2v1m0 3v2m0 2v2m0 9v3m1-170v1m0 1v1m0 2v2m0 33v1m0 1v2m0 11v1m0 1v1m0 8v1m0 10v1m0 3v1m0 1v1m0 34v2m0 1v1m0 19v1m0 2v4m0 2v1m0 1v1m0 2v1m0 2v1m0 4v1m1-108v1m0 60v1m0 2v2m0 14v1m0 1v1m0 1v4m0 13v1m0 2v2m1-148v1m0 1v2m0 5v1m0 24v1m0 28v3m0 2v3m0 55v1m0 23v1m1-156v1m0 38v4m0 36v2m0 3v5m0 12v3m0 2v1m0 6v2m0 1v1m0 1v2m0 1v2m0 18v1m1-154v1m0 1v1m0 49v1m0 12v1m0 9v2m0 1v2m0 18v1m0 16v1m0 2v2m1-106v5m0 1v1m0 10v1m0 3v2m0 1v1m0 12v1m0 12v1m0 1v1m0 14v1m0 10v2m0 4v1m0 1v1m0 11v2m0 1v1m0 1v1m0 1v1m0 5v1m0 4v2m0 30v1m0 5v1m0 1v3m1-172v1m0 11v2m0 27v2m0 8v3m0 15v1m0 17v2m0 12v2m0 2v1m0 2v1m0 12v3m0 5v4m0 35v1m1-173v1m0 21v1m0 19v1m0 10v1m0 8v2m0 19v2m0 1v2m0 1v1m0 35v3m0 12v2m0 8v1m0 2v3m0 3v1m0 3v1m0 1v1m1-123v3m0 78v1m0 1v2m0 10v1m0 2v3m0 2v1m0 2v1m0 21v2m0 1v2m1-171v1m0 9v1m0 9v1m0 45v1m0 21v1m0 21v1m0 5v1m0 1v1m0 26v3m0 4v1m0 1v1m0 1v1m0 9v2m0 2v1m1-172v4m0 3v3m0 24v1m0 1v4m0 2v1m0 1v1m0 42v1m0 35v1m1-101v1m0 6v1m0 1v1m0 1v1m0 2v1m0 10v1m0 18v2m0 5v6m0 40v2m0 13v2m0 30v4m1-172v2m0 16v1m0 9v1m0 23v1m0 4v1m0 2v1m0 19v3m0 1v3m0 20v1m0 19v1m0 7v1m0 19v1m0 10v1m1-146v2m0 1v1m0 2v1m0 12v2m0 3v2m0 1v1m0 3v1m0 3v1m0 1v3m0 9v1m0 20v1m0 1v1m0 1v1m0 1v1m0 22v2m0 1v6m0 1v3m0 1v1m0 5v1m0 1v2m0 5v1m0 5v1m0 1v1m0 10v2m0 1v2m1-149v4m0 11v1m0 1v4m0 9v2m0 5v1m0 1v1m0 1v1m0 16v4m0 1v3m0 63v2m1-138v1m0 2v1m0 9v1m0 2v1m0 2v3m0 1v1m0 48v1m0 1v2m0 1v1m0 2v1m0 11v1m0 1v1m0 8v3m0 2v6m0 2v1m0 13v3m0 3v1m0 1v2m0 1v1m1-158v1m0 19v1m0 2v1m0 5v2m0 2v2m0 14v1m0 6v1m0 10v1m0 66v1m0 23v1m0 1v1m1-165v1m0 1v1m0 14v4m0 8v4m0 1v1m0 1v1m0 1v1m0 3v1m0 1v2m0 3v1m0 1v1m0 13v1m0 3v2m0 1v1m0 5v1m0 1v2m0 11v1m0 34v1m0 3v3m0 1v1m0 1v1m0 5v1m0 7v2m0 14v2m0 3v1m1-174v1m0 3v1m0 1v1m0 4v1m0 13v1m0 4v1m0 1v1m0 13v1m0 2v2m0 13v1m0 2v1m0 3v1m0 5v1m0 5v2m0 1v1m0 1v3m0 2v1m0 35v3m0 2v2m0 1v1m0 13v1m0 19v1m0 1v3m1-176v2m0 51v1m0 10v5m0 2v2m0 6v4m0 13v2m0 1v1m0 3v1m1-92v1m0 3v1m0 8v1m0 2v2m0 1v1m0 5v1m0 14v2m0 1v1m0 5v1m0 11v1m0 3v1m0 5v3m0 2v1m0 17v1m0 1v1m0 1v3m0 1v1m0 53v1m0 1v1m1-97v4m0 37v1m0 12v2m0 1v1m0 3v1m0 31v1m1-162v1m0 1v2m0 14v1m0 1v3m0 1v1m0 11v2m0 3v1m0 3v1m0 9v3m0 1v1m0 1v4m0 8v1m0 3v1m0 4v1m0 36v1m0 1v1m0 2v1m0 12v2m0 3v2m0 14v2m0 1v1m1-165v3m0 3v1m0 1v1m0 5v4m0 2v1m0 4v1m0 6v1m0 1v2m0 1v1m0 93v2m0 1v1m0 25v1m0 2v1m0 4v1m0 1v2m1-174v2m0 14v1m0 17v5m0 12v1m0 13v1m0 4v2m0 19v2m0 32v3m0 1v1m0 1v1m0 1v1m0 1v1m0 5v2m0 2v1m0 1v2m0 2v1m0 3v3m0 11v1m0 2v1m1-151v2m0 2v2m0 2v1m0 20v1m0 6v1m0 1v2m0 1v2m0 2v3m0 11v1m0 9v1m0 3v1m0 3v1m0 45v2m0 25v2m1-158v1m0 1v1m0 3v1m0 39v1m0 19v1m0 2v1m0 4v1m0 12v1m0 3v1m0 4v1m0 36v1m0 1v1m0 2v1m0 17v1m1-164v1m0 3v6m0 1v2m0 5v1m0 5v1m0 26v1m0 2v1m0 6v1m0 24v1m0 1v3m0 16v2m0 20v1m0 1v2m0 1v1m0 2v1m0 1v1m0 13v2m0 1v1m0 5v1m1-173v3m0 14v3m0 1v3m0 11v1m0 2v1m0 2v1m0 10v1m0 18v1m0 34v1m0 1v1m0 4v1m0 37v1m0 1v3m0 5v1m0 6v1m1-164v1m0 21v1m0 1v1m0 7v5m0 13v2m0 5v1m0 9v1m0 19v1m0 10v1m0 2v1m0 1v2m0 1v3m0 28v2m0 1v3m0 10v2m0 3v1m1-145v2m0 9v1m0 10v1m0 4v3m0 2v1m0 18v1m0 8v1m0 1v2m0 22v1m0 19v2m0 33v1m1-161v3m0 14v1m0 2v3m0 11v2m0 2v1m0 1v2m0 4v2m0 2v3m0 19v1m0 7v2m0 89v1m1-148v4m0 1v1m0 1v2m0 12v1m0 1v1m0 6v1m0 2v1m0 1v1m0 2v1m0 7v1m0 7v1m0 1v1m0 1v1m0 43v2m0 10v1m0 1v1m0 1v1m0 2v1m1-113v2m0 1v2m0 1v3m0 13v2m0 8v6m0 7v1m0 23v2m0 6v1m0 18v1m0 2v2m0 1v6m0 34v1m1-173v1m0 2v1m0 2v1m0 1v1m0 2v1m0 1v1m0 7v1m0 1v1m0 1v1m0 1v2m0 11v6m0 1v2m0 4v2m0 6v1m0 1v1m0 18v1m0 4v1m0 81v1m0 1v2m1-156v1m0 1v2m0 47v2m0 3v1m0 2v4m0 10v1m0 9v1m0 24v10m0 1v1m1-113v1m0 17v1m0 1v2m0 8v1m0 2v1m0 7v1m0 23v2m0 74v3m1-154v1m0 96v1m0 53v2m0 2v2m1-156v1m0 3v1m0 34v1m0 15v3m0 1v1m0 8v1m0 75v2m0 1v1m0 9v1m1-172v1m0 19v1m0 1v1m0 2v1m0 2v1m0 1v1m0 1v1m0 17v1m0 2v1m0 4v1m0 91v1m0 2v1m0 5v3m0 2v2m1-73v1m0 53v3m0 1v1m0 2v1m0 2v1m0 5v1m1-168v2m0 15v1m0 30v1m0 1v1m0 40v3m0 49v1m0 1v3m0 1v1m1-150v2m0 1v2m0 1v1m0 2v1m0 2v1m0 4v1m0 2v1m0 2v1m0 10v1m0 4v2m0 12v1m0 3v1m0 25v1m0 1v1m0 1v3m1-31v1m0 10v1m0 2v1m0 2v2m0 26v3m0 1v2m0 2v1m1-110v2m0 8v1m0 9v1m0 22v2m0 1v1m0 7v1m0 9v3m0 46v2m0 1v2m0 39v1m0 1v1m0 1v1m0 1v1m0 2v2m0 1v1m1-169v1m0 15v1m0 2v1m0 19v1m0 1v1m0 7v1m0 1v3m0 35v1m0 54v1m1-145v1m0 29v3m0 1v1m0 1v1m0 11v2m0 4v2m0 1v1m1-12v1m0 113v1m0 9v1m1-98v1m0 1v1m0 1v1m0 4v2m0 5v1m0 76v1m1-166v1m0 48v1m0 7v1m0 28v1m0 3v1m0 9v1m0 3v1m0 34v2m0 1v1m0 23v3m1-171v1m0 42v1m0 3v1m0 8v2m0 1v1m0 3v1m1-14v1m0 15v1m0 1v1m0 12v2m0 2v3m0 2v1m0 9v1m0 59v1m0 4v1m1-156v1m0 3v1m0 4v2m0 29v4m0 4v1m0 1v1m0 8v3m0 1v3m0 1v3m0 8v1m1-38v2m0 1v1m0 8v1m0 2v1m0 31v1m0 5v1m0 2v2m0 11v2m0 1v2m0 24v1m0 9v6m0 1v2m1-165v1m0 4v1m0 2v4m0 5v1m0 35v1m0 18v1m0 1v2m0 19v1m0 16v1m0 3v1m0 32v1m0 1v1m0 4v2m0 1v1m1-163v1m0 1v1m0 11v2m0 1v1m0 2v1m0 32v1m0 13v1m0 1v1m0 1v4m0 4v1m0 56v2m0 21v2m0 1v1m0 1v3m1-112v1m0 1v1m0 37v2m1-75v1m0 1v1m0 3v1m0 20v2m1-52v1m0 12v1m0 1v2m0 3v2m0 28v2m0 11v1m0 1v1m0 2v1m0 2v2m0 1v1m0 3v1m0 1v1m0 79v6m1-110v2m0 10v1m0 1v1m0 71v1m0 2v1m0 1v1m1-92v1m0 3v2m0 12v1m0 1v1m0 1v2m0 1v2m0 1v2m0 5v1m0 12v1m0 1v1m0 1v2m0 1v1m0 10v1m0 2v1m0 10v2m0 32v1m1-156v1m0 1v1m0 3v1m0 29v1m0 13v3m0 2v1m0 1v1m0 2v3m0 2v1m0 11v1m0 3v1m0 1v1m0 3v1m0 8v2m0 55v1m1-116v2m0 6v1m0 2v1m0 1v1m0 35v3m0 3v1m0 3v1m0 51v2m1-165v1m0 2v1m0 4v3m0 2v1m0 16v1m0 2v1m0 3v2m0 11v1m0 5v1m0 10v2m0 14v1m0 1v2m0 10v1m0 17v1m1-55v2m0 1v1m0 34v2m0 4v4m0 2v1m0 49v3m0 1v1m0 1v1m1-150v1m0 1v8m0 17v1m0 3v1m0 2v1m0 27v5m0 5v1m0 22v4m0 6v2m0 17v1m0 21v3m0 2v1m0 1v1m1-148v1m0 37v1m0 1v1m0 20v1m0 2v1m0 12v1m0 2v2m0 2v1m0 1v1m0 2v1m0 4v1m0 49v1m0 1v1m0 1v1m1-143v5m0 1v4m0 11v2m0 1v1m0 16v1m0 5v2m0 1v1m0 4v1m1-37v1m0 17v4m0 5v1m0 2v1m0 11v1m0 3v1m0 3v1m0 6v1m0 26v1m0 2v1m0 26v1m1-167v1m0 1v1m0 14v1m0 15v2m0 3v1m0 1v1m0 5v2m0 2v1m0 4v1m0 10v1m0 22v1m0 74v1m1-164v1m0 6v1m0 1v1m0 1v1m0 8v1m0 3v2m0 2v4m0 14v3m0 1v1m0 19v1m0 2v8m1-79v1m0 2v1m0 6v2m0 18v1m0 6v1m0 14v3m0 12v1m0 1v2m0 2v2m0 5v2m0 2v2m0 1v3m0 71v3m1-159v1m0 3v1m0 1v1m0 31v2m0 6v1m0 4v1m0 19v1m0 35v1m0 3v3m0 3v1m0 1v1m1-119v1m0 14v1m0 2v4m0 1v1m0 1v1m0 1v1m0 15v2m0 5v1m0 7v3m0 13v5m0 4v1m0 72v1m1-162v1m0 15v1m0 46v1m0 1v2m0 1v1m0 7v1m0 1v1m0 8v2m0 75v1m0 1v1m1-105v1m0 1v1m0 4v1m0 1v1m0 2v6m0 3v1m0 2v1m0 1v1m0 10v1m0 66v1m0 2v1m1-73v2m0 3v1m0 49v1m0 1v1m0 2v2m0 6v1m1-117v2m0 11v1m0 1v2m0 2v1m0 7v1m0 1v1m0 1v1m0 1v1m0 2v1m0 74v1m0 1v3m0 1v1m1-165v7m0 2v2m0 1v1m0 1v1m0 40v5m0 2v1m0 10v1m0 11v2m0 2v1m0 1v1m0 20v1m0 3v1m0 1v1m0 4v1m0 11v2m0 1v1m0 1v1m0 1v2m0 19v1m1-116v1m0 5v1m0 3v1m0 3v2m0 7v2m0 3v1m0 15v1m0 5v2m0 1v1m0 4v3m0 39v1m1-155v3m0 6v1m0 15v2m0 1v4m0 65v2m0 17v1m0 2v3m0 26v1m0 19v1m0 1v1m0 4v1m1-172v2m0 7v1m0 22v1m0 9v1m0 1v1m0 1v1m0 3v4m1-24v1m0 1v1m0 1v2m0 1v1m0 49v1m0 50v1m0 3v1m1-143v1m0 46v1m0 9v1m0 30v1m0 9v1m0 12v1m0 12v1m0 1v1m0 2v3m0 3v2m0 1v2m0 3v1m0 1v1m0 10v1m1-152v2m0 3v1m0 42v1m0 11v2m0 24v2m0 3v1m0 3v1m0 4v1m0 2v2m0 48v2m0 2v1m1-164v3m0 52v2m0 2v1m0 2v1m0 28v1m0 2v2m0 2v1m0 2v1m0 3v1m0 1v1m0 1v2m0 27v2m0 7v3m0 1v1m0 3v1m0 1v1m1-159v1m0 39v1m0 8v1m0 3v1m0 25v2m0 14v1m0 2v1m0 16v2m0 4v2m0 17v1m0 2v1m0 1v3m0 12v1m0 4v3m1-144v2m0 34v1m0 1v2m0 4v2m0 3v2m0 2v1m0 1v2m0 33v1m0 2v1m0 3v1m0 1v1m0 15v1m0 1v3m0 4v1m0 3v1m0 2v1m0 2v2m0 2v1m0 3v1m1-165v2m0 56v2m0 29v2m0 5v1m0 3v4m0 2v2m0 4v3m0 2v1m0 18v1m1-126v1m0 17v2m0 3v4m0 10v1m0 18v1m0 4v1m0 1v2m0 1v2m0 18v1m0 26v1m0 1v3m0 1v2m0 4v1m0 22v2m0 1v2m0 2v1m0 2v1m0 1v1m1-157v1m0 4v1m0 3v1m0 1v1m0 1v1m0 17v1m0 27v1m0 28v1m0 1v1m0 1v2m0 1v1m0 9v1m0 42v1m1-165v2m0 19v1m0 18v1m0 13v1m0 14v1m0 1v1m0 3v1m0 4v1m0 6v1m0 15v1m0 1v4m0 1v2m0 36v1m0 1v2m0 1v6m0 7v1m0 1v5m1-128v1m0 6v3m0 1v1m0 1v1m0 4v1m0 11v1m0 3v1m0 9v1m0 25v1m0 4v1m0 3v1m0 1v1m0 3v1m0 2v1m0 1v1m0 15v1m1-149v1m0 2v1m0 36v3m0 5v1m0 12v1m0 4v2m0 4v1m0 1v1m0 12v1m0 13v1m0 33v1m0 2v1m0 1v1m0 2v1m0 1v1m0 2v1m0 2v1m0 1v1m0 1v1m0 8v1m1-158v1m0 28v1m0 34v1m0 24v2m1-86v2m0 1v2m0 3v2m0 1v3m0 14v1m0 2v2m0 1v1m0 11v1m0 2v3m0 9v3m0 10v1m0 37v1m0 35v1m1-156v1m0 31v1m0 17v1m0 1v1m0 11v1m0 2v1m0 38v2m0 25v1m0 5v1m0 1v1m0 2v5m0 15v1m1-176v1m0 53v1m0 2v1m0 3v1m0 1v1m0 8v5m0 2v1m0 2v1m0 15v3m0 3v2m0 1v3m0 1v2m0 7v2m1-105v3m0 2v1m0 1v1m0 1v6m0 32v4m0 2v3m0 1v1m0 4v1m0 6v1m0 6v1m0 2v1m0 4v2m0 2v1m0 1v1m0 1v1m0 1v2m0 1v1m0 26v1m0 8v4m0 2v3m0 1v1m0 2v1m0 3v1m1-90v1m0 3v1m1-76v1m0 2v1m0 3v1m0 3v1m0 27v1m0 1v1m0 2v1m0 1v1m0 8v1m0 1v1m0 2v1m0 15v1m0 1v2m0 2v1m0 4v1m0 3v1m0 8v1m0 6v1m0 36v2m0 3v2m0 1v1m0 1v1m0 2v1m0 4v1m1-151v1m0 44v1m0 1v1m0 1v2m0 92v2m0 2v1m1-167v2m0 29v1m0 16v1m0 1v3m0 3v1m0 5v4m0 2v1m0 4v1m0 4v1m0 3v1m0 2v1m0 5v1m0 2v1m0 1v2m0 1v2m0 3v2m0 3v2m0 6v1m0 2v1m0 6v2m0 2v1m0 1v1m0 1v1m0 3v2m0 22v1m0 1v1m0 9v1m1-172v1m0 11v1m0 25v1m0 1v1m0 17v1m0 4v1m0 4v1m0 1v1m0 2v1m0 5v1m0 1v2m0 2v1m0 39v2m0 2v1m0 2v1m1-134v1m0 64v1m0 46v1m0 2v1m0 1v1m0 3v2m0 9v1m0 1v1m0 1v1m0 14v1m0 6v3m0 2v1m1-160v1m0 4v1m0 11v1m0 2v2m0 2v1m0 14v1m0 1v1m0 1v2m0 13v3m0 3v1m0 1v2m0 2v1m0 19v2m0 3v1m0 13v2m0 1v2m0 1v1m0 29v2m0 2v1m0 2v1m0 1v3m0 3v1m1-168v1m0 1v1m0 4v2m0 2v1m0 1v1m0 6v3m0 19v1m0 1v1m0 16v1m0 8v1m0 3v4m0 14v1m0 35v3m0 1v1m0 2v2m0 1v2m1-124v1m0 7v1m0 4v2m0 24v1m0 2v2m0 5v1m0 4v5m0 1v3m0 2v2m0 2v1m0 1v1m0 2v2m0 12v2m0 25v1m0 1v1m0 5v2m0 14v1m0 13v1m1-170v1m0 1v2m0 6v1m0 3v1m0 13v1m0 13v2m0 1v1m0 12v3m0 3v2m0 25v1m0 5v1m0 7v1m0 4v2m0 1v1m0 38v1m0 4v2m0 2v1m0 2v2m0 1v1m1-161v1m0 1v1m0 3v1m0 3v1m0 4v5m0 1v1m0 1v1m0 33v1m0 1v1m0 23v1m0 4v1m0 2v2m0 4v1m0 6v1m0 1v1m0 14v2m0 2v1m0 4v1m0 10v1m0 2v2m0 1v1m0 2v5m1-161v2m0 50v1m0 3v1m0 1v1m0 13v1m0 5v2m0 1v1m0 9v1m0 2v2m0 1v1m0 1v1m0 17v1m0 51v1m1-168v1m0 1v1m0 40v1m0 3v1m0 11v1m0 8v2m0 1v2m0 1v2m0 1v2m0 4v2m0 1v1m0 3v1m0 13v2m0 14v1m0 2v2m0 2v2m0 2v2m0 10v1m0 3v1m0 3v1m0 2v1m1-158v1m0 1v1m0 1v2m0 4v1m0 1v2m0 2v1m0 26v3m0 7v2m0 8v1m0 28v1m0 1v1m0 5v1m0 1v1m0 26v2m0 5v2m0 5v1m0 1v2m0 1v1m0 13v4m0 1v1m0 5v2m1-158v7m0 22v1m0 1v4m0 2v1m0 4v1m0 5v1m0 1v1m0 1v1m0 15v3m0 2v1m0 3v3m0 1v1m0 17v1m0 1v1m0 20v1m0 2v1m1-141v1m0 2v1m0 9v1m0 10v1m0 2v1m0 4v2m0 1v1m0 1v3m0 6v1m0 1v2m0 19v1m0 2v2m0 2v3m0 69v1m0 7v1m0 1v3m0 2v1m0 1v1m1-168v1m0 1v1m0 3v2m0 1v3m0 2v1m0 2v1m0 2v1m0 2v1m0 30v1m0 1v3m0 1v1m0 9v1m0 1v1m0 7v3m0 14v1m0 2v4m0 36v1m0 9v1m0 2v2m0 2v1m0 2v2m1-161v1m0 2v1m0 2v2m0 1v1m0 1v1m0 11v2m0 1v2m0 3v1m0 13v2m0 10v1m0 64v6m0 12v3m0 1v2m0 2v1m0 16v1m1-166v1m0 5v1m0 1v1m0 1v4m0 32v2m0 1v1m0 64v1m0 34v2m0 2v1m0 1v2m1-143v1m0 20v1m0 17v1m0 1v2m0 1v2m0 12v1m0 19v1m0 80v1m1-96v1m0 15v1m0 2v3m1-95v2m0 44v1m0 1v1m0 15v1m0 1v1m0 2v3m0 1v1m0 2v1m0 14v1m0 25v2m0 1v1m0 14v1m0 1v2m0 2v3m0 22v2m1-174v1m0 11v1m0 1v3m0 3v1m0 1v2m0 9v1m0 1v1m0 2v4m0 1v3m0 1v1m0 24v1m0 21v2m0 2v5m0 14v1m0 10v2m0 4v1m0 1v1m0 13v3m0 2v3m0 10v1m0 1v1m1-168v1m0 1v1m0 6v1m0 1v1m0 2v1m0 1v2m0 1v1m0 1v4m0 2v3m0 19v1m0 9v2m0 1v1m0 2v4m0 2v1m0 2v1m0 3v2m0 9v1m0 31v1m0 2v1m0 14v1m0 1v1m0 5v1m0 1v1m0 2v1m0 1v5m0 8v2m1-155v2m0 3v1m0 1v1m0 3v1m0 33v2m0 13v1m0 16v1m0 2v2m0 30v1m0 5v2m0 2v2m0 2v1m0 5v1m0 12v1m1-161v1m0 33v1m0 17v1m0 4v2m0 4v1m0 3v1m0 1v1m0 3v5m0 1v1m0 6v1m0 15v1m0 1v9m0 15v1m0 8v2m0 31v4m1-173v1m0 3v3m0 1v1m0 1v2m0 10v1m0 4v1m0 26v4m0 6v1m0 3v1m0 12v3m0 3v2m0 2v3m0 1v1m0 1v1m0 21v1m0 7v1m0 3v1m0 2v1m0 14v1m0 8v1m0 6v3m1-154v1m0 2v2m0 33v1m1-50v1m0 5v5m0 3v1m0 1v3m0 1v2m0 1v2m0 1v1m0 9v1m0 1v1m0 5v1m0 11v1m0 5v1m0 9v2m0 1v1m0 8v1m0 4v1m0 5v1m0 1v1m0 20v2m0 28v1m0 2v1m0 8v1m0 3v1m0 1v2m1-173v1m0 3v1m0 10v1m0 15v2m0 2v1m0 5v1m0 4v1m0 1v1m0 23v1m0 1v1m0 3v2m0 10v2m0 4v6m0 8v1m0 27v1m0 2v3m0 3v2m1-147v2m0 42v1m0 3v1m0 2v1m0 3v1m0 1v2m0 29v1m0 2v1m0 1v1m0 1v2m0 1v2m0 8v1m0 30v1m0 1v2m0 1v2m0 1v2m0 2v2m0 1v1m0 3v1m1-162v2m0 15v1m0 4v1m0 25v1m0 1v1m0 7v1m0 5v1m0 1v1m0 1v1m0 35v2m0 1v1m0 4v1m0 1v1m0 5v1m1-121v1m0 7v1m0 9v3m0 30v1m0 32v2m0 15v2m0 2v2m0 7v1m0 36v1m0 1v1m0 2v4m0 1v1m0 3v3m1-132v1m0 2v1m0 53v1m0 3v1m0 6v1m0 2v8m0 9v1m0 1v1m0 7v1m0 2v1m0 14v1m0 3v1m0 2v2m0 5v1m1-147v1m0 1v2m0 8v1m0 1v2m0 1v1m0 1v1m0 123v2m1-160v1m0 9v2m0 25v1m0 10v1m0 1v1m0 3v1m0 17v1m0 6v2m0 29v3m0 2v1m0 1v1m0 18v9m0 23v1m0 1v1m1-173v1m0 58v1m0 20v1m0 2v4m0 12v1m0 26v4m0 2v1m0 3v1m0 28v3m0 4v1m1-176v3m0 10v1m0 1v1m0 9v1m0 3v2m0 1v3m0 2v3m0 1v1m0 24v2m0 18v1m0 15v1m0 20v1m0 1v3m0 24v1m0 4v1"/><path stroke="#ec5133" stroke-width="1" d="M0 9v2m0 2v1m0 7v1m0 4v1m0 2v1m0 3v2m0 1v5m0 23v2m0 33v2m0 2v1m0 27v1m0 2v1m0 7v1m0 2v1m0 3v1m0 5v3m0 2v1m0 4v2m1-165v1m0 2v1m0 4v1m0 1v1m0 8v1m0 1v6m0 5v1m0 3v1m0 1v2m0 1v1m0 5v1m0 9v2m0 9v2m0 6v4m0 17v2m0 4v2m0 1v2m0 2v1m0 1v1m0 2v1m0 6v2m0 1v1m0 20v1m1-111v1m0 3v1m0 17v1m0 5v1m0 2v1m0 34v1m0 2v1m0 3v1m0 32v1m0 1v4m1-133v1m0 1v3m0 10v1m0 23v1m0 35v1m0 14v3m0 1v1m0 1v1m0 14v1m0 24v1m0 17v1m0 2v2m1-170v1m0 11v1m0 1v1m0 1v1m0 78v3m0 11v1m0 11v1m0 35v1m0 4v1m0 3v1m0 1v1m1-175v1m0 7v1m0 26v6m0 15v1m0 1v2m0 12v1m0 2v1m0 1v2m0 3v1m0 2v1m0 34v1m0 9v1m0 1v1m0 2v1m0 4v1m0 3v1m0 5v2m0 2v1m1-148v1m0 26v1m0 3v1m0 18v3m0 2v2m0 36v1m0 3v2m0 1v4m0 6v2m0 6v2m0 2v1m0 2v3m0 1v4m0 15v1m0 2v1m0 1v1m1-155v1m0 11v1m0 15v1m0 1v1m0 3v2m0 3v1m0 9v1m0 13v1m0 9v1m0 1v1m0 7v1m0 10v1m0 27v1m0 4v3m0 3v1m0 11v2m1-146v2m0 34v1m0 12v1m0 4v4m0 6v2m0 1v2m0 1v3m0 6v2m0 18v1m0 10v3m0 1v1m0 1v1m0 5v3m0 3v1m0 1v1m0 1v2m0 13v1m1-154v1m0 1v1m0 1v1m0 15v1m0 34v1m0 64v2m0 3v1m0 15v1m1-137v1m0 1v1m0 8v1m0 27v1m0 36v1m0 16v1m0 1v2m0 4v1m0 24v1m0 2v1m0 3v3m0 1v1m0 3v3m0 5v4m0 3v2m0 1v1m1-159v1m0 54v2m0 19v1m0 2v1m0 17v1m0 2v3m0 2v3m0 49v1m1-64v3m0 31v1m1-40v2m0 4v1m0 38v1m0 4v3m0 6v1m0 2v1m0 1v1m1-62v1m0 6v2m0 1v1m0 1v1m0 1v1m0 1v2m0 2v1m0 1v1m0 2v1m0 31v1m0 1v1m0 1v2m0 7v1m1-71v1m0 28v1m0 12v1m0 7v1m1-51v2m0 1v2m0 6v1m0 6v1m0 2v1m0 1v1m0 6v2m0 1v1m0 1v4m0 1v1m0 10v1m0 19v2m0 1v1m0 1v1m1-88v1m0 1v1m0 38v2m0 3v1m0 4v1m0 2v2m0 6v1m0 2v2m1-107v1m0 39v3m0 2v1m0 1v1m0 19v1m0 2v1m0 1v1m0 1v1m0 2v4m0 2v2m0 1v2m0 1v1m0 2v4m0 1v3m0 25v1m1-75v2m0 1v1m0 2v2m0 2v1m0 3v2m0 5v2m0 1v2m0 2v1m1-28v1m0 43v1m0 3v3m0 2v1m0 14v1m1-69v1m0 3v1m0 1v2m0 9v2m0 1v2m0 1v1m0 3v1m0 15v2m0 1v2m0 1v1m0 4v1m1-122v2m0 2v1m0 1v2m0 109v2m0 2v1m1-52v1m0 25v2m0 39v1m1-107v2m0 3v1m0 30v1m0 15v1m0 24v1m0 20v4m0 6v1m0 1v1m1-160v1m0 75v4m0 2v1m0 14v1m0 1v1m0 20v1m0 5v2m0 1v2m0 1v1m0 8v1m0 1v1m0 1v1m0 3v1m0 6v1m1-108v1m0 32v1m0 7v7m0 1v2m0 34v1m0 1v1m0 1v1m0 8v1m1-48v2m0 1v2m0 1v2m0 7v1m0 6v4m0 28v3m1-57v4m0 1v2m0 2v1m0 1v1m0 5v1m0 2v1m0 4v1m0 24v1m0 1v2m1-124v1m0 24v1m0 1v1m0 1v1m0 6v1m0 1v1m0 3v1m0 87v1m1-144v1m0 28v1m0 15v1m0 1v1m0 2v1m0 5v1m0 10v2m0 55v1m0 5v3m1-101v1m0 1v2m0 1v1m0 23v1m0 4v2m0 4v1m0 2v1m0 1v4m0 28v2m0 3v4m1-94v1m0 1v1m0 13v3m0 16v8m0 44v1m0 13v1m0 2v2m1-100v1m0 31v1m0 6v1m0 1v1m0 25v1m0 2v1m0 7v1m0 1v1m0 12v1m0 15v1m0 1v3m1-144v1m0 25v2m0 7v1m0 2v1m0 33v1m0 1v1m0 2v1m0 3v1m0 4v1m0 4v1m0 4v1m0 3v1m0 2v2m0 2v1m1-107v2m0 1v6m0 12v2m0 7v5m0 1v1m0 8v1m0 11v1m0 24v1m0 51v1m0 2v1m1-129v4m0 6v1m0 12v3m0 1v1m0 4v1m0 1v1m0 8v1m0 14v1m0 31v1m0 1v1m0 27v1m0 1v1m0 3v3m1-136v1m0 2v2m0 1v1m0 28v1m0 4v1m0 17v1m0 34v2m0 1v1m0 1v1m0 1v2m0 2v1m0 11v1m0 1v1m0 19v1m1-117v1m0 4v1m0 2v1m0 9v1m0 79v1m0 1v2m0 13v1m0 2v1m1-127v1m0 13v1m0 19v2m0 2v1m0 3v2m0 53v1m0 22v2m1-135v1m0 1v1m0 1v2m0 22v2m0 22v3m0 43v1m0 2v2m0 1v2m0 1v3m0 2v2m1-115v1m0 20v1m0 12v1m0 6v1m0 1v2m0 4v4m0 3v1m0 7v2m0 30v1m1-78v1m0 33v2m0 4v1m0 1v1m0 68v1m0 2v3m1-106v1m0 1v2m0 1v3m0 7v1m0 7v2m0 9v2m0 5v1m0 5v1m0 17v1m0 4v1m0 5v2m0 1v1m0 1v3m0 2v2m0 11v1m0 2v1m1-134v2m0 9v1m0 11v2m0 1v1m0 1v1m0 10v2m0 2v1m0 21v2m1-12v1m0 65v3m0 13v1m0 1v1m0 1v1m1-83v1m0 6v5m0 1v1m0 3v1m0 38v1m1-120v2m0 58v1m0 16v1m0 7v1m0 1v1m0 1v1m0 2v1m0 1v1m0 1v1m0 34v1m0 7v1m0 1v3m2-103v2m0 1v1m0 1v1m0 1v1m0 2v2m0 24v2m0 12v1m0 4v1m0 10v1m0 13v1m0 1v1m1-3v1m2-135v1m0 2v3m0 1v1m0 1v2m0 1v1m0 2v1m0 9v1m0 22v1m0 19v1m0 19v1m0 16v1m0 1v3m1-93v1m0 1v1m0 1v2m0 1v1m0 19v3m0 28v1m0 12v4m0 2v1m0 1v2m0 35v1m0 2v5m0 1v1m1-143v1m0 2v1m0 25v2m0 2v1m0 5v1m0 2v2m0 8v1m0 14v1m0 18v1m0 1v1m0 2v1m0 4v1m0 14v4m0 3v1m0 2v3m0 2v1m0 1v1m0 1v3m0 13v1m0 4v4m1-148v6m0 4v3m0 2v1m0 5v1m0 10v1m0 1v1m0 3v2m0 9v1m0 1v1m0 3v2m0 2v1m0 3v1m0 14v2m0 26v3m0 4v1m0 2v1m0 1v3m0 1v3m0 13v1m0 1v2m0 1v1m0 4v1m0 2v1m1-158v2m0 1v3m0 1v1m0 1v1m0 3v1m0 10v1m0 1v1m0 13v2m0 23v1m0 7v1m0 9v3m0 2v1m0 2v2m0 1v1m0 3v1m0 5v1m0 18v1m0 1v2m0 3v2m0 2v1m0 4v2m0 1v3m0 4v2m0 1v1m1-147v1m0 3v1m0 3v1m0 30v1m0 37v3m0 39v2m0 3v2m0 12v1m0 3v1m1-157v1m0 1v2m0 11v1m0 16v1m0 1v1m0 12v4m0 4v1m0 11v1m0 3v1m0 3v1m0 1v1m0 28v1m0 5v1m0 28v11m0 1v1m0 7v2m0 1v2m1-132v1m0 29v1m0 5v1m0 4v1m0 1v2m0 14v1m0 25v1m0 1v1m0 3v1m0 1v3m0 5v1m0 26v1m0 1v2m1-143v1m0 28v2m0 21v1m0 1v1m0 3v1m0 14v3m0 6v2m0 8v1m0 31v3m0 12v2m1-154v1m0 30v1m0 11v2m0 10v1m0 10v1m0 16v1m0 1v1m0 1v3m0 1v1m0 1v1m0 28v1m0 1v6m0 12v1m0 1v2m0 1v1m1-153v3m0 2v3m0 3v1m0 1v1m0 30v1m0 10v3m0 4v1m0 2v1m0 14v1m0 9v1m0 1v2m0 1v3m0 2v2m0 2v1m0 1v1m0 1v1m0 1v1m0 42v3m1-163v1m0 9v1m0 2v1m0 2v2m0 3v1m0 1v2m0 2v1m0 1v1m0 3v1m0 16v1m0 1v1m0 9v2m0 7v1m0 19v2m0 17v1m0 1v1m0 1v2m0 2v1m0 43v1m1-66v10m0 2v1m0 5v2m0 1v1m1-109v1m0 1v1m0 11v1m0 20v1m0 16v1m0 3v1m0 1v1m0 1v1m0 1v2m0 5v1m0 3v2m0 6v1m0 28v1m0 2v1m0 1v1m0 1v1m0 5v1m0 4v1m1-137v4m0 19v1m0 1v1m0 3v2m0 22v1m0 7v1m0 12v1m0 2v1m0 5v3m0 8v1m0 1v1m0 2v3m0 3v1m0 3v1m0 3v2m0 1v1m0 4v1m0 2v2m0 6v1m0 1v1m0 1v2m0 1v1m0 24v1m1-160v1m0 39v1m0 44v1m0 29v2m0 1v1m0 2v2m0 2v1m0 7v2m1-147v2m0 22v1m0 2v1m0 30v3m0 6v1m0 3v1m0 3v1m0 1v3m0 2v2m0 28v1m0 2v1m0 1v2m0 2v1m0 1v2m0 16v1m0 3v1m1-116v1m0 1v1m0 1v2m0 1v1m0 2v1m0 12v1m0 1v1m0 1v1m0 9v1m0 2v1m0 2v1m0 2v1m0 8v1m0 13v1m0 42v1m0 3v1m0 12v1m0 1v1m0 5v1m1-137v1m0 4v1m0 1v1m0 1v1m0 1v1m0 60v2m0 1v5m1-93v1m0 30v2m0 3v2m0 1v1m0 1v1m0 8v1m0 2v2m0 3v1m0 19v1m0 3v1m0 61v1m0 4v1m1-154v1m0 1v1m0 4v2m0 31v1m0 13v1m0 1v1m0 1v2m0 2v3m0 1v1m0 3v1m0 32v1m0 44v1m0 1v1m0 1v2m1-157v2m0 1v5m0 1v1m0 18v4m0 34v2m0 69v1m0 1v1m1-129v1m0 20v3m0 2v1m0 36v1m0 15v4m0 4v1m0 3v2m0 2v1m0 3v3m0 1v1m0 1v1m0 1v1m0 1v1m0 4v2m0 9v1m0 6v3m1-146v2m0 1v1m0 26v2m0 55v4m0 2v2m0 1v5m1-96v1m0 2v2m0 34v4m0 4v1m0 1v1m0 33v2m0 34v2m0 19v1m0 2v1m1-108v1m0 5v4m0 37v1m0 13v1m0 1v2m0 3v3m0 1v1m0 22v4m0 2v1m0 1v3m1-112v1m0 2v1m0 1v1m0 7v1m0 13v1m0 3v1m0 27v1m0 1v2m0 2v1m0 27v5m0 1v2m0 12v1m1-138v1m0 7v1m0 2v1m0 24v2m0 51v1m0 2v1m0 11v2m0 8v1m0 28v1m1-136v1m0 2v1m0 3v1m0 1v1m0 1v1m0 53v1m0 17v1m0 1v1m0 2v1m0 1v1m0 1v3m1-83v1m0 11v1m0 29v1m0 67v1m0 1v1m0 6v2m0 5v1m1-83v2m0 8v1m0 9v1m0 39v1m0 2v1m0 3v1m0 3v1m0 7v2m1-131v1m0 1v1m0 12v2m0 7v2m0 39v1m0 9v1m0 19v1m0 3v1m0 11v3m0 1v1m0 16v5m1-161v1m0 1v2m0 2v1m0 2v4m0 1v1m0 1v1m0 110v1m0 11v1m0 13v2m1-99v1m0 2v2m0 4v1m0 1v1m0 25v5m0 2v1m0 12v1m0 1v1m0 4v1m0 5v2m0 2v1m0 1v3m0 7v1m0 2v1m0 9v2m1-158v1m0 50v1m0 3v1m0 6v1m0 8v1m0 29v1m0 1v1m0 3v2m0 1v1m0 1v8m0 2v2m0 1v1m0 13v1m0 2v2m0 3v1m0 1v1m0 1v5m1-155v1m0 2v1m0 4v1m0 3v3m0 28v2m0 4v1m0 2v4m0 5v2m0 1v2m0 3v1m0 19v1m0 2v3m0 3v1m0 6v1m0 2v1m0 42v1m0 1v2m0 5v1m1-162v1m0 16v1m0 1v1m0 3v5m0 31v1m0 2v1m0 1v1m0 2v1m0 32v2m0 10v1m0 14v2m0 1v4m0 4v2m0 11v1m0 1v1m1-160v1m0 2v1m0 47v1m0 4v2m0 5v1m0 2v1m0 1v1m0 1v4m0 3v1m0 28v1m0 27v1m0 3v3m0 6v1m0 3v1m0 1v2m0 2v3m1-166v1m0 11v1m0 1v2m0 2v1m0 1v1m0 29v1m0 21v1m0 19v1m0 34v2m0 1v1m0 1v3m0 2v2m0 15v1m0 2v1m0 1v2m0 1v1m0 3v4m1-154v1m0 1v4m0 1v2m0 4v2m0 1v5m0 1v1m0 28v1m0 40v1m0 3v1m0 40v3m0 1v1m0 1v1m0 1v1m1-146v1m0 1v1m0 1v2m0 11v2m0 18v1m0 11v1m0 1v1m0 14v1m0 1v1m0 14v1m0 28v10m0 1v1m0 13v1m0 1v1m0 1v1m0 11v2m0 2v1m1-159v3m0 1v3m0 20v2m0 10v2m0 1v1m0 69v4m0 2v1m0 1v3m0 1v1m0 1v2m0 1v1m0 1v1m0 1v1m0 3v1m1-138v4m0 13v1m0 3v2m0 1v1m0 20v1m0 6v1m0 29v2m0 3v2m0 4v1m0 30v3m0 5v1m0 5v10m0 2v1m1-116v2m0 2v1m0 4v1m0 38v1m0 1v1m0 9v1m0 30v1m0 2v1m0 1v1m1-87v3m0 1v1m0 7v1m0 6v1m0 32v1m0 32v2m0 6v1m0 2v2m0 7v4m1-150v1m0 20v1m0 2v1m0 41v1m0 28v3m0 1v3m0 1v1m0 1v2m0 2v4m0 1v2m0 2v1m0 10v2m0 1v2m1-94v1m0 5v1m0 20v3m0 2v4m0 1v1m0 3v1m0 35v1m0 1v1m0 7v1m0 7v1m0 3v1m0 1v3m0 1v2m0 2v4m0 1v1m1-162v1m0 6v1m0 49v1m0 1v3m0 4v1m0 10v4m0 3v3m0 4v1m0 2v7m0 13v2m0 2v1m0 3v1m0 2v1m0 12v1m0 7v1m0 12v1m1-173v4m0 3v1m0 1v2m0 1v4m0 26v3m0 2v1m0 2v1m0 2v1m0 2v1m0 61v2m0 3v2m0 1v1m0 41v2m0 3v2m1-173v1m0 31v1m0 1v3m0 135v1m1-142v1m0 3v2m0 61v3m0 11v1m0 1v1m0 2v2m0 3v1m0 1v1m0 22v1m0 1v1m0 1v2m0 2v3m0 8v1m1-169v1m0 115v1m0 2v1m1-100v1m0 2v2m0 1v3m0 2v1m0 26v1m0 13v1m0 11v3m0 2v2m0 24v1m0 2v5m0 1v1m0 29v1m0 13v2m1-162v2m0 5v1m0 30v1m0 3v1m0 9v8m0 1v1m0 2v1m0 4v2m0 36v1m0 3v1m0 1v2m0 1v1m0 5v1m0 11v1m0 4v1m0 15v1m0 7v4m1-166v1m0 1v2m0 19v1m0 1v3m0 1v2m0 61v2m1-83v1m0 46v1m0 46v1m0 4v1m0 3v2m1-124v3m0 28v1m0 1v1m0 25v1m0 30v1m0 23v1m0 1v1m0 2v1m0 1v1m0 1v1m0 17v1m0 1v3m0 2v1m0 1v3m0 8v1m0 11v1m1-176v1m0 51v2m0 11v1m0 3v1m0 43v1m0 16v1m0 2v1m0 2v2m0 1v2m0 32v1m1-162v1m0 1v1m0 2v1m0 7v1m0 2v1m0 26v2m0 31v2m0 11v1m0 1v1m0 3v1m0 1v1m0 19v1m0 4v2m0 1v1m1-130v1m0 5v1m0 2v2m0 2v1m0 64v1m0 64v1m0 1v2m1-153v1m0 6v1m0 1v2m0 2v2m0 73v3m0 36v1m0 8v5m0 2v1m0 2v1m1-132v1m0 3v1m0 33v1m0 9v1m0 2v1m0 1v1m0 2v2m0 3v2m0 1v1m0 5v1m0 6v5m0 3v1m0 4v1m0 1v1m0 2v1m0 28v3m0 1v5m0 8v1m0 15v1m1-169v1m0 1v2m0 34v1m0 9v1m0 1v1m0 1v3m0 43v5m0 4v2m0 4v2m0 3v1m0 1v1m0 9v1m0 31v1m0 1v1m1-171v1m0 17v2m0 1v2m0 2v1m0 3v1m0 4v2m0 3v1m0 1v1m0 10v2m0 1v4m0 1v1m0 9v2m0 1v1m0 7v1m0 11v1m0 1v4m0 4v2m0 24v1m0 8v1m0 1v1m0 9v2m0 4v1m0 2v1m0 2v1m0 5v1m0 2v3m1-150v1m0 2v1m0 2v1m0 1v1m0 9v4m0 38v1m0 1v1m0 28v1m0 12v4m0 1v3m0 1v1m0 1v2m1-117v3m0 3v2m0 1v4m0 1v4m0 1v2m0 2v5m0 1v1m0 1v1m0 8v1m0 1v3m0 3v3m0 1v5m0 1v1m0 26v1m0 7v2m0 1v1m0 1v1m0 4v1m0 11v2m1-82v1m0 89v1m1-147v2m0 1v3m0 1v3m0 57v1m0 1v1m0 5v1m0 1v1m0 91v1m0 1v2m1-162v3m0 9v2m0 1v4m0 10v1m0 3v1m0 8v1m0 3v1m0 7v9m0 1v4m0 9v1m0 7v1m0 15v6m0 1v1m0 19v1m0 1v6m0 12v5m1-161v3m0 34v2m0 12v1m0 1v2m0 10v1m0 2v2m0 4v2m0 22v1m0 1v1m1-101v2m0 1v2m0 2v1m0 38v2m0 9v1m0 12v2m0 1v1m0 1v2m0 11v1m0 1v1m0 5v1m0 30v1m0 2v1m0 13v1m1-151v1m0 6v1m0 1v5m0 3v2m0 3v2m0 32v1m0 1v2m0 5v1m0 3v2m0 4v1m0 7v2m0 2v1m0 21v2m0 3v1m0 26v2m0 2v1m0 1v2m0 1v1m0 1v1m0 10v1m0 2v2m1-152v1m0 2v1m0 5v6m0 1v1m0 1v1m0 3v3m0 11v1m0 4v3m0 42v2m0 2v7m0 1v1m0 14v2m0 1v1m0 1v4m0 4v1m0 2v2m0 2v1m0 1v2m0 3v1m0 15v2m1-173v2m0 13v1m0 4v2m0 14v1m0 5v2m0 7v1m0 3v3m0 1v1m0 13v5m0 22v1m0 1v1m0 32v1m0 14v2m0 3v1m0 2v1m0 1v1m0 9v1m0 2v1m1-150v1m0 16v1m0 1v1m0 1v4m0 6v4m0 2v1m0 1v3m0 4v4m0 4v2m0 12v1m0 2v3m0 2v3m0 26v1m0 1v1m0 2v2m0 1v1m0 1v1m0 1v1m1-143v1m0 1v1m0 11v1m0 41v5m0 5v1m0 1v1m0 14v1m0 2v2m0 11v1m0 43v1m0 7v1m1-151v1m0 22v6m0 1v2m0 2v1m0 34v2m0 1v1m0 3v1m0 2v2m1-79v2m0 2v1m0 4v1m0 20v6m0 5v1m0 1v2m0 17v1m1-62v1m0 1v1m0 17v1m0 1v1m0 1v1m0 1v3m0 8v1m0 38v1m0 4v1m0 29v2m0 1v1m0 2v2m0 32v1m0 1v2m0 2v1m0 7v1m1-164v1m0 27v1m0 2v2m0 22v3m0 19v2m0 86v3m0 1v1m1-133v1m0 4v1m0 12v1m0 101v1m0 2v1m1-163v1m0 14v1m0 14v7m0 4v2m0 2v2m0 1v1m0 1v2m0 11v1m0 26v1m0 2v1m0 66v1m0 10v1m1-175v1m0 51v1m0 10v1m0 1v4m0 21v1m0 7v2m0 10v1m0 1v1m0 56v1m1-138v1m0 1v1m0 2v1m0 2v1m0 1v2m0 8v1m0 3v1m0 2v1m0 22v1m0 2v1m0 84v3m1-167v1m0 1v1m0 1v2m0 15v2m0 45v1m0 6v2m0 2v1m0 84v1m0 1v1m0 1v1m1-159v1m0 4v1m0 20v3m0 29v1m0 5v1m0 21v1m0 55v4m0 1v1m0 4v1m1-151v1m0 14v1m0 5v2m0 3v1m0 11v3m0 2v2m0 25v1m0 12v2m0 60v2m1-151v1m0 11v2m0 1v1m0 4v3m0 1v1m0 1v1m0 62v1m0 4v1m0 1v1m0 1v1m0 36v3m0 1v1m0 3v1m0 14v3m1-159v1m0 4v1m0 20v1m0 7v1m0 49v1m0 1v3m0 7v1m0 12v1m1-102v3m0 2v1m0 1v1m0 2v1m0 1v1m0 1v1m0 43v1m0 1v1m0 10v1m0 5v1m0 13v1m0 1v2m0 5v4m0 2v1m1-108v3m0 3v2m0 30v1m0 30v1m0 3v2m0 2v1m0 39v1m0 3v1m0 14v1m0 10v2m0 1v2m1-175v2m0 1v2m0 4v1m0 1v1m0 33v3m0 2v1m0 7v1m0 9v1m0 5v1m0 4v3m0 86v2m0 1v1m0 2v1m1-174v1m0 14v1m0 3v1m0 24v1m0 1v3m0 4v1m0 8v2m0 5v1m0 1v1m0 6v1m0 2v2m0 1v2m0 1v1m0 17v1m0 34v1m0 1v2m0 2v1m0 3v1m0 3v1m0 2v1m1-160v1m0 5v2m0 3v1m0 3v3m0 12v1m0 10v1m0 11v1m0 2v1m0 7v1m0 2v1m0 1v3m0 2v2m0 1v2m0 62v1m0 4v1m0 1v1m0 1v3m0 3v1m0 4v1m0 11v1m1-173v1m0 15v1m0 17v1m0 2v3m0 12v1m0 7v1m0 1v1m0 3v2m0 6v3m0 1v4m0 68v1m0 10v5m0 1v1m1-65v2m0 4v1m0 2v2m0 53v2m0 5v1m1-162v1m0 2v1m0 5v3m0 2v1m0 1v1m0 26v1m0 6v2m0 1v1m0 1v1m0 37v1m0 24v1m0 22v1m0 1v1m0 3v2m0 3v2m0 1v1m0 3v1m0 1v1m1-168v1m0 2v1m0 3v2m0 17v2m0 1v1m0 1v2m0 4v1m0 1v2m0 1v4m0 39v3m0 1v1m0 25v1m0 4v1m0 2v1m0 1v3m0 3v1m0 6v1m0 1v1m0 14v1m0 1v4m1-164v1m0 8v3m0 19v1m0 15v2m0 15v2m0 7v1m0 6v2m0 1v2m0 4v1m0 1v1m0 5v2m0 13v2m0 1v2m0 1v2m0 1v2m0 1v2m0 1v2m0 3v2m0 1v2m0 5v1m0 1v1m1-132v1m0 2v1m0 12v2m0 1v1m0 2v2m0 10v2m0 1v1m0 6v2m0 1v2m0 2v1m0 72v1m0 2v2m0 2v1m0 12v3m0 1v1m0 4v1m0 2v1m1-161v2m0 8v2m0 1v1m0 10v1m0 15v2m0 3v1m0 3v2m0 1v2m0 1v1m0 5v2m0 3v1m0 7v1m0 1v1m0 3v1m0 1v1m0 2v2m0 26v1m1-101v3m0 4v1m0 2v2m0 13v2m0 1v1m0 4v1m0 9v1m0 4v4m0 1v1m0 1v1m0 10v1m0 2v1m0 1v2m0 4v3m0 3v3m0 1v1m0 50v1m0 1v1m0 5v3m1-152v1m0 77v1m0 31v1m0 3v2m1-125v1m0 8v1m0 1v1m0 2v1m0 35v1m0 36v2m0 39v1m0 5v1m0 19v2m1-168v2m0 28v5m0 1v3m0 13v1m0 2v1m0 42v2m0 2v1m0 1v1m0 1v1m0 3v1m0 1v4m0 1v1m0 2v4m0 22v1m1-98v2m0 8v1m0 1v1m0 6v1m0 1v4m0 1v1m0 2v1m0 16v1m0 4v1m0 13v2m0 1v4m0 1v3m0 28v1m0 3v1m1-143v2m0 35v1m0 11v3m0 19v1m0 19v2m0 59v1m1-170v1m0 17v1m0 1v2m0 1v1m0 18v1m0 2v3m0 4v1m0 5v1m0 24v3m0 1v2m0 6v1m0 1v6m0 54v2m0 9v1m1-169v2m0 14v3m0 1v3m0 9v3m0 2v4m0 14v2m0 1v2m0 7v1m0 28v1m0 3v1m0 2v1m0 2v1m0 3v1m0 2v1m0 30v3m0 12v1m0 10v4m1-82v2m0 6v3m0 49v1m0 2v1m0 2v2m0 11v1m0 2v1m1-173v1m0 10v1m0 1v1m0 2v1m0 40v3m0 3v1m0 16v2m0 20v2m0 35v1m0 5v1m0 3v3m0 3v1m0 2v1m0 1v1m0 1v1m0 1v1m1-113v1m0 48v1m0 1v2m0 1v5m0 2v1m0 10v1m0 34v1m0 3v1m0 5v2m0 1v1m1-101v5m0 9v1m0 17v2m0 2v4m0 24v1m1-126v1m0 9v2m0 1v1m0 2v1m0 1v1m0 20v1m0 17v1m0 1v1m0 1v3m0 2v1m0 20v3m0 11v1m0 9v1m0 38v3m1-160v3m0 1v3m0 5v1m0 5v1m0 1v3m0 2v1m0 3v1m0 15v1m0 1v6m0 19v1m0 11v2m1-86v3m0 2v2m0 12v1m0 3v1m0 15v1m0 3v1m0 4v1m0 2v3m0 9v1m0 2v2m0 2v1m0 7v1m0 2v1m0 32v1m0 12v1m0 7v1m0 1v1m0 2v1m0 1v1m0 14v2m1-148v1m0 5v5m0 1v1m0 1v1m0 11v1m0 7v1m0 5v1m0 1v1m0 9v2m0 2v4m0 1v4m0 1v1m0 17v2m0 24v2m0 7v4m0 9v1m0 5v1m0 8v1m1-150v1m0 1v1m0 3v2m0 26v1m0 90v1m0 12v1m0 6v1m1-119v1m0 1v1m0 1v1m0 1v1m0 29v1m1-77v1m0 1v2m0 2v1m0 2v1m0 2v1m0 17v1m0 2v6m0 5v1m0 3v1m0 9v3m0 8v1m0 2v1m0 3v1m0 2v3m0 1v5m0 13v1m0 1v1m0 2v1m0 4v1m0 5v1m0 13v1m0 3v1m0 1v1m0 10v2m0 2v1m0 4v1m0 14v1m1-156v2m0 1v1m0 23v1m0 1v1m0 1v1m0 31v1m0 1v4m0 13v2m0 15v1m0 4v2m0 38v1m1-148v2m0 1v1m0 2v1m0 46v1m0 1v1m0 1v3m0 1v1m0 2v1m1-67v2m0 16v1m0 1v3m0 1v1m0 14v2m0 1v1m0 1v1m0 11v1m0 30v1m0 25v5m0 1v3m0 2v2m0 1v2m0 27v4m1-161v1m0 9v1m0 4v1m0 1v1m0 29v2m0 7v2m0 2v2m0 2v1m0 14v2m0 3v1m0 17v1m0 1v1m0 1v4m0 2v2m0 35v1m0 1v1m1-94v1m0 23v1m0 4v1m0 21v1m0 9v2m0 7v2m0 5v1m0 15v2m1-134v2m0 1v1m0 2v1m0 1v1m0 11v1m0 9v1m0 28v2m0 2v2m0 1v2m0 38v4m0 6v1m0 1v2m0 3v1m0 6v4m0 1v3m0 1v2m1-140v2m0 1v2m0 2v1m0 10v1m0 11v1m0 4v1m0 69v1m0 26v1m0 2v1m1-116v1m0 5v1m0 2v1m0 38v2m0 3v2m0 1v2m0 2v1m0 24v2m0 21v1m0 2v1m1-155v1m0 1v2m0 13v1m0 1v1m0 9v1m0 5v1m0 3v1m0 1v1m0 2v1m0 3v1m0 7v1m0 20v1m0 1v1m0 24v4m0 2v2m0 1v1m1-91v1m0 50v1m0 6v1m0 31v1m0 1v2m0 10v2m0 18v1m0 12v1m0 3v1m1-173v1m0 1v1m0 60v1m0 38v5m0 1v1m0 1v2m0 3v1m0 19v3m0 30v1m0 1v1m0 1v1m1-175v1m0 2v2m0 42v3m0 7v1m0 3v2m0 56v2m0 3v2m0 1v1m0 10v1m0 1v1m0 2v1m0 1v2m0 14v1m0 6v1m1-137v1m0 6v1m0 56v2m0 40v1m0 8v1m1-115v6m0 1v1m0 4v1m0 6v1m0 30v1m0 4v1m0 16v1m0 22v4m0 1v4m1-137v1m0 6v6m0 2v2m0 35v1m0 39v1m0 4v1m0 2v1m0 2v1m0 1v1m0 3v1m0 2v2m0 26v1m0 9v1m0 7v1m0 14v1m1-173v1m0 1v1m0 24v1m0 2v1m0 19v1m0 6v2m0 23v2m0 1v1m0 2v1m0 2v1m0 7v2m0 39v6m0 1v1m0 19v3m1-171v2m0 5v1m0 1v2m0 2v1m0 28v1m0 1v1m0 5v1m0 3v1m0 1v1m0 1v2m0 3v4m0 1v1m0 3v2m0 2v1m0 5v1m0 1v1m0 2v1m0 1v1m0 11v1m0 2v1m0 1v1m0 1v1m0 3v1m0 15v1m0 4v1m0 21v1m0 7v2m0 1v1m1-168v1m0 1v1m0 93v1m0 3v1m0 3v1m0 4v2m0 2v1m0 3v2m0 2v1m0 20v1m0 3v1m1-123v3m0 1v2m0 13v3m0 18v2m0 1v1m0 2v1m0 9v2m0 11v1m0 10v2m0 1v1m0 1v1m0 2v1m0 7v2m0 17v2m0 22v4m1-143v2m0 1v6m0 15v1m0 12v2m0 1v2m0 2v1m0 14v2m0 3v1m0 8v1m0 40v1m0 22v1m0 6v1m1-168v2m0 5v5m0 1v1m0 2v4m0 4v2m0 15v3m0 1v1m0 4v1m0 2v1m0 1v5m0 26v1m0 2v3m0 9v2m0 1v3m0 1v1m0 1v2m0 26v6m0 1v1m0 5v3m0 6v1m0 1v3m1-166v1m0 1v1m0 4v1m0 1v1m0 1v2m0 1v2m0 7v1m0 18v2m0 1v1m0 18v3m0 1v2m0 23v2m0 1v2m0 2v1m0 20v2m0 15v1m0 1v1m0 1v1m0 1v2m0 1v1m0 20v1m0 1v1m1-168v1m0 13v1m0 3v2m0 13v1m0 1v2m0 18v2m0 2v1m0 8v1m0 2v1m0 3v1m0 5v2m0 1v2m0 1v1m0 20v3m0 10v1m0 13v2m0 12v2m0 1v1m0 1v1m0 1v1m0 12v1m1-173v3m0 4v1m0 2v3m0 8v1m0 1v1m0 19v3m0 16v1m0 1v2m0 1v1m0 5v4m0 17v1m0 2v1m0 5v1m0 4v1m0 20v1m0 2v5m0 28v1m0 1v1m1-168v1m0 1v1m0 14v1m0 1v2m0 1v1m0 11v1m0 2v1m0 2v1m0 3v1m0 19v1m0 4v1m0 11v2m0 2v6m0 37v4m0 3v2m0 5v1m0 1v1m0 1v1m0 5v1m0 4v2m0 1v1m0 7v2m0 2v3m1-155v1m0 7v1m0 5v1m0 89v2m0 3v1m0 38v1m0 1v1m1-168v2m0 10v1m0 4v1m0 1v1m0 3v2m0 3v1m0 1v1m0 1v1m0 2v2m0 8v1m0 21v1m0 8v1m0 1v4m0 3v2m0 1v1m0 8v1m0 22v1m0 1v2m0 7v1m0 5v1m0 9v1m0 1v1m0 6v1m0 8v2m0 3v2m1-82v1m0 30v1m0 14v1m0 3v1m0 4v1m0 1v3m0 3v1m0 1v1m0 1v1m1-158v3m0 14v1m0 1v1m0 12v5m0 1v1m0 16v1m0 13v1m0 23v1m0 19v1m0 4v2m0 15v1m0 1v1m0 22v1m0 1v1m0 1v4m1-153v2m0 22v1m0 1v2m0 18v1m0 2v1m0 2v1m0 13v1m0 45v3m0 3v2m0 20v1m0 3v1m0 1v1m0 1v2m1-110v1m0 1v2m0 3v4m0 2v1m0 7v1m0 1v3m0 1v1m0 1v1m0 1v1m0 79v1m0 4v1m1-114v3m0 7v1m0 48v1m0 20v1m0 1v3m0 1v2m0 2v2m0 5v1m0 8v1m0 2v1m1-170v1m0 4v2m0 8v1m0 7v2m0 3v1m0 22v2m0 14v1m0 4v1m0 3v1m0 6v1m0 1v1m0 1v2m0 5v1m0 4v1m0 50v1m0 7v1m0 8v1m0 1v3m0 1v1m1-169v1m0 1v5m0 2v1m0 6v1m0 1v1m0 1v7m0 24v2m0 1v1m0 1v2m0 9v4m0 6v2m0 1v1m0 15v1m0 8v2m0 10v1m0 2v1m0 1v2m0 1v6m0 4v1m0 1v3m0 2v1m0 4v2m0 2v1m0 2v2m0 8v1m0 4v1m1-151v1m0 4v1m0 1v1m0 31v1m0 2v1m0 36v4m0 2v1m0 2v2m0 32v2m0 1v1m0 1v1m0 4v2m0 3v1m0 2v1m0 1v1m0 4v2m1-171v1m0 2v4m0 2v2m0 2v3m0 1v1m0 13v1m0 38v1m0 3v1m0 22v1m0 27v1m0 22v1m0 16v1m1-151v4m0 1v1m0 19v1m0 2v4m0 1v1m0 28v1m0 42v2m0 1v1m0 15v5m0 2v2m0 4v2m0 2v3m1-162v3m0 30v2m0 2v1m0 2v1m0 20v3m0 74v2m0 2v1m0 2v1m0 2v1m0 1v1m0 14v1m1-149v1m0 1v2m0 1v1m0 3v1m0 27v2m0 1v2m0 1v1m0 13v1m0 17v1m0 45v1m0 3v1m0 1v1m0 1v2m0 2v1m0 2v1m0 2v2m0 12v1m1-78v1m0 49v2m0 2v2m1-115v1m0 1v1m0 4v3m0 1v2m0 1v1m0 1v2m0 2v1m0 1v1m0 4v2m0 17v1m0 1v1m0 8v1m0 3v2m0 1v3m0 35v1m0 4v1m0 1v1m0 1v1m0 1v1m0 1v4m0 1v1m0 1v2m0 3v1m1-103v1m0 6v1m0 104v1m0 2v1m1-157v1m0 2v1m0 10v1m0 58v1m0 63v1m0 1v1m1-145v1m0 1v1m0 68v3m0 1v1m0 1v1m0 64v1m0 1v1m0 1v2m0 2v1m0 2v2m1-124v1m0 96v1m0 3v1m0 22v1m0 1v1m1-113v1m0 1v1m0 25v1m0 54v5m0 2v1m1-91v6m0 27v2m0 5v1m0 16v1m0 4v1m0 1v1m0 4v1m0 4v1m0 6v1m0 10v1m0 2v2m0 5v1m0 3v1m1-163v1m0 36v1m0 12v1m0 1v1m0 1v1m0 7v4m0 1v2m0 9v1m0 4v1m0 4v1m0 3v2m0 3v2m0 14v1m0 1v1m1-118v3m0 19v1m0 33v2m0 2v2m0 1v1m0 38v1m0 36v1m0 6v1m0 15v2m0 2v2m0 4v1m1-170v1m0 1v1m0 9v1m0 2v9m0 1v3m0 1v1m0 10v1m0 3v1m0 4v2m0 4v2m0 14v2m0 1v1m0 21v1m0 23v1m0 14v2m0 31v1m0 1v1m0 1v1m1-120v1m0 4v1m0 2v1m0 20v1m0 4v1m0 32v2m0 26v2m0 7v1m0 1v1m0 1v1m0 1v2m0 2v1m1-48v1m0 1v1m0 13v2m0 3v1m0 3v1m1-146v2m0 19v1m0 1v7m0 21v1m0 29v1m0 1v1m0 2v1m0 1v1m0 32v4m0 10v3m0 13v1m0 14v1m0 3v2m1-167v1m0 5v1m0 9v1m0 11v1m0 7v2m0 48v1m0 34v9m0 3v4m0 1v1m0 1v2m0 13v5m1-140v1m0 1v2m0 1v1m0 1v1m0 1v1m0 1v2m0 29v1m0 15v2m0 2v1m0 2v1m0 29v1m0 51v1m1-171v1m0 18v2m0 3v1m0 2v1m0 1v1m0 2v1m0 12v1m0 3v1m0 1v4m0 1v2m0 38v1m0 1v7m0 1v2m0 1v1m0 24v1m0 1v1m0 6v1m0 5v1m0 13v1m0 2v1m0 3v1m1-173v1m0 24v1m0 13v1m0 11v1m0 3v1m0 1v1m0 13v1m0 1v2m0 17v1m0 1v1m0 1v1m0 32v1m0 3v1m0 4v2m0 6v1m0 1v1m0 1v1m0 1v1m0 3v1m0 8v2m1-139v1m0 16v1m0 94v1m0 1v1m0 4v4m0 1v1m0 3v3m1-161v1m0 16v1m0 2v2m0 14v2m0 59v1m0 8v1m0 29v1m0 16v1m1-152v1m0 1v1m0 29v2m0 2v2m0 20v2m0 88v2m0 2v1m0 16v1m0 1v1m1-174v1m0 21v1m0 3v2m0 14v1m0 2v3m0 15v1m0 2v2m0 2v1m0 7v1m0 2v1m0 57v2m0 1v1m0 3v2m0 1v2m0 2v8m0 12v1m1-149v1m0 15v4m0 1v2m0 2v1m0 17v1m0 2v1m0 5v3m0 1v1m0 4v1m0 3v2m0 59v4m0 1v2m0 2v6m1-163v2m0 57v1m0 5v1m0 25v1m0 2v1m0 1v3m0 21v2m0 1v1m0 26v2m0 1v1m0 1v2m0 1v1m0 7v1m0 1v2m0 1v1m1-169v5m0 2v2m0 1v1m0 2v1m0 12v1m0 20v1m0 1v4m0 4v1m0 9v1m0 3v4m0 4v1m0 2v1m0 2v1m0 30v2m0 1v2m0 2v1m0 19v1m0 2v2m0 14v1m1-167v3m0 20v1m0 5v1m0 38v1m0 1v1m0 6v2m0 8v1m0 25v1m0 7v1m0 5v1m0 1v3m0 1v2m0 24v5m0 1v3m1-164v1m0 2v2m0 2v5m0 2v2m0 70v1m0 29v1m0 16v1m0 22v1m1-163v1m0 4v3m0 1v1m0 1v1m0 1v2m0 17v2m0 1v1m0 4v1m0 4v1m0 3v1m0 1v2m0 8v1m0 25v5m0 35v4m0 1v1m0 2v1m0 30v1m1-168v1m0 4v1m0 10v1m0 2v1m0 3v1m0 10v1m0 5v2m0 12v1m0 1v1m0 3v2m0 1v1m0 4v1m0 16v2m0 42v1m0 1v1m0 3v1m0 1v1m0 3v1m0 8v2m0 2v2m0 3v1m0 1v1m0 1v2m0 1v1m0 1v2m0 1v2m0 1v2m1-162v1m0 1v1m0 1v4m0 3v1m0 3v2m0 12v1m0 3v4m0 2v1m0 13v1m0 12v1m0 13v2m0 1v3m0 1v3m0 37v1m0 2v1m0 3v2m0 16v1m0 4v2m0 2v1m1-151v2m0 3v3m0 51v1m0 2v2m0 1v1m0 1v3m0 1v1m0 2v1m0 5v1m0 3v4m0 1v1m0 36v1m0 1v1m0 2v5m1-155v4m0 1v2m0 7v1m0 3v1m0 1v2m0 1v1m0 1v2m0 13v3m0 2v1m0 5v1m0 4v1m0 2v2m0 28v1m0 1v1m0 17v2m0 2v4m0 17v1m0 2v1m0 1v2m0 1v1m0 13v1m0 4v1m0 1v2m0 3v1m1-142v1m0 5v2m0 4v1m0 1v1m0 1v1m0 4v1m0 1v1m0 5v2m0 1v3m0 1v1m0 14v6m0 14v2m0 1v1m0 1v1m0 1v1m0 2v1m0 8v1m0 3v1m0 22v1m0 1v1m0 7v1m0 1v2m0 1v1m1-141v1m0 5v1m0 1v1m0 1v2m0 17v1m0 2v1m0 1v2m0 19v1m0 10v1m0 9v2m0 1v1m0 2v1m0 6v1m0 26v1m0 2v1m0 3v1m0 19v1m1-165v2m0 11v1m0 3v2m0 3v1m0 15v3m0 4v1m0 2v2m0 18v1m1-69v2m0 22v1m0 4v1m0 2v2m0 1v1m0 4v2m0 7v1m0 1v1m0 6v2m0 7v1m0 7v1m0 12v2m0 4v2m0 6v1m0 6v1m0 6v1m0 29v1m0 1v1m0 1v2m0 1v2m0 2v1m0 6v2m0 2v2m1-170v1m0 12v4m0 1v1m0 5v1m0 1v1m0 29v2m0 1v1m0 23v1m0 17v1m0 5v1m0 27v1m0 35v1m1-169v1m0 10v6m0 40v1m0 40v3m0 1v1m0 1v3m0 55v1m1-170v1m0 3v1m0 2v2m0 1v1m0 2v1m0 1v1m0 9v1m0 1v1m0 1v1m0 5v1m0 13v1m0 2v1m0 9v1m0 20v2m0 1v1m0 2v1m0 72v1m0 2v1m0 4v2m0 1v1m1-171v1m0 2v1m0 1v1m0 1v1m0 2v1m0 1v1m0 1v3m0 1v1m0 35v2m0 2v1m0 8v1m0 67v1m0 1v1m0 24v2m1-142v2m0 3v2m0 10v3m0 1v1m0 2v1m0 1v1m0 1v4m0 1v1m0 6v3m0 1v1m0 21v1m1-74v5m0 1v1m0 1v1m0 1v2m0 1v2m0 60v1m0 10v1m0 1v1m0 1v1m0 2v3m0 49v1m1-155v1m0 4v1m0 2v1m0 1v1m0 1v1m0 1v1m0 2v1m0 11v1m0 14v4m0 7v3m0 1v4m0 4v1m0 2v2m0 1v1m0 8v2m0 78v1m0 1v2m1-172v1m0 36v1m0 11v2m0 7v1m0 1v1m0 28v1m0 69v1m0 3v2m1-145v1m0 139v1m1-162v1m0 4v1m0 12v1m0 1v2m0 1v1m0 2v1m0 1v1m0 21v2m0 14v1m0 14v2m0 3v1m0 1v1m0 51v1m0 5v1m0 16v1m0 7v1m1-172v1m0 4v2m0 1v1m0 2v1m0 2v1m0 1v1m0 33v1m0 1v1m0 6v1m0 1v1m0 27v3m1-94v1m0 7v1m0 44v1m0 4v1m0 1v1m0 13v2m0 2v5m0 3v4m0 17v1m0 3v1m0 2v1m1-115v1m0 7v1m0 8v6m0 5v1m0 11v1m0 7v1m0 1v1m0 1v2m0 10v3m0 24v2m0 81v1m1-164v1m0 42v1m1-50v1m0 12v1m0 1v4m0 9v1m0 3v1m0 1v1m0 10v1m0 9v1m0 2v1m0 6v4m0 1v1m0 1v1m0 2v2m1-80v1m0 21v2m0 2v1m0 1v1m0 1v1m0 15v1m0 4v2m0 1v2m0 25v3m0 5v2m1-32v2m0 15v1m0 5v2m0 43v2m0 6v1m0 27v1m0 3v1m1-167v2m0 52v1m0 34v1m0 50v1m0 5v1m1-102v2m0 20v1m0 1v1m0 18v1m1-91v2m0 1v2m0 41v1m0 4v1m0 1v4m0 6v1m0 8v2m0 2v1m0 84v1m0 1v1m0 2v1m0 7v1m1-158v1m0 1v2m0 30v1m0 9v1m0 7v2m0 7v1m0 82v2m1-100v2m0 21v1m0 17v2m0 1v2m0 2v3m0 1v1m0 1v1m0 1v1m1-113v3m0 1v2m0 4v5m0 23v2m0 7v1m0 27v1m0 2v1m0 2v1m0 2v1m0 75v1m0 4v1m1-163v1m0 7v1m0 1v2m0 34v1m0 13v1m0 1v1m0 4v4m0 82v1m0 1v1m0 3v1m1-154v1m0 2v1m0 1v1m0 29v1m0 19v1m0 2v1m0 1v1m0 1v1m0 15v3m0 70v2m1-167v1m0 6v1m0 22v3m0 3v1m0 9v1m1 29v1m1-29v1m0 5v1m0 2v1m0 3v1m0 2v1m0 5v1m0 2v2m0 1v9m0 2v1m1-45v1m0 5v2m0 5v2m0 9v4m0 1v1m0 1v1m0 7v1m0 2v3m0 14v1m0 1v1m0 1v1m0 5v1m0 2v1m0 1v3m0 3v1m0 42v2m1-171v4m0 45v1m0 4v2m0 1v1m0 1v1m0 4v1m0 16v1m0 29v1m1-109v2m0 52v1m0 6v2m0 1v1m0 94v1m0 2v1m0 2v3m1-167v2m0 1v2m0 1v1m0 3v2m0 10v5m0 3v1m0 2v2m0 52v2m0 1v6m1-83v1m0 1v2m0 1v2m0 26v1m0 33v2m0 1v1m0 1v1m0 2v1m0 11v3m0 5v2m0 57v1m0 1v3m1-176v3m0 2v1m0 26v1m0 13v1m0 9v2m0 30v5m0 22v1m0 4v2m0 41v1m0 2v1m0 4v1m0 1v1m1-150v1m0 1v1m0 1v4m0 32v1m0 1v1m0 2v1m0 22v1m0 16v1m0 58v1m0 1v1m0 1v1m0 1v1m1-151v1m0 1v1m0 5v1m0 19v1m0 3v1m0 25v1m0 8v1m0 79v2m0 1v2m1-175v2m0 50v1m0 7v4m0 9v2m0 1v2m0 1v2m0 13v3m0 1v2m0 40v4m0 1v4m0 13v1m0 1v1m0 1v1m1-162v1m0 5v1m0 5v1m0 1v4m0 4v1m0 22v1m0 2v1m0 37v2m1-88v2m0 7v1m0 4v1m0 1v2m0 3v2m0 4v2m0 9v1m0 7v2m0 28v1m1-55v1m0 8v3m0 1v1m0 9v2m0 18v1m0 2v2m0 2v3m0 1v1m0 3v1m0 2v1m0 78v2m0 1v5m1-170v2m0 5v1m0 10v1m0 2v1m0 1v1m0 19v2m0 6v1m0 60v1m0 3v1m1-115v1m0 55v1m0 1v1m0 21v3m0 71v3m1-162v1m0 1v1m0 12v1m0 2v3m0 15v1m0 1v2m0 1v2m0 18v1m0 16v1m0 11v1m1-70v1m0 2v1m0 3v1m0 39v1m0 13v2m0 2v1m0 3v1m0 75v1m1-76v1m0 1v1m0 1v2m0 3v1m0 1v1m0 1v1m0 1v2m0 1v1m0 28v2m0 1v4m0 1v5m0 1v1m0 1v1m0 2v1m0 4v2m0 1v1m0 1v1m1-163v1m0 1v2m0 5v1m0 5v1m0 27v1m0 3v3m0 15v1m0 9v1m0 1v1m0 1v2m0 1v1m0 78v1m1-157v2m0 2v1m0 3v1m0 18v2m0 51v2m0 3v3m0 14v2m0 2v2m0 2v1m0 1v3m0 19v1m0 19v1m1-150v1m0 2v1m0 1v1m0 28v1m0 2v1m0 11v1m0 27v2m0 9v1m0 2v3m0 39v2m0 2v1m0 1v2m0 2v1m1-156v1m0 3v3m0 1v2m0 36v2m0 10v6m0 1v2m0 2v2m0 2v1m0 1v2m0 1v1m0 3v2m0 3v1m0 8v2m0 27v1m0 2v1m0 1v6m0 1v5m0 21v1m1-167v1m0 2v1m0 2v1m0 6v1m0 25v1m0 1v1m1-20v2m0 3v4m0 1v1m0 1v1m0 2v1m0 5v3m0 1v2m0 44v1m0 44v1m0 1v3m0 1v3m1-147v1m0 1v1m0 40v5m0 3v1m0 1v1m0 7v1m0 23v2m0 1v1m0 26v1m0 10v1m0 2v1m0 3v2m0 10v1m0 19v2m1-164v3m0 2v3m0 1v2m0 30v1m0 7v2m0 14v1m0 1v2m0 3v3m0 10v3m0 12v1m0 3v1m0 30v3m0 3v1m0 16v2m0 1v1m0 5v1m0 1v1m1-152v1m0 2v1m0 18v3m0 1v1m0 15v2m0 27v2m0 3v1m0 1v2m0 49v1m0 1v3m0 1v1m0 3v1m0 1v1m0 1v1m1-164v1m0 11v1m0 1v1m0 1v4m0 20v2m0 48v3m0 1v2m0 41v1m0 1v2m0 1v1m1-132v2m0 8v1m0 2v4m0 13v1m0 10v1m0 1v1m0 2v1m0 1v1m0 2v4m0 7v1m0 2v1m0 12v1m0 21v1m0 6v1m0 40v1m0 6v1m1-168v1m0 48v2m0 49v1m0 4v2m0 2v2m0 1v1m0 6v3m0 1v2m0 1v2m0 1v1m0 1v1m0 2v2m0 9v1m1-133v1m0 18v1m0 1v1m0 4v2m0 1v1m0 34v1m0 48v1m0 3v1m1-107v1m1-23v1m0 17v1m0 2v1m0 2v3m0 4v1m0 4v1m0 2v2m0 6v3m0 4v1m0 24v2m0 3v1m0 14v1m0 65v1m1-153v1m0 3v1m0 35v1m0 1v1m0 1v2m0 60v2m0 25v1m0 4v1m0 8v2m1-156v4m0 3v2m0 29v1m0 1v1m0 3v2m0 1v2m0 5v1m0 2v2m0 12v1m0 2v1m0 4v2m0 12v1m0 1v1m0 1v1m0 5v4m0 1v1m0 1v1m0 17v1m0 16v1m0 12v1m1-126v2m0 45v2m0 8v1m0 7v1m0 1v4m0 49v1m0 4v2m1-146v1m0 6v1m0 15v1m0 2v1m0 13v1m0 102v3m1-129v1m0 21v6m0 16v1m0 1v1m0 1v1m0 35v2m0 26v1m0 5v2m0 3v1m0 6v1m0 1v1m1-160v1m0 42v1m0 3v1m0 8v1m0 6v1m0 2v1m0 19v3m0 2v1m0 3v1m0 2v3m0 1v3m0 2v2m0 38v2m0 2v1m1-167v6m0 19v1m0 7v3m0 3v1m0 1v1m0 26v2m0 5v4m0 3v1m0 20v2m0 3v1m0 1v1m0 2v1m0 48v1m0 3v1m1-143v1m0 2v3m0 51v1m1-69v1m0 1v1m0 5v2m0 1v1m0 38v1m0 11v1m0 3v1m0 7v2m0 6v2m0 2v1m0 50v1m0 2v1m0 1v1m0 2v1m0 1v1m1-160v1m0 2v2m0 21v1m0 5v1m0 2v3m0 1v2m0 23v1m0 25v2m0 71v2m0 1v1m0 1v2m0 1v1m1-149v2m0 1v1m0 1v2m0 15v2m0 1v1m0 3v1m0 3v1m0 2v2m0 5v1m0 1v1m0 13v2m0 3v2m0 8v1m0 24v4m0 7v1m1-116v1m0 3v3m0 1v2m0 2v1m0 32v3m0 1v4m0 4v1m0 1v3m0 6v2m0 4v1m0 40v1m1-131v2m0 1v1m0 115v1m0 2v3m0 1v1m1-116v1m0 10v1m0 2v2m0 1v1m0 19v2m0 3v1m0 1v2m0 3v1m0 7v1m0 2v1m0 4v1m0 5v1m0 4v1m0 3v1m0 19v1m0 2v1m0 7v1m0 23v1m0 3v1m0 2v1m0 2v1m1-160v1m0 1v3m0 10v4m0 15v1m0 7v1m0 1v1m0 25v1m0 1v1m0 4v2m0 1v2m0 8v1m0 39v1m0 1v2m0 2v1m1-135v1m0 11v1m0 9v1m0 1v1m0 15v1m0 1v1m0 11v1m0 2v1m0 18v2m0 11v1m0 36v1m0 32v1m0 4v1m0 4v2m0 1v1m1-175v1m0 2v6m0 1v1m0 1v1m0 3v10m0 2v3m0 1v1m0 3v1m0 2v1m0 11v2m0 12v4m0 15v1m0 65v1m0 2v3m0 2v1m1-142v1m0 1v2m0 10v1m0 17v1m0 2v1m0 7v1m0 12v1m0 9v1m0 4v1m0 1v1m0 1v1m0 6v1m0 4v1m0 44v1m0 2v1m0 1v2m0 12v1m0 2v1m1-173v1m0 5v2m0 1v4m0 21v3m0 17v3m0 1v1m0 2v1m0 24v1m0 7v1m0 2v1m0 1v1m0 15v3m0 1v4m0 8v1m0 8v1m0 16v1m0 10v1m1-165v1m0 12v2m0 1v1m0 32v1m0 19v1m0 5v1m0 2v1m0 1v2m0 2v1m0 1v3m0 8v4m0 1v1m0 2v4m0 1v1m0 9v2m0 6v1m0 8v4m0 3v2m0 5v1m0 3v1m0 1v1m0 1v3m1-165v1m0 23v1m0 3v1m0 3v1m0 1v1m0 1v1m0 14v1m0 8v2m0 8v1m0 3v1m0 1v2m0 5v3m0 1v3m0 4v3m0 73v2m1-172v1m0 1v1m0 1v1m0 18v1m0 3v3m0 24v4m0 1v2m0 1v1m0 20v1m0 12v1m0 1v2m0 4v2m0 2v1m0 2v1m0 2v1m0 5v1m0 8v1m0 1v1m0 3v1m0 1v1m0 1v1m0 12v2m1-154v1m0 15v1m0 1v2m0 1v2m0 4v1m0 1v2m0 6v1m0 42v1m0 3v1m0 3v1m0 55v1m0 2v1m0 3v6m1-154v2m0 2v1m0 3v2m0 4v2m0 1v2m0 11v1m0 4v3m0 13v1m0 3v1m0 19v1m0 8v2m0 3v1m0 21v1m0 1v1m0 1v4m0 16v1m0 15v2m0 2v1m1-160v1m0 1v1m0 12v2m0 9v1m0 3v1m0 18v1m0 94v1m0 2v1m1-148v1m0 14v1m0 9v2m0 1v1m0 1v2m0 1v1m0 1v1m0 13v1m0 41v1m0 31v1m0 3v1m0 24v2m0 1v1m0 4v2m0 12v1m1-157v1m0 5v2m0 1v5m0 1v2m0 2v5m0 16v1m0 64v2m0 2v1m1-92v1m0 5v3m0 48v2m0 1v1m1-94v1m0 4v2m0 1v2m0 29v1m0 1v2m0 27v1m0 6v2m0 12v2m0 2v7m0 5v1m0 14v1m0 1v1m0 6v1m0 3v3m0 1v1m0 2v1m0 17v1m0 11v1m1-175v2m0 14v3m0 14v1m0 7v1m0 3v1m0 2v1m0 3v1m0 16v1m0 3v1m0 1v2m0 4v2m0 9v1m0 2v1m0 6v1m0 12v1m0 3v1m0 1v1m0 9v1m0 4v1m0 15v1m0 5v3m0 5v1m0 1v1m0 1v3m0 1v1m1-170v2m0 1v1m0 1v1m0 1v1m0 1v2m0 1v1m0 4v1m0 5v1m0 4v1m0 1v1m0 2v1m0 8v2m0 5v1m0 1v1m0 1v2m0 14v1m0 3v2m0 10v1m0 31v1m1-117v1m0 17v3m0 1v2m0 1v1m0 24v1m0 1v1m0 1v1m0 3v2m0 4v2m0 3v1m0 16v1m0 1v1m0 3v2m0 22v5m0 2v2m0 1v2m0 2v1m0 31v2m1-168v3m0 27v2m0 2v2m0 1v1m0 15v2m0 9v1m0 12v1m0 3v1m0 1v1m0 2v2m0 1v1m0 45v1m0 6v1m0 4v1m0 3v1m0 1v1m0 14v1m1-166v1m0 3v1m0 1v1m0 11v1m0 2v1m0 1v1m0 1v1m0 38v1m0 1v5m0 1v1m0 2v1m0 17v1m0 15v1m0 3v2m0 10v2m0 10v2m0 2v1m0 1v1m0 1v1m0 1v2m0 2v3m0 2v1m0 1v2m0 1v1m2-151v3m0 23v1m0 26v1m0 13v1m0 4v1m0 3v1m0 33v1m0 43v1m0 2v1m1-141v2m0 1v2m0 1v1m0 4v1m0 19v2m0 17v1m0 5v1m0 4v2m0 32v1m0 6v1m0 1v1m0 1v2m0 3v1m1-144v1m0 2v1m0 29v1m0 2v1m0 5v3m0 1v3m0 1v2m0 9v1m0 19v3m0 1v2m0 6v1m0 1v1m0 2v1m0 40v1m0 10v1m0 18v1m1-170v1m0 15v4m0 1v1m0 18v1m0 2v3m0 1v1m0 1v6m0 27v2m0 20v1m0 1v4m0 1v1m0 1v5m0 1v2m0 47v1m1-161v2m0 5v1m0 11v1m0 3v1m0 7v10m0 11v2m0 15v1m0 3v1m0 4v2m0 7v2m0 5v1m0 2v2m0 2v1m0 1v1m0 1v1m0 4v1m0 33v2m0 6v3m1-141v1m0 6v1m0 2v2m0 2v1m0 1v2m0 63v2m1-69v1m0 1v1m0 125v1m1-167v1m0 3v1m0 22v1m0 12v1m0 2v6m0 1v3m0 1v1m0 1v3m0 1v1m0 6v2m0 1v1m0 2v2m0 1v1m0 3v2m0 1v1m0 3v3m0 1v2m0 2v1m0 2v3m0 1v1m0 15v2m1-85v3m0 23v1m0 1v1m0 1v1m0 1v1m0 16v2m0 17v1m0 24v1m0 4v2m0 1v2m0 29v1m0 3v4m1-172v1m0 1v1m0 10v2m0 1v1m0 1v1m0 4v3m0 2v1m0 3v2m0 3v1m0 33v1m0 20v1m0 2v1"/><path stroke="#d62a22" stroke-width="1" d="M0 0v9m0 23v1m0 8v1m0 14v8m0 6v18m0 13v2m0 1v11m0 13v3m0 1v2m0 1v6m0 3v1m0 5v5m0 7v3m0 2v1m1-168v2m0 1v2m0 1v3m0 20v5m0 1v3m0 1v1m0 2v1m0 1v2m0 15v9m0 2v6m0 4v6m0 13v4m0 2v1m0 2v2m0 3v1m0 2v6m0 2v1m0 1v20m0 1v1m1-147v6m0 24v4m0 2v3m0 14v4m0 1v3m0 1v1m0 1v2m0 14v5m0 4v1m0 6v5m0 1v2m0 1v3m0 1v32m0 1v1m1-146v17m0 1v1m0 3v1m0 10v13m0 15v22m0 18v6m0 3v1m0 3v14m0 1v12m0 9v3m0 1v1m0 17v2m1-174v6m0 1v2m0 12v1m0 1v1m0 8v10m0 14v32m0 11v2m0 3v11m0 1v11m0 1v34m1-161v2m0 3v2m0 25v1m0 7v11m0 5v1m0 12v2m0 1v2m0 1v1m0 2v1m0 1v1m0 19v3m0 24v2m0 1v1m0 1v2m0 1v4m0 1v3m0 1v5m1-150v7m0 1v1m0 23v2m0 1v3m0 1v3m0 14v1m0 3v2m0 2v6m0 13v5m0 11v1m0 1v3m0 2v1m0 4v3m0 1v2m0 2v6m0 2v2m0 11v15m1-155v6m0 1v2m0 23v2m0 1v1m0 2v2m0 2v3m0 11v8m0 2v1m0 3v9m0 1v1m0 1v6m0 13v27m0 1v4m0 3v1m0 1v1m0 1v11m0 2v2m1-155v6m0 26v1m0 9v1m0 1v2m0 6v2m0 3v3m0 23v3m0 13v3m0 1v3m0 1v8m0 5v1m0 3v1m0 3v1m0 3v1m0 1v1m0 1v1m0 1v1m0 2v13m1-148v3m0 106v1m0 1v4m0 2v3m0 1v1m1-128v6m0 1v1m0 10v3m0 11v10m0 14v26m0 1v8m0 9v1m0 14v17m0 1v2m0 1v3m0 5v1m0 1v1m0 3v5m0 9v1m1-165v6m0 58v19m0 16v2m0 14v35m1-9v9m1-57v2m0 4v3m0 1v1m0 11v13m0 22v5m0 1v2m0 3v1m1-62v5m0 3v1m0 16v1m0 2v28m0 14v1m1-70v3m0 11v13m1-27v1m0 2v6m0 1v6m0 1v2m0 1v1m0 1v5m0 3v1m0 1v1m0 4v1m0 1v1m0 10v4m0 17v1m1-80v11m0 11v13m0 24v1m0 15v3m1-77v1m0 1v19m0 1v1m0 12v2m0 2v1m0 2v1m0 1v2m0 4v1m0 3v1m0 1v12m1-61v1m0 1v1m0 7v1m0 3v5m0 2v1m0 2v2m0 14v9m0 18v3m1-67v11m0 13v15m0 4v1m1-49v1m0 5v1m0 2v9m0 2v1m0 2v1m0 1v3m0 1v15m0 2v1m0 2v1m0 1v2m0 1v1m1-119v2m0 1v1m0 2v1m0 57v51m0 2v1m1-52v2m0 25v1m0 2v19m1-51v1m0 1v15m0 1v24m0 1v20m0 4v1m1-68v13m0 1v1m0 1v20m0 1v5m0 2v1m0 2v1m0 1v7m0 13v3m1-72v6m0 10v34m0 5v1m1-56v16m0 11v1m1-39v3m0 2v22m0 12v5m0 1v2m0 1v4m0 1v24m0 1v1m0 4v5m1-144v13m0 11v5m0 3v6m0 1v1m0 1v1m0 14v27m0 13v34m1-129v13m0 6v1m0 3v5m0 1v13m0 6v1m0 7v4m0 8v55m0 1v5m0 7v1m0 1v5m1-134v4m0 54v4m0 1v1m0 2v1m0 6v26m0 3v2m0 25v5m1-134v4m0 11v1m0 1v2m0 22v8m0 8v44m0 1v11m0 3v2m1-127v9m0 49v3m0 1v6m0 1v1m0 1v25m0 1v2m0 1v7m0 10v5m0 17v1m1-116v1m0 2v1m0 3v3m0 1v2m0 23v11m0 8v1m0 17v2m0 1v2m0 3v1m0 1v10m1-115v1m0 6v4m0 10v5m0 7v1m0 1v8m0 1v4m0 5v2m0 1v24m0 1v51m1-135v10m0 14v9m0 3v1m0 1v2m0 11v2m0 1v5m0 10v31m0 1v1m0 1v27m1-130v1m0 4v1m0 2v1m0 1v4m0 18v6m0 1v4m0 19v2m0 1v1m0 1v29m0 2v1m0 1v1m0 1v1m0 2v2m0 1v1m1-109v14m0 15v1m0 2v1m0 1v9m0 1v79m0 4v12m0 3v1m1-142v13m0 8v9m0 7v13m0 2v2m0 1v3m0 2v53m0 1v22m1-136v3m0 1v1m0 1v1m0 2v4m0 10v8m0 2v17m0 10v41m0 1v2m0 2v1m0 2v1m0 7v21m1-138v2m0 1v10m0 15v8m0 1v6m0 1v1m0 2v4m0 4v3m0 10v30m0 1v5m0 1v24m1-130v14m0 10v27m0 7v4m0 1v1m0 1v68m0 1v2m1-102v1m0 2v1m0 3v2m0 40v15m0 1v4m0 1v5m0 9v1m0 11v2m1-132v2m0 2v6m0 17v1m0 1v1m0 2v9m0 10v10m0 8v67m1-80v1m0 1v65m0 4v12m0 1v1m0 1v1m1-84v2m0 6v1m0 28v13m0 9v5m1-67v2m0 1v16m0 1v7m0 1v1m0 1v1m0 1v2m0 1v1m0 1v1m0 1v1m0 13v20m0 7v1m0 1v1m2-96v1m0 1v1m0 2v1m0 53v1m0 33v3m1-18v2m2-136v1m0 24v1m0 19v1m0 1v4m0 13v1m0 2v2m0 31v1m1-11v1m0 41v1m0 9v1m1-144v2m0 1v12m0 9v4m0 11v1m0 6v5m0 14v1m0 1v1m0 21v1m0 1v1m0 1v1m0 3v13m0 8v1m0 4v2m0 1v1m0 1v1m0 3v13m0 1v4m0 5v1m1-157v7m0 8v1m0 24v1m0 1v2m0 9v3m0 1v1m0 2v2m0 2v2m0 10v8m0 14v13m0 35v1m0 2v1m1-150v1m0 2v1m0 11v10m0 22v19m0 16v2m0 12v1m0 1v1m0 1v5m0 1v2m0 1v2m0 17v1m0 1v1m0 2v2m0 1v2m0 1v1m0 2v1m0 3v1m0 5v1m1-141v1m0 28v1m0 2v2m0 78v2m0 2v3m0 16v1m1-156v1m0 4v3m0 16v9m0 1v1m0 17v3m0 6v7m0 1v3m0 1v2m0 2v1m0 6v23m0 1v4m0 2v2m0 1v2m0 22v1m1-95v5m0 9v4m0 1v5m0 1v4m0 1v1m0 15v1m0 1v11m0 13v1m0 1v1m0 1v3m0 1v1m0 3v5m0 1v4m0 18v3m1-129v4m0 15v1m0 8v13m0 21v2m0 3v6m0 26v15m0 5v7m1-135v18m0 5v5m0 9v5m0 1v7m0 21v1m0 1v1m0 5v1m0 15v13m0 9v12m1-129v9m0 19v3m0 9v4m0 1v1m0 2v2m0 16v2m0 3v1m0 1v1m0 2v1m0 3v2m0 2v2m0 3v1m0 1v1m0 1v15m0 9v12m1-156v2m0 1v9m0 1v2m0 2v1m0 18v4m0 6v2m0 2v1m0 2v1m0 1v3m0 8v7m0 1v8m0 13v17m0 1v1m0 1v1m0 2v2m0 1v43m0 3v1m1-59v2m0 1v5m0 2v1m0 1v1m1-128v3m0 3v11m0 2v1m0 1v3m0 37v9m0 1v3m0 1v1m0 1v1m0 1v1m0 2v1m0 46v2m0 1v1m0 1v1m0 2v4m0 1v4m0 1v21m1-159v1m0 4v2m0 1v7m0 10v1m0 2v2m0 2v1m0 14v5m0 3v6m0 16v1m0 5v1m0 6v2m0 7v1m0 5v1m0 1v3m0 1v3m0 2v1m0 17v1m0 6v12m1-148v1m0 1v1m0 39v5m0 71v1m0 1v1m0 3v1m0 3v1m0 3v1m1-74v1m0 42v2m0 1v1m0 2v2m0 1v1m0 16v2m0 1v3m1-114v1m0 1v1m0 2v1m0 1v2m0 1v2m0 15v3m0 19v5m0 11v2m0 3v24m0 13v4m0 1v3m0 1v12m0 1v1m0 4v2m1-156v3m0 16v1m0 1v4m0 1v1m0 1v1m0 62v1m1-92v7m0 1v1m0 1v22m0 15v1m0 1v8m0 1v2m0 2v3m0 1v3m0 18v2m0 59v3m0 2v1m0 1v1m1-156v3m0 1v1m0 1v4m0 2v1m0 1v18m0 15v9m0 14v2m0 13v2m0 3v16m0 1v20m0 9v15m0 1v1m1-151v1m0 5v1m0 76v2m1-87v11m0 1v20m0 37v5m0 20v1m0 32v9m0 1v6m0 3v2m1-120v2m0 65v1m1-96v5m0 1v2m0 2v22m0 11v1m0 11v1m0 29v1m0 50v9m0 1v2m0 1v2m0 2v1m0 3v5m1-162v32m0 10v5m0 6v1m0 36v12m0 1v1m0 2v2m0 4v1m0 1v22m0 21v5m1-162v32m0 7v1m0 2v6m0 1v7m0 13v8m0 2v15m0 1v1m0 2v2m0 1v27m0 5v1m0 2v12m0 6v1m0 1v6m2-162v19m0 1v2m0 1v3m0 1v1m0 1v1m0 1v1m0 51v1m0 1v5m0 11v1m0 3v2m0 1v1m0 1v1m0 3v13m1-124v28m0 11v1m0 1v6m0 37v54m0 3v1m0 1v4m0 2v2m1-154v32m0 18v25m0 2v2m0 8v8m0 1v39m0 1v2m0 1v2m0 7v6m0 3v5m1-159v22m0 1v1m0 1v4m0 10v5m0 38v5m0 9v1m0 1v19m0 1v3m0 1v11m0 12v6m1-149v2m0 1v2m0 8v14m0 82v14m0 1v7m0 20v1m1-157v32m0 10v5m0 3v6m0 35v3m0 6v1m0 1v12m0 1v1m0 1v4m0 1v5m0 5v1m0 3v5m0 17v2m0 1v1m1-161v31m0 18v1m0 1v3m0 14v2m0 1v2m0 13v14m0 5v1m0 4v1m0 8v2m0 4v13m0 1v2m0 2v1m0 11v1m1-157v1m0 1v2m0 1v4m0 10v13m0 10v2m0 2v1m0 5v1m0 4v1m0 3v1m0 5v3m0 1v3m0 13v3m0 1v2m0 3v3m0 1v6m0 1v2m0 1v17m0 21v4m0 1v1m0 2v5m1-160v1m0 1v14m0 1v1m0 2v1m0 41v1m0 38v10m0 1v14m0 2v1m0 5v1m0 12v3m1-151v32m0 15v3m0 2v3m0 13v1m0 4v1m0 13v3m0 11v26m0 4v1m0 3v6m0 2v1m0 10v3m1-153v2m0 1v1m0 1v23m0 7v1m0 7v3m0 6v4m0 1v13m0 7v1m0 3v2m0 14v13m0 3v1m0 5v2m0 2v14m0 2v2m0 1v1m1-147v4m0 1v1m0 4v1m0 3v1m0 10v1m0 2v4m0 55v3m0 11v40m0 3v1m0 1v1m0 10v5m1-155v1m0 2v11m0 2v9m0 10v5m0 42v1m0 11v13m0 1v1m0 12v13m0 1v1m0 1v1m0 1v8m0 5v2m1-151v18m0 86v1m0 4v1m0 2v1m0 5v1m0 2v1m0 1v1m0 1v1m0 3v1m1-140v3m0 7v9m0 4v1m0 4v4m0 55v3m0 2v4m0 1v17m0 22v5m1-141v32m0 11v4m0 9v13m0 16v1m0 1v1m0 1v9m0 1v28m0 1v1m0 1v1m0 2v1m0 1v13m0 9v5m1-162v32m0 15v1m0 39v3m0 11v26m0 9v5m0 5v1m0 1v5m1-153v3m0 82v2m0 33v1m0 2v2m0 2v9m1-136v19m0 9v4m0 16v1m0 1v3m0 1v1m0 1v18m0 9v1m0 1v3m0 1v25m0 13v7m0 1v6m0 3v1m0 10v1m1-128v10m0 9v3m0 31v1m0 8v1m0 25v2m0 1v3m0 1v2m0 1v1m1-132v1m0 7v25m0 14v1m0 2v1m0 23v8m0 2v22m0 13v34m0 1v3m0 1v1m0 3v3m1-134v1m0 11v2m0 108v6m1-52v1m0 5v1m0 28v1m0 1v1m0 14v1m0 1v1m1-154v7m1-18v15m0 1v2m0 18v10m0 12v6m0 13v2m0 3v2m0 11v3m0 11v1m0 1v1m0 6v1m0 1v29m0 1v6m0 6v1m0 2v3m0 1v1m1-176v6m0 8v2m0 1v29m0 6v2m0 29v33m0 5v1m0 6v3m0 1v11m0 1v4m0 1v13m1-151v1m0 2v3m1 105v1m1-123v1m0 5v11m0 17v1m0 1v6m0 49v1m0 23v1m0 1v1m0 1v2m0 1v1m0 1v1m0 3v13m0 10v1m0 3v1m0 12v3m1-107v1m1-11v1m0 2v4m1 91v1m1-139v1m0 9v9m0 98v1m0 5v1m0 5v1m1-138v11m0 7v18m0 12v1m0 1v5m0 3v1m0 1v2m0 1v1m0 1v2m0 2v3m0 2v1m0 1v1m0 3v1m0 1v1m0 2v3m0 5v2m0 3v3m0 3v1m0 2v28m0 3v1m0 5v8m0 1v9m1-161v1m0 2v7m0 76v8m0 70v5m1-174v1m0 21v1m0 1v3m0 1v4m0 67v1m0 13v14m0 1v8m0 1v1m0 12v3m0 2v2m0 1v2m0 7v2m1-168v3m0 19v2m0 1v2m0 1v1m0 51v1m0 1v1m0 1v1m0 5v8m0 15v12m0 10v1m1-139v6m0 36v1m0 2v1m0 10v5m0 9v2m0 9v1m0 33v2m0 2v1m0 1v1m0 1v4m0 1v11m0 11v12m2-91v1m0 9v1m0 89v1m0 1v1m1-174v14m0 19v9m0 17v1m0 1v3m0 59v5m0 15v1m0 6v12m0 5v1m1-165v3m0 19v8m0 28v3m0 6v1m0 1v2m0 3v1m0 1v1m0 2v1m0 85v3m1-171v6m0 2v1m0 2v2m0 48v2m0 7v6m0 2v1m0 1v1m0 12v1m0 1v1m0 1v4m0 27v5m0 1v2m0 1v1m0 1v2m0 31v2m1-171v4m0 1v1m0 15v9m0 27v4m0 37v3m0 24v13m0 2v2m0 1v1m0 2v1m1-150v15m0 27v10m0 9v22m0 22v1m0 9v14m0 2v1m0 1v1m0 4v3m0 21v6m1-168v1m0 2v11m0 1v1m0 8v9m0 31v6m0 13v6m0 1v1m0 2v8m0 1v1m0 25v8m0 1v4m0 13v1m1-155v6m0 37v1m0 1v1m0 15v1m0 1v1m0 6v1m0 4v3m0 3v10m0 3v2m0 3v2m0 3v11m0 24v1m0 1v1m0 1v3m0 1v2m0 19v3m1-168v11m0 50v2m0 1v1m0 1v14m0 2v1m0 64v1m0 1v10m1-159v3m0 24v1m0 51v1m1-83v3m0 36v1m0 1v1m1-42v4m0 1v1m0 27v8m0 42v2m0 1v2m0 29v1m0 38v1m1-72v3m1-26v2m1-64v1m0 41v1m0 1v1m0 8v1m0 2v8m0 19v5m0 8v1m1-80v7m0 28v1m0 8v3m0 6v18m0 80v2m1-134v1m0 2v2m0 15v1m0 1v2m0 1v9m0 104v1m1-165v1m0 3v3m0 68v1m1-63v1m0 40v11m0 1v5m0 1v2m0 1v1m0 79v1m0 1v1m1-112v1m0 3v1m0 3v24m1-72v1m0 7v3m0 4v3m0 4v1m0 1v1m0 13v37m0 2v8m0 52v1m0 1v3m0 1v12m1-152v2m0 2v10m0 9v1m0 1v7m0 1v2m0 34v13m0 1v1m0 3v7m0 1v1m0 13v13m0 27v8m1-152v1m0 8v1m0 4v1m0 1v1m0 43v1m0 1v5m0 9v2m0 1v1m0 11v1m0 1v1m0 5v1m1-96v1m0 3v10m0 49v2m0 1v3m0 2v2m0 3v11m0 13v13m1-141v1m0 13v32m0 3v2m0 1v7m0 1v1m0 1v4m0 1v2m0 5v1m0 1v4m0 3v46m0 12v9m0 12v6m1-135v9m0 19v3m0 3v1m0 2v1m0 1v1m0 1v6m0 1v2m0 5v1m0 1v11m0 3v3m0 1v6m0 1v13m0 13v1m0 1v1m0 2v2m0 1v3m0 1v3m0 1v2m0 1v2m1-159v3m0 8v1m0 9v6m0 1v10m0 1v11m0 1v2m0 1v7m0 12v1m0 4v60m0 12v3m0 2v2m0 8v5m0 1v2m1-176v1m0 1v4m0 12v6m0 9v2m0 1v2m0 3v1m0 10v1m0 1v7m0 3v3m0 2v1m0 3v1m0 9v67m0 17v1m0 1v7m1-143v9m1-15v1m0 1v1m0 1v2m0 50v18m0 3v3m0 1v7m0 48v1m0 1v1m0 4v3m0 1v1m1-137v1m0 2v2m0 1v1m0 1v1m0 2v1m0 46v1m0 1v3m0 14v8m0 1v4m0 8v2m0 2v1m0 1v2m0 3v1m0 1v1m0 12v1m0 6v2m1-129v10m0 31v1m0 7v2m0 2v1m0 1v4m0 15v1m0 11v1m0 2v1m0 2v3m0 2v1m0 22v6m1-151v1m0 1v1m0 2v2m0 9v1m0 4v2m0 24v1m0 2v1m0 97v1m0 2v3m0 2v1m0 1v1m1-160v1m0 25v10m0 9v2m0 2v1m0 17v5m0 1v1m1-66v3m0 3v3m0 2v1m0 71v3m0 3v1m0 49v1m0 2v1m0 4v1m1-147v8m0 97v1m1-106v1m0 1v2m0 1v3m0 34v1m0 33v1m0 66v1m1-115v1m0 48v1m0 2v1m0 1v1m0 1v3m0 6v1m0 7v1m1-86v10m0 9v1m0 3v4m0 35v13m0 2v1m1-103v1m0 2v3m0 42v1m0 17v6m0 1v1m0 13v2m0 1v2m0 2v4m1-98v2m0 1v1m0 2v1m0 1v17m0 10v1m0 1v5m0 1v4m0 29v1m0 74v1m0 1v1m1-151v1m0 15v2m0 4v10m0 2v2m0 2v1m0 5v4m0 1v1m0 32v2m0 1v2m0 1v3m0 1v2m0 27v4m0 3v2m0 18v3m1-138v3m0 1v3m0 1v13m0 37v2m0 2v3m0 1v2m0 67v1m0 1v1m0 2v1m1-159v1m0 4v1m0 1v1m0 31v6m0 25v6m0 65v2m0 2v1m0 1v1m0 3v1m1-76v2m0 70v1m0 1v1m0 1v1m0 3v1m1-89v6m0 1v1m0 13v2m0 4v1m1-69v10m0 26v1m0 2v2m0 79v2m1-150v5m0 1v4m0 2v1m0 15v10m0 1v1m1-48v1m0 3v1m0 3v3m0 16v9m0 12v1m0 1v1m0 14v2m0 2v2m0 1v7m0 1v2m0 1v2m0 24v6m0 1v12m0 1v6m0 5v1m0 15v2m0 2v2m1-151v1m0 2v4m0 5v1m0 23v5m0 1v1m0 18v1m0 14v9m0 28v1m0 3v1m0 16v5m0 1v8m0 1v2m1-151v1m0 1v3m0 2v9m0 9v8m0 1v3m0 47v3m0 11v13m0 14v12m0 1v6m2-157v1m0 9v1m0 1v1m0 64v1m0 3v1m0 19v1m0 1v2m0 1v4m0 1v5m0 1v13m0 1v3m0 1v1m0 10v1m0 2v2m0 1v3m0 2v1m0 6v7m1-156v1m1 4v18m0 35v1m0 1v1m1 21v1m0 1v1m0 29v1m0 4v1m0 23v9m1-145v3m0 1v1m0 41v1m0 3v2m0 2v3m0 32v1m0 8v2m0 38v1m0 1v2m1-104v6m0 21v2m0 9v1m0 1v19m0 1v4m0 10v4m0 2v5m0 1v15m0 3v8m1-139v2m0 1v1m0 20v2m0 28v1m0 2v1m0 3v1m0 2v3m0 46v1m0 2v3m0 1v6m0 4v1m1-103v4m0 24v11m0 36v1m1-83v2m0 1v2m0 38v1m0 2v2m0 7v1m0 36v12m0 6v8m1-173v3m0 47v1m0 4v1m0 1v4m0 29v8m0 3v11m0 5v1m0 7v48m1-93v2m0 1v6m0 12v19m0 2v1m0 14v10m0 18v3m1-67v1m1-58v1m0 53v19m0 2v1m0 15v1m0 1v1m0 1v2m0 1v1m0 2v14m0 1v5m1-134v1m0 2v1m0 103v1m0 1v5m1-148v17m0 7v10m0 8v4m0 1v6m0 11v6m0 20v16m0 1v22m0 4v1m0 4v38m1-173v3m0 88v4m0 1v2m0 7v1m1-103v11m0 7v5m0 1v2m0 10v10m0 1v1m0 8v1m0 25v2m0 4v7m0 9v1m0 17v14m0 8v12m1-162v1m0 5v2m0 16v9m0 9v1m0 1v1m0 7v2m0 4v1m0 3v2m0 6v3m0 5v5m0 6v1m0 3v8m0 27v1m0 1v4m0 1v6m0 22v1m0 2v1m0 1v3m2-165v18m0 7v2m0 33v1m0 1v2m0 21v2m0 1v10m0 2v1m0 4v1m0 2v1m0 2v1m0 20v1m0 2v22m0 4v4m1-168v14m0 9v1m0 15v6m0 1v5m0 9v1m0 21v1m0 4v3m0 11v11m0 24v1m0 1v9m0 12v6m0 1v1m0 1v5m1-170v2m0 5v1m0 10v1m0 2v6m0 12v1m0 47v9m0 2v1m0 3v1m0 5v1m0 23v1m0 9v4m0 3v6m1-160v1m0 3v2m0 1v1m0 1v1m0 2v1m0 2v7m0 10v9m0 25v1m0 27v1m0 3v1m0 1v14m0 1v2m0 1v1m0 19v1m0 9v19m0 3v5m1-176v3m0 1v2m0 13v2m0 2v13m0 1v1m0 2v2m0 18v2m0 1v1m0 6v1m0 1v1m0 6v4m0 6v1m0 1v2m0 8v3m0 1v1m0 9v9m0 1v3m0 13v9m0 1v1m0 2v1m0 1v1m0 1v1m0 1v8m1-162v1m0 1v1m0 8v4m0 1v1m0 19v1m0 27v3m0 4v6m0 21v4m0 1v6m0 13v1m0 1v1m0 6v28m0 1v1m0 1v3m1-168v3m0 12v1m0 2v1m0 1v1m0 28v2m0 16v3m0 5v3m0 51v3m0 2v4m0 7v1m0 22v1m0 3v1m1-134v10m0 9v3m0 29v1m0 44v24m0 7v1m1-165v1m0 11v3m0 14v1m0 26v3m0 7v1m0 13v1m0 1v1m0 5v1m0 5v1m0 27v1m0 10v2m0 1v9m0 1v1m0 1v6m0 1v2m0 8v1m1-110v2m0 28v2m0 45v1m0 14v3m0 1v1m0 1v1m1-136v9m0 1v1m0 24v1m0 1v3m0 19v8m0 2v3m0 1v4m0 14v1m0 1v4m0 2v5m0 11v1m0 1v22m0 1v1m0 1v1m1-150v1m0 2v4m0 41v2m0 1v2m0 68v12m0 13v1m0 1v1m0 2v3m1-109v2m0 6v1m0 1v1m0 5v1m0 1v1m0 3v1m0 1v1m0 1v1m0 1v1m0 37v13m0 9v12m0 6v1m1-145v9m0 90v5m0 21v2m0 2v2m0 1v2m0 1v6m0 1v1m1-167v1m0 16v7m0 2v3m0 1v22m0 2v14m0 1v4m0 2v2m0 1v6m0 9v1m0 21v36m0 1v7m0 2v7m0 1v1m1-157v1m0 2v6m0 1v1m0 18v10m0 12v9m0 4v6m0 5v1m0 2v1m0 32v2m0 12v3m0 5v2m0 1v4m0 2v2m0 1v2m0 2v8m1-32v9m0 2v1m0 13v2m0 1v1m0 4v1m0 2v1m1-175v3m0 1v1m0 6v1m0 2v2m0 17v1m0 1v7m0 21v1m0 6v3m0 2v2m0 1v5m0 10v1m0 44v13m0 1v16m0 1v7m1-159v1m0 24v1m0 1v1m0 5v1m0 10v3m0 6v3m0 5v2m0 1v2m0 8v1m0 49v1m0 5v1m0 3v1m0 1v1m0 3v2m0 12v5m1-36v2m0 1v2m0 1v2m0 1v1m0 12v3m0 1v2m1-126v10m0 7v1m0 4v9m0 5v5m0 57v2m0 1v1m0 1v1m0 2v2m0 11v1m0 6v2m0 1v5m1-35v2m0 3v1m0 2v13m1-129v1m0 1v1m0 1v2m0 1v1m0 3v1m0 4v1m0 8v1m0 1v1m0 9v3m0 5v2m0 1v1m0 11v1m0 44v3m0 3v1m0 1v1m0 1v1m0 4v1m0 4v3m0 1v6m1-18v12m1-139v1m0 104v13m1-125v1m0 145v1m0 2v1m2-19v1m1-106v10m0 12v6m0 23v1m0 25v1m0 3v4m0 11v1m0 1v10m0 1v2m0 2v1m0 1v3m0 1v3m0 1v3m0 3v5m1-176v2m0 4v11m0 7v15m0 1v12m0 1v1m0 3v7m0 7v2m0 10v2m0 1v4m0 1v3m0 2v3m0 17v1m0 2v2m0 2v53m1-118v2m0 2v1m0 28v3m0 29v5m0 10v1m0 1v6m0 1v15m1-135v1m0 3v1m0 28v13m0 3v1m0 1v13m0 2v6m0 1v1m0 39v22m0 6v3m0 3v1m1-121v2m0 1v4m0 4v5m0 18v1m0 79v2m2-115v15m0 13v1m0 1v1m0 1v2m0 1v1m0 1v1m0 48v9m0 18v1m0 1v1m1-156v9m0 1v8m0 21v16m0 23v1m0 1v6m0 27v1m0 9v3m0 4v1m0 1v1m0 2v13m1-139v3m0 2v1m0 2v1m0 51v2m0 2v2m0 1v2m0 48v27m1-142v3m0 1v1m0 2v1m0 1v2m0 1v12m0 1v1m0 12v6m0 23v1m0 8v1m0 10v1m0 1v13m0 12v1m0 1v6m0 1v5m0 1v3m0 1v3m0 10v3m1-171v13m0 53v3m0 5v5m0 8v3m0 44v3m0 3v1m0 2v2m0 1v1m0 3v1m0 1v2m0 4v6m0 2v1m1-78v1m0 47v2m0 1v1m0 1v4m0 4v1m0 3v1m0 9v3m1-171v1m0 1v1m0 16v1m0 14v1m0 58v1m0 44v12m1-109v1m0 10v1m0 10v1m0 86v1m0 2v2m0 1v6m0 9v1m0 1v1m0 1v1m1-110v1m0 24v2m0 46v1m0 2v1m0 2v2m0 2v1m0 12v6m1-141v1m0 1v1m0 40v1m0 67v13m0 5v1m0 2v2m1-158v1m0 2v18m0 30v9m0 28v3m0 29v1m0 2v1m0 1v26m0 2v1m0 1v1m0 2v1m0 1v7m0 1v1m0 2v1m1-175v7m0 6v1m0 4v2m0 1v3m0 10v3m0 1v14m0 8v1m0 4v8m0 9v1m0 8v1m0 1v1m0 34v2m0 1v19m0 1v2m0 2v13m0 3v5m1-176v3m0 21v2m0 1v5m0 10v10m0 18v1m0 1v1m0 5v2m0 2v8m0 33v1m0 1v3m0 10v12m1-147v3m0 6v2m0 5v2m0 2v1m0 9v9m0 49v2m0 45v2m0 10v12m0 4v1m0 4v5m1-176v1m0 1v1m0 10v1m0 25v1m0 2v4m0 1v3m0 1v1m0 9v1m0 1v1m0 6v18m0 50v24m0 6v3m1-168v2m0 1v10m0 2v1m0 1v3m0 10v1m0 21v1m0 1v3m0 2v1m0 1v2m0 1v1m0 15v2m0 2v4m0 47v3m0 12v1m0 6v1m0 1v1m0 4v1m1-165v11m0 1v1m0 6v1m0 3v1m0 5v1m0 9v1m0 1v3m0 4v1m0 31v8m0 2v1m0 34v13m0 1v2m0 1v1m0 4v16m0 1v4m1-171v3m0 21v1m0 2v1m0 1v1m0 55v1m0 3v1m0 5v1m0 1v2m0 1v4m0 2v2m0 7v8m1-123v6m0 7v1m0 28v4m0 3v2m0 3v3m0 1v3m0 2v1m0 37v14m0 35v12m0 6v1m0 2v1m0 1v1m0 1v1m1-173v3m0 18v9m0 1v1m0 1v2m0 4v3m0 1v1m0 1v1m0 1v2m0 3v1m0 1v5m0 2v1m0 3v1m0 14v1m0 6v14m0 11v8m0 1v3m0 1v13m0 15v4m0 4v1m0 1v2m0 3v5m1-176v3m0 3v11m0 7v1m0 1v1m0 1v1m0 1v1m0 1v1m0 19v2m0 4v1m0 24v8m0 2v8m0 4v1m0 9v8m0 46v7m1-173v1m0 41v1m0 47v8m0 14v8m1-117v11m0 7v4m0 1v4m0 21v1m0 1v6m0 21v9m0 2v4m0 2v6m0 1v6m0 1v6m0 1v2m0 18v9m0 1v1m0 1v1m0 2v1m0 2v2m0 9v1m0 3v2m1-176v4m0 1v12m0 4v1m0 1v1m0 9v9m0 10v2m0 2v1m0 1v1m0 5v6m0 13v4m0 1v17m0 1v5m0 1v11m0 27v25m1-175v3m0 3v1m0 1v10m0 6v9m0 9v12m0 7v3m0 27v2m0 11v1m0 3v1m0 5v1m0 47v7m0 1v1m1-170v2m0 2v1m0 6v1m0 19v3m0 1v6m0 11v1m0 7v1m0 1v1m0 23v2m0 74v2m0 1v4m1-170v3m0 1v2m0 1v1m0 1v1m0 1v2m0 1v1m0 1v1m0 7v33m0 2v2m0 1v8m0 13v10m0 8v2m0 59v3m0 2v9m1-176v3m0 14v8m0 3v2m0 2v10m0 8v1m0 1v1m0 11v1m1-65v3m0 3v11m0 6v1m0 1v1m0 1v1m0 5v58m0 14v1m0 1v1m0 1v2m0 51v1m0 1v4m1-165v6m0 1v4m0 1v2m0 3v1m0 3v2m0 1v11m0 1v14m0 8v3m0 3v1m0 4v1m0 5v1m0 2v1m0 90v1m1-109v6m0 21v1m1-92v23m0 1v70m0 68v1m0 1v3m0 1v8m1-173v4m0 1v9m0 1v2m0 1v1m0 2v1m0 1v2m0 1v1m0 1v11m0 12v14m0 1v14m0 2v3m0 1v1m0 72v3m0 1v2m0 3v2m0 1v2m1-165v1m0 2v2m0 8v9m0 9v10m0 10v1m0 1v6m1-69v7m0 1v44m0 1v4m0 3v3m0 19v3m0 4v4m0 68v9m1-170v2m0 21v4m0 1v11m0 1v5m0 5v1m0 31v8m0 77v1m1-166v1m0 1v6m0 1v5m0 7v18m0 10v1m1-53v4m0 2v12m0 1v1m0 22v8m0 1v1m0 2v4m0 16v1m0 1v1m0 1v2m0 2v1m1-83v2m0 1v21m0 2v2m0 3v1m0 1v15m0 1v1m0 1v2m0 2v1m0 5v3m0 6v13m0 3v5m0 2v1m1-94v24m0 9v28m0 2v7m0 13v1m0 4v3m0 37v1m0 2v6m0 1v3m0 21v3m0 1v2m0 3v5m1-176v3m0 3v48m0 1v2m0 4v1m0 1v1m0 29v1m1-94v3m0 3v40m0 1v1m0 3v7m0 13v1m0 1v18m0 1v1m0 69v6m0 3v5m1-176v1m0 2v1m0 2v41m0 1v4m0 13v4m0 1v1m0 1v1m0 2v2m0 1v5m0 86v6m1-175v6m0 13v1m0 4v28m0 112v7m1-171v54m0 2v1m0 4v3m0 3v2m0 1v17m0 1v6m0 21v1m0 1v1m0 1v1m0 1v2m0 48v5m1-176v6m0 18v22m0 2v7m0 1v2m0 3v3m0 20v2m0 1v2m0 1v1m0 2v1m0 75v4m0 1v2m1-176v3m0 3v5m0 1v5m0 7v32m0 5v3m0 19v10m1-93v3m0 3v11m0 1v2m0 1v1m0 1v29m0 1v5m0 12v2m0 1v2m0 1v1m0 1v1m0 1v3m0 8v4m0 5v1m0 61v6m0 2v1m1-171v3m0 2v5m0 1v13m0 12v3m0 1v9m0 1v2m0 39v2m1-93v2m0 1v3m0 18v28m0 39v2m1-93v51m0 1v5m0 8v2m0 1v2m0 1v1m0 2v2m0 2v1m0 9v2m0 1v10m0 61v14m1-176v46m0 1v5m0 2v4m0 6v6m0 4v1m0 4v1m0 2v1m0 33v2m0 1v1m0 42v7m1-165v13m0 7v25m0 1v2m0 4v1m0 36v1m0 77v5m1-176v3m0 2v50m0 109v1m1-165v3m0 6v1m0 7v9m0 6v1m0 2v1m0 3v1m0 2v11m0 1v4m0 6v6m0 23v1m1-94v6m0 12v1m0 2v1m0 2v26m0 1v10m0 22v1m0 2v1m0 1v1m0 1v2m0 1v1m0 78v1m1-170v2m0 1v11m0 16v13m0 1v1m0 1v3m0 2v1m0 107v1m0 1v2m1-166v24m0 1v1m0 6v29m0 32v1m0 68v6m0 1v1m1-170v24m0 1v1m0 1v5m0 6v1m0 14v1m0 38v1m0 80v1m1-171v49m0 2v7m0 4v5m0 6v1m0 6v11m0 51v1m0 16v1m0 1v1m0 3v8m1-173v3m0 1v5m0 1v4m0 2v1m0 4v4m0 1v4m0 9v4m0 18v2m0 1v3m0 21v1m0 79v5m1-167v1m0 1v1m0 1v2m0 1v4m0 15v9m0 1v1m0 8v4m1-58v3m0 1v2m0 11v11m0 1v4m0 9v9m0 2v1m0 27v1m0 88v1m1-171v6m0 3v3m0 3v9m0 1v2m0 1v1m0 1v16m0 2v1m0 2v1m0 3v2m0 26v8m1-91v8m0 2v14m0 18v10m0 2v4m0 7v1m0 27v1m0 72v2m0 3v5m1-176v3m0 3v12m0 6v15m0 1v1m1-41v24m0 1v2m0 1v3m0 1v22m0 7v3m0 98v7m1-169v94m0 1v1m0 1v1m0 2v1m0 3v1m0 3v1m0 2v1m0 1v15m0 15v1m0 4v1m0 10v1m0 3v2m0 2v1m0 3v5m1-170v2m0 1v1m0 2v5m0 1v5m0 1v27m0 40v2m1-93v3m0 16v1m0 2v18m0 2v19m0 5v1m0 50v1m0 3v1m0 40v5m0 4v5m1-176v18m0 1v2m0 1v1m0 1v28m0 1v1m0 2v2m0 35v2m0 2v1m0 1v2m0 7v1m0 41v1m0 2v1m0 2v1m0 2v2m1-158v3m0 1v2m0 4v1m0 2v8m0 3v1m0 4v20m0 18v1m0 2v2m0 2v2m0 1v1m0 2v1m0 1v3m0 2v1m0 10v1m0 26v3m0 1v2m0 1v1m0 6v1m0 6v1m1-150v3m0 4v2m0 1v3m0 1v2m0 27v1m0 1v1m0 6v2m1-48v19m0 2v3m0 12v4m0 3v1m0 2v2m0 39v3m0 1v4m1-101v3m0 3v40m0 6v2m0 1v1m0 1v1m0 7v23m0 2v1m0 71v6m0 2v1m1-171v6m0 11v30m0 1v7m0 17v1m0 2v3m0 3v2m0 61v3m0 1v2m0 18v5m0 1v1m1-175v3m0 3v18m0 1v2m0 1v18m0 3v1m0 1v7m0 6v1m0 3v26m0 5v1m0 28v13m0 20v2m0 1v1m0 1v1m0 1v8m1-173v1m0 1v11m0 1v1m0 1v1m0 4v9m0 10v1m0 8v2m0 39v1m1-77v7m0 8v13m0 9v2m0 1v1m0 1v2m0 17v1m0 12v2m0 69v1m0 2v3m1-153v37m0 2v7m0 3v29m0 8v2m0 16v2m0 4v1m0 2v1m0 2v1m0 1v1m0 1v2m0 2v1m0 1v7m0 1v27m1-159v16m0 11v1m0 46v2m1-78v2m0 16v13m1-31v8m0 2v1m0 1v2m0 3v4m0 1v4m0 1v1m0 12v2m0 1v1m0 1v10m0 16v3m0 79v1m1-154v3m0 1v3m0 1v23m0 89v1m0 14v1m0 1v2m0 1v1m0 1v8m0 2v1m1-161v2m0 1v1m0 4v3m0 2v26m0 6v2m0 3v1m0 2v5m0 1v1m0 16v2m0 1v4m0 2v1m0 12v1m0 3v5m0 4v1m0 1v1m0 1v17m0 1v1m0 21v6m0 3v5m1-161v27m0 1v1m0 8v2m0 7v3m0 19v8m0 13v5m0 1v1m0 51v2m0 1v3m1-153v2m0 16v13m1-31v27m0 2v2m0 6v2m0 29v3m0 1v1m0 1v1m0 1v2m0 30v3m0 25v1m0 10v3m0 1v6m0 1v1m1-171v3m0 10v38m0 10v6m0 10v1m0 2v11m0 22v1m0 7v38m0 2v2m0 1v1m0 3v5m1-170v11m0 15v1m0 3v3m0 1v1m0 1v22m0 9v1m0 6v2m0 9v2m0 13v1m0 61v8m1-151v2m0 3v3m1-30v3m0 10v2m0 1v2m0 2v1m0 1v21m0 24v5m0 1v3m0 1v3m0 8v3m0 3v1m1-98v1m0 1v2m0 20v3m0 1v5m0 1v2m0 3v1m0 128v1m1-166v3m0 11v7m0 2v1m0 1v1m0 3v14m0 8v2m0 2v2m0 26v2m0 2v1m0 1v2m0 7v3m1-87v2m0 1v3m0 3v1m0 2v2m0 1v10m0 12v7m0 20v2m0 8v2m0 8v3m0 67v5m1-176v3m0 3v1m0 1v56m0 6v31m0 70v5m1-176v3m0 13v8m0 9v13m0 8v3m0 1v1m0 2v3m0 6v1m0 7v2m0 1v5m0 1v4m0 1v3m0 1v1m0 2v2m0 20v1m0 1v3m0 1v14m0 30v5m1-161v1m0 8v11m0 1v6m0 10v2m0 26v1m0 2v8m0 77v8m1-172v2m0 11v7m0 2v1m0 4v12m0 1v1m0 48v1m0 69v4m0 4v1m0 2v1m1-163v1m0 2v2m0 10v1m0 4v1m0 1v3m0 1v2m0 1v1m0 41v2m0 1v5m0 2v1m0 47v9m0 21v5m1-161v2m0 25v4m0 6v1m0 1v7m0 1v2m0 6v4m0 1v9m0 1v4m0 3v1m0 4v1m0 64v7m0 1v2m0 1v3m1-173v3m0 2v1m0 4v21m0 3v15m0 8v1m0 1v8m0 13v3m0 1v4m0 2v1m0 7v3m0 19v8m0 1v8m0 10v7m0 1v10m0 3v5m1-176v3m0 3v11m0 2v1m0 1v25m0 6v1m0 52v1m0 7v1m0 48v1m0 3v2m0 3v5m1-161v1m0 1v8m0 1v3m0 1v3m0 1v1m0 1v1m0 1v4m0 28v1m0 1v3m0 1v1m0 2v5m0 3v1m0 5v1m0 4v2m1-100v1m0 1v1m0 1v1m0 1v11m0 8v3m0 3v15m0 6v2m0 8v1m0 7v13m0 8v3m0 10v1m0 2v2m0 1v2m0 1v2m0 8v7m0 1v1m0 1v3m0 1v1m0 12v3m0 2v21m1-176v1m0 17v1m0 2v1m0 2v2m0 1v1m0 4v1m0 9v4m0 8v7m0 22v2m0 1v3m0 1v3m0 48v4m0 1v2m0 1v1m0 9v1m1-157v1m0 11v2m0 7v10m0 1v4m0 44v5m0 2v3m0 23v1m0 1v1m0 4v16m0 12v1m0 6v1m1-142v7m0 9v13m0 45v2m1-91v1m0 13v1m0 7v1m0 2v1m0 1v1m0 2v1m0 1v1m0 1v10m0 78v3m0 1v13m0 30v3m0 1v1m1-159v1m0 1v5m0 2v1m0 5v1m0 2v1m0 16v2m0 10v6m0 21v2m0 32v2m1-94v3m0 1v5m0 3v1m0 95v9m1-150v3m0 1v2m0 4v1m0 3v28m0 1v1m0 17v9m0 8v1m0 4v11m0 11v5m0 1v4m0 13v6m0 1v3m0 12v13m0 1v4m1-116v1m0 18v1m0 1v1m0 1v1m0 2v4m0 2v7m0 13v12m0 2v2m0 1v1m0 1v5m0 30v1m0 3v5m0 7v1m1-142v1m0 1v1m0 1v2m0 1v8m0 2v2m0 2v1m0 1v1m0 1v1m0 24v8m1-91v3m0 3v1m0 1v9m0 14v1m0 22v3m0 1v1m0 1v1m0 3v1m0 2v4m0 2v3m0 2v15m0 3v1m0 4v3m0 24v1m0 3v1m0 17v12m0 6v1m0 2v5m1-141v1m0 3v1m0 1v1m0 13v1m0 2v1m0 24v1m0 1v1m0 1v1m0 3v1m0 36v2m0 1v7m0 3v4m0 1v4m0 1v3m0 1v1m0 1v14m1-156v2m0 9v1m0 1v1m0 3v1m0 22v1m0 21v1m0 1v2m0 1v1m0 10v1m0 22v3m0 2v1m0 1v5m0 13v2m0 2v2m0 1v1m0 1v1m0 4v2m0 3v1m0 2v1m0 2v1m0 4v5m2-93v1m0 1v4m0 15v11m0 8v1m0 2v1m0 14v9m0 25v1m1-137v1m0 1v1m0 12v7m0 3v1m0 2v3m0 13v1m0 1v5m0 3v2m0 33v1m0 1v6m0 1v1m0 9v1m0 2v12m0 9v5m1-176v2m0 15v18m0 1v2m0 1v5m0 20v6m0 16v1m0 2v2m0 2v1m0 21v26m0 21v9m0 1v4m1-170v11m0 7v18m0 1v2m0 12v1m0 1v5m0 6v14m0 2v15m0 22v45m0 3v5m1-173v5m0 1v1m0 2v5m0 6v6m0 1v3m0 1v7m0 20v1m0 8v9m0 1v3m0 3v2m0 2v7m0 2v2m0 8v2m0 1v1m0 3v4m0 1v29m0 18v8m1-151v6m0 1v2m0 3v1m1-2v1m1-36v3m0 13v10m0 1v12m0 1v1m0 7v1m0 14v3m0 2v1m0 1v2m0 2v1m0 2v2m0 2v1m0 3v1m0 3v1m0 2v2m0 1v2m0 3v1m0 1v1m0 17v1m0 1v18m0 21v6m1-144v11m0 3v4m0 22v1m0 1v1m0 1v2m0 21v2m0 8v1m0 60v5m1-163v1m0 13v1m0 1v1m0 1v2m0 18v10m0 9v3m0 6v4m0 1v8m0 10v2m0 1v2m0 1v2m0 3v11m0 13v22m0 12v9"/></g></g></g><rect x="264.6" y="170.1" width="353" height="352.9" fill="none" stroke="#151515" stroke-width="2"/>
</svg></body></html>
